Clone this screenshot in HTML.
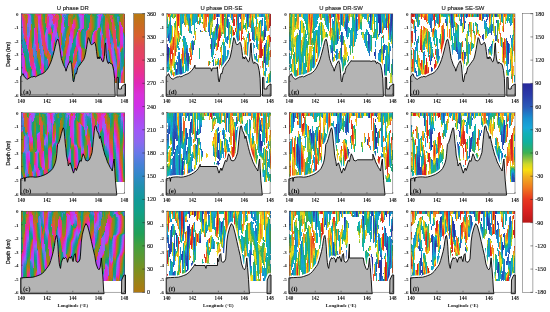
<!DOCTYPE html><html><head><meta charset="utf-8"><style>html,body{margin:0;padding:0;background:#fff;overflow:hidden}svg{display:block;filter:blur(0.4px)}</style></head><body><svg width="550" height="312" viewBox="0 0 550 312"><rect width="550" height="312" fill="#fff"/><g stroke-width="1" fill="none" shape-rendering="crispEdges" transform="translate(.5 0)"><path stroke="#d030e8" d="M21 14v1m0 37v5m1-35v1m0 27v1m0 4v5m0 6v3m1-15v2m0 10v3m0 4v2m1-3v1m1-1v1m2-36v1m0 4v6m1-31v1m0 23v1m1-6v1m4 35v1m1-44v3m0 33v1m0 7v3m1-32v1m3-29v3m0 2v2m1-7v1m0 1v1m0 6v1m1 5v1m1 29v1m0 11v1m1-10v1m1-1v1m2-25v1m1 0v3m2-30v1m1 10v1m1 0v1m1 14v1m1-7v13m1-11v3m1-25v1m0 9v1m0 12v1m1-10v3m1-1v1m4 20v2m1-25v3m0 20v8m1-39v1m4 33v1m1-5v2m1-7v1m0 14v1m2-28v2m1-1v2m1-12v1m5 7v1m2 13v1m1-18v1m0 16v1m2-30v1m0 9v1m1-13v1m0 2v4m10 11v1m0 8v2m2-15v1m2-2v1m2-15v2m0 9v1m1-11v4m0 12v1m1-19v1m0 45v1m1-4v1m7-22v1m2 12v1m1 8v1m1 6v1m1 8v1m1-2v1m1-34v1m0 30v2m1-25v1m2 8v1m2-23v5m0 33v1m1-46v2m0 2v10m0 29v1"/><path stroke="#ab4df3" d="M21 15v1m0 43v1m1-36v1m0 45v1m2 3v1m1-2v1m1-1v1m2-55v1m0 19v1m1-25v1m0 1v1m0 17v1m0 23v1m3 11v1m1 3v1m1-41v2m1 30v1m3-45v1m1 3v1m1 4v1m1 27v1m4-24v2m1-6v5m3-22v1m1-2v2m0 1v1m1-4v2m0 1v1m0 23v1m1-27v1m0 4v1m0 27v1m1-26v1m0 8v1m1-6v7m1-1v1m1-3v1m6-19v1m0 11v2m1-11v1m0 3v4m3 32v2m1-4v3m1-9v11m1-19v1m1-4v3m1-1v2m5 2v1m3-31v1m0 33v1m1-34v1m0 32v2m0 5v2m1-42v1m0 3v2m0 6v2m4 16v1m0 2v1m13-34v1m0 10v1m3 10v1m0 20v1m1 2v1m5-18v1m2-10v1m3 19v1m1 8v1m1 6v2m1-3v2m1-3v1m2-22v1m1 5v1m2 17v1"/><path stroke="#9363f3" d="M21 16v2m0 42v1m1-35v1m0 21v1m3 25v1m1 1v4m1-56v1m1-4v1m0 15v1m1-15v4m0 5v2m0 26v1m1-45v2m0 10v1m2 43v1m1 4v1m1-39v3m0 21v1m5-36v1m1 4v1m1 25v1m1 1v1m3-27v1m1-6v1m2-16v1m1 1v2m1 0v5m0 1v1m1-4v1m0 21v1m1-23v1m1 8v1m2 3v1m1-2v1m6-19v1m0 17v1m0 17v1m0 2v1m1-27v1m1-3v1m1 11v1m0 22v2m0 4v2m1-7v5m3-31v1m0 9v9m1-12v3m1-3v1m3 23v1m2-32v5m0 20v1m1 6v1m2-41v1m0 20v3m1-37v1m0 2v2m0 37v1m5-20v3m7-6v1m1-5v1m5-17v1m0 1v1m1-5v1m2 19v2m0 13v1m0 6v1m6-12v1m2-14v2m3 17v2m1 5v4m1 4v3m1-40v1m0 37v2m1-2v1m1-21v1m2 1v2m1 30v1m2-12v1m2-17v1"/><path stroke="#6878e8" d="M21 18v2m0 42v1m1-34v2m3 45v1m2-52v2m0 8v1m1-12v3m0 6v2m2-20v1m2 58v1m2-30v2m1-1v1m0 19v1m3-40v1m1 2v1m1 4v3m1 5v10m0 4v1m1-11v1m0 7v4m1-6v9m2-29v1m2-2v13m4-21v1m0 21v2m1 3v1m4-16v2m1-2v5m5-6v1m1-5v1m1-16v1m0 2v1m0 8v1m1 31v1m5-13v1m1-3v1m4 19v1m1-31v1m0 26v2m0 9v1m1-8v1m1-39v1m0 20v1m1 5v3m5-45v1m1 22v1m6 7v1m1-11v1m5-9v2m1-15v1m3 14v2m0 24v1m4-13v1m1-5v2m0 10v7m1-10v5m0 4v6m1-1v3m1-35v1m2 16v1m1-3v4m1-5v1m1 11v5m1 1v2m1 2v1m8-14v1"/><path stroke="#537ddd" d="M21 20v1m0 42v1m1-33v2m1 2v3m2 39v1m2-51v8m1-8v6m0 19v1m1 8v1m3-14v1m0 26v2m1-31v8m1-7v10m0 5v1m1-16v2m3-21v3m1 0v3m1 4v11m0 4v1m1-1v4m1-11v1m1 5v1m3-24v1m2 20v1m1 1v1m1 0v1m1-6v3m1-27v1m1 3v2m2 7v1m1 0v3m1-6v1m4 12v1m2-17v1m1-19v1m1 23v1m4-3v1m1 12v1m3 3v1m0 27v1m2-15v1m1-3v2m0 6v1m1-8v1m1-16v4m1-38v1m0 10v1m0 30v1m1 0v1m5-25v1m6 6v2m6-26v8m3-13v1m0 6v1m0 13v1m1-8v1m0 21v1m0 3v1m4-13v1m1-5v1m1 14v4m1 2v3m3-18v3m1-5v3m1-2v1m1 10v2m1 3v3m1 3v1m1-49v1m2 29v1m1 4v1m0 26v1m1-10v1m1-2v1m1-34v8m1 7v2"/><path stroke="#4083d3" d="M21 21v8m0 35v1m1-32v3m1 2v3m1 35v1m1 1v1m5-13v1m1-44v1m1 53v1m1-34v2m0 8v1m1 2v5m1-13v10m0 5v2m1-12v2m2-25v3m1 0v14m1 1v4m0 17v1m3-20v1m2-20v1m2 27v1m4-36v1m0 25v2m1-28v1m1-1v3m2 10v1m1 2v2m1-9v1m1 3v1m4-3v1m0 13v1m1-36v1m0 17v1m1-16v1m0 10v2m1-16v1m6 31v1m3 21v1m1-2v2m0 1v4m1-8v6m1-9v2m1-11v5m1-42v2m0 40v1m6-26v1m12-18v1m3 3v1m0 13v1m1-21v1m0 34v3m1-40v3m0 16v1m3 7v1m3 12v5m1 3v2m2-24v4m1-3v1m2 10v2m1-26v1m0 29v1m1 5v1m1-47v2m0 26v1m1-30v1m0 1v1m1 26v1m0 35v1m1-27v7m0 15v1m3-44v1m0 8v4m1-3v6"/><path stroke="#3088c8" d="M21 29v3m0 33v1m1-30v3m0 34v1m1-33v3m6 18v1m1-49v1m1 7v1m2 20v1m2 15v5m1-12v2m0 2v4m2-26v6m2 31v1m6-44v1m0 32v6m1-6v1m3-11v2m1-27v1m0 26v1m1-28v1m0 25v1m3-14v2m2-8v1m4 11v1m0 1v1m1 8v1m1-41v1m0 17v1m1-4v2m0 8v2m1-3v1m1-26v2m4 33v1m4 19v1m0 6v2m1-9v1m1-36v1m1 26v2m1-50v2m0 44v2m1-42v3m0 38v1m1-1v1m5-28v1m1-5v1m5 11v1m6-27v1m3 6v1m0 13v1m0 19v1m1-41v1m0 9v1m1-11v1m3 22v1m3 12v1m1 7v1m1-26v6m1-4v2m1 0v1m2 10v1m1-26v2m0 29v1m1 5v1m1-44v1m1-3v1m0 1v4m0 22v1m1-2v1m1 7v3m0 7v4m0 10v1m1-9v1m1-2v1m1-35v1m0 13v2m1-12v7"/><path stroke="#258db8" d="M21 32v3m0 31v1m1-28v3m1 2v3m1-6v8m1-5v4m3 5v1m3-37v3m0 1v1m0 50v5m2-35v1m0 12v1m3 4v5m2-25v1m2 31v1m4-15v5m1-2v4m1-5v1m0 6v4m1-9v2m1-24v10m1 0v2m1-5v4m1 3v1m1-28v1m0 25v1m1-3v1m2-11v2m6 3v1m1-10v1m0 11v1m1-15v3m1-23v1m0 1v1m0 2v2m0 11v8m0 2v1m1-28v2m0 19v1m0 21v1m1-46v1m5 33v1m2 31v1m1-10v6m1-38v5m2 15v3m1 0v1m1-40v1m4 7v1m1 0v13m1-12v1m1-20v1m5 26v1m1-8v1m4-6v1m1-16v1m0 2v1m3 20v4m0 1v5m0 8v1m1-39v1m0 7v1m1 5v1m6 19v1m1-24v1m1 4v2m1 1v1m1 1v1m3 16v1m1-19v1m0 23v1m1-47v1m0 4v1m1 2v1m1 56v1m1-15v2m0 7v1m1-10v2m1-2v1m1-18v1m1-14v1"/><path stroke="#1b93a8" d="M21 35v9m0 23v2m1-27v3m1 2v3m1-1v2m0 26v1m1-35v1m0 4v3m1-5v5m1-2v1m2 13v1m2-49v2m0 3v1m0 50v1m0 5v1m1-31v1m1-7v1m3 23v3m1-8v1m1-20v1m2 31v3m4-19v1m0 5v2m1-34v1m0 28v1m0 4v2m1-8v1m1 4v6m1-33v3m1 4v6m1-6v3m1-20v1m1 0v2m0 24v1m1-3v3m2-12v4m7-9v2m1-2v5m1 1v1m1-27v3m0 15v1m1-20v2m1-4v1m2 19v1m1 15v1m1-3v1m4-12v1m0 5v1m2 11v3m1-43v1m0 46v1m1-40v4m0 34v1m4-33v1m0 1v5m1-7v2m0 13v2m1-16v2m2-4v1m9-3v2m4 13v1m0 5v8m1-37v2m0 1v1m0 2v1m1-8v1m0 2v3m0 7v1m1-17v1m5 35v1m1 8v1m1-28v1m0 8v1m1-7v1m3 13v1m4-35v1m1 27v1m0 35v1m1-12v2m0 3v2m1-14v5m1-3v3m1-34v1m0 17v2"/><path stroke="#a058f8" d="M21 44v1m1-20v1m0 45v1m4 2v2m1-40v1m1-17v1m0 17v1m1-21v5m0 11v1m4 41v1m1-40v2m4-15v1m1 23v1m1 5v1m1-15v1m1 21v1m1 0v1m2-28v1m1-6v2m1 14v1m0 11v1m2-46v1m0 9v1m2-6v3m0 21v1m1-26v1m0 31v1m1-19v1m3 0v1m5 16v1m1-23v6m0 19v2m1-30v4m3 30v4m1-5v9m2-29v3m0 1v5m1-6v3m1-2v2m2 10v1m2 10v1m1-24v2m1-12v1m1 15v1m1-34v1m0 33v1m1-22v1m0 28v1m1-42v3m0 2v6m4 15v3m3-17v1m4 8v8m6-26v7m2 7v1m1 2v1m0 20v1m8-24v1m2 13v1m1 4v2m1 7v2m1 5v2m1-2v1m1-31v1m0 28v1m3-18v3m1 28v1m2-56v1m2 27v1"/><path stroke="#db2dcd" d="M21 45v1m0 4v1m1-31v1m2 39v11m1 0v1m3-58v2m0 27v1m2 21v1m3 2v2m1-2v2m5-50v4m1-9v4m0 10v2m1 7v1m0 24v1m0 6v1m1-4v4m1-6v1m2-25v1m1 3v1m1-18v1m1-6v4m0 3v2m0 34v1m1-39v3m4-17v1m0 27v1m2-20v3m1 3v2m2 10v1m2 8v1m1-26v2m1-10v1m6 27v1m0 18v1m2-33v1m1-2v2m1-6v1m0 4v3m0 7v1m1-19v5m1-1v1m0 38v1m3-33v5m0 7v1m1-4v2m1 0v1m2-33v1m26 27v1m2-6v1m2 13v3m3 22v1m1-2v1m1-35v1m0 32v1m2-23v1m1 5v1m1-37v4m0 7v11m1-16v3m0 13v1m0 29v1m1-31v1m2 12v1"/><path stroke="#e028b8" d="M21 46v1m0 2v1m1-31v1m1 11v2m1 26v1m2-18v2m1-30v1m0 59v6m1-36v1m1 12v1m3 10v2m1-5v3m2-33v9m0 25v1m0 5v3m3-63v1m1-1v1m1 3v1m0 5v4m1 8v1m0 26v1m0 4v1m1 1v4m1-9v1m3-21v1m1-30v1m0 5v5m0 21v1m1-34v1m0 5v1m0 9v1m0 32v1m1-35v1m1-5v1m1 12v1m1-8v1m1 9v2m1-5v1m1-19v1m1 3v3m4 18v1m1-24v1m0 7v1m5 20v1m1-5v1m1-25v1m0 37v1m2-33v1m1-2v1m1-3v4m1-10v2m0 5v1m0 27v1m1-32v2m2 18v1m1 1v1m1-7v2m5-30v1m0 13v1m11 3v1m8 22v1m5-16v2m1-13v2m1 7v3m2 13v2m1 4v1m1 5v1m1 10v1m1-2v1m1-2v1m2-23v3m1 3v1m1-34v7m0 11v2m1-1v1m1-1v1m0 26v1"/><path stroke="#e52d9d" d="M21 47v2m1-32v2m1 8v4m2 39v1m1-31v2m0 29v1m1 1v1m1-24v1m1-14v1m0 18v1m1 6v2m2 1v2m1-5v2m2-35v5m0 35v5m1-42v15m4-34v1m0 5v5m1 9v3m0 28v4m2-2v1m2-26v1m1 4v1m1-32v1m0 1v2m0 1v2m1-5v4m0 42v1m2-37v4m2-12v1m1 24v1m1-23v1m1-10v1m0 4v3m1 1v3m3 16v5m1-2v2m1-24v1m6 24v1m1-5v1m2-15v1m1-2v1m2 0v1m1-7v2m2 21v1m0 13v1m2-22v2m1 3v1m1-15v1m1 17v3m5-4v1m8-16v3m1-5v1m4-5v1m1 3v1m1 8v1m6-5v4m1-15v4m0 2v16m1-6v4m2-25v2m0 34v1m3 21v1m1-2v1m1-36v1m0 33v1m1-28v1m1 6v3m2-13v1m1-1v1m0 28v1"/><path stroke="#d530dd" d="M21 51v1m1-31v1m1 31v1m0 15v4m1-2v1m3-49v1m0 14v4m1-26v1m0 25v1m1 15v1m3 11v1m1-1v2m1-6v2m0 2v3m1-5v1m3-50v2m1-2v1m0 4v1m2 37v1m0 8v2m1-8v2m4-40v1m0 16v1m2-18v3m0 37v1m1-42v2m1 26v1m1-41v1m1 0v1m0 18v1m1 5v2m1-28v1m0 9v1m0 14v1m1-14v3m3 10v2m2 10v1m1-25v2m1-11v3m4 33v1m1-5v1m1 11v1m2-30v1m1-1v2m1-11v1m0 1v1m0 8v7m1 14v1m2 7v1m1-20v1m1-12v1m0 5v7m1-1v1m2-33v1m1 14v1m1-15v1m1-1v1m0 1v2m0 4v5m10 7v8m1-12v1m6-17v1m1 23v1m0 8v1m1 7v1m5-14v1m4 6v1m1 8v1m2 15v1m1-2v1m1-2v1m2-24v2m3-26v2m0 3v4m0 5v4m1-14v2m0 10v2"/><path stroke="#bb40ed" d="M21 57v2m1-36v1m0 25v1m0 1v4m0 5v6m0 3v1m1-37v1m0 22v10m0 9v1m1-3v1m2-2v1m1-25v1m1-31v1m0 21v1m0 10v1m1-36v1m1 12v1m3 43v2m1-47v1m0 3v3m0 29v1m0 11v2m5-61v1m0 8v1m1 42v1m1-31v1m0 34v1m1-12v1m3-25v1m1-2v3m1-12v1m0 18v1m2-34v1m1-2v1m0 2v1m1-1v1m1-1v1m0 30v1m1-15v3m1-11v2m0 7v3m1-6v2m6 17v1m1-30v4m1-8v3m3 35v1m1-4v2m1-8v2m0 11v1m2-25v2m1-1v3m2 15v1m5-9v1m2-19v1m0 20v5m2-39v2m0 1v9m3 18v2m8-15v1m5-7v1m1-11v9m2-11v1m0 22v1m0 20v1m1-26v1m0 23v3m10-5v2m2 15v1m1-2v1m1-3v1m2-22v1m1 5v2m2-32v1m3 30v1"/><path stroke="#806ded" d="M21 61v1m1-35v2m0 43v1m1-39v1m1 40v1m1-1v1m3-54v2m0 11v2m1-23v1m0 12v5m1-14v10m2 45v1m2-32v3m1 0v1m3-21v2m1 2v1m1 4v1m1 6v2m0 15v1m1-11v7m0 4v2m1 1v1m2-29v1m2-5v2m0 13v2m2-28v5m1 0v1m1-2v1m0 21v1m1-23v1m1 6v1m2 5v1m1-2v1m5 13v1m1-35v1m0 35v1m1-38v1m0 15v1m2-17v1m0 46v1m0 2v4m1 0v3m1-4v1m3-21v1m1-3v1m2 36v1m4-15v1m1-20v1m1-34v1m0 36v3m1-39v2m0 2v7m0 31v1m5-22v1m11-9v1m1-16v1m1 1v1m2 2v1m0 13v1m1-4v3m5 7v10m1-5v2m2-17v1m3 17v2m1-6v13m1 3v5m1-2v3m3-20v1m1 0v1m1 31v1m1-10v1"/><path stroke="#109a98" d="M21 69v1m1-25v3m1 2v1m1-11v1m0 10v2m1-2v3m1-9v1m0 5v5m1-6v5m1-1v2m1 8v1m2 5v1m5-3v1m1-10v1m0 1v6m7-11v1m1 2v1m0 7v2m3-33v1m1 5v2m1-2v2m1 11v1m1-26v1m0 24v1m10-16v3m0 4v2m1-6v2m2-24v4m0 7v4m1-17v3m1-8v1m0 2v1m3 34v1m1-3v1m1-6v5m1 2v1m1-12v4m1 0v1m2 8v2m1-39v1m0 46v1m2-3v1m2-33v4m1-5v1m0 7v6m4-29v1m0 1v1m1-1v1m0 10v1m3 12v1m3-11v1m2-13v9m3 16v8m1-27v1m1-4v1m0 1v2m1-6v2m0 3v7m3 8v1m4 19v1m6-5v1m1 5v1m1-48v1m0 30v1m1 36v1m1-40v1m1 27v3m1-16v4m1-1v3m1-11v2m1-19v1"/><path stroke="#13a080" d="M21 70v1m3-17v1m1 1v1m1 2v4m1-1v6m1-10v5m1 3v1m2-53v1m1 2v1m0 1v1m0 25v1m4 5v1m1 17v1m1-4v4m1-1v7m4-26v1m1 4v1m1-26v1m0 40v1m3-37v1m1 2v2m1 0v1m2-10v1m2 18v1m9-4v2m1-27v1m0 42v3m2-43v2m1-7v2m3 32v1m1-2v3m1 0v6m1-21v4m0 34v1m1-41v1m0 7v1m2-14v1m1-21v1m0 16v1m1-13v1m2 44v1m2-27v4m1 3v1m2-32v2m1 0v1m1 1v1m0 9v1m1-14v1m0 3v5m1-8v5m2 18v1m4-12v1m1-13v1m2 25v6m1-13v2m0 16v2m10 3v1m2-24v1m4-21v1m1 0v1m0 18v2m0 23v1m1-46v1m0 6v1m1 22v1m0 30v2m1-60v2m0 58v1m2-25v1m1-3v5m1 1v6"/><path stroke="#18a070" d="M21 71v1m4-15v1m1 5v3m1 2v2m1-7v5m1-1v1m1-1v1m2-53v2m0 3v3m0 20v2m1-6v1m4 30v2m1-30v1m0 21v2m0 4v3m1-5v1m5-3v1m1 5v1m4-36v1m1 0v2m1 16v1m3-8v1m3-18v1m6 16v1m1 13v2m1-8v1m1-31v2m1-7v3m1-11v1m2 40v2m1-1v3m2-19v1m1-26v1m0 22v1m1-3v1m2-22v1m0 36v1m1-33v1m0 44v1m1-2v1m3-23v3m1 1v1m1-32v2m2 0v1m0 11v1m1-11v1m0 1v7m2-13v1m0 5v1m2 16v1m1-6v1m3-16v2m0 2v6m3 9v5m0 6v1m1-16v2m0 20v1m1-31v1m3-9v1m1-2v2m1-4v1m8 54v2m1-57v1m0 34v1m1-33v1m0 36v1m1-23v3m1 9v1m1-20v1m0 48v2m1-60v1m0 25v1m0 34v1m2-25v1m1-4v2m1 12v1"/><path stroke="#1da060" d="M21 72v1m1 1v1m3-17v1m1 7v2m1 2v1m1-3v1m1-1v1m2 0v1m1-56v1m0 8v1m0 17v2m1-5v1m1-12v1m3 44v1m1 0v4m1-10v1m4-54v1m1-1v4m0 49v1m1-40v2m0 27v1m4-22v1m1 0v1m4 10v1m10-3v1m0 14v2m2-34v1m1-5v2m3 30v3m1-1v3m1 0v1m2-47v1m0 31v1m3-33v1m1 4v2m1 42v1m2-35v9m1-11v1m0 15v1m1 1v1m1-31v2m0 9v1m1-13v1m0 12v1m1-11v4m1-3v1m4 16v1m2-24v1m0 16v1m1-3v1m1-13v1m0 2v2m3 11v4m0 12v1m1-18v1m0 23v2m4-40v4m1-4v3m1 17v1m4 18v1m1-27v1m6-15v1m0 9v5m0 27v1m1-37v3m0 16v2m1-29v1m0 28v1m0 27v2m1-54v1m0 54v2m2-25v1m2 12v1"/><path stroke="#2ba050" d="M21 73v1m3-35v1m0 15v1m1 3v1m1 8v1m1 2v1m1-3v2m1-2v1m1-2v8m2-52v3m0 10v4m1-26v1m0 1v8m0 10v3m0 18v1m3 13v1m1-13v1m0 14v1m1-11v1m1 2v1m4-52v1m1 2v4m0 8v3m1-9v4m4 7v1m1 0v1m1 20v1m3-11v1m5-34v1m4 35v1m1-28v1m0 35v2m1-5v1m1-27v1m1-4v1m3 32v2m1 0v2m1-21v1m1 34v1m2-33v1m1-14v1m1-17v2m0 11v1m1-8v2m1 41v1m2-27v3m1 3v1m2-28v7m0 1v1m1-11v3m1-2v1m0 4v6m4-15v1m1 21v1m1-23v1m1 0v1m1-1v1m0 12v1m1-14v2m3 15v1m0 17v1m1-20v1m0 26v1m1-33v1m3-5v4m1-5v2m5 33v1m2-23v1m2 33v1m1-54v2m1 1v2m0 1v1m1-4v9m1-1v8m0 3v5m1-16v1m0 44v1m1 1v2m2-24v1m1-3v1"/><path stroke="#40a040" d="M21 74v1m4-15v1m4 9v1m1 5v1m2-50v10m1-23v1m0 1v1m0 8v10m1-10v2m3 47v2m6-60v1m0 3v1m1 1v8m0 3v1m0 34v1m2-12v1m2-24v1m2 0v1m1 22v1m3-13v1m4-11v1m1-21v1m3 40v1m2 0v1m2-28v1m1-4v1m2 27v7m2 1v1m2-49v2m0 21v1m1-3v1m1-3v1m1-22v1m0 17v1m1-14v1m1 5v4m0 37v1m3-24v4m1 0v1m2-22v1m0 21v1m1-29v6m0 1v2m3-15v1m3 20v1m1-4v1m2-19v1m0 1v12m1-14v1m3 16v1m1-2v1m4-17v1m0 11v4m0 4v2m1-13v2m0 15v4m1-7v1m3 12v1m1 4v1m1-42v1m2-1v1m2 2v1m1 2v1m0 1v3m0 28v1m2-20v3m1-10v4m0 11v2m0 26v1m1 1v1m5-38v1"/><path stroke="#69952b" d="M21 75v1m2-24v1m2 9v1m3 9v1m1-1v1m1 5v1m4-65v1m0 8v1m4 37v1m1 2v1m3-50v1m1 9v3m1 6v1m0 36v3m1-51v1m0 32v1m4-23v1m2 26v1m7-41v1m0 13v1m1-15v1m1-3v3m4 3v1m2 7v1m1-5v1m1-4v1m4-10v3m1 56v1m1-63v1m0 21v1m0 12v1m1-36v1m0 18v1m1-19v2m0 12v2m1-10v2m0 5v1m0 22v1m1 15v1m3-5v1m1-16v1m1 0v1m1-1v1m1 0v3m4-39v1m1 22v6m1-11v2m1-18v1m0 14v1m1-15v3m0 9v1m4 1v2m0 12v2m1-18v1m1-2v1m1-2v1m4-2v4m0 5v3m0 6v1m1-9v1m4 17v1m1 7v3m1-32v1m1-16v1m1-5v1m1 6v1m0 26v1m1 3v1m1 4v1m1 15v3m1-39v2m0 30v1m1-29v1m0 27v2m1-56v1m3 16v1m0 33v1m1 14v2"/><path stroke="#8f881b" d="M21 76v1m3-21v1m1-16v1m0 22v1m3 8v1m1 1v1m2-45v4m0 6v1m3-21v1m4 21v1m0 13v3m1-2v4m3-40v2m4-8v1m4 17v1m7-6v1m1-5v9m1-8v4m1-4v3m1-13v1m0 18v8m1 16v1m1-6v12m1-17v1m0 4v2m2-22v1m1-4v1m1-17v1m0 11v1m3-11v2m1-3v1m0 5v1m1 50v2m1-46v1m0 4v1m1-20v1m0 12v1m1-11v2m0 7v1m0 29v1m4-25v1m0 7v2m2 6v1m1 0v2m1 0v4m6-24v2m1-18v1m1 0v3m5 10v1m0 18v1m1-22v1m0 24v3m6-42v1m1 19v1m1-21v1m2-1v1m1 3v4m0 1v1m1-1v6m0 14v1m0 15v1m1-36v2m0 4v2m0 31v1m1-28v1m2-15v1m1 28v1m1 3v2m1 13v2m1-4v1m1-2v1m1-54v1m0 2v1m0 2v2m1-6v1m0 32v1m1-33v1m2 16v1m0 42v2"/><path stroke="#e34460" d="M22 14v1m1 2v3m1 0v9m0 7v1m1-7v5m0 2v3m1-5v1m2 11v2m0 29v1m1-41v1m0 14v1m1-24v1m0 26v3m1-2v3m1-5v3m4-44v1m0 12v1m1-14v2m0 18v1m0 13v2m2-37v1m2 7v3m1 4v6m1 0v12m0 24v1m2-50v1m0 22v5m1 3v1m1-39v1m0 42v1m1 1v1m5-46v1m0 4v3m0 24v1m3-30v1m1-4v1m0 1v2m1-1v1m1 17v1m1-4v1m1-20v1m5 36v1m1-6v1m1-25v1m0 20v1m3-17v1m2 6v1m0 25v1m1-41v1m0 31v3m0 10v1m1-42v3m0 21v1m0 5v1m4-25v1m0 10v2m7-8v7m3-17v1m0 2v1m6 5v3m1-6v1m5 10v1m0 3v1m1-12v1m0 10v5m1-11v15m3-29v3m0 8v1m1-14v2m2 23v1m1-33v1m0 26v1m0 7v1m1 5v1m1-40v1m0 6v2m0 34v1m1-35v6m0 2v7m1-10v13m1-14v13m0 34v1m1-35v1m1 8v8m1 2v1m1-41v1m0 1v2m1 21v1m1 28v3m1-6v1m2-57v3m0 1v1"/><path stroke="#dd504b" d="M22 15v1m1-2v1m1 4v1m0 17v1m0 19v1m1-31v3m0 38v1m1-35v1m1-17v1m0 2v2m0 49v1m1 4v1m1-39v1m0 10v3m1 0v4m1-3v4m1-8v6m1 2v1m2-33v1m1 0v1m1 6v1m0 16v1m3 4v1m0 11v1m1-48v1m1 5v2m1 2v4m0 12v1m0 24v2m1-37v13m1-29v1m0 28v3m1 1v1m1-5v1m1 0v1m0 6v2m2-27v1m1-4v4m2 14v2m1-34v1m2-1v2m1-2v1m1-1v2m1 17v1m1-4v1m0 15v1m6-1v3m1-7v2m1-26v2m2 6v1m2 46v1m1-41v2m0 24v3m1-13v1m0 3v2m0 7v1m1-44v3m1 29v1m3-15v2m1 5v1m2 14v1m5-32v1m2-7v1m0 4v1m1-7v6m5 8v4m6 2v3m1-10v2m0 2v6m1-7v1m0 15v8m1-14v6m2-33v4m1-4v2m1-1v1m0 25v1m1 0v1m1-35v1m0 1v1m0 34v1m1-39v2m0 1v1m1-3v1m0 11v2m1-6v4m1 1v4m0 13v1m1-2v2m0 33v1m1-35v1m0 32v1m1-18v3m1 0v1m1-43v1m0 4v1m0 32v1m2 19v2m1-7v7m2-59v2m0 33v1"/><path stroke="#e83c70" d="M22 16v1m1 3v1m1 8v7m1-1v2m0 32v1m1-34v2m2 8v1m0 2v1m0 29v1m1-26v2m1 4v2m1-1v3m0 3v1m1-9v3m1-3v2m2-34v1m1-14v1m0 14v1m0 20v1m1-15v2m0 8v3m4-24v4m1 6v10m1 24v2m2-28v2m1-19v1m0 23v3m1-39v1m1 18v1m0 27v2m2-31v1m1 6v1m2-24v1m0 1v2m0 3v1m0 22v1m1-30v1m0 2v2m1-4v1m1-4v1m1 3v2m0 4v2m2 10v2m1-5v5m7 8v1m1-25v1m2 5v1m3-10v1m0 11v2m0 25v1m1-39v1m0 44v1m1-18v1m0 3v1m0 9v1m1-13v2m2-23v6m1 7v1m2 10v8m5-30v3m0 7v5m2-18v1m1-4v2m6 5v1m6 7v1m1 9v3m4-25v8m1-11v2m1 20v1m1-1v1m1-4v1m0 3v3m1-35v1m0 1v1m1 3v3m1 8v2m2-5v1m1 12v1m0 33v1m1-28v3m1 9v1m1-39v1m1 22v1m1-2v1m0 29v1m1-4v1m2-53v1"/><path stroke="#d86030" d="M23 15v2m1 1v1m1-5v1m0 7v5m0 13v1m0 26v1m1-54v1m0 18v1m1-15v2m1 55v1m1-37v2m0 5v3m1-3v6m1-8v9m0 14v1m4-55v1m0 10v1m1-1v2m0 50v1m1-61v1m0 1v1m0 13v1m0 18v1m1-7v1m1 2v1m2-32v3m1 5v1m1 3v1m0 17v1m1-13v1m0 13v2m1-32v1m0 32v1m1-30v2m0 29v1m2 0v2m1-25v1m0 20v3m1-2v1m1-22v1m0 3v1m2 11v1m1-9v1m1-26v1m2-4v1m1 0v1m0 3v1m1 14v1m1-4v1m1-17v1m0 6v1m5 20v5m1-8v4m1-2v1m2-17v2m1-2v1m1 45v3m1-38v1m0 26v3m1-10v2m0 2v3m1-44v1m0 34v1m0 6v1m1-9v1m3-18v2m3 20v2m5-30v12m1-13v1m2-12v4m0 6v1m5 11v5m1-14v1m4-3v1m2 7v2m1-2v1m1 8v2m0 6v1m1-36v8m1-7v1m1-1v1m3-7v1m0 38v1m1 4v1m1-30v1m1-11v4m1 3v2m1 18v1m1-1v2m0 31v1m1-16v1m2-44v1m0 6v2m1 19v1m3-37v5m0 49v14m1-66v1m0 9v1"/><path stroke="#e83485" d="M23 21v6m1 31v1m2-21v2m0 4v1m2 0v1m2 16v1m1 1v3m1-18v1m0 12v4m1-5v2m2-35v2m1 0v3m0 15v2m1-36v1m0 23v8m1-32v1m2 40v1m1-27v5m2 34v1m3-21v2m1-30v1m1-4v1m0 45v1m1-32v1m0 20v1m3-40v1m0 4v1m1-3v1m1 0v2m0 2v1m0 18v1m2-23v4m1-2v4m2 14v3m1-3v6m0 4v1m6 2v1m2-29v1m3 3v1m2-8v1m0 9v1m0 26v1m1-37v2m1 26v3m1-5v3m1-2v1m1-14v4m1 4v1m2 7v2m1-40v1m4 16v1m0 15v1m8-12v7m1-11v1m6 14v1m1 6v1m5-27v8m1-12v1m0 22v1m1-3v3m1-2v3m1 8v1m1-38v3m0 38v1m3-32v1m0 47v1m1-36v1m0 33v1m1-28v1m1 8v4m1-3v1m1-14v1m1 28v1m1-31v1m0 26v1m2-16v1"/><path stroke="#109e8d" d="M23 51v1m1 1v1m1-12v1m0 11v2m1 0v3m1-4v7m1-6v2m1 7v1m3-48v1m0 27v1m1-7v1m3 28v1m1-3v2m7-4v1m1-8v1m0 10v2m1-13v1m3-19v2m1-1v1m2 14v2m6-21v1m4 5v4m1-2v2m1-2v1m1-21v7m0 26v1m1-37v3m1-9v1m0 1v2m3 33v1m1-3v2m1-9v1m0 5v6m1-11v7m1-12v1m0 4v2m1-10v1m2 15v1m1-36v1m1 44v1m1-1v1m2-30v4m1 5v2m1-16v1m0 17v1m1-18v1m1-16v1m1-1v1m0 1v1m1-1v2m0 5v3m7 2v1m1-16v2m0 1v1m3 19v6m0 8v2m4-37v1m7 15v1m2 5v1m3-25v1m0 1v1m1-3v2m0 21v1m2-24v1m0 63v4m1-65v1m0 61v1m2-25v3m1-1v4m1-6v3"/><path stroke="#b07810" d="M24 14v1m0 23v1m1-23v2m1 1v6m2 49v1m1 2v1m5-60v2m1-4v2m1 55v1m1-46v2m0 1v1m0 23v1m1-4v2m1-3v4m1 4v2m0 3v2m3-37v1m0 19v1m1 3v1m1-39v2m0 38v1m1-42v1m0 41v1m1-4v2m3 3v6m9-32v1m1-4v1m1-11v1m1 41v2m3-21v5m0 4v2m1-16v1m1-5v2m1-18v1m0 12v3m1-19v2m0 2v1m0 14v1m1-15v3m1 0v2m1 39v1m1-26v1m0 31v1m1-21v1m1-34v1m0 40v2m1-38v5m0 28v1m4-24v1m0 12v1m1 16v1m1-12v1m1 3v3m6-27v2m2-19v1m1 8v5m4 11v5m0 3v3m1 2v2m8-23v1m1-15v1m1-4v1m0 1v2m1-1v5m1-8v1m0 1v1m0 35v1m1 4v1m1-36v1m0 38v1m1-45v1m0 16v1m2-11v1m1 25v1m0 31v1m1-30v1m0 28v1m1-15v1m1-2v1m1-4v2m2-47v5m1-5v7m1 3v2m1 1v2m0 28v10"/><path stroke="#c3711b" d="M24 15v1m1 2v1m0 47v1m1-42v6m3 47v1m1-47v10m1 1v1m2 13v1m2-43v1m0 2v5m1-7v2m0 1v2m0 53v1m1-54v1m0 2v4m0 4v1m0 21v1m1-11v1m0 5v2m1-2v1m1 7v1m0 7v1m1-51v1m1 8v1m2 9v1m1-19v2m1-4v1m0 2v3m1 31v1m0 2v2m3-1v2m1-22v1m5-23v1m4 15v1m1-11v2m0 11v1m4 13v4m1-13v2m1-5v2m1-19v1m0 14v4m1-21v2m0 1v4m0 9v1m1-16v1m0 4v2m1-10v1m0 9v1m1 39v3m1 2v1m2-52v1m0 8v1m0 29v1m0 2v2m4-30v1m3 19v4m1 2v2m5-28v7m2-24v2m0 1v1m0 11v1m1-14v1m0 1v3m0 7v1m5 4v5m0 11v1m1 3v6m7-14v1m1-31v2m0 12v1m2-13v1m1 3v1m1-8v1m1 40v1m2-42v1m0 17v1m2-9v1m1 23v1m1 1v2m0 28v1m1-15v1m2-30v2m0 23v1m4-38v3m1 0v3m0 29v1"/><path stroke="#cd6825" d="M24 16v2m1 1v3m1 9v2m1-18v3m1 57v1m1-34v5m1-16v1m0 10v5m1-3v1m4-22v2m1-7v1m0 2v4m0 50v2m1-59v1m0 1v1m0 1v2m0 29v1m1-9v1m0 1v3m2 7v1m0 9v1m1-54v2m0 1v1m3 34v1m1-34v1m0 34v1m1-38v1m0 3v3m1 27v1m0 5v1m1-6v4m1 1v9m2-37v1m0 5v1m0 1v1m4-23v2m2 10v1m2 5v1m1-20v1m6 25v3m1-6v3m1-21v1m0 17v5m1-19v9m1-16v1m0 7v2m1-1v1m1-12v1m0 52v5m1-53v1m0 47v2m1-50v1m0 39v2m1-42v1m0 27v1m0 8v1m2-7v1m2-20v1m0 1v4m2 11v1m1 7v3m1 1v1m5-30v1m1-9v1m0 6v1m1-14v1m1 0v1m0 3v7m5 4v1m0 17v2m9-35v2m0 8v2m1-12v3m1-2v2m2 30v1m1 3v1m1 4v1m1-30v2m0 30v1m1-45v1m1 6v1m0 20v1m1 0v1m0 32v1m1-33v2m1 15v1m1-1v1m1-36v7m0 24v1m1-12v1m1-4v1m1-2v1m1-29v7m0 41v1m0 14v1m1-69v2m0 11v2m0 31v1"/><path stroke="#7c9020" d="M25 15v1m0 47v1m1-49v1m3 57v2m2-51v1m0 10v6m3-26v1m0 6v1m2 48v1m1-15v1m1 2v1m1 1v2m3-50v1m0 1v1m0 2v3m1 6v1m2-15v1m9 29v1m3-15v1m1-9v3m0 9v1m1-13v4m1-11v1m0 6v4m2 32v1m1-7v2m1-28v1m0 21v1m0 7v1m1-3v1m2-25v1m2 3v1m3-15v2m1 53v1m1-59v1m0 17v1m1-7v4m1-16v1m0 10v1m0 29v2m1-37v5m3 6v7m1-11v1m3 19v2m1 1v2m5-21v3m1-6v1m1-2v1m1-11v9m4 18v2m1 3v1m2-25v1m4 1v5m1 0v1m3-21v1m1 6v1m0 1v4m0 25v1m1-35v4m0 6v1m0 30v2m1-39v1m0 8v1m0 31v1m1 0v1m1-49v1m0 49v1m4 4v1m2-58v1m0 5v1m0 46v1m1-53v1m1-3v2m1-2v1m2 64v2"/><path stroke="#559b35" d="M25 61v1m1 7v1m2 1v1m1-1v1m1 5v1m4-54v1m3 51v1m1-15v1m1 2v1m4-49v3m0 1v4m1 29v1m0 14v2m7-43v1m0 30v2m3-16v1m3-15v1m1-18v1m0 5v1m1-6v1m0 1v4m1-5v3m3 32v1m1-28v1m0 22v1m0 9v1m1-3v1m1-24v1m7-19v2m0 2v1m0 58v1m2-44v1m1-4v1m1-12v1m0 8v1m4 17v1m2 0v1m2-23v1m0 22v1m4-28v1m1 20v2m1-11v1m1-20v1m1 0v1m0 13v1m4 2v12m1-15v1m0 20v1m1-23v1m4 0v4m0 2v1m1-12v1m0 12v2m5-12v1m1 1v1m1-17v1m1 22v1m1-23v2m1 1v3m1 4v1m1 32v1m1 17v3m1-48v6m0 2v3m1-28v1m0 56v1m2-22v1m1-3v1"/><path stroke="#a08015" d="M25 65v1m1-50v3m0 51v1m3 5v1m2-52v6m0 11v1m3-27v2m0 2v1m2 51v1m1-43v1m0 25v1m1-3v3m1-2v3m1 3v3m2-47v2m0 5v1m0 20v1m10-14v1m2 10v1m3-16v1m2 1v2m2-15v2m0 15v1m0 8v2m1 15v1m2-11v4m1-13v1m0 11v1m1-19v2m1-5v1m1-17v1m0 11v2m2-16v2m0 2v1m1-4v2m0 2v3m1-7v1m0 7v1m1 47v2m1-55v1m0 11v4m1-18v1m1 3v2m0 34v1m0 3v1m4-18v2m2 5v1m1 1v3m1 1v3m5-26v8m1-10v1m1-17v1m0 14v1m1-11v3m0 5v2m4 14v3m1 3v2m1 4v3m2-30v1m3 7v1m1-23v1m0 29v1m1-31v1m0 16v2m1-19v2m1-2v1m1 0v1m1 0v1m1 40v1m1-33v4m0 32v1m1-28v1m0 28v1m1-47v1m1 4v1m2 30v1m1 14v1m2-30v1m0 25v1m1-49v2m1-3v2m0 5v1m1-10v2m0 1v1m0 7v1m1 4v1m1-15v2m0 53v5"/></g><path d="M115.2 96 L114.6 78.3 L113.7 70.6 L112.7 66 L112.2 64.2 L111 63.6 L109.9 63.1 L109 61.9 L108.4 63.6 L107.6 62.5 L106.7 59 L106.1 53.3 L105.6 42.9 L105 45.2 L104.4 56.7 L103.5 61.3 L102.9 61.9 L101.8 60.2 L100.6 57.3 L99.8 56.7 L99.1 59 L98.3 57 L97.5 58.6 L97 55.5 L96.5 51.4 L96 47.3 L95.3 43.7 L94.5 42.2 L93.4 43.7 L92.4 44.3 L91.4 44.8 L90.6 43.7 L89.8 41.2 L89.1 38.6 L88.3 37.6 L87.8 40.2 L87.1 44.3 L86.3 49.4 L85.4 54 L84.7 57.1 L83.7 59.6 L82.2 61.7 L80.7 63.7 L79.8 65.1 L78.8 66.6 L77.8 67.5 L77.2 70.4 L76.4 73.8 L75.6 73.3 L75 75.2 L74.3 79 L73.7 81.9 L73 80.5 L72.4 73.3 L71.6 64.6 L70.6 60.8 L69.7 61.8 L68.7 63.7 L67.8 65.6 L66.8 68.5 L66 71.2 L65.4 68.5 L64.4 66.6 L63.4 64.6 L62 60.5 L61.3 58.4 L60.5 53.2 L59.6 46.8 L58.7 41.7 L57.9 39.1 L57.1 39.8 L56.3 42.3 L55.3 46.5 L54.2 51 L53 55.5 L51.8 59.5 L50.5 63 L48.2 67.9 L46.3 70.5 L44.4 72.4 L42.4 73.7 L40.5 74.4 L39.2 75 L37.9 75.6 L36.7 76.3 L35.4 76.9 L34.1 76.3 L32.8 76.9 L31.5 76.9 L30.3 77.6 L29 78.2 L27.7 79.2 L26.4 78.8 L25.1 77.6 L24.1 76.3 L23.2 73.7 L22.3 74.4 L21.3 76.3 L20.7 76.3 L20.7 96.3 L115.2 96.3 L115.2 96ZM125.5 84 L123.3 85 L121.4 87 L121.4 89 L118.6 89 L118.3 77.4 L117 77.4 L117 96 L125.5 96 L125.5 84Z" fill="#b4b4b4" stroke="#000" stroke-width="0.9" stroke-linejoin="round"/><g stroke-width="1" fill="none" shape-rendering="crispEdges" transform="translate(.5 0)"><path stroke="#806ded" d="M21 113v1m0 10v6m1-16v2m0 63v1m1-61v1m2 18v12m0 22v1m1-28v3m0 2v2m0 15v2m1-18v1m0 19v1m1-36v1m0 14v1m3-33v1m0 12v1m2 42v2m1-63v1m0 52v2m3-17v6m2-26v1m5 29v1m1-25v1m0 5v1m1-7v2m1-24v7m0 18v1m2-14v2m0 36v2m1-43v4m0 32v3m1-7v1m2-41v1m0 4v1m1-10v1m15-1v1m0 39v1m7-9v1m1 3v1m4-9v5m1 3v2m1-3v1m1-34v3m1-4v1m0 17v2m1-3v1m1-17v1m1-1v1m0 38v1m3-33v1m1 12v1m4-9v2m1 2v2m2-1v1m3-6v1m1 0v2m2-4v1m0 17v2m1-3v2m1 2v1m1 0v1m1 13v1m1 4v2m1-3v2m1-1v1m2-29v2m1 1v1m1 10v2m1 2v2m1 5v4m1 12v2m2-63v1m1-3v3m1 32v1m1-24v5m0 21v2"/><path stroke="#6878e8" d="M21 114v2m0 6v2m0 53v3m1-64v1m0 2v1m0 58v1m1-59v1m1 30v1m1-16v2m0 12v3m0 18v1m1-36v9m0 3v2m0 19v4m1-29v7m0 21v1m4-53v1m0 10v1m2 40v3m1-62v1m0 1v3m0 51v2m1-1v1m5 4v3m4-17v1m1-25v1m1 2v2m1 0v1m2-13v1m1-2v2m0 33v4m1-10v2m1-14v1m1-33v2m1 4v1m1 19v1m10-3v1m1-26v1m0 2v1m1-3v1m0 2v1m0 42v1m1-5v1m1-5v1m4 14v1m1-24v1m1-28v1m2 30v1m4-13v5m1 6v2m3-36v1m0 1v1m0 12v4m0 27v1m1-32v3m0 30v1m2-7v1m1-41v1m1-2v2m0 25v1m2-6v1m5-14v3m0 2v3m1-1v5m1-2v1m4-4v1m2-6v1m1 19v1m1 2v1m1 0v2m1 12v1m2 4v2m1-2v2m2-29v1m1 1v2m1 10v2m1 2v2m1 7v2m3-50v1m1-1v1m1 32v1m1 3v2"/><path stroke="#4083d3" d="M21 116v2m1 10v1m0 48v1m1-55v2m1 27v1m1-19v1m0 19v2m0 13v1m2-36v2m0 39v1m1-39v1m0 5v7m3-25v5m2 40v1m1 2v2m3-42v1m3 38v1m4-14v1m1-47v1m0 20v1m1-21v2m0 27v2m1-1v1m2-12v1m0 35v1m1-38v2m0 35v1m1-47v2m0 4v3m0 29v3m3-21v1m2-31v1m0 29v1m10-30v1m0 2v6m1-5v1m1 36v1m1-7v2m3 19v1m2-28v1m1 0v1m2 2v1m1 15v3m4-23v2m1 1v1m2-30v1m0 1v2m1-7v1m0 8v2m1 35v1m1-45v1m1-4v1m0 2v1m1-4v1m1 10v1m1 14v1m6-13v1m1 8v4m3-12v1m3 18v1m1-1v2m1 1v1m1 1v1m1 11v1m5-22v2m1 2v2m1 10v1m1 3v3m1 9v6m3-58v3m1-4v2m1 31v1m1 4v2"/><path stroke="#537ddd" d="M21 118v4m0 53v2m1-60v2m0 1v8m0 1v1m1-9v2m0 29v1m2-18v1m0 17v1m0 16v1m1-36v1m0 37v6m1-47v1m0 3v8m0 29v2m1-25v1m3-30v4m0 5v1m1 40v1m1-1v1m1-1v2m1-2v1m1-21v1m2 0v1m2 20v2m2-6v1m2-31v1m0 20v1m1-26v2m0 8v1m1-4v1m1 0v1m2-13v2m0 35v1m1-38v1m0 36v1m1-44v4m0 31v1m2-45v1m0 6v1m0 20v1m1-31v1m1 26v1m11-27v1m1 43v1m2-43v1m0 33v1m12-27v11m1 9v2m1 0v1m2-32v1m0 1v1m0 2v7m1-3v3m0 32v1m1 0v1m1-6v1m1-43v1m1 1v2m1 5v1m1 13v2m5-13v2m1 0v2m1 4v2m4-5v1m2 14v1m1-1v1m1 2v1m1 1v1m3 18v1m1-1v1m2-29v1m1 2v2m1 10v2m1 2v2m1 7v5m3-54v2m1-2v1m1 32v1m1 4v1"/><path stroke="#9363f3" d="M21 130v1m3 19v1m1 22v1m1-22v1m0 12v2m4-49v12m1-16v1m2 0v3m0 2v1m0 56v1m1-12v1m3-16v1m0 6v6m7-24v1m0 3v1m0 18v2m1-26v1m0 3v1m2-31v3m0 7v1m0 16v1m1-16v7m1-7v3m0 35v3m1-44v3m0 34v2m1-5v1m2-39v4m0 21v1m2-5v1m12-25v1m0 45v1m2-8v1m6-10v1m2 4v1m4-5v3m3-35v1m0 3v2m1 14v1m1-3v1m2-19v1m0 38v1m3-38v1m1 17v1m4-9v1m1-5v1m5 3v1m1-1v2m1-3v7m1-8v1m0 2v1m0 15v1m1-3v2m1 2v2m1-3v4m1 11v3m1 2v3m1-3v2m1-1v2m2-29v1m1 1v2m1 10v1m1 2v2m1 2v5m1 12v4m2-62v1m3 7v3m0 5v2m0 14v5"/><path stroke="#bb40ed" d="M21 131v1m3 16v1m2 5v2m0 3v3m1 6v1m1-16v1m1-37v2m0 2v9m0 27v2m1-24v2m1-22v1m0 1v1m0 19v2m1-21v2m2 45v1m1 2v1m1-16v1m1 12v1m1-33v1m0 16v1m5 16v2m1-3v1m2-32v1m1-13v1m0 12v1m1-24v2m0 1v2m1-4v6m0 34v2m1-3v2m1-2v1m1-34v1m0 22v1m3-8v1m1 6v1m12-31v1m1 42v1m1-9v1m0 10v1m3-45v3m0 18v4m0 29v2m2-26v1m1 0v1m1 10v7m3-33v9m1 11v1m2-3v1m3-38v1m1 12v2m1 21v1m3-37v2m0 3v1m1 11v1m10-15v1m0 3v2m1-5v4m1 15v2m1-9v1m0 2v6m1-3v2m1 3v2m1-4v2m1 13v3m1 2v2m1-1v1m1 1v1m2-29v2m1 1v2m1 6v4m1 3v1m1 0v2m1 16v1m1 7v2m1-67v3m3 5v1m0 15v1m0 7v1"/><path stroke="#d86030" d="M21 132v1m2 17v1m1-36v2m0 7v2m0 51v3m1-2v1m2-61v1m2 44v1m2-18v1m0 29v2m1-32v1m2 10v3m5-42v2m1-1v1m0 6v7m0 2v4m0 21v2m1-41v5m0 5v3m0 14v1m1-25v1m0 8v1m5 37v1m3-25v1m1 1v1m2-12v1m1-3v2m1-7v1m10 9v6m4 17v1m1-17v1m0 15v1m1-21v1m3 15v3m2 6v1m2-28v2m3-28v1m0 5v1m3 28v1m3-16v2m1 1v1m1-2v1m0 17v1m1-4v1m2-39v1m1 18v1m4-19v2m9-3v2m0 4v2m1 5v1m1-1v1m1-2v2m0 7v3m0 27v1m1-26v2m1-1v2m1 0v3m3-26v2m1 2v1m1 2v2m1 6v2m1 4v2m1 16v1m1 3v2m1 8v2m1-41v6"/><path stroke="#b07810" d="M21 133v1m0 14v8m0 3v9m1-22v6m1-12v7m1 28v1m1-46v1m1-17v1m0 15v1m3 14v1m0 20v3m1-19v1m0 21v4m1-27v1m0 20v1m3-18v1m5-40v2m0 39v1m1 8v1m1-27v4m0 2v2m1-11v2m0 8v3m1 0v3m3 17v1m1 1v1m3-25v1m1 0v1m2-16v2m1-4v2m1-4v1m0 30v1m5-40v1m0 2v7m0 3v5m1-11v4m1-4v2m9-16v1m1 0v1m2 53v1m3-48v1m0 8v5m1-13v1m0 23v1m3-33v1m5 25v1m2-5v1m5-22v1m0 21v1m8-8v1m6-9v2m1-1v2m0 39v1m1-43v2m1 14v1m1-1v1m1-1v2m2-27v1m0 2v3m2-4v2m0 3v1m1 2v1m1 7v1m1 6v2m1 14v2m1 0v3m1 6v3m1 13v1"/><path stroke="#a08015" d="M21 134v2m0 9v3m0 20v1m1-26v3m0 6v1m1-17v4m0 35v4m2-48v1m1-19v1m0 17v1m3 37v3m1-21v1m0 14v6m2-23v1m4 24v1m3-62v1m0 2v1m0 39v1m1 8v1m1-49v3m0 22v2m1-7v8m1-2v5m2 19v1m1-35v1m0 33v1m1 0v2m1-37v1m1 12v1m2-1v1m2-20v5m1-4v2m0 35v1m1-40v2m0 29v2m3-17v1m1-4v3m2-24v1m0 2v6m1-1v1m9 19v1m6-12v6m3-19v1m1 34v1m3-9v1m1 2v5m3-23v2m1 0v1m4-24v1m0 24v1m1-21v1m2 5v1m10-12v2m1 6v1m1-1v2m0 40v1m1-43v1m1 14v2m1-1v1m1-2v2m2-23v1m1-2v1m0 64v3m1-65v3m1 0v3m1 6v2m1 6v1m1 15v1m1-1v3m1 7v2m1 15v1"/><path stroke="#8f881b" d="M21 136v2m0 5v2m0 24v1m1-38v2m0 4v5m1-8v1m0 37v2m1-1v1m5-29v1m0 25v4m1-11v1m1-16v1m0 18v1m1-34v1m0 13v1m2 1v1m1-27v6m4 25v1m3-37v1m1 18v3m2 23v1m1-2v2m1-1v2m6-42v1m1-1v2m0 35v2m1-40v1m0 30v1m3-40v1m1 12v9m2-20v2m1 2v3m10 20v1m1-1v1m4-6v2m1 4v1m1-1v1m1-33v1m0 2v4m5 26v4m0 5v1m1-17v1m2-9v1m5-20v1m2 11v1m1-13v1m0 5v4m11-9v2m0 2v2m1-1v1m0 41v1m1-43v1m0 44v1m1-32v2m1-1v2m1-3v2m1 25v2m2 12v4m1-65v1m1 1v4m1 8v1m1 6v2m1 14v2m1-2v2m1-7v8m0 6v3m1 16v1m1 1v1"/><path stroke="#7c9020" d="M21 138v5m0 27v1m1-37v4m0 15v1m0 11v7m1-38v1m0 37v1m3-41v1m3 14v1m0 28v1m1-13v1m5-41v2m0 6v1m1 42v1m3-18v1m1-44v1m1 51v1m1-53v1m1 22v2m0 31v2m2-8v1m1-34v1m0 30v2m1-2v3m1-19v1m2-3v1m1-1v1m2 19v3m1-44v2m0 34v3m1-39v1m3-12v1m0 27v1m1-14v2m3-9v2m4 20v5m5-1v1m2-1v1m3-24v2m1 17v1m3-31v2m0 1v2m0 30v1m1 9v1m3-11v1m1-12v1m0 7v3m1-6v12m2-22v1m1 2v1m4 3v1m2-27v1m1 2v4m11-3v2m1-1v2m0 40v2m1-44v2m1 12v2m1-2v3m1-4v3m1 20v7m1 4v1m1 6v3m2-60v1m1 11v1m1 5v2m1 14v2m1-2v2m1-7v2m0 8v6m1 18v1m1 1v1"/><path stroke="#c3711b" d="M21 156v3m2-12v2m1-30v1m1-7v1m0 1v9m0 2v4m1-15v1m0 13v1m3 35v1m1-17v1m0 26v2m1-30v1m0 22v2m1-25v1m2 5v1m5-1v1m1 8v1m1-44v1m0 15v2m0 8v1m1-25v1m0 11v1m0 13v1m6-1v1m3-1v1m2-15v2m1-4v2m1-5v1m0 30v2m3-19v1m2-23v2m0 7v3m1-2v3m1-5v2m9-17v1m0 30v1m1-31v1m0 29v1m1-1v1m1 20v2m2 2v1m1-49v8m4-15v1m0 40v1m3-7v1m3-20v3m1 3v1m1-1v1m0 20v3m1-5v2m1-6v4m1-43v1m1 22v1m11 7v1m1-30v1m0 1v1m1-1v2m1 5v2m1-1v2m1-3v1m1 14v1m1-1v2m1-1v2m2-23v1m1-4v3m1 2v2m1 1v2m1 6v2m1 6v1m1 15v2m1 1v3m1 6v2"/><path stroke="#40a040" d="M21 171v1m1-17v5m0 14v1m1-42v1m0 33v2m3-36v1m5 33v1m1-16v1m1-5v1m0 14v1m1-44v1m0 15v6m0 6v2m1-29v1m0 28v1m1-35v2m0 21v1m1-23v6m1-8v1m0 1v7m1 4v2m0 31v1m4-26v1m1-21v7m0 3v3m1-5v6m0 25v3m1-31v2m0 26v2m1-2v2m1-12v1m1-2v1m4 11v2m1-4v2m1-3v1m2-37v1m1 20v2m4-26v3m1-3v5m3 16v3m4 9v1m2 1v1m1 11v1m3-45v2m0 13v6m1 7v1m1 2v1m1-33v3m0 29v1m1 1v1m4-20v1m0 10v3m4-17v1m1 2v2m5-20v2m0 1v1m1-3v1m6 16v1m1 13v2m1-1v5m1-6v1m3 16v1m1-49v2m0 42v1m2-31v1m1-2v1m1-4v3m1-14v1m0 18v1m0 17v2m1 8v1m1 0v2m1-50v1m0 63v2m1-65v1m1 1v1m0 7v1m1 2v2m1 15v2m1-3v2m1-7v2m1 34v2m1 1v1"/><path stroke="#18a070" d="M21 172v1m1 2v1m1-44v1m0 26v3m1 9v1m7-19v9m1-32v3m0 35v1m1-26v2m0 21v1m3-54v1m0 11v1m1-12v1m0 12v2m1-15v1m0 15v1m1-6v1m0 5v1m2-17v1m3 15v2m0 14v2m0 1v3m1-37v1m0 33v1m1-29v2m0 27v1m1 0v1m1 17v4m1-33v1m2-2v1m1 12v3m0 12v1m1-19v2m1-4v1m1-29v2m0 27v2m1-30v3m1-3v21m1-18v3m1-10v1m0 5v1m4 1v1m3 4v1m0 19v2m1-28v2m0 16v4m1-22v3m0 6v2m1-7v3m1 8v5m1 9v1m1 0v5m1 5v1m2-46v1m0 9v10m1-26v2m0 27v1m1-23v1m1-1v1m0 28v1m1 0v2m1 6v4m3-35v2m3 29v1m1-35v1m0 30v1m1-32v1m1 0v2m11 9v2m1-3v4m1-4v5m1-4v1m1 9v2m2 7v2m1 0v1m4-39v5m1-8v2m1 24v1m1 12v1m1 1v2m1 13v2m1 6v2m1-65v1m0 3v1m1 0v2m1 14v1m1-2v2m1-6v2m1 33v2m1 2v2"/><path stroke="#1b93a8" d="M21 173v1m1 2v1m1-48v1m0 23v1m1-26v5m0 21v2m1-23v1m1 0v1m2 39v2m2-23v7m3 8v1m2 5v2m1-42v3m2 22v4m4 8v2m1-60v1m1 23v1m0 18v1m2-41v1m0 30v1m1 0v2m2-14v2m1-1v1m0 33v1m1-36v1m3-20v1m1-5v4m0 27v1m1-3v1m1-30v1m6 15v1m1-17v1m0 13v7m1-4v5m1-7v1m1-9v1m0 35v1m1-42v3m0 32v2m1-17v1m3 31v1m2-47v7m0 6v6m1-26v1m0 28v1m2-31v7m1 32v3m4-28v11m1 6v1m3 14v1m1-43v1m0 1v2m1-3v1m0 39v1m1-40v1m1-2v2m0 18v1m1-8v4m0 11v1m1-3v2m10-16v1m1 2v1m2 16v1m2 2v1m2-38v1m1 1v5m1-10v1m2 22v3m1 10v2m1 1v1m1 11v3m1 4v3m3-50v4m1 1v2m1-4v2m1 29v1m1 5v2"/><path stroke="#3088c8" d="M21 174v1m2-50v3m2 28v3m0 5v5m2 7v2m1-40v5m5 26v1m1 5v2m1-64v1m0 58v1m5-2v1m1 0v1m0 3v1m3-64v1m0 24v1m0 6v1m0 12v1m1-13v1m1-34v1m0 31v1m1-1v2m2-13v1m1-1v1m0 35v1m1-39v2m0 30v6m3-55v1m0 3v1m1 22v1m10-28v3m0 19v1m1-15v3m1-7v1m0 38v1m1-5v1m1-8v2m3 20v1m2-50v1m0 21v1m1-28v1m3 43v4m4-23v3m4-28v8m1 36v1m1-3v1m1-41v1m1 22v1m1-16v3m1 12v2m6-16v1m5 5v1m2 15v1m1 0v1m1 1v1m1 1v1m1-40v1m1-2v1m4 31v2m1 2v1m1 10v2m1 4v3m1 12v1m2-68v2m0 2v1m1 7v2m1-4v2m1 30v1m1 5v1"/><path stroke="#a058f8" d="M22 113v1m0 16v1m1-13v1m3 34v1m0 10v1m1 5v1m2-20v5m1-41v1m0 1v1m0 12v3m1-15v1m0 14v2m1-21v1m1-2v2m0 3v2m2 32v1m0 16v1m1-18v1m1-19v1m0 29v1m1-32v1m6 7v1m0 23v1m1-26v3m1-6v1m1 1v1m1-19v4m1-3v3m0 35v3m1-42v1m0 36v1m2-14v1m1-33v1m2 24v1m12-26v1m0 2v1m1-4v1m0 43v1m1-43v2m0 1v1m0 36v1m1-4v6m3-37v11m0 36v1m1 1v1m1-55v1m1 29v1m1 4v2m3-27v1m1 22v2m1 0v1m1-3v1m1-37v1m0 6v8m2 5v1m1-20v1m1-2v1m0 37v2m2-11v1m1-28v1m0 5v1m1 10v2m10-9v1m1-4v4m1-5v4m0 7v2m1 7v2m1-3v1m1 2v2m1-3v2m1 13v2m1 3v2m1-2v2m1 0v1m2-29v2m1 1v1m1 10v2m1 2v1m1 1v3m1 14v3m2-59v1m2 33v1m1-28v2m0 10v1m0 11v2"/><path stroke="#e83c70" d="M22 131v1m1-18v1m0 1v1m0 34v1m1-16v1m4-18v1m0 46v1m0 6v1m1-12v1m1-49v1m0 29v1m2-8v1m0 5v1m0 32v2m2-15v1m5-41v2m1 27v3m1-5v2m0 14v1m1-16v1m2 20v3m1-5v1m3-10v8m1-21v1m1-1v1m1 2v1m2-12v1m1-1v1m1-8v1m1 12v2m0 3v6m12 4v1m1-1v1m1-48v1m0 3v1m0 18v1m0 25v1m1-22v1m1 0v1m2 4v1m1 14v3m1 1v1m2-45v3m1 18v1m2-32v1m1 1v1m0 8v2m2 30v2m2-22v1m2 5v1m1-3v1m1 7v2m2-28v2m1 0v3m0 5v1m1-14v4m3-4v2m2-7v1m1 0v1m1 13v1m1-17v1m4 13v1m1 3v1m1-1v1m1 9v2m1 3v2m1 0v2m1 1v2m2-30v1m1 2v1m1 2v1m1 6v4m1 1v2m1 5v5m1 12v1m1 4v3m1 6v2m1-67v1m0 18v1m0 10v1"/><path stroke="#559b35" d="M22 154v1m0 5v3m0 10v1m1-5v1m1 3v1m1-42v1m3-20v2m0 2v1m4 17v1m1 13v1m0 11v2m1-42v2m0 9v4m0 14v1m1-29v1m0 12v15m1-10v1m0 7v1m0 28v1m1-62v1m1-1v1m1 43v1m1-47v1m2 1v1m0 3v1m1-7v2m0 2v2m0 54v2m1-53v3m1 4v4m0 24v5m1-34v2m0 26v2m1-2v3m1-26v1m0 11v1m2-3v1m1-2v1m2 14v3m1-39v1m0 33v2m1-35v1m0 30v1m2-41v3m1-3v2m0 24v1m4-28v1m0 3v1m1 1v5m3 14v3m0 7v1m5 0v1m1-2v1m1 0v12m3-42v1m0 9v3m3-13v2m1 28v1m4-5v1m1-7v3m1 14v1m1-32v1m1 3v2m1 2v1m5-19v1m0 1v1m1-3v2m0 2v1m12-6v1m1 1v1m2 12v2m1-3v2m1-3v1m1-14v1m0 2v3m0 11v1m0 20v1m1 8v2m1 0v5m1 11v1m2-65v1m0 9v1m1 3v1m1 16v2m1-3v2m1-7v2m1 34v1m1 1v1"/><path stroke="#69952b" d="M22 163v2m0 7v1m1-3v2m5-57v2m1 31v2m0 27v1m2-27v1m0 16v1m1-18v1m1-2v11m1-38v9m0 19v1m1-29v1m0 9v2m1 6v7m0 28v1m3-18v1m1-44v1m0 49v1m2-53v1m1 1v2m0 2v5m0 12v1m0 32v1m0 2v1m2-11v2m1-34v1m0 27v4m1-3v3m2-18v1m2-2v1m2-20v1m0 35v4m1-42v1m0 34v2m1-5v1m3-40v1m1 10v1m3-10v3m4 20v2m5 5v1m1-2v1m1 0v1m3-29v4m0 2v3m1 15v1m2-24v1m2 37v2m3-31v1m0 15v2m1-10v1m0 3v3m0 13v1m1-5v2m2-25v1m1 2v1m6-18v2m0 1v6m1-11v1m4 16v1m8-16v1m0 41v1m2-29v1m1-2v2m1-4v3m1-16v2m0 3v11m0 22v1m1-40v1m0 48v2m1-52v1m0 54v4m1 8v2m2-56v1m1 3v3m1 15v1m1-2v2m1-7v2m1 33v1m1 1v1"/><path stroke="#e34460" d="M23 113v1m0 1v1m1-3v2m3 8v9m1-14v1m0 48v2m1-55v2m0 26v1m0 7v1m1-6v1m1-2v1m1-1v1m2 17v1m2 9v1m2-5v1m1-48v2m0 29v1m1-13v1m0 14v3m1-9v1m1-22v3m2 44v1m2-5v1m1 0v1m1-24v1m6-11v1m2 8v3m1-7v3m11 15v5m1-5v1m1-48v3m1 25v1m2 0v1m1 4v2m1 15v2m1 0v1m2-43v4m3-12v2m3 33v3m2-19v1m1 6v1m1-4v1m1 13v1m1-6v1m2-31v2m1-2v4m0 9v1m1-11v8m6-18v2m4 1v2m1 5v1m1 1v2m1 3v1m1-1v1m1 0v4m0 5v1m1 3v2m1 0v2m1 1v2m2-29v1m1 1v2m1 1v2m1 4v3m1 3v2m1 4v3m1 15v2m1 3v2m1 8v1m1-36v1"/><path stroke="#e028b8" d="M23 117v1m5 12v4m0 27v1m1-24v2m1 2v1m1-1v1m1-2v1m3 21v2m2-23v6m0 22v4m0 2v2m1-9v1m1-20v1m1-9v1m0 3v3m2 5v3m2 12v1m2-35v1m4 14v1m1 1v1m1-21v1m0 3v2m2 3v1m2 3v1m12 13v1m1-36v1m1-1v3m1-10v3m0 16v3m1 0v3m1-29v2m1 1v2m1 32v2m1 9v3m3-41v1m0 3v4m4 21v1m5-8v1m1 2v5m1-9v1m2-19v1m7-9v1m0 1v2m1-4v2m0 8v2m1-17v2m0 11v2m2-15v1m1-1v1m0 29v1m3-10v1m1-2v1m1 12v2m1 3v2m1 0v2m1 0v2m2-30v1m1 2v2m1 2v2m1 9v2m1-1v2m1 13v3m1 5v2m1 7v2m2-67v1m0 33v1"/><path stroke="#258db8" d="M23 128v1m1 24v1m1 5v5m2-31v1m7 43v1m1-64v1m0 58v1m3-42v1m0 20v1m2 16v1m1-2v3m0 1v3m1-6v1m2-14v1m1-11v1m1-2v1m1 0v1m2-13v1m0 34v1m1-36v2m1-3v2m0 34v1m1-24v1m1-3v1m1-30v1m0 1v1m0 25v1m1-2v1m9-10v2m1-22v1m0 3v12m0 5v2m1-11v2m1 29v1m1-6v2m1-18v11m3 21v1m1-3v1m1-39v6m0 6v2m2 2v1m2 10v4m4-21v2m1 5v1m4-30v1m0 1v1m0 26v1m0 12v1m1-42v1m1 0v1m1 20v1m1-12v3m1 11v2m6-20v2m4 3v1m3 19v1m1 0v1m1 1v1m1 1v1m1-42v1m1 0v4m4 29v2m1 1v2m1 10v2m1 5v2m2-56v1m1-3v1m0 2v2m0 1v5m1 4v1m1-3v1m1 30v1m1 5v1"/><path stroke="#109a98" d="M23 130v1m0 23v1m1-28v1m0 5v1m0 22v2m4 18v2m2-18v2m2 8v1m1-50v1m2 54v2m1-47v3m1-2v1m1 21v5m0 4v3m2 3v1m1-2v1m1 4v4m2-41v1m0 18v1m1-8v1m1-32v1m0 30v1m3-11v1m0 32v1m1-34v2m1-3v1m1 10v1m1-25v1m0 21v1m1-2v1m1-29v1m0 27v2m1-6v1m2-24v2m1-7v2m0 1v1m0 3v2m0 3v1m1-13v3m3 11v2m1-9v7m3 28v1m1-38v3m0 19v10m1-17v2m3 30v2m2 2v1m4-19v1m1 8v3m3-37v1m1 16v1m4-23v2m0 34v1m1-39v2m1-1v1m1-1v6m0 10v2m1-3v3m1 8v1m10-16v1m3 19v1m1-1v2m1 1v1m1 0v1m2-33v1m3 11v1m0 3v1m1 11v1m1 1v1m1 13v2m1 5v3m1-59v2m1-6v1m0 1v3m1 9v3m1 0v2m1-4v1m1 29v2m1 5v2"/><path stroke="#109e8d" d="M23 131v1m0 23v1m1-22v1m0 23v11m6-17v1m0 9v1m2-41v1m1 44v1m1-50v1m2-5v1m0 13v3m0 6v1m0 12v1m1-20v1m1 34v1m4-54v1m1 11v9m1 0v2m0 10v1m0 7v1m2-37v2m0 29v1m1 0v1m1 18v1m1-31v1m1 0v1m1-3v2m1 9v2m0 18v1m1-23v1m1-2v1m1-29v1m0 28v1m1-10v3m1 1v1m1-23v1m1-6v1m0 2v2m0 2v1m1-5v1m1-6v1m0 1v2m2 9v1m2-14v1m1 15v1m1-9v1m0 30v3m1-34v1m0 15v3m1-8v1m2 23v12m1-6v3m1 0v1m2-25v2m2 3v1m1 3v1m1 5v4m4-19v2m4-20v1m0 32v1m1-36v1m1-1v2m1 3v10m1 2v8m1 1v1m10-16v1m1 1v1m2 17v3m1-2v1m1 1v1m2-41v1m1 8v1m1-9v2m2 22v1m1 11v1m1 1v2m1 13v2m1 6v2m1-66v1m1 5v1m1 11v4m1-2v2m1-5v2m1 29v2m1 5v2"/><path stroke="#cd6825" d="M23 149v1m1-33v2m0 1v4m0 2v1m0 49v1m1-63v1m0 9v2m1-10v13m1-12v1m2 26v1m0 19v1m1-18v2m1-2v1m0 25v3m1-29v1m2 7v2m2 16v1m3-57v1m0 35v1m1-37v2m0 14v2m0 27v1m1-29v2m0 11v1m1-25v1m0 25v1m3 18v1m1-35v1m0 34v1m3-23v1m4-12v2m1-4v2m1-6v1m0 31v1m19 0v3m4-22v2m1-24v1m0 23v1m1-24v1m0 23v1m1-25v2m4 11v1m1 2v1m1-10v1m0 3v2m1 2v1m1 18v1m1-4v2m1-9v5m1-38v1m1 1v1m0 18v1m7-5v1m5-16v1m0 1v5m1-4v2m1 5v2m1-1v1m1-3v2m1 13v1m1 0v1m1 0v2m2-24v1m1-6v1m0 3v2m1 2v2m1 1v2m1 6v2m1 5v1m1 16v2m1 2v2m1 6v4"/><path stroke="#13a080" d="M23 156v3m1 10v2m8-48v7m0 39v1m3-55v1m1 10v2m1 1v2m1-18v1m0 17v1m2 36v1m3-35v1m1-2v1m0 19v1m1-40v2m0 33v1m1-30v2m0 28v1m1 0v1m2-12v1m0 31v1m1-32v1m2 9v2m1-5v2m1-3v1m1-29v1m0 28v1m1-25v14m2-17v3m1 0v1m0 1v1m1-11v1m4 2v1m2 32v5m1-35v2m0 22v6m1-30v2m0 11v2m1-6v1m2 22v2m1 3v3m3-44v1m0 20v2m1 2v1m2-31v5m1 34v4m4-27v12m5-19v2m0 35v1m1-37v2m3 23v2m10-17v2m1 0v1m1 12v7m1 0v3m1-4v1m1 1v1m1-1v1m2-32v1m1-12v2m0 2v1m1-6v1m1 20v1m0 6v1m1 11v2m1 1v1m1 14v1m1-59v1m0 65v1m1-60v1m1-8v1m0 6v2m1 13v3m1-3v2m1-5v1m1 30v5m1 2v2"/><path stroke="#1da060" d="M23 162v2m1-29v1m3-22v1m0 1v1m3 46v1m1-2v4m1-33v1m0 32v2m1-46v1m0 17v3m0 2v2m0 18v1m2-48v2m1-5v1m0 7v2m0 13v1m1-26v1m0 11v2m1 0v3m0 37v1m1-42v1m0 39v4m1-57v1m1-1v2m0 1v1m1 1v1m1 16v1m1-6v1m0 18v1m1-33v2m0 32v2m1-29v1m0 27v1m1 0v1m1-18v7m1-1v1m1-1v1m1-2v1m1 14v3m0 8v1m1-16v2m1-33v1m0 27v3m1-1v1m1-37v6m1-2v2m1 6v5m3-15v1m2-5v1m1 1v4m2 12v1m1-6v3m0 9v4m1-15v6m1-7v2m1 16v2m1 5v2m1-2v3m3-34v1m0 3v5m1-14v1m0 25v1m2-24v2m0 1v1m1 27v1m1 3v5m4-25v6m3 7v2m0 5v2m1-30v2m0 33v1m1-34v2m11 5v2m1-4v3m0 4v4m1-3v3m1-6v4m3 16v2m1-1v2m1-3v1m2-32v1m1-3v1m1-11v1m0 3v1m1 14v1m0 9v1m1 12v2m1 1v1m1 14v2m2-62v1m0 7v1m1 1v1m1 14v2m1-2v2m1-6v2m1 33v2m1 2v1"/><path stroke="#2ba050" d="M23 164v3m1 5v1m3-60v1m0 1v1m4 36v1m0 13v1m1-33v1m0 18v13m1-43v17m0 7v1m0 16v1m1-46v1m0 22v6m1-32v2m0 2v1m0 30v1m1-34v5m0 26v1m1-35v1m0 7v2m1-1v3m1 0v1m0 2v1m0 31v4m1 1v1m2-51v1m0 1v1m2-6v2m0 13v1m1-11v5m0 29v2m1-30v2m0 26v2m1-1v1m1-20v1m0 7v2m1-2v1m1-1v1m1-2v1m1 16v8m1-13v2m1-4v2m1-32v1m0 29v1m1-39v1m1 3v1m1 13v6m2-21v1m0 1v1m1-6v1m2 9v1m1-11v1m2 17v3m0 14v1m1-21v9m3 0v1m0 7v1m1 3v1m1-1v1m1 11v2m2-43v3m1-8v1m0 21v3m3-28v3m1 35v2m4-21v1m0 6v3m2 15v1m1-10v5m1-26v1m1 1v2m11 2v1m2 9v2m1-4v5m3 13v1m1-47v1m0 46v2m1-49v1m1 3v1m1 9v1m1-3v2m1-12v1m0 3v5m1 20v6m1 8v2m1 0v1m1 15v1m2-54v1m1 1v2m1 14v3m1-3v2m1-6v1m1 34v2m1 1v2"/><path stroke="#db2dcd" d="M24 137v1m3 20v7m1-31v1m0 24v2m1-24v1m0 22v1m1-20v1m1-1v1m1-4v1m3 26v2m1 2v2m1-33v4m0 6v1m0 20v1m1-29v9m0 20v2m1-30v8m0 20v1m1-28v3m2 11v7m1-13v1m1 16v1m3-43v8m1-21v1m1 36v1m1 0v1m1-38v1m1 15v2m0 6v3m3-6v1m14-17v5m0 35v1m1-33v3m0 32v1m1-47v1m0 3v1m0 12v3m1-20v4m0 15v4m2-21v1m0 27v1m1 1v2m1 2v9m1 6v1m2-44v3m1 18v1m1 7v1m1-41v1m0 40v1m1-41v1m0 5v6m1 3v1m3-2v1m1 17v1m4-20v1m7-6v8m1-10v8m1-13v1m0 1v9m1-12v1m2-1v1m2 15v2m1 3v1m1-2v1m1 13v1m1 4v2m1 0v1m1 1v1m2-30v1m1 3v1m1 3v2m1 9v1m1 0v1m1 15v2m1 5v2m1 7v2m2-65v5m0 9v1m0 16v1m1-36v1"/><path stroke="#d530dd" d="M24 138v1m1 36v1m2-22v4m0 7v2m1-11v3m1-24v2m0 22v1m1-21v2m2-2v2m0 31v1m3-6v1m1-12v13m1-33v2m0 30v1m1-33v5m0 9v1m0 21v4m1-42v8m3 22v3m1-15v2m0 4v4m4-37v1m0 8v2m2-22v1m0 36v2m1-1v1m1 0v1m1-41v1m0 1v3m0 9v3m0 11v2m1-1v1m2-7v1m13 21v1m1-45v1m0 43v1m1-29v3m0 3v1m1-16v12m1-13v2m0 9v4m1 7v1m2 4v1m1 1v3m4-8v1m3-30v5m0 31v1m2-17v1m3 11v1m2-5v1m2-16v1m5-8v1m2 8v1m2-15v1m2-3v1m1 0v1m0 25v2m2-11v1m1 3v2m1-3v1m1 13v2m1 4v1m1 0v2m1 0v2m2-31v2m1 2v2m1 3v3m1 7v2m1-1v2m1 15v2m1 5v3m2-63v1m1 8v9m1-15v1m0 22v3"/><path stroke="#d030e8" d="M24 139v9m2 8v3m1-6v1m0 13v1m1-33v1m0 18v2m1-40v1m0 13v5m1-22v1m0 23v2m1-23v1m0 22v2m1-21v1m4 33v2m1-21v1m0 13v1m0 17v1m1-33v1m0 40v2m1-45v1m3 33v1m1-14v4m0 4v6m4-32v1m2 16v2m1-36v1m0 33v1m2-40v1m0 3v3m0 1v5m0 16v1m18-31v1m0 19v3m0 25v1m2-40v9m1-16v1m0 25v1m0 30v2m3-26v1m1 16v2m3-26v3m2 9v1m4-20v1m2 13v1m4-20v1m10-15v1m0 1v3m1-5v2m1 1v1m0 19v3m1-11v2m1 1v2m1 3v2m1-4v2m1 13v2m1 3v2m1 0v1m1 1v1m2-30v2m1 2v1m1 5v3m1 6v1m1 0v1m1 16v2m1 6v2m2-64v2m1 33v1m1-33v4m0 17v1m0 3v3"/><path stroke="#ab4df3" d="M24 149v1m1 24v1m1-13v2m1-12v1m0 16v1m1-18v1m1-34v2m0 35v1m1-41v1m0 16v2m1-22v1m0 21v2m1-24v1m0 1v3m0 3v1m5 28v1m0 14v1m2 5v7m3-10v1m2-27v2m0 22v1m3-29v1m1-23v1m0 2v2m1 0v1m0 35v3m1-40v1m0 35v2m1-3v1m3-14v1m15 13v1m1-7v2m0 6v2m3-41v2m0 11v5m0 32v1m1-51v1m0 25v1m1-33v1m2 39v5m3-34v2m0 1v5m1 19v1m1 0v1m2-25v1m1 31v1m2-48v1m1 36v1m3-34v1m0 1v2m1 10v1m4-7v1m3 5v1m3-10v3m1-4v1m1-3v2m0 13v2m1-8v1m0 9v3m1-4v3m1 2v1m1-3v2m1 14v1m1 3v2m1-2v2m1 0v2m2-29v1m1 2v1m1 9v2m1 2v2m1 0v2m1 15v2m1 7v2m1-66v1m1-1v1m1 33v1m1-29v2m0 22v2"/><path stroke="#e83485" d="M25 176v1m3-13v2m1-53v1m0 27v1m1 1v1m1-1v1m1 30v2m3-22v6m5-9v1m1 0v2m0 11v1m1-14v1m2 18v1m1-1v2m1-1v1m1 0v1m1-24v1m0 7v3m1-48v1m1 0v4m6 39v1m12 2v1m2-42v1m1 21v1m1-29v1m2-1v1m1 46v3m1 3v1m3-26v3m1 2v1m1 7v1m1-39v1m0 3v4m0 32v1m1-31v1m0 28v1m5-13v1m1-3v2m0 11v1m1-9v2m2-24v1m1 2v5m5-17v8m1-10v1m0 1v2m1 13v1m6-3v1m2 3v1m1 10v1m1 4v1m1 1v2m1 1v1m2-30v1m1 2v2m1 1v2m1 8v3m1 0v1m1 9v4m1 9v2m1 5v3m1 5v1m1-67v1m0 29v1"/><path stroke="#dd504b" d="M25 177v1m2-59v4m1 46v4m1-30v1m1 2v1m1-2v1m1-1v1m2 14v2m5-42v1m1-1v6m0 13v1m0 18v2m1-34v5m1-6v3m0 3v2m0 17v1m3 18v1m1 0v1m2-39v1m2-20v1m1 36v1m2-12v1m1-2v1m1-7v1m10 7v1m4 22v1m2-49v1m1 28v1m2 6v9m1 8v1m3-39v12m1 3v1m2-29v1m0 2v2m0 33v1m1-42v1m2 37v1m2-15v1m1-10v1m0 8v6m1-4v1m1-2v1m1 11v2m2-37v4m1-3v3m3-7v1m1-1v3m0 2v1m9 4v2m1 4v1m1-1v1m1-1v2m0 4v1m0 3v1m1 3v1m1 0v2m1 1v2m2-28v1m1 1v1m1 2v1m1 3v3m1 5v1m1 5v1m1 16v2m1 3v2m1 8v2m1-44v1m0 6v2"/><path stroke="#e52d9d" d="M28 120v10m0 32v2m1-24v1m0 20v1m3-20v1m0 30v1m2-10v1m1-12v1m0 6v3m1 8v1m1 2v2m2-25v1m1-11v1m0 7v2m1 3v11m1-12v1m2 16v1m1 2v3m1-3v2m2-24v7m1-9v1m1-32v1m0 30v1m1-37v1m0 1v8m1 10v3m1 5v1m2-8v1m2 8v1m8-5v1m4-15v1m0 34v1m1-41v4m1 15v2m1 1v1m1 0v1m1-30v2m0 31v1m1 4v8m1 4v2m1 2v1m2-38v10m3-24v3m0 35v1m1-43v1m0 39v2m3-20v1m2 8v1m1-2v5m0 5v1m1-9v1m2-21v1m6-13v2m0 8v1m1-7v1m0 1v1m1-4v2m1 10v1m4-16v2m1 14v1m1 2v2m2 10v2m1 3v2m1 1v1m1 1v1m2-30v2m1 2v1m1 2v2m1 9v2m1-1v2m1 11v4m1 7v1m1 7v2m2-62v1m0 15v1m0 13v1m1-33v2"/></g><path d="M116.8 195.1 L116.8 195 L116.3 190.1 L115.4 180.2 L114.7 168.9 L114.2 159 L113.7 160.5 L113 166.1 L112.3 171 L111.6 169.6 L110.2 167.5 L108.8 164.7 L107.4 161.9 L106 157.6 L105 155.2 L103.9 151.3 L102.9 147.5 L102 143.6 L101.1 139.8 L100.4 136 L99.5 138.5 L98.8 134.7 L97.8 132.1 L96.9 130.8 L96.3 127 L95.6 125.7 L95 126.3 L94.3 130.8 L93.4 139.8 L92.4 150 L92.1 152.6 L90.8 156.4 L89.5 159.6 L87.6 160.9 L85.6 160.3 L84.4 156.4 L83.1 153.8 L82.1 157.7 L81.2 161.5 L79.9 160.3 L78.6 164.1 L77.3 168 L76.4 170.5 L75.4 168 L74.4 170.5 L73.5 173.1 L72.8 171.2 L71.5 166.7 L70.3 162.8 L69.2 164.1 L68.3 166 L67.7 161.5 L66.4 155.1 L65.9 148.9 L65.3 143.8 L64.6 136.1 L64 129.7 L63.3 127.8 L62.7 129 L61.4 133.5 L60.1 138.7 L58.8 142.5 L57.6 144.4 L56.8 153.8 L56.2 159 L55.3 162.8 L54 166 L52.7 168.6 L50.8 170.8 L48.2 172.8 L45.6 174.4 L43.1 175.4 L40.5 176.3 L37.9 176.9 L35.4 177.2 L32.8 176.9 L30.3 176.9 L27.7 177.2 L25.4 177.6 L24.9 181.4 L24.4 177.6 L23.2 178.2 L21.3 178.8 L20.7 178.8 L20.7 195.1 L116.8 195.1Z" fill="#b4b4b4" stroke="#000" stroke-width="0.9" stroke-linejoin="round"/><g stroke-width="1" fill="none" shape-rendering="crispEdges" transform="translate(.5 0)"><path stroke="#559b35" d="M21 211v1m0 11v6m1-8v1m0 3v17m0 7v1m1-23v4m1-1v1m1-17v1m0 3v4m0 56v1m1-14v1m0 7v4m2-18v1m1-30v1m0 26v3m1-16v1m1-5v1m3 22v2m1-51v1m0 51v1m1 1v1m1-57v1m0 18v4m1 4v1m1 2v1m1 0v1m2 21v2m1-39v1m0 41v1m1 0v1m2-20v2m1-7v2m3-17v1m1-1v2m1 1v1m0 8v1m0 5v1m1-9v1m1 1v1m4-32v1m1 36v1m1-9v1m0 10v7m1-11v1m1-26v2m1-2v3m1-3v3m1-4v2m2 27v1m1-6v2m1-7v2m2-7v1m1-7v2m3 17v1m1-3v2m2-39v1m0 27v1m1-27v1m1-2v1m0 2v1m0 2v1m1 10v1m1-7v2m4-14v1m3 0v1m1 12v2m1-4v1m1-3v2m1-1v1m1 27v1m0 2v2m2-11v1m1-3v3m1-15v1m0 4v4m4 20v14m1-62v1m0 21v1m0 35v2m1-54v2m1-6v2m0 10v1m0 20v1m1 0v3m1-38v1m0 36v7m1 0v1m5-25v1m0 30v2m1-46v7m0 35v2m1-2v1m2-9v1m1-9v3m1 32v1m1-47v1m2 32v4m1-40v1m0 24v1"/><path stroke="#8f881b" d="M21 212v1m1-1v1m1 23v2m1-6v1m2-22v1m1 51v1m1-1v2m1 0v1m1-19v1m1-6v1m2-28v2m1-6v1m0 5v1m0 56v4m1-60v1m0 51v1m1-59v1m1 2v1m0 25v7m1-5v2m1 0v1m1 0v2m1 14v2m0 7v1m2-43v1m3 26v1m1-2v2m1-4v7m0 6v1m1-9v4m1-27v1m1 3v4m1-26v1m0 19v5m1-27v1m2-5v2m0 3v5m1-7v5m0 9v1m1-18v7m4 29v1m1-17v2m1 0v2m1-3v3m1-7v2m1-19v1m0 42v1m1-1v1m1-3v2m1-7v2m3-14v1m3 18v1m1-2v1m2-40v2m1 0v1m0 20v1m2-6v1m1-6v2m1-10v2m1-9v1m2-1v1m3 0v1m1 17v2m1-6v2m1-4v2m1-2v1m2 23v1m0 11v1m1-13v2m1-2v2m2-20v6m0 9v1m2-27v2m0 6v3m1-14v2m0 7v7m1-19v2m0 6v3m0 6v2m0 23v1m1-35v2m1-2v2m1-10v3m0 1v2m0 25v1m1-32v1m0 3v1m0 26v1m1-5v1m1 37v2m1-1v1m1-64v1m1 59v1m1-19v1m3-5v1m1-13v6m1-13v2m3 31v2m1-11v2m1-44v9m0 27v1"/><path stroke="#b07810" d="M21 213v1m0 1v2m1-1v2m1 21v1m1-7v1m2-19v2m1 48v2m1-1v2m1-39v1m0 37v1m1-19v1m2-39v1m0 1v1m1 0v1m0 4v2m1-2v1m1 0v2m0 50v1m1-59v1m0 1v1m0 8v5m0 40v1m1-53v1m0 3v1m1 23v1m1 0v2m1 2v4m1-7v1m2-19v1m1-1v1m1-20v1m1-1v1m1 48v2m2-28v1m1 1v1m1 7v1m1-26v2m1-4v1m0 20v2m1-27v3m0 27v1m1-31v2m0 13v3m1-20v1m3 42v1m2-9v1m1-13v1m1 1v1m2-6v1m1-16v1m1-6v2m0 43v1m1-2v2m1-6v2m2-14v1m1-3v1m1-9v1m2 26v1m1-2v2m1-12v1m1-28v3m1-3v2m0 18v1m1-3v1m1-3v1m1-5v3m1-11v3m0 5v1m1-16v1m1-2v1m1-2v1m1-2v2m1-1v1m2 21v2m1-6v2m1-4v2m1-4v2m2 24v7m1-6v6m1-7v1m2-25v1m0 39v1m1-41v7m0 29v1m4-39v3m3-15v2m0 27v1m2-9v1m0 38v3m1-41v1m0 39v2m1-1v1m1-60v1m0 10v4m0 34v7m1-17v1m2 0v1m1-7v1m1-16v2m0 40v1m2-67v1m1 56v1m1-9v2m1-37v2m0 27v1m1-5v1m1-2v1"/><path stroke="#a08015" d="M21 214v1m1 0v1m0 34v1m1-13v1m3-25v1m1 49v1m1 0v1m1 0v1m1-19v1m1-6v1m1-32v1m0 1v1m1-4v1m0 1v1m0 3v2m1-1v1m1 0v1m0 51v1m1-59v1m0 3v8m1-9v2m1 27v1m1 0v1m1 1v3m1 13v7m1-38v1m2-3v1m1-20v1m1-1v1m0 44v1m1-1v3m1 0v6m1-9v1m2-15v1m1-26v1m0 33v1m1-37v1m0 23v1m1-29v1m1 2v1m0 5v7m1-16v2m0 5v9m1-10v8m2 27v1m1-14v1m2-8v1m1 1v1m1-1v1m1-6v1m1-19v1m1 42v1m1-2v1m1-6v2m1-10v1m2-6v1m2-9v1m1 26v1m1-2v1m2-39v2m0 22v1m1-24v1m1 17v1m1-3v1m1-5v1m0 3v1m1-13v1m1-11v1m0 1v2m1-2v1m2-3v1m1 0v1m2 20v2m1-6v2m1-4v2m1-3v1m2 23v3m0 7v1m1-10v3m1-3v2m2-23v1m0 6v9m2-15v7m1 19v1m1-33v6m1-7v3m0 3v1m0 20v1m3-35v1m1-7v1m0 1v1m1-3v1m0 66v1m1 0v1m1-42v1m0 40v2m1-61v10m0 4v2m0 39v2m2-18v1m2-6v1m1-15v3m2-31v1m0 21v1m0 43v1m1-7v1m1-40v1m0 31v4m1-39v2m0 26v2"/><path stroke="#c3711b" d="M21 217v1m1 0v2m1 20v1m3-24v1m1-4v1m0 52v1m1 0v1m1-1v1m1-19v2m1-8v1m1-5v1m1-20v1m1-2v2m1 0v2m0 49v1m1-59v1m0 14v4m1-15v1m1 27v1m1 1v1m1 5v4m3-28v1m1-21v4m0 13v2m1-17v1m0 2v1m1 41v1m1 3v2m2-8v1m3-36v2m1-5v2m0 17v1m1-22v2m1 13v2m4-17v1m0 38v1m3-21v1m3-4v1m1-16v1m1 39v2m1-48v1m0 1v1m0 43v3m1-7v5m1-16v1m6 14v2m1-48v1m1 9v1m0 19v1m1-22v1m1 0v1m0 15v1m1-3v2m0 2v1m2-15v5m1-14v3m2-5v1m1-1v1m1-1v1m1 5v1m1 16v2m1-6v2m1-4v1m1-3v1m4-19v1m0 42v1m2-27v1m1-1v1m0 7v4m3 15v1m3-12v1m2-5v1m1-29v1m0 1v1m0 56v4m1 0v2m1-40v1m0 37v3m1-60v1m0 47v2m2-10v1m2-10v4m0 27v1m1-44v1m1-3v1m1-23v1m0 63v1m1-64v1m0 54v2m1-39v1m0 28v2m1-47v2m0 8v2m0 28v1"/><path stroke="#cd6825" d="M21 218v1m2 22v1m1-8v1m2-17v2m1-5v2m0 51v1m1 0v1m1-42v1m1 23v1m3-31v1m1-1v1m1 1v2m0 48v1m1-41v3m1-17v1m1 27v1m1 1v2m1 7v2m2-27v1m1-3v2m1-19v13m1-14v2m0 1v1m1-5v1m1-3v1m0 52v1m2-30v1m2 9v1m1-23v1m1-4v1m0 15v1m1-19v3m1 12v1m5-17v1m0 21v1m1-20v1m0 24v1m1-10v1m1 0v1m1-2v1m1-4v1m1-16v1m1 40v2m1-49v1m2 30v1m3-14v1m3-20v1m0 14v1m0 32v2m1-49v3m0 31v1m1-25v1m0 19v1m1-22v1m0 17v1m1-2v1m1-2v2m3-20v2m1-6v2m1-2v1m1-1v1m1-1v1m1 2v1m2 16v2m1-5v2m1-4v1m7-4v1m0 12v5m8 31v1m1-64v1m0 1v1m0 53v2m1-35v1m0 35v3m1-52v14m0 34v4m1-10v1m1-9v1m2 0v1m1-16v6m0 30v1m1-1v1m1-69v2m1 63v1m1-44v1m0 32v3m1-55v1m0 16v1m0 27v2m1-43v8m2 25v1"/><path stroke="#d86030" d="M21 219v3m1 29v1m1-10v1m1-8v2m2-17v1m1-4v1m0 51v1m1-59v2m0 57v1m1-44v1m0 41v1m1-17v3m1-11v1m1-5v1m2-19v2m1 1v3m0 46v1m1-39v1m0 33v1m1-51v1m1 27v1m1 2v1m1 8v1m1-35v1m2 6v1m3-20v2m0 42v1m1 5v1m3-29v1m2-14v2m0 27v1m1-33v3m1-3v4m5 31v1m3-20v2m4-20v1m1 41v3m2-53v1m1 32v6m2-12v1m1-8v1m3-19v1m0 47v2m1-48v2m0 30v1m1-25v1m1-2v1m0 17v1m5-20v3m1-7v3m1-4v1m1-1v1m1-1v1m1 2v1m2 17v1m1-4v1m1-4v1m2-18v1m2 40v1m3-30v1m1 32v1m6-17v1m1-30v1m0 62v4m1-46v1m0 32v1m1-53v1m0 16v3m0 33v3m1-54v1m0 50v2m1-7v1m4-25v3m1-7v1m1-24v1m0 66v1m2-70v1m0 51v3m1-37v2m0 27v1m1-4v1m1-4v1m1-3v1"/><path stroke="#40a040" d="M21 222v1m0 6v1m1-8v3m0 17v1m1-19v3m1 0v3m0 47v2m1-57v1m0 54v1m2-18v1m1-3v1m1-3v1m1-15v2m3 24v1m1-7v1m1-51v2m0 50v2m2-39v4m1-17v2m0 22v1m1 2v1m3-11v1m0 31v2m1 3v2m1-37v1m2 16v2m1-7v2m2-15v1m1-3v2m1-1v1m1-17v1m0 29v1m0 2v2m2-39v1m5-1v5m0 32v2m1-34v1m0 26v1m0 3v6m0 7v1m1-11v2m1-30v2m1-4v4m1-3v3m1-4v3m2 27v2m1-6v1m1-6v1m1-3v1m1-4v1m1-7v1m1-4v1m1 27v1m1-7v1m1-3v1m1-5v1m3-33v1m0 7v1m1 8v1m1-7v1m1-11v1m7 10v2m1-3v1m2-2v1m1 33v1m1-11v1m1-3v1m1-3v1m1-11v4m4-21v1m0 58v1m2-58v1m1 30v1m0 3v8m1-9v7m1-1v2m2-20v1m1 0v1m2 39v1m1-47v1m0 31v2m1-50v2m0 7v3m0 34v1m1-2v1m2-9v1m1-7v3m1-15v2m1 36v1m1-62v1m0 60v1m1-64v1m0 2v1m0 18v1m0 37v2m1-41v1m0 24v2m1-40v9m0 26v1"/><path stroke="#1da060" d="M21 230v1m1 13v1m0 3v1m1-32v4m1-9v1m0 1v1m0 3v3m0 53v2m1-63v1m0 59v2m2-17v1m1-4v2m1-26v1m0 20v2m1-14v1m1-3v1m0 38v1m1-40v1m0 37v2m2-18v1m1 1v1m1 3v1m1-56v1m0 12v1m1-14v1m0 23v2m1 2v1m3-11v1m0 29v2m1 5v1m1-33v1m2 11v1m1-4v1m2-14v1m1-5v2m2-16v1m1 31v2m1-1v1m2-16v1m3 14v2m1-36v2m0 2v1m0 46v1m1-9v9m1-43v1m2-7v1m0 1v3m1-6v4m2 30v2m1-7v2m1-4v1m2-7v1m1-8v1m1-2v1m0 31v2m1-33v1m0 23v2m1-26v1m0 19v1m1-4v2m3-34v1m2 13v1m1-8v2m8-1v2m1-2v1m6 17v1m3 6v1m1-27v1m1-8v1m0 3v1m2-5v1m0 18v1m1 29v1m1-3v1m1-1v1m1-3v1m1-19v2m1-27v1m0 25v1m1-25v1m1 20v1m1 30v2m1-55v1m0 15v1m0 34v1m1-49v7m0 39v1m3-13v2m1-12v3m1-10v1m1-2v1m0 40v1m1-2v1m1-14v3m1-34v1m0 24v1"/><path stroke="#109a98" d="M21 231v1m0 10v3m0 8v1m2 20v3m1-9v2m1-3v1m2-15v2m1-6v2m1-15v4m0 2v4m1-13v1m0 34v1m1-35v1m0 34v2m1-1v1m2-15v1m1 0v1m1 2v2m2-35v1m1-17v1m0 22v2m2-12v1m1-1v2m0 28v1m1-29v1m0 34v1m2-21v2m1-3v2m3-20v2m1-5v2m1 6v1m5 6v2m1-9v1m2 12v1m2-26v1m1 36v7m1-46v1m3 36v2m1-12v2m1-4v1m1-2v1m1-4v1m2 21v1m1-7v2m1-6v1m2-23v1m0 15v1m1-1v1m2-7v1m2-19v3m8-8v1m1-1v1m1 3v3m1-1v1m1-2v1m3 23v1m1-7v1m6 38v1m3-12v1m2-4v3m1-14v1m1-4v2m1-36v1m0 31v1m1-30v3m2 57v1m1-60v1m0 16v2m0 37v3m1-56v1m0 2v3m0 35v1m1-4v1m2-7v2m1-12v3m1-8v1m1-24v1m0 64v1m1-7v1m1-10v4"/><path stroke="#1b93a8" d="M21 232v1m0 3v6m2 30v2m1-7v1m1-2v1m1-5v1m1-12v2m1-6v2m1-9v2m1-10v1m0 30v5m0 1v5m1-41v1m0 33v2m1-33v1m0 31v2m2-16v2m1-1v2m1 2v1m2-35v2m1 6v1m1 7v1m1-19v1m1-1v1m0 29v1m1-29v1m0 34v1m1 7v1m1-31v3m1-2v1m1 0v1m2-21v2m1-6v3m1-6v5m2-7v1m6 27v1m2-29v2m1 4v1m1-7v1m2-1v1m1 36v2m1-11v1m2-4v1m1-4v1m1 22v1m1-3v2m1-8v2m1-25v1m0 19v1m1-21v1m0 16v1m1-4v1m2-3v1m3-26v4m1-5v1m8 2v1m2 1v1m3 26v1m1-5v1m1-7v1m10 29v1m1-2v2m1-15v1m1-3v2m1-5v2m1-34v1m0 25v1m1 36v1m1-42v1m0 40v2m1-63v1m0 59v2m1-59v1m0 6v5m0 31v1m2-6v1m1-4v1m1-10v2m0 32v1m1-1v1m2-63v1m0 56v1m1-62v1m0 21v1m0 32v2"/><path stroke="#258db8" d="M21 233v3m2 34v2m1-6v1m1-2v1m1-5v1m1-13v2m1-5v1m2-16v1m0 30v1m0 11v1m1-43v1m0 33v1m1-32v1m0 31v1m2-15v1m1 0v1m1 2v2m2-42v1m0 5v2m1 4v4m1-21v2m1 6v3m1-2v2m1 36v1m2-24v2m1 0v1m2-15v5m1-12v3m1-6v2m1-4v1m0 5v3m7 20v6m5-35v1m3 33v2m2-11v1m1-3v1m1-5v2m2 20v1m1-8v2m1-24v1m0 19v1m1-21v1m0 16v1m1-19v1m0 14v1m1 0v1m2 20v2m11-49v1m1 0v1m1 0v1m1-1v1m1 32v1m2-11v1m1-7v1m8 30v1m3 0v1m1-15v1m1-2v3m1-6v3m1-38v1m1 0v1m0 63v1m1 0v1m1-44v1m0 41v1m1-48v3m0 29v1m1-5v1m3-13v2m1-11v1m1-3v1m1 38v1m1-6v2"/><path stroke="#109e8d" d="M21 245v2m2-36v2m0 64v2m1-9v1m1-3v1m1-6v1m1-9v1m1-5v1m1-18v2m0 10v3m1-15v2m1-1v1m0 35v2m1-36v1m0 33v1m2-15v1m1 0v1m1 3v2m2-48v1m0 11v2m1-18v1m0 2v1m0 20v1m2-12v1m1 0v1m0 28v1m1 6v1m2-20v4m0 3v1m1-9v1m1-2v1m2-18v2m1-5v2m6 9v2m3 7v1m2-29v2m0 1v3m1-1v1m0 40v2m2-50v1m2 40v1m1-11v1m1-4v1m2-5v1m0 22v1m1-33v4m1 27v1m1-6v3m1-29v1m0 20v1m1-22v1m0 16v2m1-4v1m1-1v1m2-31v1m1 19v1m1-21v1m0 7v3m1-10v2m8 1v4m1-1v1m2-2v1m4 17v1m1 15v1m4-41v1m1 22v1m3 26v1m1 0v1m1-5v1m1-12v1m1-5v2m1-3v1m1-30v1m0 3v1m1-3v1m0 57v2m1-3v2m1-58v1m0 13v2m0 36v3m1-52v2m3 28v1m1-13v3m0 36v1m3-8v2m1-13v4"/><path stroke="#13a080" d="M21 247v3m2-36v2m1 55v2m1-4v2m2-15v1m1-5v2m1-22v2m0 15v2m1-15v2m1-2v1m0 36v2m1-3v2m2-16v1m1 0v1m1 4v1m1-42v1m1 6v3m1-20v1m0 23v1m2 35v1m1-47v1m0 28v2m1 5v1m1-28v6m0 27v1m1-23v3m1-7v1m3-18v2m1-5v2m2-14v1m0 1v1m4 17v1m3 10v1m1 23v4m2-58v1m5 30v2m1-5v1m1-3v1m1-3v1m1-7v2m1 26v2m1-36v1m0 30v2m1-9v1m1-4v1m1-4v1m5-21v2m1-10v1m7 0v1m1 3v1m2-2v1m1-1v1m2 25v1m1-4v1m1-6v1m2 11v1m6 13v1m2-2v1m2-18v3m1-36v2m0 29v1m1-31v4m0 25v1m2 30v1m1-40v1m0 35v3m1-45v3m0 36v2m3-14v1m1-8v2m1-13v1m1 39v1m1-1v1m1-10v2m1-37v1m0 23v2"/><path stroke="#18a070" d="M21 250v3m1-8v3m1-35v1m0 2v1m1-4v1m0 59v1m1-3v2m2-16v1m1-4v1m1-4v1m1-14v2m1-3v1m0 37v2m1-3v2m2-17v1m1 0v2m1 3v1m1-17v1m1-17v2m1-21v1m0 23v1m1 3v1m2-15v1m0 29v1m1-32v1m0 36v2m1-31v1m0 6v1m2 1v2m1-4v1m2-15v2m1-5v1m1 2v1m2 17v6m6-9v2m1 18v3m1-47v1m1-9v1m0 7v1m3-8v1m1 40v1m1-9v2m1-6v1m1-3v1m1-3v1m1-13v1m0 6v2m1 26v1m1-36v1m0 31v1m1-9v2m1-5v1m1-22v1m0 17v1m1-2v1m1-5v1m2-23v1m1 7v2m1-11v4m7-5v1m2 4v1m1-1v1m1-1v1m1 29v1m3-13v1m5-23v1m1 56v1m1-60v1m2 46v1m1-1v1m2-20v3m1-31v1m0 27v1m2 38v1m1-47v1m0 35v2m1-58v1m0 17v1m0 34v2m1-52v1m0 7v2m0 38v1m1-8v1m1-4v1m2-11v2m1 28v1m2-63v1m0 61v1m1-65v1m0 21v1m0 30v3m1-36v1"/><path stroke="#e52d9d" d="M21 254v1m0 6v3m1-10v1m1-6v3m1-7v2m1-16v10m1-14v2m1-18v1m0 14v2m1-2v2m0 47v2m1-66v1m0 1v1m0 1v1m0 7v1m0 49v1m2-24v1m1-5v2m1-23v1m1 6v2m1 3v2m1 1v1m2 14v1m1 5v2m1 4v1m5-43v1m1-5v2m0 39v1m1-46v1m1 27v2m1-4v2m1-4v2m2-11v1m1 0v1m2 2v1m3 17v1m1-36v5m0 40v2m1-41v2m0 10v1m2 7v2m0 4v1m1-11v1m1-3v1m1-4v1m1-11v2m1-15v1m3-3v1m0 43v1m1-15v1m2-19v1m0 13v1m1-7v1m1-21v1m0 17v1m1-15v2m1 38v2m1-29v1m0 18v1m2-23v1m6-3v2m1-4v1m1-2v1m3 20v1m2-6v1m1-21v1m1 5v1m1-3v1m4 43v1m8-45v2m0 15v1m1-17v3m0 5v1m0 33v1m1-1v1m1 0v1m2-10v1m1-3v2m1-13v5m1-11v1m1-25v1m0 63v1m1-63v1m0 61v1m1-9v3m1-55v2m0 9v2m3 20v1m1-11v2"/><path stroke="#e83c70" d="M21 255v4m2-14v2m1-7v2m2-30v1m0 11v2m1-5v2m0 51v2m1-59v4m0 52v1m1-50v1m1-14v1m1 1v1m0 34v1m1-6v2m2-17v2m1 3v2m0 42v1m1-6v1m2-21v1m1 4v2m1 6v1m1-37v5m0 5v3m0 2v3m1-11v1m1 0v1m2-17v2m1-5v1m1-6v1m0 53v1m1-31v6m1-4v2m1-3v1m2-9v1m1-2v2m1 0v4m0 4v2m1-6v1m3-17v1m1-3v1m0 42v2m1-43v1m1 4v2m0 8v3m1 4v2m1-4v1m1-3v1m1-3v1m1-23v1m0 9v2m3-13v1m1 40v1m3-18v1m2-24v1m2 9v2m0 26v2m1-27v1m0 18v1m1-20v1m0 15v1m6-20v2m1-4v1m1-3v1m1-2v1m3 21v1m1-4v1m1-4v1m1-24v1m1 8v1m1-9v3m0 2v2m3 49v1m4-15v1m3-12v1m1 36v1m1-65v2m1-1v2m0 12v1m0 33v1m1-48v2m0 5v2m0 38v1m1-1v1m3-10v1m1-5v3m1-18v1m1-3v1m0 41v1m1 0v1m1-68v1m0 21v1m0 39v1m1-43v1m0 25v1m1-39v5m2 27v1m1-9v3"/><path stroke="#e83485" d="M21 259v2m1-8v1m1-7v2m1-7v3m1-20v6m1-18v1m0 12v1m1-14v1m0 9v3m0 50v3m1-58v5m0 48v1m1-63v1m0 59v1m1-60v1m0 44v1m1-10v1m1-5v1m1-22v1m1 5v2m1 3v2m1 36v1m2-21v2m1 4v2m1 5v1m1-25v2m1-7v1m1 0v1m2-16v2m1-6v2m0 40v1m1-48v3m1 19v1m0 6v2m1-4v2m1-4v2m1-16v1m0 21v1m1-17v1m1-1v2m0 1v1m1 0v4m4 16v2m1-39v1m0 43v2m1-44v5m1 1v8m1 9v2m1-5v1m1-3v1m2-24v1m0 9v1m0 29v1m4-2v1m2-16v1m2-10v1m2-4v1m1-3v1m0 27v2m1-28v1m0 18v1m1-20v1m0 15v1m1-20v1m0 15v1m5-16v1m1-4v1m1-3v1m1-2v1m4 18v1m1-4v1m2-25v1m0 9v1m1-11v1m0 7v1m1-8v1m9 67v1m1-39v1m0 36v1m1-62v2m0 18v1m1-20v2m0 9v1m0 33v1m1-45v5m0 39v1m2-3v1m2-8v1m1-9v5m1 25v1m2-44v1m0 42v1m1-7v2m1-58v1m0 13v2m0 25v1m1-2v1m1-3v1m1-4v1m1-10v2"/><path stroke="#e028b8" d="M21 264v3m1-12v1m1-4v2m1-7v3m1-26v1m0 16v5m1-17v2m1-19v1m0 15v1m1-1v2m0 47v2m1-65v1m0 1v1m0 5v1m0 51v2m1-62v2m1-2v2m0 35v1m1-37v1m0 32v1m1-23v1m1 7v3m1 2v1m1 34v2m2-20v2m1 5v1m1 4v1m2-31v1m1 0v1m2-14v2m1-5v2m0 38v2m1-47v1m1 16v1m0 11v1m1-3v2m1-4v2m1 3v1m1-16v1m0 20v1m6-2v1m1-30v3m1 0v3m2 17v2m1-7v2m1-4v1m1-4v1m1-24v1m0 13v1m0 27v1m1-43v1m3-1v5m7 7v1m0 30v3m1-12v2m1-22v1m0 15v1m1-19v1m6-2v1m1-4v1m1-2v1m1 0v1m2 19v1m1-4v1m1-3v1m1-25v1m0 1v1m0 1v1m3 38v1m1-45v1m4 42v1m4-14v1m0 36v1m1-61v2m0 20v1m0 36v1m1-57v2m1 0v5m0 33v1m4-9v1m1-4v2m1-14v3m2-29v1m1 61v1m1-61v1m0 16v1m0 29v6m1-50v3m0 3v3m0 28v1m2-4v1m1-6v2m1-11v1"/><path stroke="#db2dcd" d="M21 267v3m1-14v1m1-3v2m1-6v2m1-6v2m1-17v3m1-5v2m1-1v2m1-15v5m0 54v3m1-63v1m1-1v1m0 35v1m1-37v1m0 32v2m1-24v2m1 8v2m1 1v1m1 35v1m2-19v2m1 4v2m1 3v1m2-31v1m1 0v1m2-13v1m0 36v3m0 2v1m1-46v1m0 39v2m1-48v2m1 27v1m1-2v4m0 4v1m1-11v3m1 1v1m4-13v1m3-18v1m1 6v2m1 1v3m0 3v1m2 12v2m1-7v2m1-5v1m1-4v1m1-10v1m0 27v1m4-45v1m0 5v1m1 4v1m0 17v1m1-19v1m0 15v1m1-3v1m1-7v2m1-4v1m1-3v1m1 31v2m1-33v1m0 20v1m1-22v1m0 15v1m1-19v1m0 13v1m7-19v2m1-3v1m4 17v1m1-3v1m4-26v1m8 29v1m0 25v3m1 5v2m1-58v2m0 54v1m1-54v2m0 10v1m1 24v1m1 0v1m1 0v1m2-11v1m1-6v3m1-13v1m1 37v1m1-2v1m1-3v2m1-44v1m0 27v3m1-41v3m1 30v1m1-4v1m1-7v2m1-11v2"/><path stroke="#d530dd" d="M21 270v4m1-17v2m1-3v1m1-5v2m1-6v2m1-16v2m1-5v2m1-1v1m3-16v1m0 35v2m1-38v1m0 33v1m1-23v5m1 5v1m1 1v1m1-1v1m2 18v2m1 4v1m1 3v1m2-31v1m1-30v2m0 28v1m2 20v3m0 3v2m1-44v2m0 39v2m1-48v1m1 12v1m1 16v4m1-7v3m1-1v1m4-13v1m3-18v5m0 26v1m1-24v2m1 2v3m3 10v2m1-6v2m1-5v1m1-10v2m0 26v2m1-45v1m1-2v2m2-4v1m1-2v1m0 1v3m0 2v2m0 3v1m0 19v1m0 2v4m1-27v1m2 10v1m2-21v1m1 12v1m0 34v1m1-33v1m0 20v2m1-23v1m0 15v1m1-5v1m7-18v2m1-4v2m1-2v1m3 17v1m1-3v2m1-21v3m2-2v1m1-8v5m0 38v1m2 9v1m4-15v1m2 13v2m0 3v5m0 3v1m1-40v1m0 27v8m1-54v3m0 14v1m0 34v2m1-51v2m4 33v1m1-10v1m1-7v2m1-11v1m2 36v1m1-3v1m1-57v1m0 12v2m0 27v1m1-5v1m2-5v1m1-9v3"/><path stroke="#d030e8" d="M21 274v2m1-17v1m1-3v1m1-4v1m1-5v2m1-16v3m1-6v1m1-1v1m2-17v3m0 39v1m1-42v2m0 35v1m1-38v2m0 32v2m1-20v7m0 26v1m1-28v2m1 0v1m2 32v2m1-15v2m1 3v2m3-28v1m1-29v2m0 27v1m2-14v1m0 30v2m1-34v1m0 40v1m1-48v2m3 27v6m1-6v3m4-15v1m3-14v3m1 2v2m4 15v1m1-5v2m1-6v1m1-9v2m1-18v1m0 3v7m1-11v1m2 3v1m0 35v1m1-45v1m0 3v2m0 2v3m0 21v2m0 4v1m1-37v2m0 4v3m1 16v1m1-5v1m1-5v1m2-4v1m1 2v1m0 21v1m1-7v1m1-20v1m0 14v1m8-19v2m1-3v1m3 17v2m1-3v2m1-29v1m0 8v1m0 14v6m1-21v1m2-5v1m0 38v3m1-32v1m0 24v2m0 14v1m1-44v1m2 11v3m1 12v1m1 25v1m2-53v5m0 9v1m0 23v1m0 10v3m1-56v6m0 9v2m0 26v2m1-43v2m0 10v2m0 33v2m1-47v3m0 4v1m1 24v1m1 0v1m3-12v2m1-10v4m2-34v2m0 61v1m1-65v1m0 61v1m1-41v1m0 35v3m1-55v1m0 9v2m0 28v1m2-5v1m1-5v1m1-10v2m1-7v1"/><path stroke="#bb40ed" d="M21 276v2m1-18v1m0 12v1m1-16v1m1-4v1m1-4v1m1-14v2m1-7v2m1-2v2m2-16v1m1-1v1m0 35v1m1-37v2m0 32v3m1-16v20m0 5v1m1-25v1m1 0v1m1-2v1m1 31v1m1-11v3m1 2v2m1 0v1m2-30v2m1-29v1m0 27v1m2 15v1m1-31v2m1-7v2m1-13v1m1-3v1m1-1v1m0 45v3m1-6v2m1-1v1m6-27v2m0 20v1m1-19v2m4 14v1m1-4v2m1-7v1m0 16v1m1-25v1m1-18v3m0 7v3m1-13v6m1-6v3m2 31v1m1-39v1m0 2v4m0 21v1m1-30v1m0 1v2m1-5v1m0 2v1m0 21v1m1-5v1m1-16v1m0 11v1m1-1v1m1 2v1m0 21v1m1-24v1m0 16v1m1-5v1m8-18v2m1-4v1m3 18v2m1-3v2m1-27v2m0 4v1m0 12v1m0 6v1m2 16v5m1-46v1m0 40v4m1-52v1m0 39v1m0 2v7m0 6v1m1-18v2m2-16v1m0 3v4m0 12v1m1-6v1m1-2v1m0 25v2m1-30v1m0 21v9m1-54v1m0 5v9m1-19v1m0 6v9m1-11v4m0 3v3m0 32v3m1-42v4m3 27v1m2-16v3m1-12v4m1-6v1m1-22v1m0 19v1m1-2v1m0 36v2m1-9v5m1-51v2m0 1v6m0 29v1m2-5v1m1-5v1m1-11v2"/><path stroke="#ab4df3" d="M21 278v1m1-18v2m0 11v2m1-17v1m1-4v1m1-4v2m1-14v3m1-8v1m1-1v1m2-16v1m1-1v2m0 34v1m1-36v2m0 33v2m1 2v5m1-23v2m1-1v1m1-2v1m1 29v1m1-7v3m1 1v2m1-1v1m2-29v2m1-30v2m0 26v2m2 12v1m1-28v1m1-6v2m1-17v1m0 21v1m2 26v2m1-6v2m7-27v1m1 3v1m4 14v1m1-3v3m1-9v2m0 13v1m1-23v2m1-7v2m1-9v5m1-13v2m0 3v2m1-1v1m1 30v1m1-41v1m1-2v1m0 1v1m0 2v5m1-9v2m0 23v1m1-24v1m0 18v1m1-4v1m1-1v1m1 24v1m1-7v1m1-21v1m0 15v1m8-17v1m1-4v2m3 18v1m1-2v2m1-22v1m0 10v1m0 8v1m2-24v1m1-2v1m0 43v3m1-57v1m0 40v1m0 10v6m1-18v1m0 2v6m0 6v1m1-19v6m1-8v9m0 2v1m1-11v6m1 24v1m1-7v1m1-46v1m0 38v1m1 0v1m1-35v3m0 33v2m2-11v1m1 0v1m3-17v3m1-10v1m1-25v1m1 2v1m0 57v1m1-7v3m1-56v1m0 16v1m0 28v3m1-44v1m1 32v1m2-9v3m1-12v2m0 38v1"/><path stroke="#7c9020" d="M22 211v1m0 1v2m0 5v1m1 13v2m4 26v1m1-1v1m1 0v2m1-19v1m2-8v1m1-28v1m1 0v4m0 50v7m1-59v3m0 51v1m1-59v1m0 57v1m1-57v2m0 23v3m1 1v1m1 1v1m1 0v1m1-20v1m0 22v1m0 9v3m1 8v4m2-42v1m2 22v1m1-4v3m1-5v3m1-20v1m0 28v2m2-27v2m1-3v1m0 5v1m0 8v1m1-39v2m0 26v1m5-24v1m1 33v1m1-12v1m2-14v3m1-1v3m1-4v3m1-5v1m3 23v1m1-7v2m2-9v1m1-5v1m1-7v1m2 24v1m1-3v2m1-9v1m1-32v1m1 0v2m1 4v1m0 13v1m1-4v1m1-6v1m0 7v1m1-19v1m0 1v1m2-7v1m4 4v1m1 11v2m1-5v1m1-3v1m1-1v1m2 22v2m1-2v2m1-2v2m1-6v7m3-28v6m1-9v7m0 7v1m1-18v2m0 2v2m0 35v1m1-38v2m0 30v3m0 7v5m1-47v2m0 2v1m0 20v1m1-34v1m0 4v1m0 2v3m1-12v1m0 34v1m1-35v1m0 29v1m1-6v1m1 0v1m2-3v1m0 41v1m1-62v13m0 30v1m1-1v1m1-1v1m2-12v3m1-14v2m1 39v1m1-7v1m1-3v2m1-58v1m0 16v1m0 29v2m1-47v1m0 9v2m1 24v1"/><path stroke="#2ba050" d="M22 243v1m1-23v3m1-9v3m0 3v6m0 49v1m1-65v1m0 10v1m0 51v2m1-13v1m1-6v1m1-3v1m1-4v2m1-15v1m1-3v1m2 29v9m1-17v1m1 1v1m1 3v1m1-43v2m1-15v2m0 23v1m1 2v1m3-11v1m0 30v2m1 4v1m1-25v1m0 26v1m2-24v3m1-6v1m2-14v1m1-4v2m1-1v2m1-17v1m0 31v2m1-5v1m5-33v2m1 34v1m1-35v2m0 29v3m0 14v1m1-10v2m1-33v1m1-8v6m1-5v1m0 3v2m1-4v3m2 29v1m1-6v2m2-8v1m1-4v1m1-10v1m0 1v2m2 23v2m1-7v1m1-3v1m3-12v1m1-19v1m0 14v1m1-6v1m1-7v1m1-11v1m5-1v1m1 4v1m1 5v1m1-2v1m1-2v1m1-1v1m3 21v1m1-4v2m5-28v1m0 21v1m1 35v1m1-61v1m0 2v2m0 52v1m1-21v3m0 8v2m1-4v2m1-1v1m3-44v1m1 24v1m2 26v1m1-52v1m0 12v2m0 33v2m1-3v1m1-7v1m2-7v1m1-14v4m2-30v1m1 60v1m1-15v2m1-45v3m0 9v2"/><path stroke="#e34460" d="M22 252v1m1-9v1m1-7v2m2-18v2m1-5v2m0 51v2m1-58v1m0 55v1m1-48v1m0 45v1m1-60v1m0 44v1m1-11v1m1-6v1m2-17v2m1 3v2m0 43v1m1-38v1m2 11v1m1 3v2m1 7v1m1-37v1m0 5v5m2-3v1m2-18v2m1 39v1m1 5v1m2-29v1m2-15v1m1 3v2m1-4v3m0 6v1m1-7v2m0 10v1m5 16v2m1-42v1m0 19v1m1-17v2m0 13v5m1-2v1m4-19v1m3-10v1m1 38v1m1-13v1m2-7v2m1-7v1m2-18v1m1 7v3m0 26v2m1-26v1m0 18v1m1-21v2m0 15v1m1-19v1m4 3v1m1-7v2m1-4v2m1-4v2m1-2v1m1 3v1m2 17v1m1-4v1m1-4v1m1-22v1m1-1v1m0 4v3m1-5v2m12-2v1m1 0v1m0 15v1m0 33v1m1-50v1m0 9v1m0 38v1m1-48v3m0 44v1m2-11v1m2-2v2m1-19v1m2 40v1m1-6v1m1-43v1m0 25v2m1-43v2m0 5v3m0 29v1m1-3v1m2-9v3"/><path stroke="#a058f8" d="M22 263v2m0 11v2m1-18v1m1-4v2m1-4v1m1-12v1m1-8v2m1-2v1m2-16v1m1 0v1m0 34v1m1-35v2m0 33v1m2-15v1m1-1v1m1-2v1m1 7v8m0 12v1m1-3v3m1 0v1m1-1v1m2-28v1m1-29v1m0 27v2m1-4v2m1-16v1m0 26v1m1-26v1m1-5v3m3 31v1m1-5v1m7-27v1m0 17v1m5 0v1m1-1v2m1-9v2m0 9v2m1-20v1m1-6v1m1-5v2m1-8v3m1-3v1m2-12v1m0 30v1m1-22v2m0 17v1m1-26v1m0 22v1m1-24v2m0 17v1m2-4v1m1 1v1m0 22v1m1-25v1m0 17v2m1-6v1m9-19v1m4 18v1m1-22v1m0 19v1m1-23v2m1-3v1m1-2v1m0 45v1m1-51v2m1-9v1m0 38v1m0 9v6m1-20v2m0 6v3m0 6v1m1-9v2m1-18v8m1 2v3m0 24v1m1-7v1m2-6v1m1 1v1m2-10v1m3 1v1m1-23v6m0 36v1m1-45v1m1-25v1m1 60v1m1-9v3m1-52v1m0 13v2m0 28v1m1-6v1m2-6v2m1-9v2m1-10v1m1 39v1"/><path stroke="#9363f3" d="M22 265v2m0 11v1m1-18v1m1-3v1m1-4v2m1-13v2m1-8v1m1-2v1m2-16v2m1-1v2m0 33v1m1-34v2m0 32v2m2-16v1m1-1v1m1-2v2m1 4v1m0 8v5m0 5v2m1 1v2m1-1v1m1-1v2m2-29v1m1-29v2m0 27v2m1-4v4m1 4v3m1-24v1m1-3v2m1-21v1m0 19v1m3-7v1m7 6v1m1 2v1m4 15v1m1 0v3m1-10v3m0 5v1m1-17v1m1-6v2m1-5v2m1-7v3m1-5v1m2 19v1m1-3v1m1-26v3m1-2v1m0 17v1m1-18v1m0 12v1m1 0v2m1 0v1m0 22v2m1-7v1m1-6v2m1-8v1m8-13v2m4-20v1m0 36v2m1-23v1m0 7v1m1-10v1m1-3v1m1-2v2m1-11v4m0 2v2m2-10v1m0 44v6m2-25v1m1 0v10m1-15v6m4 32v2m2-15v1m1 1v1m2-25v1m0 41v1m1 0v1m2-67v1m0 57v1m1-59v3m0 16v1m0 28v3m1-48v1m0 9v3m0 28v2m3-11v1m1-10v3m2-9v1"/><path stroke="#806ded" d="M22 267v2m1-7v1m1-3v1m1-3v2m1-13v1m1-8v2m1-3v1m2-15v1m0 52v1m1-53v1m0 33v1m1-33v1m0 33v1m2-16v1m1-1v1m1-1v1m1 17v5m1 5v2m1-2v1m1-65v1m0 9v2m1-12v1m1-1v1m0 36v1m1-28v1m0 28v1m1-1v2m1 1v1m2-21v2m1-21v1m0 16v1m10 2v1m0 14v1m5 3v1m1 2v3m1-10v5m1-15v2m1-6v1m1-4v1m1-5v2m1-6v1m1 28v1m1-10v1m2-26v1m0 19v1m1-22v1m0 17v1m1-18v1m0 12v2m1 0v1m1 24v1m1-7v2m1-6v1m1-10v1m8-10v1m4 18v1m1-23v1m0 5v1m1-8v2m1-4v2m1-2v1m1-4v3m0 3v1m1 20v1m2-37v1m1 23v1m1-1v2m0 36v1m1-43v1m0 6v10m3 16v1m1 2v3m0 2v1m1-18v1m3 0v2m1-24v1m1-24v1m2-3v1m0 57v3m1-11v1m1-44v9m2 25v1m1-6v2m1-12v3m1 35v1m1-64v3m0 59v1"/><path stroke="#6878e8" d="M22 269v4m1-10v2m1-4v1m1-2v1m1-13v2m1-8v1m1-3v1m2-15v1m0 33v1m1-34v1m0 33v1m1-33v2m0 32v1m2-16v2m1-2v2m1-2v2m3-34v6m1-3v2m0 2v14m2-25v5m0 32v1m1-28v1m0 28v2m1-1v13m1-34v1m0 20v1m1-19v1m1 0v2m1-22v2m0 13v1m1-19v1m1-1v1m2 21v1m5 5v2m1-7v1m1 1v1m4 16v1m1 4v1m2-19v1m1-6v1m1-4v2m1-5v1m1-6v1m2 19v2m1-5v1m1-23v2m0 18v1m1-22v1m0 17v1m1-18v1m0 13v1m1 0v1m1-1v1m0 24v1m1-6v1m1-26v1m0 19v2m9-20v1m4 18v1m1-23v2m0 2v1m0 13v1m1-19v3m1-5v3m1-4v1m1-2v3m2-15v1m1-2v1m0 1v2m2 20v1m1 32v1m1-6v1m1-1v1m2 2v2m1-13v1m1 1v1m1 1v1m1-17v14m1 20v1m1-68v2m0 22v1m0 43v1m1-45v1m0 44v1m1-47v1m0 32v2m1-38v2m0 27v1m1-4v1m1-4v1m1-4v1m1-7v2m0 33v1m1-45v1"/><path stroke="#69952b" d="M23 231v3m1-23v1m0 19v1m1-21v1m0 3v3m1 48v7m0 4v2m1-18v1m1-2v2m1-2v3m1-18v1m1-5v1m3-30v1m0 52v2m1-56v1m0 55v2m2-34v3m0 10v1m1-9v2m1 1v1m1 0v1m1 5v9m0 13v1m1-41v1m0 34v3m1 1v2m3-19v1m1-6v3m1-3v1m1 14v2m1-33v2m1-1v3m1-21v1m0 26v1m1-32v1m3 16v1m1-4v1m1-13v4m1 33v1m2-4v1m1-23v2m1-1v3m1-3v2m1-4v2m2 26v1m1-5v2m1-7v1m1-5v1m2-8v1m3 17v2m1-3v1m2-39v1m1 23v1m1-24v2m0 18v1m1-4v1m1-6v1m1-13v3m0 1v1m2-7v1m5 15v2m1-5v2m1-3v1m1-1v1m1 27v2m1-7v1m1-2v2m1-2v2m1-8v4m0 7v1m1-4v1m2 12v1m1-27v1m0 23v1m1-47v2m0 4v2m0 38v11m1-50v1m0 35v7m0 5v1m1-57v2m0 2v5m1-9v1m0 1v1m0 32v1m1-34v1m0 33v2m1-6v13m3-17v1m2-24v1m0 13v2m0 29v2m3-7v1m1-5v1m1-13v5m1-10v1m1-24v2m1-3v1m0 61v1m1-10v3m1-51v1m0 12v2m0 24v1"/><path stroke="#dd504b" d="M23 243v1m1-7v1m2-17v1m1-4v1m0 51v2m1-59v3m0 55v1m1-46v1m0 43v1m1-15v1m1-46v2m0 33v1m2-24v1m1 1v1m1 3v2m1 7v1m2 11v1m1 2v2m1 7v2m1-17v1m1-13v1m1-1v1m2-18v1m1-5v1m0 2v1m1-6v1m2 23v2m2 8v1m1-21v2m1-4v2m1-1v4m0 13v1m1-9v1m4 22v1m2-37v1m0 20v3m1-6v1m1-2v1m2-5v1m1-15v2m3-8v1m1 35v2m2-27v1m1 6v2m2-22v1m0 15v1m2-12v3m0 28v1m1-25v1m0 18v1m1-21v1m1-2v1m0 16v1m4-16v3m1-7v1m1-4v2m5 19v1m1-4v1m1-4v1m2-20v1m0 1v2m7 39v1m3-13v1m3-6v1m1-7v2m0 32v1m1-40v5m0 34v2m1-47v1m0 44v2m1-6v1m2-7v1m1-1v1m1-19v1m0 38v1m1-1v1m2-4v1m1-16v3m1-48v2m0 10v2m0 28v1m3-9v1"/><path stroke="#537ddd" d="M23 265v1m1-4v1m1-2v2m1-13v3m1-10v2m1-4v1m2-15v1m0 49v1m1-50v2m0 32v1m1-32v2m0 31v1m2-15v1m1-1v1m1-1v3m1-3v1m2-29v3m1-7v1m0 18v2m1-25v1m1 2v2m0 31v1m1-28v1m0 29v2m1 10v1m1-34v1m1 2v1m1 1v1m1-21v3m3-9v1m6 25v3m1-4v2m0 10v1m4-36v1m1 41v1m3-14v1m3-12v2m1-7v2m1 26v1m1-8v3m1-7v1m1-22v1m0 18v1m1-22v1m0 17v1m1-4v1m1 0v1m1 24v1m1-29v1m0 22v1m1-5v1m9-20v1m2-23v2m2 0v1m1 17v2m1-1v3m1-5v3m1-6v2m2-14v6m0 5v1m1-13v3m1-1v2m2 17v1m1-4v1m3 32v1m2-12v2m1 0v2m1-1v3m1-19v3m3-33v1m0 67v1m1-15v2m1-39v3m0 28v1m3-10v1m1-9v3m0 34v1m1-45v1m1-2v1m1 38v1"/><path stroke="#4083d3" d="M23 266v2m1-5v1m1-1v1m1-11v4m1-12v2m1-5v2m2-16v2m0 46v1m1-47v1m0 32v2m1-32v1m0 31v1m2-15v1m1-1v2m1 0v2m3-30v2m1-10v1m0 21v1m1-28v2m0 1v3m0 56v1m1-56v1m0 31v1m1 3v2m1 9v1m1-34v1m1 2v1m1 1v1m1-19v2m0 7v1m1-17v3m7 20v1m1-8v8m1 1v1m4-25v2m1 40v2m1-46v1m2 30v1m1-7v1m1-3v1m1-3v1m1-6v2m0 27v1m2-8v2m1-8v1m1-22v1m0 18v1m1-22v2m0 16v1m1-19v1m0 14v1m1 0v1m1-2v1m0 25v1m1-6v1m1-5v2m11-42v1m1-1v1m1-2v1m0 1v1m2 20v3m1-5v2m0 25v1m1-32v2m2-19v1m0 1v1m0 6v5m1-15v1m0 5v4m0 4v1m1-15v1m2 62v1m5-9v1m0 8v1m1-23v1m1 0v2m1-4v5m1-17v1m1-27v1m0 20v1m0 41v1m1 0v1m1-1v1m1-46v1m0 29v2m1-48v2m0 2v7m0 30v1m1-3v1m2-8v1m0 29v2m1-42v3m2-30v1m0 61v1m1-3v1"/><path stroke="#3088c8" d="M23 268v2m1-6v2m1-2v1m1-8v4m1-14v2m1-5v2m2-16v1m0 30v1m0 13v1m1-45v1m0 33v1m1-32v1m0 31v1m2-15v1m1 0v1m1 1v2m2-39v5m1 4v2m1-15v3m0 23v1m1-23v2m1 0v1m0 31v1m1-29v1m0 32v2m1 8v1m1-34v2m0 15v1m1-15v1m1 1v1m1-18v2m1-8v1m1-4v1m1 7v3m6 4v1m1 10v2m0 6v1m1-10v1m3-23v1m1 41v1m1-46v1m2 30v2m1-8v1m1-3v1m1-3v1m1-5v1m1 24v1m1-4v1m1-8v1m1-3v1m1-21v1m0 16v1m1-19v1m0 14v1m1 0v1m2 19v2m1-5v1m10-44v1m2-2v2m0 1v1m3 23v5m1-8v3m1-7v1m2-19v1m1 7v4m1-7v1m1 17v1m4 26v1m1 0v1m1 0v1m1-15v2m1-1v2m1-5v3m1-13v1m1-29v1m0 1v1m2 63v1m1-46v1m0 29v1m1-44v2m2 32v1m1-7v2m0 29v1m1-42v2m0 39v1m1-1v1m1-66v2m1 0v1m0 54v2"/></g><path d="M103.7 291.1 L103 279.3 L102.1 267.4 L101.3 257.9 L100.2 267.4 L99 269.8 L97.8 268.6 L96.1 263.9 L94.7 255.6 L93 248.5 L91.4 241.3 L89.5 233 L87.6 225.9 L85.9 223.6 L84.3 227.1 L82.4 234.2 L81.4 241 L80.8 250 L80.2 258.9 L78.9 261.6 L77.1 262.3 L75.9 261 L75.3 253.6 L74.2 254.9 L73.1 261.6 L72.2 258.9 L71.5 256.2 L70.4 258.3 L69.5 256.9 L68.5 258.9 L67.5 262.3 L66.8 258.9 L65.4 257.6 L64.1 258.9 L63.4 257.6 L62.1 260.3 L61.4 262.3 L60.5 268.4 L59.7 266.3 L59.1 262.3 L58.4 254.2 L58 246.2 L57.4 239.4 L56.7 235.4 L56 236.1 L55.1 240.8 L54.3 246.5 L53.3 251.5 L52.1 256 L50.8 260.5 L49.5 264.4 L48.2 266.3 L46.3 268.8 L44.4 271.4 L42.4 273.3 L40.5 274.6 L37.9 275.6 L35.4 276.5 L32.8 277.2 L29 277.4 L25.1 277.6 L21.3 277.8 L20.7 277.8 L20.7 293.7 L104.1 293.7 L103.7 291.1ZM125.5 275 L124 275 L123 277 L121.7 280 L121.5 293.7 L125.5 293.7 L125.5 275Z" fill="#b4b4b4" stroke="#000" stroke-width="0.9" stroke-linejoin="round"/><g stroke-width="1" fill="none" shape-rendering="crispEdges" transform="translate(.5 0)"><path stroke="#f0b020" d="M167 14v1m2 3v1m1 25v1m0 21v2m1-25v1m0 22v2m1-32v4m0 23v2m0 8v1m1-17v2m1-29v2m0 16v8m1-21v4m1-23v2m1 16v2m1 2v2m1-19v4m2 29v1m1 9v1m1-15v1m0 9v1m5-33v1m1 21v2m1-38v1m0 30v1m0 23v2m1-57v7m0 31v1m4-19v2m4-22v1m4-1v1m0 7v3m2 0v2m3-8v1m0 41v1m2 0v1m3-49v2m3 32v2m1-10v1m1-11v1m0 47v1m2-65v1m0 10v2m1-9v5m1 6v1m7 16v2m1 0v1m2-22v1m0 2v4m4-6v1m3 4v1m3-8v2m1-9v1m0 16v1m0 17v1m1-41v5m1 22v1m0 14v1m1-6v2m3-32v1m0 22v1m2-30v2m2-3v3m1-3v4m1 8v3m0 5v2m2-14v2m0 5v3m2 6v3m1-13v2m0 43v1m2-35v1m1 33v2m1 7v1m2-61v1m1-7v5m0 8v2m1-9v3m0 10v2m1 8v2"/><path stroke="#f8dd11" d="M167 15v1m2 3v1m1-6v1m0 28v1m0 24v1m1-28v2m0 25v1m1-43v10m0 29v1m0 5v2m1-14v2m1-33v2m0 26v3m0 17v3m1-47v3m1-17v19m1-1v1m1 3v1m1-16v3m2 27v2m1 8v1m1-18v2m0 11v2m4-39v1m1 2v1m2-13v2m0 26v2m0 26v1m1-51v2m0 28v1m1 16v1m3-36v1m4-19v2m4-2v7m2 5v1m3-8v1m6 7v2m1 29v2m1-14v1m0 13v2m1-24v1m0 19v1m1-31v1m1-5v1m1-11v2m0 6v2m1-2v5m0 24v7m1-29v1m1 8v1m3-26v1m3 28v3m1-21v1m0 21v1m2-14v2m4-7v1m3 2v1m3-10v3m1-6v1m0 34v1m1-37v1m0 22v7m1-9v1m0 16v1m1-32v6m0 17v2m3-32v2m0 24v1m2-29v1m0 31v3m2-35v3m2 16v2m0 23v1m2-43v3m0 10v2m1-11v6m0 38v2m1-34v3m1-12v2m0 46v1m1-37v1m1-1v1m1 8v7m0 17v2m1 6v3m1-68v1m1 8v1m1-10v2m0 20v7m1-23v2m0 15v3m0 34v6"/><path stroke="#d0d828" d="M167 16v1m2 3v1m0 37v6m1 5v2m1-31v1m0 28v1m1 0v1m1-57v4m0 43v7m1-41v1m0 31v3m0 12v2m1-46v2m1 5v8m1-8v1m1 3v1m1-9v3m2 21v1m1-17v1m1 5v1m0 15v2m1-49v6m2-2v5m1-2v1m1 2v1m1 46v1m1-57v1m0 54v1m1-50v2m0 25v1m1 18v2m2-37v1m1-3v1m4-16v1m1-4v4m1 4v1m4 5v2m3-9v1m2 3v9m1-11v5m1-7v3m2 6v1m1 30v1m1-16v1m0 16v1m1-4v1m3-44v6m1 5v4m0 18v2m0 7v3m1-31v1m1 8v2m3-27v2m3 18v8m1-29v4m0 8v5m0 14v2m2-11v2m4-8v1m3 0v1m3-18v9m1-2v2m0 33v1m1-17v2m0 7v2m2-27v2m0 11v12m1 12v1m2-44v1m0 27v1m2-29v2m0 26v3m2-29v2m2 16v1m0 21v1m1-32v5m1-20v3m0 17v2m1-20v1m0 12v12m0 3v6m0 5v12m1-35v3m1-11v2m0 49v1m1-39v1m1-1v1m1 16v3m0 12v2m1 7v1m1-64v1m1 8v1m0 26v3m1-11v6m1-30v1m0 20v2m0 22v3m0 13v3m1-32v2m0 2v5"/><path stroke="#84bf41" d="M167 17v2m1 5v1m1-4v1m0 33v3m0 6v3m1-52v1m0 26v1m0 28v1m1-33v1m0 30v1m2-53v1m1-5v2m0 9v2m0 35v2m0 8v2m1-60v1m0 13v2m1 15v7m1-14v1m1 3v1m1-7v3m2 19v1m1-19v1m0 25v1m1-21v1m0 18v1m1-52v2m0 6v1m1 31v4m1-41v3m1 1v2m1 2v1m1 30v1m0 5v2m1-46v1m1 6v1m0 23v1m3-19v3m0 6v1m1-10v1m4-14v2m1-2v2m1 11v1m1-9v1m3 6v1m1 0v1m2-10v1m2-1v3m0 9v4m0 9v2m1-28v2m0 5v2m1-11v2m0 3v3m1 4v1m1-1v1m1-6v1m0 19v1m0 15v2m1-19v1m0 18v2m1-28v1m0 22v1m1-34v1m3 3v3m0 13v2m0 12v2m0 8v3m1-43v1m1 9v1m2-24v9m1-11v2m3 9v7m1-4v3m0 10v1m1 2v5m1-30v1m0 15v1m4-8v1m3-2v1m1-1v1m3-8v2m0 32v1m1-20v2m0 11v2m2-31v2m1 36v1m2-46v3m2 2v1m1-7v2m1 6v1m2 16v1m0 19v1m1-33v2m0 5v2m1 0v2m1-24v2m1 12v4m1-10v2m0 52v1m1-41v1m1-1v1m1-7v2m0 25v3m0 7v2m1 8v1m1-62v1m0 62v4m1-58v1m0 22v3m0 3v3m1-8v3m1-35v2m0 23v2m0 17v3m1-11v2m0 18v2"/><path stroke="#40b050" d="M167 19v1m1 5v1m1-4v1m0 30v2m0 12v2m1-53v1m0 24v1m0 30v2m1-37v2m0 32v1m1-56v2m2-2v2m0 5v2m0 39v6m1-55v2m0 8v3m0 34v1m2-24v2m1 2v1m1-5v2m1-10v4m0 2v2m1 20v1m1-46v1m1 30v1m0 20v2m1-45v2m1 28v1m0 4v2m1-46v3m1 3v1m1 3v1m1 32v5m1-43v1m1 28v1m1-35v3m2 12v2m0 10v2m3-29v5m2 1v1m1-1v1m2 1v1m3 8v1m3-9v1m1-10v1m0 46v4m1-46v3m0 16v1m0 5v3m1-27v1m0 9v2m1-15v2m1 13v2m1-2v1m1-6v1m0 17v1m0 18v5m1-25v1m0 21v2m1-31v1m0 24v1m1-36v1m3 7v1m0 10v2m0 16v8m1-39v1m1 9v2m1-31v1m0 9v13m1-21v3m0 9v2m1-11v2m3 5v2m1 12v4m1 1v2m1-26v1m0 17v2m4-9v1m3-4v1m4-5v4m0 29v1m1-6v2m1-31v3m1-6v1m1 37v1m2-46v1m2 6v2m1-7v2m1 5v1m1 3v3m1 28v1m1-33v1m0 9v2m1 0v2m2-16v4m1-7v1m0 55v2m1-44v1m1-1v1m1-4v9m0 19v7m1 9v1m1-60v1m0 58v3m1-53v1m0 19v2m0 9v2m1-7v2m1-40v3m0 27v2m0 13v2m1 14v3m1-7v2"/><path stroke="#22b07c" d="M167 20v2m1 4v1m1-4v1m0 28v1m0 16v1m1 4v1m1-61v1m0 20v2m0 35v2m1-59v1m3 5v4m2 16v1m1 2v1m0 32v1m1-37v1m1-19v8m1 4v1m0 24v1m1-46v2m0 22v1m0 27v1m1-24v1m0 23v2m2-18v1m0 7v2m1 5v4m1-52v1m1 3v1m1 8v1m1-13v1m1 26v1m1-31v2m2 8v2m0 14v2m3-26v5m2-3v1m0 26v8m1-35v1m1-6v1m8-2v1m1-2v5m1-1v2m0 12v1m1-17v1m0 40v2m0 1v2m1-28v4m1-5v1m1-6v1m0 15v1m1-2v1m0 24v1m1-33v1m0 26v1m4-19v1m2-1v1m1-31v2m0 1v6m0 13v1m1-24v2m0 14v2m0 25v9m1-45v2m3 1v2m1 12v2m1-13v4m0 12v2m1-25v1m0 20v2m4-10v1m1-20v5m1 21v2m2-13v1m4-5v2m0 28v1m1-33v1m0 3v3m1-10v1m1 37v1m1-34v2m0 4v3m3-11v2m0 6v1m1-14v2m1 4v1m1 5v5m1-17v1m0 38v1m1-34v2m0 12v1m0 25v1m1-25v1m2-19v2m1-4v1m0 58v1m1-46v1m1-1v1m2 40v1m1-58v2m0 54v2m1-49v1m0 17v1m0 13v2m1-7v2m1-10v3m0 6v4m1 19v4m1-9v2"/><path stroke="#10b0a0" d="M167 22v3m1 2v2m1-5v1m0 25v2m1-35v1m0 22v1m1-26v2m0 14v4m0 39v2m1-62v1m3 48v1m2-22v2m1 32v1m2-59v5m1 10v2m0 26v1m1-45v1m0 50v1m1-27v2m0 26v2m2-21v1m0 10v2m1-22v2m0 21v2m1-49v1m1 2v2m1 8v1m1-11v1m1 9v2m0 12v2m1-28v3m1-8v1m0 53v1m1-44v2m1-13v1m1 53v1m3-47v1m0 33v3m1-37v1m1-8v1m1 1v2m5 49v1m1-45v1m1-9v1m2 0v1m0 15v1m1-20v2m0 38v3m1-19v4m1-8v2m1-7v1m0 13v1m2-9v1m0 28v2m1-40v1m0 41v2m4-28v3m1 1v2m1-6v1m1-11v1m0 21v3m1-34v1m3-2v2m2 2v1m0 4v5m0 3v4m1 0v1m4-10v1m1-16v3m1 16v2m1-12v1m1-1v1m4-2v1m0 28v2m2-40v2m1 37v1m1-35v2m0 9v2m3-11v6m1-11v2m1 3v1m1 9v7m1-28v4m0 38v1m1-34v1m0 15v1m0 23v1m1-23v2m0 20v2m2-44v1m1 58v1m1-48v1m1-1v1m1-18v1m1 57v1m1-2v1m1-46v1m0 15v1m0 16v1m1-6v1m0 25v1m1-34v6m1 27v1m1-8v2"/><path stroke="#10b0b2" d="M167 25v9m0 33v6m1-44v1m0 35v5m1-45v1m0 22v2m1-32v1m0 20v1m1-15v6m4 33v1m0 12v2m2-35v3m0 30v1m1-32v1m0 28v1m2-61v3m1-4v2m0 15v2m0 29v1m1-45v1m0 50v1m1-29v1m0 30v1m1-36v10m0 27v2m1-38v2m0 9v2m0 13v2m1-22v1m0 19v1m1-48v1m0 27v1m1-26v1m0 52v2m1-45v1m1-9v1m1 10v1m0 9v2m1-23v3m1-10v4m1 4v2m1-10v2m4 6v2m2-11v1m1-1v3m6 8v1m1-9v1m2-3v2m0 17v1m1-3v1m0 19v2m1-12v5m0 3v5m1-19v1m1-7v1m0 11v1m2-9v1m0 31v1m1-42v1m0 32v2m0 5v3m4-13v2m1-9v2m1-7v2m1-12v2m0 16v3m1-30v2m2 27v6m3-23v3m1-20v1m0 24v2m5-24v3m1 11v2m1-11v1m1-1v1m4 30v1m2-42v1m1 37v2m1-35v1m0 13v2m4-16v1m1 3v2m1 17v3m0 6v3m2-35v1m0 17v1m0 21v1m1-20v3m0 15v2m3-47v1m0 64v2m1-52v2m1-1v1m1-18v1m1-1v7m0 51v1m1-53v1m0 50v1m1-44v1m0 12v2m0 18v2m1-7v2m0 21v2m3-5v3"/><path stroke="#15abcc" d="M167 34v2m0 30v1m0 6v1m1-44v1m0 32v2m0 5v1m1-45v2m1-9v1m0 18v1m5 26v2m0 9v1m2-30v1m0 28v1m1-30v2m0 24v2m2-61v1m1 1v5m0 5v5m0 32v1m1-45v1m0 50v1m1-55v1m0 23v1m0 32v1m1-38v1m0 10v2m0 23v2m1-34v3m0 2v4m0 17v10m1-31v1m0 17v1m1-48v1m0 29v1m0 24v4m1-61v1m0 2v3m0 51v2m1-59v1m0 14v1m1-7v2m1 16v2m1 11v1m1-36v2m1-1v3m1-6v2m13 7v1m1-9v2m2-6v1m0 41v1m1-24v2m0 15v2m1-5v3m1-13v1m1-7v2m0 8v1m2-9v1m0 33v2m1-45v1m0 35v5m4-8v2m0 12v1m1-22v1m1-6v3m0 19v1m1-33v2m0 12v2m1-25v1m0 13v3m0 13v8m2-14v3m0 6v3m1-48v1m3 3v1m4 16v1m1-11v2m1 7v2m1-10v1m1-1v1m4 32v1m2-44v1m1 17v4m0 4v6m0 4v3m1-34v1m0 16v2m4-17v2m1 3v1m1 28v3m2-40v2m0 19v1m0 19v1m1-16v3m0 10v2m2-45v1m1-3v2m1 13v2m0 51v1m1-52v1m2-18v1m0 7v2m0 48v1m1-51v1m0 47v2m1-42v1m0 10v1m0 22v1m0 17v1m1-24v2m0 17v2m3 0v3"/><path stroke="#189fd5" d="M167 36v2m0 27v1m0 8v1m1-44v2m0 29v1m0 8v2m1-45v2m1-10v1m0 15v2m5 29v2m0 4v3m1-16v1m1-5v2m0 17v1m1-27v1m0 2v1m0 19v1m3-52v5m0 38v1m1-45v1m0 50v1m1-58v2m0 1v4m0 17v2m0 34v2m1-27v2m0 9v4m1-21v2m1 1v1m0 15v1m1-48v1m0 31v1m0 20v3m1-56v2m0 52v2m1-56v1m0 12v1m1-4v2m0 5v1m2 20v1m1-33v4m1-11v6m1-1v4m1-9v2m12 11v1m1-8v2m2 33v1m1-21v3m0 8v4m1 9v1m1-22v2m1-7v8m1-2v1m1-8v1m0 36v1m2-56v3m3 42v4m0 4v4m1-20v3m1-6v19m1-30v2m0 7v3m1-12v3m1 22v1m1-49v1m0 21v4m1-25v2m2 1v2m1-3v1m4 18v1m1-10v4m1 1v2m1-10v2m1-2v2m5-11v2m1-3v2m1 12v1m0 19v4m1-33v2m0 19v2m1 10v1m3-28v2m0 22v12m1-32v1m3-16v6m0 22v2m0 16v1m3-47v2m2 9v4m2-15v1m1 9v1m0 46v1m1-49v2m0 44v1m1-30v1m0 27v3m0 10v1m1-21v3m0 13v1"/><path stroke="#2931a1" d="M167 44v13m1-17v1m0 11v4"/><path stroke="#2a3aa8" d="M167 57v3m1-22v2m0 16v1m8 12v3m5 2v4m7-24v7m5-13v2m20 17v2m4-55v3m0 1v6m19 19v2m11-31v4m17 14v8m0 5v18"/><path stroke="#2a4ab0" d="M167 60v1m1-25v2m0 19v2m8 13v2m4-15v15m1-4v4m1 2v1m4-25v5m1-4v9m1-9v1m0 7v3m5-19v3m18-4v4m2 17v2m1-20v2m0 8v1m2-34v7m1-7v3m10-8v9m9 13v2m4-29v2m7 2v3m1 28v10m1-1v2m15-30v2m1 0v5"/><path stroke="#2a5ab8" d="M167 61v1m1-27v1m0 23v1m8 3v2m0 9v2m1-13v9m2-17v16m1 3v4m1-10v2m1 4v2m4-27v3m0 5v3m1-9v2m0 9v2m1 0v2m4-23v7m1-7v2m7-15v2m8-1v1m3 8v4m0 4v4m2 11v2m1-21v3m2-31v1m0 14v4m1-8v3m1-16v3m5 43v9m4-54v4m0 17v4m5-26v1m4 25v1m1 0v5m1-29v11m1-14v3m1-1v3m7 2v2m1-9v2m0 30v3m1 7v2m3-26v8m1-3v2m0 20v3m3-9v2m8-27v2m1-1v3m0 11v3m0 11v7"/><path stroke="#2175c4" d="M167 62v2m1-30v1m0 25v1m0 13v1m1-42v7m1-17v11m6 28v1m0 13v1m1-15v1m0 9v2m1-15v10m1-17v3m0 16v3m2-8v2m1-45v1m0 49v1m1-38v1m1 16v4m2-9v1m0 11v1m1-12v2m0 13v2m1 0v2m1-50v8m3 15v2m0 7v1m1-10v2m15-13v1m1-6v11m2 3v1m0 12v1m2 8v2m1-21v2m2-30v2m0 19v2m1-7v1m6 25v4m4-46v1m0 25v4m4-30v1m1 0v1m4 23v1m1-5v6m1-27v3m0 11v2m2-8v1m7 0v2m1-9v2m0 26v2m1 8v2m3-27v3m0 11v3m1-14v5m0 2v2m0 2v2m0 10v4m3-13v1m0 8v3m5-44v3m1-3v3m0 1v7m2 2v1m1-1v2m0 17v11m0 7v3"/><path stroke="#1890d0" d="M167 64v1m0 10v1m1-43v1m0 27v1m0 11v1m1-44v3m0 7v3m1-22v2m0 11v2m5 33v4m1-12v1m0 15v1m1-20v1m0 15v1m1-22v6m0 10v3m1-24v2m0 24v3m2-12v1m1-45v2m0 49v1m1-52v2m0 14v1m0 38v1m1-26v2m0 4v3m2-13v1m0 13v1m1-48v1m0 33v1m0 17v2m1 0v1m1-53v2m0 8v2m1-1v5m2 8v1m0 10v2m1-17v2m3-22v6m0 6v1m12-1v2m1-8v3m2 13v1m0 14v2m1-17v8m0 22v1m1-9v1m1-21v2m2-5v2m1-8v1m5 31v4m1-13v2m2-17v3m2 8v12m1-47v2m0 2v17m3-21v3m1-2v1m4 20v2m1-8v4m1-5v2m1-9v1m1-1v1m5-10v1m2 10v3m1-10v1m0 23v2m1 9v1m3-27v2m0 17v3m1-19v2m0 13v10m3-11v2m0 12v2m5-40v5m1 0v1m2-1v2m1-2v2m0 40v2m2-5v1"/><path stroke="#e02c20" d="M168 14v1m2 35v9m1-8v3m2 24v2m4-65v6m1-1v6m36-10v4m4 15v3m0 8v1m1-17v2m0 47v3m3-61v2m11-4v4m0 14v3m1-21v3m1 6v1m4 12v1m2-7v3m1 14v2m8-13v4m10-4v3m1 0v1m1 4v7m7-33v5m1 13v1"/><path stroke="#e83820" d="M168 15v1m1-2v1m1 33v2m0 9v2m1-12v2m0 8v3m1-12v6m0 23v1m1-42v11m0 27v2m2-29v6m2-41v1m0 6v6m1 4v1m4 18v10m9-3v3m7-46v2m7-2v1m2-1v3m10 29v4m1-16v1m1-6v1m1 2v6m0 20v7m2-42v2m1-11v6m7 35v1m3-39v2m1-3v1m1 12v3m1-17v7m3 16v3m2-9v3m1-2v1m0 20v1m7-22v5m1 7v1m10-8v3m0 25v2m1-26v2m1 17v1m7-44v5m0 12v4"/><path stroke="#ec5820" d="M168 16v1m1-2v1m1 30v2m0 13v2m1-16v2m0 13v2m1-18v4m0 6v3m1-22v1m0 11v1m0 24v2m2-30v3m0 6v1m2-29v3m1 2v3m4 13v2m0 10v3m8-12v6m0 2v5m1-9v2m0 11v1m7-53v1m6 11v3m1-16v4m1-5v7m2-7v3m0 50v2m9-25v2m1-13v1m1-6v1m0 36v4m1-39v2m2-7v1m1-6v6m10-11v2m1-3v2m1 0v1m1-3v1m0 7v3m3 11v2m2-24v1m0 15v2m1-1v2m0 22v1m1-9v1m2-3v7m4-26v1m0 11v3m1-27v4m0 6v4m9 21v9m1-23v3m0 30v2m1-29v1m1 20v3m7-50v3m0 21v3m1 8v7"/><path stroke="#28289a" d="M168 47v5"/><path stroke="#f07820" d="M169 16v1m1 46v2m1-20v2m0 17v1m1-22v3m0 13v2m1-8v2m0 18v1m1-40v11m1-2v3m2-16v2m1 3v2m1-23v3m4 36v5m5-28v1m1 17v1m1-1v3m0 13v1m1-11v1m0 14v2m4-32v1m0 28v1m3-48v3m4 7v1m1-5v1m1-14v3m0 6v5m1-9v3m1-1v4m2-8v1m0 46v3m7-53v5m0 35v1m2-13v2m1-12v1m0 47v2m1-55v1m0 33v4m1-37v2m0 21v1m2-26v2m1-2v4m6 21v9m4-46v1m2 0v1m1 9v1m3 9v1m2-21v6m0 5v4m1 0v1m0 25v1m1-43v3m0 31v4m2-9v2m0 7v2m1 2v3m3-35v2m0 15v2m1-25v6m5 39v1m4-20v5m0 20v3m1-39v2m0 35v1m1-31v1m1 0v2m0 22v3m1 9v2m3-65v5m3-5v1m0 27v2"/><path stroke="#f09420" d="M169 17v1m1 27v1m0 19v1m1-22v1m0 20v1m1-26v3m0 18v2m0 11v1m1-20v2m0 15v1m1-41v2m0 11v3m1-9v4m1-29v2m1 16v2m1 3v1m1-21v4m3 42v1m1-13v2m0 5v2m2-46v13m3 2v1m1 19v1m1-4v2m0 20v1m1-16v1m0 17v1m4-36v3m8-14v2m1-10v6m1-1v3m1 0v2m2-9v1m0 43v2m5-48v4m3 30v1m1-10v1m1-11v1m0 47v1m1-54v1m0 33v1m1-34v1m0 19v4m1-37v4m1 10v1m1 1v4m7 15v1m2-22v2m3-16v1m1 11v2m3 6v1m2-14v5m1 2v2m1-13v2m0 18v3m0 12v2m2-12v1m0 11v2m1-3v3m3-34v2m0 19v1m2-30v1m4 14v5m0 28v1m2-36v2m2 12v3m0 29v1m1-44v3m0 38v2m1-34v1m1 0v1m1 34v2m3-58v3m1-1v8m1-4v6m1 13v1"/><path stroke="#d82020" d="M178 14v6m36-6v2m4 22v8m1-14v4m0 4v1m3-25v5m11 2v3m0 4v7m1-15v4m0 6v3m7 3v4m1-4v1m0 10v3m8-13v2m10 3v14m1-13v4m0 6v3m9-21v4"/><path stroke="#c81c1c" d="M219 36v4m3-26v2m20 31v2m19 0v6m9-41v12"/></g><path d="M260.1 78.3 L259.2 70.6 L258.2 66 L257.7 64.2 L256.5 63.6 L255.4 63.1 L254.5 61.9 L253.9 63.6 L253.1 62.5 L252.2 59 L251.6 53.3 L251.1 42.9 L250.5 45.2 L249.9 56.7 L249 61.3 L248.4 61.9 L247.3 60.2 L246.1 57.3 L245.3 56.7 L244.6 59 L243.8 57 L243 58.6 L242.5 55.5 L242 51.4 L241.5 47.3 L240.8 43.7 L240 42.2 L238.9 43.7 L237.9 44.3 L236.9 44.8 L236.1 43.7 L235.3 41.2 L234.6 38.6 L233.8 37.6 L233.3 40.2 L232.6 44.3 L231.8 49.4 L230.9 54 L230.2 57.1 L229.2 59.6 L227.7 61.7 L226.2 63.7 L225.3 65.1 L224.3 66.6 L223.3 67.5 L222.7 70.4 L221.9 73.8 L221.1 73.3 L220.5 75.2 L219.8 79 L219.2 81.9 L218.5 80.5 L217.9 73.3 L217.3 66.8 L217.3 68.1 L212.4 68.1 L212.3 68.5 L211.5 71.2 L210.9 68.5 L210.7 68.1 L195 68.1 L195 65.1 L193.7 67.9 L191.8 70.5 L189.9 72.4 L187.9 73.7 L186 74.4 L184.7 75 L183.4 75.6 L182.2 76.3 L180.9 76.9 L179.6 76.3 L178.3 76.9 L177 76.9 L175.8 77.6 L174.5 78.2 L173.2 79.2 L171.9 78.8 L170.6 77.6 L169.6 76.3 L168.7 73.7 L167.8 74.4 L166.8 76.3 L166.2 76.3 L166.2 96.3 L260.7 96.3 L260.7 96 L260.1 78.3ZM268.8 85 L266.9 87 L266.9 89 L264.1 89 L263.8 77.4 L262.5 77.4 L262.5 96 L271 96 L271 84 L268.8 85Z" fill="none" stroke="#fff" stroke-width="4" stroke-linejoin="round"/><path d="M260.1 78.3 L259.2 70.6 L258.2 66 L257.7 64.2 L256.5 63.6 L255.4 63.1 L254.5 61.9 L253.9 63.6 L253.1 62.5 L252.2 59 L251.6 53.3 L251.1 42.9 L250.5 45.2 L249.9 56.7 L249 61.3 L248.4 61.9 L247.3 60.2 L246.1 57.3 L245.3 56.7 L244.6 59 L243.8 57 L243 58.6 L242.5 55.5 L242 51.4 L241.5 47.3 L240.8 43.7 L240 42.2 L238.9 43.7 L237.9 44.3 L236.9 44.8 L236.1 43.7 L235.3 41.2 L234.6 38.6 L233.8 37.6 L233.3 40.2 L232.6 44.3 L231.8 49.4 L230.9 54 L230.2 57.1 L229.2 59.6 L227.7 61.7 L226.2 63.7 L225.3 65.1 L224.3 66.6 L223.3 67.5 L222.7 70.4 L221.9 73.8 L221.1 73.3 L220.5 75.2 L219.8 79 L219.2 81.9 L218.5 80.5 L217.9 73.3 L217.3 66.8 L217.3 68.1 L212.4 68.1 L212.3 68.5 L211.5 71.2 L210.9 68.5 L210.7 68.1 L195 68.1 L195 65.1 L193.7 67.9 L191.8 70.5 L189.9 72.4 L187.9 73.7 L186 74.4 L184.7 75 L183.4 75.6 L182.2 76.3 L180.9 76.9 L179.6 76.3 L178.3 76.9 L177 76.9 L175.8 77.6 L174.5 78.2 L173.2 79.2 L171.9 78.8 L170.6 77.6 L169.6 76.3 L168.7 73.7 L167.8 74.4 L166.8 76.3 L166.2 76.3 L166.2 96.3 L260.7 96.3 L260.7 96 L260.1 78.3ZM268.8 85 L266.9 87 L266.9 89 L264.1 89 L263.8 77.4 L262.5 77.4 L262.5 96 L271 96 L271 84 L268.8 85Z" fill="#b4b4b4" stroke="#000" stroke-width="0.9" stroke-linejoin="round"/><g stroke-width="1" fill="none" shape-rendering="crispEdges" transform="translate(.5 0)"><path stroke="#10b0a0" d="M167 113v3m0 36v3m0 16v6m1-30v2m0 22v2m1-57v2m0 51v1m1-54v2m0 18v1m0 25v2m1-51v9m0 13v2m0 17v2m1-39v3m5 9v1m0 45v3m1-39v2m2 28v8m1-30v1m0 14v1m1-19v5m1-4v2m0 25v1m1-31v1m0 17v2m1-34v2m0 29v1m1 2v1m1-4v1m1-15v3m0 17v1m1-53v1m0 3v2m0 27v3m0 14v2m1-13v4m0 4v4m2-51v3m0 9v4m2 42v1m1-49v4m1 37v1m1-45v1m0 29v2m1-14v1m1-6v1m1-17v2m0 30v1m1-32v2m4 46v2m2-53v1m6 3v1m0 27v1m1-31v1m0 44v3m1-52v1m1-1v1m1 1v3m0 4v1m1-6v2m1 1v2m1-5v4m0 33v1m1-6v3m1 15v1m1-55v3m0 4v2m1 18v2m2 2v1m1 7v3m2-42v3m0 22v4m1 15v2m5-25v2m1 10v1m3-27v1m1-8v1m5 15v1m2-8v1m0 12v3m1-25v1m1 22v4m1-16v2m2 15v2m1-28v2m0 19v3m1-25v2m1 1v3m2 39v4m1-24v4m0 16v8m1-47v1m1-7v2m0 38v1m1 0v1m0 18v2m1-43v1m0 22v1m0 15v1m1-43v3m0 18v3m0 17v1m1-56v1m0 23v2m1 7v1m0 13v9m2-19v1m0 20v1m1-59v2m0 44v5m0 5v9m1-30v2m0 21v2m1 2v3"/><path stroke="#10b0b2" d="M167 116v2m0 32v2m0 25v3m1-67v7m0 26v1m0 26v2m1-57v1m0 51v2m1-54v2m0 15v1m0 28v2m1-44v5m0 4v4m0 24v1m1-40v2m4 29v15m1-36v1m0 26v18m1-34v2m1-15v5m1 32v4m0 8v1m1-32v1m0 16v1m2-17v1m0 23v1m1-29v1m0 15v1m1-30v3m0 24v2m1 2v1m1-5v2m1-16v2m0 21v1m1-48v2m0 23v2m0 19v1m1-16v2m0 12v2m0 9v1m2-60v9m0 27v1m2 19v1m1-60v1m0 5v4m1 38v3m1-43v1m0 27v1m1-16v1m1-12v10m1-14v2m0 26v2m1-29v2m0 32v1m6-42v2m6 33v1m4-36v2m1-2v4m0 2v3m1 0v1m1-10v4m0 38v2m1-5v3m3-25v4m0 2v4m2 2v2m1 6v2m3 7v1m5-28v2m1 11v1m1-19v3m2-12v2m4 10v1m2-3v1m2-6v2m0 8v2m1-21v1m1 17v4m0 4v4m1-21v1m2 16v1m1-27v1m1-2v1m1 0v3m2 46v2m1-22v5m0 3v2m1-32v1m0 32v2m1-3v1m1-28v1m0 27v1m0 21v2m0 3v1m1-48v2m0 19v1m1-31v5m0 3v6m0 9v3m0 21v1m1-56v2m0 20v1m0 30v3m3-19v2m0 17v1m1-60v2m0 43v3m1-9v3"/><path stroke="#15abcc" d="M167 118v2m0 28v2m1-30v3m0 22v1m0 29v1m1-57v2m0 51v2m1-54v2m0 11v2m0 31v2m1-41v4m0 29v4m1-42v3m4 23v3m0 15v6m1-41v1m0 22v3m1-14v3m1-24v6m0 5v9m1 11v12m1-52v3m0 29v1m0 18v1m2-17v1m0 20v1m1-26v2m0 11v2m1-26v2m0 21v1m1 3v1m1-5v1m1-17v3m0 24v1m1-27v3m0 22v1m1-20v3m0 16v9m1-36v7m0 8v2m1-3v2m3-41v5m1 39v3m1-39v2m0 23v2m1-33v4m0 9v5m1-15v4m1-2v1m0 24v1m1-25v1m0 30v1m12-36v1m0 30v1m4-22v2m1-8v1m1 0v1m1 33v1m1-3v3m1-28v1m1 35v1m1-33v2m2 4v2m1 5v3m2-2v3m6-29v4m0 2v4m1 12v1m1-15v3m2-16v1m4 13v1m2-5v1m2-3v8m1-18v1m0 18v6m1-11v3m0 12v2m1-25v2m2 10v3m0 1v3m1-27v1m2-1v1m2 53v5m1-24v3m1-29v1m0 29v2m1-2v1m1-26v1m0 50v3m1-45v1m0 17v1m0 18v1m1-53v4m0 14v3m0 31v1m1-55v2m0 16v2m0 34v9m3-26v2m0 13v2m1-60v1m0 27v1m1 14v3"/><path stroke="#189fd5" d="M167 120v2m0 24v2m1-25v3m0 18v1m1-24v1m0 52v3m1-55v3m0 6v2m0 35v3m1-7v1m1-40v3m0 19v5m1-39v1m2 41v10m1-52v8m0 25v2m0 24v6m1-46v1m0 19v2m1-8v4m0 23v5m1-60v4m0 20v5m1 1v5m1-37v3m0 25v1m0 20v1m2-17v2m0 17v1m1-23v2m0 7v2m1-22v4m0 15v2m1-43v1m0 45v1m1-6v2m1-19v3m0 28v1m1-30v2m0 26v1m1-24v3m1-10v2m0 17v5m1-6v2m4-1v2m1-34v1m0 21v1m1-34v3m1 0v3m1 3v2m0 21v1m1-23v2m0 27v1m8 14v1m1-1v1m1-2v2m2-18v2m0 14v2m1-53v1m3 14v2m2 10v9m1 7v2m2-29v2m1-5v2m0 22v6m0 5v3m3-27v1m1 4v3m2 4v2m6-27v2m1-15v1m0 29v1m1-11v3m2-20v1m4 15v1m1-7v10m1-10v1m3 13v4m1-31v3m0 10v3m0 17v3m1-29v1m2 15v1m7-14v2m0 26v1m2 1v1m1-17v1m0 15v1m0 20v1m1-59v5m0 53v1m1-54v3m0 10v3m3 21v2m0 10v1m1-29v5m1 12v9"/><path stroke="#1890d0" d="M167 122v1m0 20v3m1-20v2m0 14v2m1-22v2m0 53v2m1-54v6m0 40v3m1-5v2m1-43v4m0 7v8m0 5v4m0 2v9m1-53v2m2 37v2m0 10v3m1-47v4m1 8v2m0 15v2m1-2v4m0 1v18m1-60v5m0 29v4m1-6v3m1-29v4m0 20v1m0 22v2m2-17v2m0 13v2m1-20v7m1-16v4m0 7v4m1-40v4m0 39v2m1-7v2m1 15v1m1-35v4m0 29v1m1-28v3m1 17v5m1-9v2m4-28v1m0 21v3m1-31v1m0 19v1m2-33v3m1 8v1m0 18v2m1-20v1m0 25v1m1 4v1m7 9v1m1-1v1m1-36v1m2 20v2m0 1v1m1-42v1m3 17v2m0 35v1m2-34v6m0 9v2m3-20v2m0 15v4m1-24v1m0 17v4m3-33v13m1 9v3m1-31v17m0 14v7m1 2v4m7-43v2m0 25v2m1-7v4m0 9v1m2-36v2m4 17v1m1 2v1m1-13v2m3 18v5m1-30v7m0 23v3m1-39v3m9 9v1m0 22v3m1 0v1m1-24v1m0 23v1m1-15v2m0 35v1m1-63v3m0 59v2m1-53v10m3 26v1m0 1v8m1-23v2"/><path stroke="#2175c4" d="M167 129v1m0 8v5m1-15v4m0 7v3m1-18v2m1 48v7m1-10v4m1-43v7m0 28v6m1-57v13m1-16v11m1-3v5m0 25v2m0 15v5m1-48v3m1 7v2m0 10v3m2 1v4m0 22v1m1-65v3m0 26v3m1-22v4m0 14v2m0 25v2m1-57v3m1 37v3m0 7v3m2-23v7m1 5v2m1-10v5m1-37v6m0 49v1m1-42v6m0 34v1m1-32v3m1-9v1m0 33v9m1-16v2m4-29v1m0 16v4m1-27v1m0 16v2m3-20v2m0 15v1m1-17v1m0 23v1m1 4v1m1 10v2m1-1v1m8-2v2m1-14v1m1-42v1m3 20v3m0 30v2m1-42v1m1 4v4m0 17v2m3-14v9m1-19v2m3-18v4m1 21v1m1-11v2m0 19v4m8-38v2m0 18v4m1-1v9m2-36v1m10 38v1m10-27v3m0 17v2m1-28v2m0 28v1m1-22v1m0 21v1m1-12v2m0 34v1"/><path stroke="#2a5ab8" d="M167 130v3m0 1v4m1-6v7m1-13v3m2 46v4m1-6v4m1-48v7m0 13v5m0 2v22m1-54v7m0 21v26m1-64v7m0 5v6m0 17v2m0 22v5m1-50v6m0 2v5m1-4v4m0 4v2m2 8v4m0 11v7m1-61v7m0 15v4m1-15v14m0 29v8m1-20v2m1-4v4m0 1v2m3-35v1m0 24v2m1-42v2m0 21v3m1-26v2m0 56v2m1-3v2m1-59v3m0 19v3m1-25v2m0 14v3m2 38v3m3-40v4m0 8v4m1-22v2m0 12v2m3-16v3m1 19v1m1 3v2m2 11v1m4-54v3m5-1v1m4 21v20m0 8v2m1-39v2m1 25v3m4-25v4m3-24v2m10 4v7m0 4v7m9-24v3m14 13v6m0 5v6m1-24v1m0 25v2m1-20v1m0 19v1m1-9v4"/><path stroke="#22b07c" d="M167 155v4m0 7v5m1-2v2m1-57v2m0 52v1m1-55v2m0 21v1m0 22v2m1-25v2m0 13v2m1-40v3m5 11v1m1 9v1m3 22v1m1-31v13m1 0v1m0 28v1m1-33v1m0 20v1m1-50v3m1 47v1m1-4v1m1-13v3m0 13v1m1-51v3m0 32v2m0 11v1m1-6v3m2-31v3m1 25v1m1-45v5m0 52v1m1-44v14m0 3v10m2-41v2m0 2v3m0 32v1m1-14v3m1-4v3m1-25v1m1-2v3m0 37v1m12-36v1m0 25v1m1-29v1m0 37v1m1-43v2m1-2v4m0 45v4m1-49v4m2-3v1m1 1v3m0 29v1m1-8v3m1-28v1m0 46v2m2-57v1m0 28v1m2 2v1m1 9v3m2-42v4m0 17v1m1 18v1m3-44v2m1 7v2m1-9v1m0 20v2m1 9v1m1-26v2m2-3v1m1-8v1m2 7v2m3 6v1m1-7v7m1-10v1m0 16v2m3-14v1m2 16v1m1-27v1m0 21v2m1-25v1m1 3v3m1 41v6m1-15v4m1-23v3m1-20v1m1-7v1m1 11v1m0 47v1m1-42v1m0 24v1m0 13v1m1-18v3m0 12v2m1-56v1m0 26v2m1 6v13m0 9v4m2-25v2m0 22v1m1-58v2m1-7v1m0 35v2m0 25v1m1-3v4m0 3v1"/><path stroke="#40b050" d="M167 159v3m0 2v2m1 1v2m1-56v1m0 32v1m0 19v2m1-55v1m0 24v2m0 18v2m1-21v2m0 7v3m1-38v1m5 12v2m1 8v2m3 22v1m2-18v1m0 30v1m1-36v2m0 22v1m1-48v5m2 40v2m1-12v3m0 8v2m1-13v2m0 7v2m3-30v3m1 20v2m1-39v2m0 48v2m1-16v3m2-42v2m0 36v3m1-14v2m1-3v3m1-30v2m1-3v2m0 41v2m1-41v3m1-3v3m2-5v1m7-3v2m1 30v1m1 6v4m1-38v1m1-1v1m0 33v5m0 10v1m3-51v2m1 32v2m1-10v3m1-26v1m2-7v9m0 20v2m2 1v1m1 11v1m2-39v4m0 8v1m1 21v2m3-41v1m1-3v3m0 8v2m1-13v2m0 23v2m0 12v4m1-8v1m1-29v2m1 14v2m2-23v2m1-4v4m1 4v1m3 9v1m1-9v1m0 7v2m1-13v1m0 19v3m3-16v1m3-10v2m0 21v2m1-26v1m1 5v4m0 20v8m1-3v12m2-31v3m1-18v1m1 36v1m1 0v1m0 15v1m1-42v1m0 38v1m1-14v3m0 7v2m1-55v1m0 29v1m0 18v2m1-52v10m0 14v1m0 38v4m2-67v3m0 60v1m1-57v3m0 4v2m1-15v1m0 62v1m1-65v1"/><path stroke="#d0d828" d="M168 152v2m0 10v2m1-2v1m1-24v2m0 10v2m7-32v2m1 8v2m3 19v4m2-17v1m0 34v2m1-41v1m0 27v1m1 10v2m2-14v2m6-15v2m1-31v3m0 40v2m1-7v3m0 5v3m1-58v6m1 40v3m1-16v4m1-1v16m0 1v1m2-8v1m3-41v1m1-7v1m1-1v3m1 38v1m2-42v2m4 7v1m0 20v1m1-24v1m0 23v4m1-26v2m0 34v3m1-29v3m0 7v5m4 0v3m4-4v2m1-14v3m0 4v3m1 5v1m4 1v1m1-28v2m1 2v2m1-9v3m1 3v1m1 14v5m2-32v2m1 16v2m2-17v2m1 3v3m1-8v2m2-6v1m1 18v1m1-21v3m0 19v2m4-7v1m2 14v1m1-24v5m0 17v1m1-26v2m1 10v2m0 25v3m1-48v2m1 29v2m1-18v2m1-14v1m1 40v1m1 0v1m1-46v2m0 14v1m0 29v1m2-12v11m1-30v4m1 32v3m0 7v2m1-54v7m0 16v2m2-31v1m0 24v2m0 36v1m1-66v1m0 23v2m0 7v2"/><path stroke="#f8dd11" d="M168 154v2m0 5v1m0 1v1m1-14v1m0 11v2m1-21v2m0 4v4m7-40v4m0 3v3m1 8v2m5-20v1m0 26v1m1-5v1m0 29v2m2 8v1m1-11v4m0 5v2m6-64v4m0 32v2m1-26v3m1 35v5m3-18v5m3 5v1m5-8v1m0 3v1m1-3v2m2-42v2m3 24v5m1-23v1m0 18v1m1-22v1m0 17v5m1-14v4m0 23v1m1-23v7m4-11v1m0 7v8m1-26v2m1-8v1m2 32v2m1-37v1m0 30v2m1 4v1m4-8v2m1-25v4m0 2v4m0 31v1m1-37v3m0 2v3m1-9v1m1 3v1m2 21v1m1-38v2m1 16v2m1-7v1m1-7v1m1 5v2m1-11v1m2-5v1m1 20v2m1 1v2m4-8v3m0 14v5m1-15v3m1 5v1m1-2v1m1-25v1m0 19v2m1 18v7m1-53v2m0 26v1m1-3v3m1-17v1m1-13v1m1 42v1m1-36v1m0 35v1m1-45v1m0 12v1m0 38v2m4-6v2m0 12v2m1-49v7m0 7v2m2-28v2m0 18v4m1-5v2m0 11v1m0 17v1"/><path stroke="#f0b020" d="M168 156v5m1-10v2m0 7v2m1-14v1m7-32v3m1-7v3m0 13v2m5-17v2m0 22v2m1-27v2m0 19v2m0 32v1m2 5v2m1-6v5m6-58v4m0 26v2m1-21v14m0 2v15m6 7v2m1-2v2m5-14v3m3-40v2m4 5v1m0 15v2m1-20v2m0 11v4m1-5v3m0 17v3m6-41v5m1-8v2m2 35v2m0 8v4m1-50v2m0 30v2m1 3v2m4-14v4m1-26v3m0 10v3m0 7v5m0 1v4m0 9v2m1-39v3m0 8v3m1-11v2m1 2v1m0 27v2m2-8v1m2-39v3m0 13v2m1-4v2m1-8v2m2-7v1m3 19v2m1 1v1m4-6v14m0 5v2m1-14v3m1-30v4m0 29v1m1-2v1m1-25v11m0 10v7m2-33v2m0 21v3m1-4v2m1-16v2m1-13v1m1 44v2m0 5v2m1-46v1m0 37v1m1-35v2m0 35v4m4-6v2m0 16v1m1-43v4m2-21v7m0 8v3m1-3v2m0 14v2m0 14v1"/><path stroke="#84bf41" d="M168 166v1m1-20v1m0 17v1m1-26v1m0 14v3m1-17v3m0 3v1m6-23v1m1 9v1m3 22v2m2-18v1m0 32v1m1-38v1m0 25v1m3-2v1m1-10v8m1-9v7m4-7v2m1-35v2m0 45v1m1-11v3m0 11v2m2-17v3m1-15v2m1-2v1m0 3v1m1-36v1m1 44v1m1-46v4m1-4v4m2-3v1m1 51v2m6-53v16m1-10v1m0 22v1m1-26v1m0 28v4m1-33v3m0 44v2m1-39v3m0 15v5m3-39v4m1 33v1m1-10v2m3 2v1m1-8v3m1 6v2m3-25v8m1 20v2m3-35v2m1 5v1m1 13v2m0 5v5m1-3v1m1-33v3m1 15v1m2-19v1m1-1v6m1-3v1m2-6v1m1 16v1m1 0v2m1 8v2m3-17v2m2 14v1m1-25v2m0 5v2m0 14v1m1-26v1m1 8v4m0 13v3m0 8v3m1-9v3m1-6v4m1-20v3m1-16v1m1 38v1m1-33v1m0 32v1m0 13v1m1-42v1m0 27v1m0 10v1m1-10v7m1-54v1m0 33v1m0 11v4m1-40v6m0 4v4m0 43v2m1-14v7m1-59v1m0 60v1m1-55v4m1-12v2m0 27v2m0 32v2m1-66v1m0 26v7"/><path stroke="#2a4ab0" d="M169 129v5m3 43v2m1-43v13m1-18v7m0 7v5m1-37v1m0 18v7m1-5v2m3 23v11m1-47v15m2 22v2m4-33v16m0 6v2m1-38v1m0 17v3m1 37v2m1-3v4m1-45v4m1-20v1m0 3v3m0 1v6m1 40v4m1 0v1m3-37v2m1-10v3m0 6v3m3-11v3m2 18v2m11-39v1m4 42v1m0 3v4m1-35v1m0 34v2m1-9v3m0 2v1m4-27v2m36-4v5m1-17v2m0 21v2m1-17v1m0 16v2"/><path stroke="#f09420" d="M169 153v7m9-44v4m0 6v3m5-12v2m0 17v2m1-23v1m0 16v2m0 35v3m9-51v3m0 21v2m16-28v1m4 5v1m0 13v1m1-16v2m0 7v2m1 2v17m6-41v3m3 42v2m1-44v2m0 9v3m0 18v1m1 4v1m4-41v12m0 10v4m1-24v2m0 16v7m0 10v9m1-39v2m1 5v1m1 2v1m0 24v2m2-5v2m2-38v3m0 7v3m1 0v5m1-11v1m2-10v2m5-1v1m4-3v1m0 30v2m1-33v1m0 34v1m1-2v2m1 1v5m2-36v5m0 11v5m1-3v2m1-16v2m1-12v1m1 47v5m1-45v1m0 39v3m1-46v8m4 26v9m0 19v2m4-50v3m0 18v1m0 11v2"/><path stroke="#2a3aa8" d="M174 138v7m8 17v4m0 7v5m6-3v2m2-55v9m1-9v1m1 50v2m5-43v3m16-22v1m5 19v4m0 13v9m0 2v4m9-52v5m33 7v4m0 13v4m1 0v2"/><path stroke="#f07820" d="M178 120v6m5-7v4m0 11v2m1-7v3m0 40v6m9-54v6m0 9v4m11-28v1m9 10v2m0 9v2m12-21v9m0 22v2m1 3v2m4-31v10m1-22v2m1 3v2m1 8v2m0 30v2m1-31v1m0 21v2m4-36v2m2 3v2m2-13v1m5-1v2m4-1v6m0 26v2m1 1v1m1-1v1m1 5v5m0 5v1m2-42v11m1-1v3m1-15v1m3-3v1m0 43v1m5-52v15m0 20v1m0 1v2m4-22v2m0 22v2m0 7v2"/><path stroke="#2931a1" d="M182 166v7m36-36v6m42-14v2m0 3v8m1-1v5"/><path stroke="#ec5820" d="M183 123v11m1-13v8m9 1v4m11-20v1m9 13v1m12 22v2m1 3v7m6-50v3m0 1v1m0 43v1m1-32v1m1 1v1m0 18v2m6-27v1m11 21v1m1 1v1m1-1v2m1 8v5m3-35v4m1-14v2m3-3v1m5 8v4m0 14v2m4 8v7"/><path stroke="#e83820" d="M204 113v1m21 39v4m7-5v9m1-30v2m0 23v1m1-24v1m0 15v2m6-24v1m11 21v3m1-1v2m1-1v3m4-42v6m0 3v8m1-13v3m3-7v3m0 2v1m5 13v11"/><path stroke="#d82020" d="M210 113v4m1-4v6m22 16v4m0 9v5m1-17v4m0 4v3m9-33v2m8 39v4m1-3v6"/><path stroke="#e02c20" d="M225 157v5m7-15v5m1-19v2m0 18v3m1-22v2m0 11v2m17 3v3m1-2v3m1-1v9m4-45v3m1-9v4"/><path stroke="#c81c1c" d="M233 139v9m1-8v4m9-31v1"/></g><path d="M262.3 195 L261.8 190.1 L260.9 180.2 L260.2 168.9 L259.7 159 L259.2 160.5 L258.5 166.1 L257.8 171 L257.1 169.6 L255.7 167.5 L254.3 164.7 L252.9 161.9 L251.5 157.6 L250.5 155.2 L249.4 151.3 L248.4 147.5 L247.5 143.6 L246.6 139.8 L245.9 136 L245 138.5 L244.3 134.7 L243.3 132.1 L242.4 130.8 L241.8 127 L241.1 125.7 L240.5 126.3 L239.8 130.8 L238.9 139.8 L237.9 150 L237.6 152.6 L236.3 156.4 L235 159.6 L233.1 160.9 L231.1 160.3 L229.9 156.4 L228.6 153.8 L227.6 157.7 L226.7 161.5 L225.4 160.3 L224.1 164.1 L222.8 168 L221.9 170.5 L220.9 168 L219.9 170.5 L219 173.1 L218.3 171.2 L217 166.7 L216.9 166.5 L200.2 166.5 L200.2 164.3 L199.5 166 L198.2 168.6 L196.3 170.8 L193.7 172.8 L191.1 174.4 L188.6 175.4 L186 176.3 L183.4 176.9 L180.9 177.2 L178.3 176.9 L175.8 176.9 L173.2 177.2 L170.9 177.6 L170.4 181.4 L169.9 177.6 L168.7 178.2 L166.8 178.8 L166.2 178.8 L166.2 195.1 L262.3 195.1 L262.3 195Z" fill="none" stroke="#fff" stroke-width="4" stroke-linejoin="round"/><path d="M262.3 195 L261.8 190.1 L260.9 180.2 L260.2 168.9 L259.7 159 L259.2 160.5 L258.5 166.1 L257.8 171 L257.1 169.6 L255.7 167.5 L254.3 164.7 L252.9 161.9 L251.5 157.6 L250.5 155.2 L249.4 151.3 L248.4 147.5 L247.5 143.6 L246.6 139.8 L245.9 136 L245 138.5 L244.3 134.7 L243.3 132.1 L242.4 130.8 L241.8 127 L241.1 125.7 L240.5 126.3 L239.8 130.8 L238.9 139.8 L237.9 150 L237.6 152.6 L236.3 156.4 L235 159.6 L233.1 160.9 L231.1 160.3 L229.9 156.4 L228.6 153.8 L227.6 157.7 L226.7 161.5 L225.4 160.3 L224.1 164.1 L222.8 168 L221.9 170.5 L220.9 168 L219.9 170.5 L219 173.1 L218.3 171.2 L217 166.7 L216.9 166.5 L200.2 166.5 L200.2 164.3 L199.5 166 L198.2 168.6 L196.3 170.8 L193.7 172.8 L191.1 174.4 L188.6 175.4 L186 176.3 L183.4 176.9 L180.9 177.2 L178.3 176.9 L175.8 176.9 L173.2 177.2 L170.9 177.6 L170.4 181.4 L169.9 177.6 L168.7 178.2 L166.8 178.8 L166.2 178.8 L166.2 195.1 L262.3 195.1 L262.3 195Z" fill="#b4b4b4" stroke="#000" stroke-width="0.9" stroke-linejoin="round"/><g stroke-width="1" fill="none" shape-rendering="crispEdges" transform="translate(.5 0)"><path stroke="#f8dd11" d="M167 211v1m0 9v2m1 41v1m1-46v1m2-8v1m1 4v1m3 40v2m1-5v1m1-42v1m0 38v1m1-32v1m0 33v4m1-28v1m0 40v2m1-11v1m1-27v1m1-7v1m2 13v2m1-31v1m0 25v2m1-28v1m0 16v5m3 12v2m1-40v1m0 23v1m1-26v2m1 34v1m1-23v1m6-14v3m2 11v3m3-19v2m0 7v10m1-11v2m1-2v1m0 28v1m2-21v2m0 13v1m1-16v1m0 20v1m1-37v2m1 12v5m5-15v1m0 33v1m1 0v7m1-28v2m0 14v3m0 5v1m1-12v1m1-2v1m2-8v2m0 4v2m0 17v2m2-51v2m1 12v1m1 10v1m1-22v3m6-6v1m2 12v1m1-16v2m0 18v3m0 5v2m1-27v1m0 16v3m0 9v2m1-33v1m1 30v3m1-1v2m1 6v8m1-31v1m1-20v1m0 16v2m1-12v3m1 27v2m1 3v3m1-43v2m1 11v5m1 8v2m1 36v3m1-3v4m1-6v6m2-29v4m1-2v7m2 18v2m1-44v6m0 1v1m1-22v21m1-32v3m0 26v1m0 16v2m1-44v8m0 39v4m1-48v19m1-19v3m1 27v2m0 10v2m1-52v5m0 15v11m0 6v4m1-33v3m1-3v2m1-8v2"/><path stroke="#f0b020" d="M167 212v9m0 29v1m1-20v1m0 33v1m1-46v1m2-10v1m1 4v1m3 43v1m2-46v2m0 37v1m1-32v2m0 28v3m1-23v1m0 41v3m1-13v1m1-29v1m1-7v1m2 11v3m1-28v1m0 23v1m1-25v2m0 11v3m3 19v2m1-43v1m1 1v1m1 32v1m1-24v2m3 19v1m2-28v1m0 14v1m1-23v2m5 0v7m0 10v2m1-15v2m1-2v2m0 30v1m0 12v1m2-22v2m1-14v1m0 18v1m1-38v2m6 5v1m0 23v2m1-8v2m1-27v2m0 17v1m0 19v5m1-10v3m3-10v4m2-31v1m1 13v1m1 8v3m1-18v2m6-7v1m1-3v1m1 14v2m1 5v5m1-27v2m0 20v9m1-32v1m1 34v3m1-2v2m2-20v1m1-18v3m0 11v2m1-13v3m1 32v1m1 5v4m1-49v2m1 10v3m1-15v1m0 13v14m1 41v1m10-66v4m0 19v3m0 19v3m1-39v5m0 9v1m0 28v6m1-58v4m1-4v4m1 32v2m0 5v3m1-45v15m1-20v8m1-2v2m1-8v2"/><path stroke="#d0d828" d="M167 223v2m1 37v2m1-46v1m2-6v1m1 28v14m3 1v1m1-44v4m0 36v1m1-42v1m0 38v1m0 18v1m1-52v2m0 38v5m1-34v1m0 40v1m1-10v1m1-25v1m1-7v1m0 40v1m2-42v1m0 14v2m0 17v3m2-54v1m0 22v3m3 7v2m1-37v1m0 21v1m1-26v1m1 37v1m1-23v1m3-13v5m3-4v2m2 5v4m0 3v3m2-1v1m2-12v1m1-2v1m0 26v1m1 8v4m1-33v1m0 16v2m1-19v1m1-13v17m0 4v12m1-25v4m0 8v2m5-21v1m1 32v3m0 7v1m1-27v1m0 11v2m0 9v2m1-15v1m1-2v1m1 3v1m1-12v1m0 8v2m0 13v2m2-47v3m1 10v2m1 9v2m1-29v5m7-5v1m1 12v2m1-13v1m0 14v3m1-16v3m0 10v3m1-18v1m1 27v2m1 1v1m1 6v2m0 8v3m1-33v1m1-2v1m1-10v4m1 21v2m1 3v2m1-38v2m1 14v7m2-4v7m0 35v1m1-2v2m3-29v4m0 4v3m1-7v2m0 7v3m1 7v9m2-46v3m0 8v3m1-36v2m0 31v5m0 4v16m1-59v1m0 44v2m1-47v5m0 44v3m1-25v2m1-18v3m1 22v2m0 14v1m1-12v4m1-34v2m1-3v2m2-12v3m1 60v2"/><path stroke="#84bf41" d="M167 225v1m1 34v2m1-45v1m3 0v1m2 7v4m1 26v1m1-44v1m0 4v2m0 33v1m1-42v1m0 38v1m0 20v1m1-54v1m0 45v5m1-40v1m0 40v1m1-10v1m1-23v1m1-7v1m0 38v1m1 1v2m1-46v2m0 17v1m0 12v4m0 3v3m1-57v1m0 28v1m1-31v1m0 26v2m3 4v1m1-34v1m3 12v1m0 26v7m2-32v3m1-22v4m3 3v2m2 1v2m0 10v1m0 32v1m1-36v1m1-1v1m2-10v2m1-3v1m1 32v2m0 4v3m1-37v1m0 19v1m0 11v9m1-41v1m0 23v1m1-3v1m1-29v3m0 14v3m4-6v2m1-22v2m1 26v1m0 3v3m1-5v1m0 13v1m2-18v1m1 0v4m0 9v2m1-23v1m0 11v2m2-31v2m1 10v1m8-18v1m2 9v2m1-10v2m0 10v2m1-10v3m0 4v3m1-14v1m0 28v4m1-8v2m1 1v2m1-23v4m0 24v2m0 13v1m1-33v1m2 15v13m1-17v2m1 2v3m1-34v4m1 17v4m1 34v5m1-51v4m0 7v2m0 32v1m1-40v7m0 30v2m1-36v3m1-2v5m0 5v6m1-10v2m0 11v2m1-11v2m0 12v2m1-7v6m0 15v1m1-8v3m1-65v1m0 19v3m0 14v3m0 27v3m1-70v1m0 38v4m0 16v4m0 5v1m1-34v4m0 2v4m1-10v2m0 9v3m1-17v2m1 7v8m1-15v2m0 17v2m1-10v2m1-34v2m1-3v1m0 45v12m1-15v3m1-55v3m0 49v8m0 1v1m1-4v2"/><path stroke="#40b050" d="M167 226v1m1 31v2m1-44v1m3 19v1m1-4v2m1-5v2m1 23v1m1-45v2m0 7v1m1 29v1m0 22v3m1-58v1m0 51v4m1-45v1m0 39v2m1-10v1m1-21v1m1-7v1m0 36v1m1-1v3m1-45v1m0 20v3m0 6v3m0 10v1m1-59v1m0 30v1m1-33v1m0 29v2m3 0v2m1-13v1m3-7v1m0 22v3m0 7v5m1-3v2m1-33v2m6-16v2m0 44v1m1-36v1m0 28v1m1-30v1m2-7v2m0 9v2m1-15v1m0 23v1m1 6v1m0 9v2m1-40v1m0 21v2m0 6v3m1-33v1m0 25v1m1-3v1m1-33v3m0 20v2m3 24v1m1-35v2m1-21v1m1 29v3m1-9v3m0 2v2m0 15v1m1-42v3m1 18v2m1-1v2m1-9v1m1-5v6m1-16v1m1 10v1m3-9v1m5-12v1m2 8v2m1-6v3m0 4v3m1-5v4m1-10v1m0 23v4m1-5v1m1 1v2m1-23v2m0 4v3m0 19v2m1-16v1m2 9v5m0 13v10m1-33v6m1 1v3m1-25v6m0 36v2m1-25v2m0 34v1m0 1v1m1-7v2m1-53v7m0 13v1m0 30v1m1-41v2m0 7v1m0 28v1m1-37v3m1-2v3m0 22v3m1-21v2m0 15v2m1-15v2m0 16v2m1-13v4m1-48v5m0 55v2m1-61v3m0 14v2m0 20v2m0 23v2m1 2v1m1-31v2m1-4v9m1-12v4m1-1v4m0 8v3m1-20v2m0 21v1m1-9v2m1-34v2m1-4v2m0 38v5m1-52v2m0 42v5m0 3v5m1-55v2m0 7v7m0 28v3m1-35v11m0 28v2"/><path stroke="#22b07c" d="M167 227v1m1 29v1m1-44v2m0 62v1m2-16v6m1-34v1m0 26v1m1-32v2m1-17v3m0 13v2m1 20v1m1-34v1m0 30v1m1-42v1m0 23v1m0 13v1m1-33v1m0 56v4m1-50v1m0 39v1m1-10v2m2-25v1m0 34v1m1-2v2m1-43v1m0 24v6m0 14v2m1-29v1m1-35v1m0 32v1m3-2v1m1-12v1m3 16v1m0 15v1m1-8v4m1-29v2m0 15v8m6-43v2m1 10v1m0 30v2m2 3v1m1-40v2m0 5v2m1-12v1m0 21v1m1 6v1m0 12v1m1-42v1m0 24v6m1-31v1m1 25v1m1-37v3m0 25v2m1-23v2m2 18v1m0 23v1m1-37v3m1-20v1m2 47v1m1-40v4m1-14v3m0 24v1m1-28v1m0 27v1m1-8v1m1-7v3m0 6v2m2-6v2m3-22v11m0 1v7m4-15v4m3-8v1m0 5v3m1-1v4m2-7v1m0 20v2m1-28v2m0 23v2m1 1v1m1-23v2m0 9v2m0 16v1m2-10v1m1-1v6m1-13v8m1-18v1m0 4v6m0 7v7m1-16v5m0 30v1m1 10v3m1-6v2m1-52v1m0 21v1m0 28v1m1-42v2m0 10v2m0 25v1m1-38v2m1-1v2m0 28v5m1-28v2m0 19v1m1-18v2m0 20v2m1-59v4m0 36v4m1-39v5m0 16v4m0 1v6m0 21v2m1-56v4m0 6v4m0 24v2m0 19v2m4-27v14m1-19v4m0 15v2m1-48v13m0 11v1m0 25v2m1-9v1m1-33v2m0 47v4m1-55v2m0 32v4m1-45v1m0 39v2m0 13v3m1-56v7m0 7v5m0 20v3m1-35v3m0 11v5m0 20v3"/><path stroke="#10b0a0" d="M167 228v1m1 27v1m1-44v1m1-3v3m1 47v2m0 6v1m1-37v2m0 28v1m1-35v2m0 12v3m1-32v2m0 18v1m2-13v1m0 28v1m1-16v2m0 9v2m1-34v2m1 10v1m0 39v1m1-10v1m1-17v1m1-6v1m0 32v1m1-25v5m0 17v1m1-42v2m1-15v1m0 33v1m0 21v2m1-60v1m0 34v1m3-5v2m1-12v1m3-4v1m0 18v2m1 7v2m1-23v3m0 8v4m0 13v2m5-50v5m1-7v2m1 11v1m0 33v5m1-38v1m1 36v1m1-39v5m1-9v1m0 19v1m1 5v2m1-29v1m1-1v1m0 28v1m0 13v1m1-16v1m1-41v3m0 30v3m1-30v4m0 2v6m2 13v2m0 20v1m1-38v2m1-18v1m2 49v1m1-49v1m0 11v3m0 7v2m1 0v1m1-26v1m0 25v1m1-28v1m0 19v1m1-21v3m0 9v3m0 11v2m1-13v1m1 6v1m3-4v3m4-22v4m0 4v3m3-10v5m3 0v2m0 16v2m1-24v1m2 1v2m0 13v3m0 11v2m1-10v1m1 1v4m2-21v1m1-11v3m0 1v5m0 11v7m1-4v5m0 23v2m1 6v5m1-5v2m1-59v1m0 31v1m0 26v1m1-43v2m0 14v1m0 23v1m1-39v2m1-1v2m0 35v4m1-34v2m0 22v2m1-22v2m0 24v2m1-57v3m0 29v4m1-30v16m0 11v4m0 15v2m1-50v6m0 30v3m0 15v1m4-8v1m1-30v4m0 1v2m1-31v4m0 23v1m0 28v2m1-10v1m1-32v5m0 33v9m1-49v2m0 25v1m0 1v3m1-40v2m0 34v3m0 18v1m1-38v4m0 13v3m1-35v3m0 19v3m0 15v2"/><path stroke="#10b0b2" d="M167 229v1m1 5v1m0 18v2m1-44v1m0 63v1m1-63v3m1 53v2m1-40v1m0 31v2m1-55v5m0 11v2m0 17v4m1-38v2m0 21v1m1 17v1m0 17v2m0 5v1m1-3v2m1-40v2m0 5v2m1-33v1m1 11v1m0 38v2m1-35v8m0 17v1m2-20v1m0 30v1m1-27v3m0 5v6m0 8v3m1-57v1m0 13v2m1 22v1m0 17v3m0 2v4m1-65v1m0 36v1m2 22v3m1-32v1m1-11v1m3-2v1m0 16v1m1 7v2m1-18v8m4-17v2m1-22v6m0 12v2m1-19v3m1 12v1m1 0v1m0 33v1m3-38v1m1 23v1m1-28v1m1-2v2m0 30v1m0 11v1m2-19v2m1-34v2m2 27v2m0 17v1m2 2v1m2-5v1m1-51v1m0 15v7m1-14v1m0 14v1m1-24v1m0 23v1m1-26v1m0 17v1m1-13v5m0 16v1m1-13v2m1 5v2m7-14v2m6-5v1m0 13v2m1-21v1m2-1v1m0 20v1m0 5v3m1-7v2m0 10v4m0 1v6m1-18v9m2-32v2m2 18v3m0 18v2m1-9v17m1-1v1m1-59v2m0 33v1m0 24v1m1-43v1m0 17v1m0 20v2m1-40v2m0 22v1m1-44v1m0 19v2m0 41v5m1-41v2m0 26v1m1-24v1m0 28v2m1-56v2m0 25v2m1 5v4m0 8v3m1-9v2m0 10v3m4-6v2m1-1v1m1-58v2m0 58v2m2-38v12m0 6v2m0 5v8m1-38v4m0 10v11m1-33v2m0 27v5m1-12v5m0 4v4m1-33v1m0 25v4m0 10v1"/><path stroke="#15abcc" d="M167 230v2m1 4v1m0 16v1m1-43v1m0 63v1m1-59v3m0 53v6m1-7v1m1-42v1m0 34v2m1-52v3m0 5v3m0 23v5m1-44v1m0 24v1m1 15v1m0 20v5m2-38v5m1-33v2m1 11v1m0 30v3m0 4v2m1-36v3m0 8v2m0 13v2m2-18v1m0 28v1m1-12v8m1-53v4m0 6v3m1-12v1m0 36v1m0 15v1m1-18v2m1-40v3m1 48v9m1-30v1m1-11v1m3 0v1m0 13v2m1-21v4m0 23v2m5-23v2m1-4v1m1-21v1m1 14v1m1 0v1m3-2v1m0 16v1m1-19v6m0 16v2m1-28v1m1-2v1m0 33v1m0 8v1m3-51v2m0 22v8m1-34v2m0 53v1m1-56v1m0 34v2m1-37v1m4-1v1m1 10v2m0 10v2m1 0v1m1-24v1m0 15v1m1 10v2m1-13v2m1 5v1m7-13v1m6-5v2m0 9v2m1-18v2m1 1v12m1-18v2m0 22v5m1-2v10m0 11v4m1-9v3m0 11v1m2-54v3m2 23v4m0 12v2m2-10v2m0 15v2m1-22v1m0 22v1m1-45v3m0 19v1m0 18v1m1-57v5m0 12v2m1-18v2m0 15v2m0 48v2m1-46v3m0 29v2m1-29v3m0 31v2m1-55v2m0 19v3m1 11v8m1-4v10m4-1v2m1-2v1m1 3v8m2-26v5m1-26v10m1-20v4m0 8v15m1-2v4m1 2v5"/><path stroke="#189fd5" d="M167 232v1m1 19v1m1 21v1m1-55v2m0 44v7m1 0v2m1-46v2m0 37v2m1-15v4m1-22v1m1-8v1m0 20v1m3-41v1m1 12v1m0 34v4m1-38v4m0 23v3m2-15v1m0 26v1m1-29v2m1-25v6m1-10v1m0 38v1m0 12v2m1-15v1m2 5v5m1-22v1m1-12v2m3 2v1m0 11v1m1-21v2m0 4v1m0 20v2m2 11v2m3-32v1m1-4v2m2-9v1m1 0v1m0 38v2m3-40v1m0 14v1m1 2v2m1-27v1m1-5v4m3-9v2m0 32v4m1-36v4m0 48v1m1-54v2m0 15v1m0 18v1m1-37v6m0 47v2m5-43v2m0 6v2m1 1v1m1-8v1m1 13v1m1-12v3m1 3v2m4-26v9m2-9v6m7 3v9m1-14v2m0 9v2m1-19v7m1-7v1m1 52v4m1-10v11m2-57v4m2 30v12m2-6v2m0 11v2m1-19v1m0 20v1m1-46v2m0 23v1m0 16v1m1-51v3m0 3v6m1-11v1m0 10v1m1 3v3m0 34v2m1-60v1m0 26v2m0 36v4m1-57v3m0 14v2m6 29v3m1-4v3m2 6v2m3-53v8"/><path stroke="#1890d0" d="M167 233v1m1 3v1m0 12v2m1 20v2m1-44v5m0 28v3m1-47v1m0 55v1m1-52v5m0 41v3m1-14v2m1-23v1m0 20v6m1-34v1m0 18v1m4-28v1m1-13v1m0 9v4m0 22v5m2 14v1m1-30v2m2 13v1m0 10v1m1-12v2m2-1v4m1-19v2m4-6v2m0 7v2m1-22v2m0 26v1m5-16v2m1-4v1m2-11v1m1 0v1m3 2v2m1 10v5m1-27v2m1-9v3m0 1v1m4 1v12m0 10v5m1-30v3m0 9v3m6-3v6m1 2v1m1-9v2m1 15v2m1-11v2m1 3v1m4-29v2m0 9v3m1-8v10m1-16v2m0 6v5m8-5v9m6-17v1m4 42v3m0 4v4m1-16v1m0 18v1m1-48v3m0 26v2m2-34v3m0 1v2m1-13v3m0 17v1m0 39v4m1-63v7m0 15v4m0 42v1m1-53v1m0 7v4m6 34v2m1-3v3m2-8v11m5-63v2"/><path stroke="#2175c4" d="M167 234v3m0 4v2m1-5v2m1 31v1m1-37v4m0 21v3m1-43v2m0 54v2m1-5v4m1-16v3m1-25v2m0 15v3m1-27v1m0 16v1m4-29v2m1-11v9m2 43v2m1-31v2m2-26v1m0 41v2m0 5v3m1-9v2m1-36v2m1 25v6m1-17v2m4-2v7m1-21v1m0 26v2m5-13v1m1-4v1m2-14v2m1-1v2m3 5v3m2-17v2m5 26v3m1-30v9m7 6v2m1-10v2m1 19v2m1-11v3m1 17v1m4-32v4m1-15v3m1 7v1m18 32v4m1-11v1m0 16v1m1-52v2m0 34v2m3-40v7m0 54v6m1-62v4m0 2v9m1-5v7m7 42v3m7-70v3m0 1v1"/><path stroke="#2a5ab8" d="M167 237v4m1-1v2m0 4v2m2-9v3m0 17v1m1-10v2m0 26v1m1-2v2m1-15v3m1-26v2m0 11v2m0 15v6m1-44v2m1 11v1m3-28v2m3 41v2m1-53v2m0 20v2m2 20v5m1-4v2m2-16v5m1-13v2m2 27v1m0 5v1m1-9v3m2-27v2m0 7v3m5-10v2m1-5v2m2-18v2m1-11v3m0 5v4m4-10v1m1-1v3m5 31v2m8-19v2m1-11v3m1 23v6m1-14v3m0 11v3m1-9v9m5-45v3m20 37v2m0 12v2m1-55v4m0 38v1"/><path stroke="#f07820" d="M167 251v1m1-40v2m0 16v1m4-17v1m3-4v2m0 6v2m2-2v6m1 2v2m0 20v2m1-16v1m1 32v2m1-35v1m1-8v1m3-9v1m0 17v2m4 18v2m1-21v1m0 16v2m1-31v5m1 11v2m4-12v8m2-27v2m6 18v1m1-22v2m1-4v4m0 36v1m0 7v2m3-14v1m7-27v2m0 13v1m1-3v1m1-19v4m0 5v3m2 26v1m5-33v1m1 5v4m1-8v4m6-12v2m1-4v2m1 15v3m5 17v8m2-47v2m0 12v1m3 26v3m0 9v4m15-45v10m0 34v13m7-70v2"/><path stroke="#ec5820" d="M167 252v1m1-39v2m0 13v1m4-17v1m3-1v6m3 28v2m1-8v3m1 26v2m1-38v1m1-9v2m3-7v1m0 12v4m5 2v1m1-9v2m1 6v3m6-32v3m6 21v2m0 20v1m1-47v2m0 49v1m1-11v7m10-36v4m0 4v5m1-3v1m1-14v5m7-5v2m1-11v1m0 7v9m1 0v5m6-5v1m1-13v1m1 17v2m7-12v2m3 30v9m3-52v1"/><path stroke="#e83820" d="M167 253v1m1-38v2m0 9v2m0 47v3m4-68v2m6 30v4m2 25v1m0 4v1m1-46v2m1-23v5m0 5v5m3 6v2m5 7v2m1-9v3m1 0v3m5-29v10m7 35v1m1 4v1m11-35v4m1 0v2m8-16v3m1-8v7m7 6v3m1-11v3m14-9v2"/><path stroke="#e02c20" d="M167 254v1m1-37v9m10 10v6m3-32v1m0 17v3m1-16v5m8 22v2m1-8v3m0 7v2m1-14v2m5-3v8m7 12v2m1 3v2m4-23v5m8-32v2m0 16v2m8-20v6m9 3v12"/><path stroke="#d82020" d="M167 255v3m14-46v17m10 11v7m1-36v2m0 19v3m13 22v2m12-46v5m0 7v4"/><path stroke="#c81c1c" d="M167 258v6m0 10v5m25-66v2m0 10v7m25-14v7"/><path stroke="#f09420" d="M168 211v1m1 9v2m3-8v1m5 1v2m0 6v1m0 29v2m1-32v2m0 24v2m1-19v1m1 31v2m1-32v1m1-8v2m2 10v2m1-24v1m0 20v2m1-22v2m3 33v3m1-47v1m0 26v1m2 6v2m1-36v4m0 8v1m3 17v4m2-29v2m0 16v9m6-11v2m1-19v2m1-2v2m0 33v1m0 10v1m2-23v2m1-11v2m7-13v2m1 14v1m1-23v3m0 12v2m1 18v6m1-5v5m5-31v2m1 7v2m1-13v3m6-9v1m1-3v1m1 15v2m2-20v1m2 37v5m1-5v2m2-40v1m0 15v2m1-14v11m1-15v4m1 36v2m4-41v2m0 9v2m11-6v5m0 10v4m0 25v5m1-39v9m1-27v4m1-4v4m1 38v5m3-45v1"/><path stroke="#2a4ab0" d="M168 242v4m1-2v3m1-5v7m0 2v3m1-28v1m0 4v19m2 22v7m1-36v11m0 23v2m2-35v2m3-35v8m2 35v6m1-9v3m0 3v5m1-49v4m0 12v4m3 25v5m1-37v30m1-45v3m0 25v3m1-31v2m0 19v2m2 30v5m1-5v2m2-27v7m5-5v2m1-5v2m2-24v4m5-9v2m1-2v2m13 9v3m0 2v3m3 12v11m26 0v3m0 6v3m1-54v1"/><path stroke="#2a3aa8" d="M169 247v10m1-8v2m1-24v4m5 2v1m0 5v5m6 10v3m1-40v12m3 34v3m0 4v5m1-19v9m0 6v4m1-40v4m1-26v5m0 7v7m5-16v1m1-4v3m5 24v3m2-32v5m19 9v2m29 29v6"/><path stroke="#2931a1" d="M176 234v5m11 26v6m1-45v9m1-11v1m5-14v5m1-5v2"/></g><path d="M248.5 279.3 L247.6 267.4 L246.8 257.9 L245.7 267.4 L244.5 269.8 L243.3 268.6 L241.6 263.9 L240.2 255.6 L238.5 248.5 L236.9 241.3 L235 233 L233.1 225.9 L231.4 223.6 L229.8 227.1 L227.9 234.2 L226.9 241 L226.3 250 L225.7 258.9 L224.4 261.6 L222.6 262.3 L221.4 261 L220.8 253.6 L219.7 254.9 L218.6 261.6 L217.7 258.9 L217.5 258.1 L217.5 265.5 L206.4 265.5 L206 268.4 L205.2 266.3 L205.1 265.5 L195.1 265.5 L195.1 264.1 L195 264.4 L193.7 266.3 L191.8 268.8 L189.9 271.4 L187.9 273.3 L186 274.6 L183.4 275.6 L180.9 276.5 L178.3 277.2 L174.5 277.4 L170.6 277.6 L166.8 277.8 L166.2 277.8 L166.2 293.7 L249.6 293.7 L249.2 291.1 L248.5 279.3ZM269.5 275 L268.5 277 L267.2 280 L267 293.7 L271 293.7 L271 275 L269.5 275Z" fill="none" stroke="#fff" stroke-width="4" stroke-linejoin="round"/><path d="M248.5 279.3 L247.6 267.4 L246.8 257.9 L245.7 267.4 L244.5 269.8 L243.3 268.6 L241.6 263.9 L240.2 255.6 L238.5 248.5 L236.9 241.3 L235 233 L233.1 225.9 L231.4 223.6 L229.8 227.1 L227.9 234.2 L226.9 241 L226.3 250 L225.7 258.9 L224.4 261.6 L222.6 262.3 L221.4 261 L220.8 253.6 L219.7 254.9 L218.6 261.6 L217.7 258.9 L217.5 258.1 L217.5 265.5 L206.4 265.5 L206 268.4 L205.2 266.3 L205.1 265.5 L195.1 265.5 L195.1 264.1 L195 264.4 L193.7 266.3 L191.8 268.8 L189.9 271.4 L187.9 273.3 L186 274.6 L183.4 275.6 L180.9 276.5 L178.3 277.2 L174.5 277.4 L170.6 277.6 L166.8 277.8 L166.2 277.8 L166.2 293.7 L249.6 293.7 L249.2 291.1 L248.5 279.3ZM269.5 275 L268.5 277 L267.2 280 L267 293.7 L271 293.7 L271 275 L269.5 275Z" fill="#b4b4b4" stroke="#000" stroke-width="0.9" stroke-linejoin="round"/><g stroke-width="1" fill="none" shape-rendering="crispEdges" transform="translate(.5 0)"><path stroke="#f0b020" d="M289 14v3m3 37v1m0 8v4m1-52v15m2 6v6m0 11v4m2-43v3m0 10v2m1-6v2m3-11v3m0 28v3m6 18v2m1-49v5m0 33v3m1-34v2m0 21v5m0 10v2m1-52v4m0 28v7m1-20v1m1-12v3m3 38v5m1-29v2m1 11v15m2-51v1m5 12v3m3 11v3m1-1v3m1-26v1m0 8v2m1 3v2m1-10v5m3 26v2m3-42v1m1 4v2m1-12v1m0 12v8m0 1v2m0 19v4m4-36v1m1-10v2m0 27v8m1-7v3m0 3v3m1-2v1m3-35v1m4 15v3m0 8v1m1-33v1m0 46v1m4-37v2m1 1v1m1-15v2m2 45v1m5-46v2m5 10v2m9 33v5m1-42v1m0 32v3m0 6v2m3-55v1m2 10v2m1 6v2m1-22v5"/><path stroke="#f8dd11" d="M289 17v5m3 1v3m0 25v3m0 13v3m1-56v1m0 15v9m0 32v2m1-36v2m1 3v11m0 4v5m1-37v4m2-4v2m0 36v11m3-54v13m0 15v3m1-22v4m0 4v4m4 11v5m1 7v2m1-42v4m0 27v2m1-29v2m0 14v1m0 1v3m0 17v3m1-16v4m1-23v2m1-11v2m0 21v1m0 1v1m3-6v18m0 5v2m1-32v1m1 10v3m3-30v2m1-10v1m2 15v18m1-16v12m3-4v3m1 0v2m1-12v3m1 2v2m1-7v2m3 21v3m2-45v2m1 4v1m1 5v1m1 34v4m4-39v1m1-9v1m0 24v2m0 8v2m1-11v2m0 9v2m1-8v4m0 1v4m3-38v1m1-7v1m3 19v1m0 21v3m1-44v2m4 10v1m2-12v2m3 21v1m4-22v2m5 3v5m0 2v2m1-18v10m4 14v1m4 19v5m0 5v2m1-45v1m0 20v1m0 10v2m0 11v2m3-56v1m2 7v2m1 10v2m1-19v2"/><path stroke="#d0d828" d="M289 22v7m2 6v6m1-24v6m0 3v12m0 9v4m0 19v3m1-34v5m0 20v7m0 2v6m1-52v5m0 7v6m1-17v2m0 32v3m1-43v3m0 10v1m2-9v1m0 33v2m0 11v3m3-26v1m1-38v4m0 3v8m0 12v4m0 18v9m1-40v4m1-8v6m2 16v2m0 5v3m1 1v3m1-36v4m0 21v2m1-25v3m0 6v5m0 25v2m1-14v2m1-23v2m0 9v9m0 16v2m1-47v2m0 16v3m3-5v2m1-9v2m1 9v2m3-25v2m1-11v3m1 5v8m1-6v5m1-10v1m1 11v2m1 7v1m1-4v2m4-5v2m3 17v2m1-35v10m1-15v2m1 3v1m1 5v1m0 31v3m5-7v4m1-40v2m0 21v1m0 12v2m1 0v1m1-11v2m0 9v2m1-8v3m2 8v1m1-49v2m3 15v2m1-17v1m3 43v1m1-34v2m2-12v2m1-4v3m1-1v1m0 14v5m1-3v4m4-19v1m0 40v1m1-48v1m4 6v2m1 9v1m4 2v3m4 17v3m1-35v2m0 22v2m0 5v3m0 15v2m3-57v1m2 5v1m1 14v2m0 2v10m1-31v2m1 51v9m1-42v3m0 33v6"/><path stroke="#84bf41" d="M289 29v3m0 44v2m1-64v3m1 13v5m0 6v7m0 10v1m1-45v3m0 21v9m0 26v3m1-32v5m0 10v5m1-50v13m0 18v2m1-22v3m0 37v3m1-47v1m0 14v2m1-5v2m1-7v2m0 29v2m0 16v2m3-27v2m0 17v7m1-33v3m0 14v1m0 9v3m1-47v4m0 4v6m1-16v2m0 6v3m2 11v2m0 10v2m1-14v6m0 2v5m1-29v5m1-4v6m0 32v4m1-16v1m1-22v2m0 6v1m0 9v3m0 11v2m1-43v2m0 12v2m0 10v2m3-16v2m1-8v1m1 9v2m3-21v9m1-17v2m1 11v7m2-20v2m1 14v7m1-3v3m1-5v2m1-24v2m3 21v1m1-8v6m1-1v6m0 18v3m1-11v1m1-35v4m0 10v4m1-17v3m1 1v1m1 5v1m0 25v5m4 20v1m1-37v2m0 14v4m0 11v1m1-54v1m0 18v2m0 15v2m1-1v2m2-5v1m0 4v1m0 4v2m1-53v2m2 38v1m1-41v3m1-3v2m1 15v1m1-14v2m6 0v2m1-8v2m0 3v3m1-5v1m0 14v1m1-1v3m4-14v1m1-7v2m3 32v3m1-35v4m0 16v1m1-5v2m0 26v1m4-29v2m4 18v2m1-33v1m0 26v5m0 20v1m1-46v1m2-12v1m2 2v2m1 29v2m1-31v1m1 49v1m1-35v2m0 32v4"/><path stroke="#40b050" d="M289 32v2m0 40v2m1-59v17m1-9v5m0 18v10m0 6v3m1 9v2m1-29v3m0 2v5m2-36v2m0 43v2m1-52v3m0 17v2m0 23v1m0 6v10m1-45v1m0 24v2m1-5v2m3-5v2m0 13v2m1-23v3m0 9v2m0 13v1m1-50v2m0 14v4m1-9v3m1-17v1m0 6v1m1 16v1m0 14v3m1-21v4m0 6v2m1-19v8m2 15v1m1-21v5m0 14v3m0 5v3m1-39v2m0 7v3m0 14v1m1-15v2m2-6v2m1-8v2m1 8v2m2-22v1m2-2v1m1-8v3m0 20v5m2-26v1m1 5v2m1 10v3m1-4v2m1-20v2m1 27v1m2-8v1m1-11v2m0 6v2m1-6v3m0 6v3m0 13v2m1-24v6m0 7v3m1-37v3m0 18v3m1-17v3m1-1v1m1 5v1m0 23v1m5-13v2m0 20v11m1-52v1m0 36v2m1-1v1m2 0v4m1-49v2m1 44v1m1-12v3m2-38v2m0 30v4m1-23v2m1-11v1m6 1v1m1-1v2m1-8v1m6 0v1m3 11v1m0 5v1m0 10v3m0 12v2m1-49v3m1 18v2m1-14v10m3-2v2m4 17v3m1-33v2m0 53v2m1-51v3m0 6v2m2-18v1m0 56v3m2-59v1m1 33v1m1-31v1m2 13v1m0 25v1m0 3v5"/><path stroke="#22b07c" d="M289 34v2m0 37v1m1-40v3m1-23v11m0 42v5m3-20v2m1-34v3m0 47v3m1-57v2m0 22v2m0 18v3m1-27v1m0 22v1m1-4v1m2-14v9m1 4v1m0 10v2m1-18v9m1-37v3m0 20v4m1-10v2m1-21v2m0 8v2m0 20v11m1-19v2m0 18v2m0 9v1m1-54v3m0 15v3m3 17v2m0 11v1m1-13v5m1-29v2m0 18v2m1-39v8m0 11v3m0 4v2m1-7v6m0 23v1m1-34v1m1-8v2m1 8v2m2-19v1m2-2v3m0 8v8m1-28v1m0 28v4m2-32v2m1 4v2m1 9v3m2-17v2m0 9v2m1 15v4m1-5v2m1-8v1m1-14v2m0 10v2m1-10v2m0 12v3m1-16v4m0 6v7m1-10v2m1-16v3m1-3v1m0 38v1m1-34v1m2 17v8m2 14v2m1-34v3m1-18v1m0 37v1m0 12v1m1-61v1m0 46v2m3-45v2m1 8v1m0 32v1m1-14v3m2-33v2m0 21v7m0 4v1m1-39v2m0 11v2m1-8v2m6 0v2m1-1v2m1-12v2m4 19v13m2-30v1m3 7v3m0 7v10m2-9v1m1-17v2m0 10v2m3-5v1m3 31v4m1-19v3m1-31v1m1 4v2m0 11v2m2-19v1m0 51v4m1-18v13m0 4v3m1-60v2m1 35v2m1-32v1m0 56v1m2-47v2m0 27v3"/><path stroke="#10b0a0" d="M289 36v1m0 31v2m1-33v3m1 32v3m3-21v5m0 16v4m1-63v1m0 1v2m0 53v4m1-63v2m0 26v2m0 13v3m1-23v2m0 19v1m1-5v2m1-42v3m1 21v5m0 9v2m1 3v3m0 4v3m2-53v3m0 33v3m1-33v1m0 21v3m1-26v2m0 12v3m0 14v3m0 11v4m1-45v7m0 13v2m0 25v6m1-57v4m0 3v4m3 33v1m0 8v2m2-14v2m1-43v2m0 8v11m0 9v2m1-12v3m0 6v3m0 18v2m1-35v2m1-8v1m1-14v3m0 1v3m0 15v2m1 19v5m1-40v2m2-1v8m0 8v3m1 2v5m1-35v1m1-4v1m1 5v1m3-1v9m1 21v6m1-9v2m1-33v2m0 22v1m1-17v2m0 14v1m1-12v1m0 17v4m1-22v2m1 9v2m1-15v17m1-19v1m0 35v2m1-32v1m2 9v1m0 14v4m2-42v7m0 42v3m1-34v2m1-14v2m0 36v3m0 7v2m1-59v1m0 47v2m2-27v1m1-19v2m0 12v3m1-8v2m1 14v3m2-28v3m0 11v7m1-25v3m0 6v2m1-4v4m2 11v1m4-14v2m1-1v3m2-13v1m3 15v3m2-16v2m0 40v1m3-37v1m3-7v2m0 14v1m2-3v7m0 21v4m1-37v2m3 29v3m1-48v1m0 28v4m1-31v3m1 4v1m0 15v1m1-26v1m1 6v1m0 46v4m1-17v3m0 13v4m1-59v2m1 39v1m1-32v2m0 15v7m0 21v2m2-38v1"/><path stroke="#10b0b2" d="M289 37v2m0 21v4m0 1v2m1-27v2m4 17v16m1-61v2m0 61v3m1-36v3m0 6v4m1-18v2m0 15v2m1-23v1m0 15v3m1 23v1m1-44v4m0 16v2m1 4v4m2-47v2m0 34v4m0 9v11m1-60v3m0 25v3m0 15v9m1-54v1m0 17v2m0 9v3m0 18v3m1-51v3m0 11v3m0 2v4m1-27v3m0 11v5m3 29v3m0 1v4m2-10v6m1-51v2m0 32v1m0 19v2m1-52v7m0 7v4m0 12v2m0 14v2m1-36v3m1-22v3m0 9v1m1-13v3m0 13v9m1 11v10m1-33v3m0 7v10m1 0v1m1-3v3m2-33v2m2 1v2m4 36v4m1-11v2m1-36v1m0 25v2m1-20v1m0 17v1m1-14v1m1-3v3m1 13v2m1 0v1m0 20v1m1-40v1m0 31v3m1-29v2m2-12v9m0 4v6m0 19v13m1-5v2m1-54v2m0 7v1m0 38v3m2-41v1m0 38v7m1-56v1m0 48v6m2-35v2m1-16v1m0 4v7m0 30v2m1-35v2m1-3v15m1-17v3m1-8v11m1-15v6m1 2v19m1-32v2m0 24v2m1-5v1m4-11v2m1 0v1m0 2v3m2-21v2m3-2v2m0 14v2m1-2v1m0 18v2m1-30v1m3 1v2m3-8v2m0 17v2m1-17v1m0 7v4m1-13v13m1-7v2m2 31v5m1-7v2m1-44v2m0 20v6m1-29v2m1 5v2m0 17v1m1-26v2m1 5v1m0 41v4m1-15v2m1-41v2m0 30v9m1 3v1m1-31v1m0 21v2m0 18v1m2-37v1m1-4v7"/><path stroke="#15abcc" d="M289 39v2m0 14v5m1-18v5m0 9v12m0 3v5m6-29v6m1-12v2m0 11v2m1-20v4m0 7v4m1-8v12m0 19v3m1-56v13m0 22v2m3-1v9m0 11v1m1-64v3m0 31v8m0 16v4m1-60v2m0 20v9m0 24v3m1-57v3m0 17v1m1-24v2m3 51v1m3-52v1m0 35v2m0 16v1m1-53v3m0 7v2m0 1v4m0 18v3m0 8v3m1-37v3m1-16v9m2-12v4m0 8v3m0 16v5m1-20v7m0 10v3m1-2v1m1-1v2m2-36v1m2 2v1m1 7v2m1 0v2m3 22v3m1-40v1m0 28v1m1-23v2m0 19v1m1-16v1m1-4v2m1 18v1m1 18v2m1-11v4m1-24v2m2-17v3m1 44v2m1-54v2m0 44v4m2-37v2m1-12v1m2 16v2m1 27v1m3-33v3m4-18v3m0 19v2m1-4v1m2 24v1m6-28v7m1-9v7m1-23v2m0 11v1m1 1v4m0 10v4m1-27v1m2 12v12m1-25v1m3-9v3m1-1v1m0 16v5m1-21v3m1 4v2m0 35v3m2-8v3m0 5v1m1-9v1m1-40v2m0 10v5m2-15v2m0 20v1m1-25v3m1 3v1m0 33v7m1-13v2m1 2v5m1-1v2m1-32v3m0 6v2m0 12v2m0 14v2m1-29v1m1-9v1m1-8v5m0 7v6"/><path stroke="#189fd5" d="M289 41v2m0 10v2m1-8v4m7-8v11m1-14v7m1-8v4m0 12v4m0 11v4m1-60v3m0 41v2m0 14v4m4-2v2m1-63v1m0 58v3m1-63v3m7-3v2m0 38v1m0 13v2m1-56v4m0 38v8m1-50v14m3 1v5m0 6v5m1 5v2m1-3v1m1 0v2m4-38v3m1-3v1m0 5v5m1 0v2m3 27v5m1-15v2m1-27v2m0 22v2m1-20v2m1-5v2m1 31v3m1-9v1m0 11v2m1-36v2m0 21v4m1-18v5m2-26v4m1 45v2m1-9v3m3-42v2m1-6v1m1 17v2m1 27v2m3-29v6m0 3v3m4-27v4m0 13v2m1-4v2m1-22v3m0 2v12m0 3v1m7-20v4m0 22v2m1-27v3m0 20v6m1-27v2m1 21v4m1-22v1m0 28v1m1-39v2m1 31v4m1-31v2m4-8v2m0 25v3m1-29v2m1 4v3m1 12v1m0 16v11m1-10v2m1-2v2m1-37v10m2-13v3m0 23v1m1-23v3m1 1v1m0 23v2m0 6v1m1-9v3m1 9v5m1-4v1m1-30v6m0 16v2m0 10v2m1-29v2m0 5v1m1-15v1m1-9v2m0 18v4m0 34v1"/><path stroke="#1890d0" d="M289 43v7m10-15v4m0 20v11m1-10v4m0 5v5m5-60v1m8 40v2m0 10v1m5-34v6m1 12v3m1-5v2m1 0v2m5-39v5m1-6v2m0 5v4m3 34v4m1-17v2m1-33v2m0 28v1m1-22v1m1-6v3m1 29v2m1-3v2m0 6v3m1-32v1m0 19v1m3-36v1m1 47v2m1-32v1m3-13v2m1-7v2m0 19v1m1-8v3m1 24v5m1-16v2m2-7v3m4-20v13m1-3v1m8-20v1m1-1v2m0 29v1m3 4v2m1-36v1m0 4v3m1 4v2m1-12v2m4 24v3m1-33v1m1 1v5m1 13v2m1 17v1m1-1v1m3-40v2m1 7v4m1-2v2m0 18v3m1-34v2m0 29v3m1 17v6m1-9v2m1-8v3m0 5v2m1-52v3m0 20v2m0 8v2m1-18v1m1-11v3m0 35v16"/><path stroke="#f09420" d="M292 59v4m5-46v10m0 41v1m1-55v3m0 2v4m3 17v5m6 23v3m1-57v5m0 41v3m1-39v2m0 28v10m1-46v4m0 21v2m1-31v1m0 16v2m1-15v4m4 19v2m3-29v2m1 3v1m8 28v3m1-31v2m1 12v2m7-18v1m1 4v1m1-9v5m0 2v5m0 11v1m0 15v3m4-43v1m0 8v2m1-11v2m1 33v3m4-35v2m4 19v8m2 15v1m1-1v1m2-39v2m1-1v4m8-14v2m15 11v2m0 33v6m3-54v1m3 18v1"/><path stroke="#f07820" d="M297 69v2m1-54v2m9 52v5m1-13v4m1-45v2m1-2v5m0 13v3m1-28v2m0 12v2m1-17v4m4 25v2m0 21v3m4-52v2m8 32v2m1-35v2m1 11v3m7-17v1m1 3v2m1 28v3m4-39v2m0 3v3m6-9v3m9 3v3m1-9v10m23 5v1m6 2v1"/><path stroke="#ec5820" d="M297 71v7m11-11v8m1-55v2m1 5v13m1-23v3m0 7v2m5 16v4m0 11v2m0 2v2m4-51v2m9-1v2m1 8v5m4 39v1m3-56v2m1 2v2m5-4v3m15-6v6m24 10v3m0 4v1m6-8v2"/><path stroke="#2175c4" d="M299 30v5m1 29v5m13-12v2m0 5v3m6-12v7m1-10v1m1 1v2m6-40v5m4 27v3m1-37v1m0 31v2m1-26v2m1-9v4m2 33v6m1-28v2m0 11v1m4 15v3m1-29v3m3-14v2m1-7v2m0 15v2m1-22v2m0 9v4m2 18v1m7-17v2m12 15v2m1-26v4m0 16v12m1-30v2m0 33v1m1-48v4m4 31v2m0 11v1m2-49v2m2 35v2m1-1v1m3-8v2m1-20v1m1-1v1m1-12v2m2 46v3m1-8v5m1-47v2m0 16v2m0 12v1m1-20v1m1-12v2"/><path stroke="#e83820" d="M308 75v1m1-59v3m2 0v7m5 22v4m0 6v1m4-46v1m9-1v2m1-2v2m0 3v7m7-12v1m1-1v5m34 42v1m10-26v1m6-9v2"/><path stroke="#e02c20" d="M309 14v3m21-1v3m58-5v2m0 10v2"/><path stroke="#2a5ab8" d="M313 59v5m18-13v2m0 11v2m1-18v3m0 11v1m1-42v1m1-8v1m3 17v3m0 4v4m4-19v1m0 30v4m1-23v9m3-21v7m1-12v6m0 4v5m1-18v9m9 3v3m3 30v1m9-17v3m1-14v10m0 17v1m1-38v2m5 25v9m0 1v1m4-12v1m1-1v2m3-5v3m0 8v2m1-16v9m2-35v5m2 44v4m2-52v3m0 10v3m0 15v1m1-23v2m1-13v2"/><path stroke="#2a4ab0" d="M331 63v1m1-13v11m5-27v4m4-25v10m0 8v23m5-30v4m10-15v14m4 33v1m8-30v13m2-23v2m9-10v1m1-1v2m0 33v1m3 0v8m0 13v3m1-10v6m0 12v1m2-60v7m4-8v10m1-6v2m1-14v3"/><path stroke="#2a3aa8" d="M333 14v3m37 1v4m4 30v1m4-39v9m1-8v3m1-2v2m3 56v9m1-13v12m7-60v4"/><path stroke="#2931a1" d="M370 14v4m4 35v3m0 5v1m5-44v17m1-17v5m11-9v8"/><path stroke="#28289a" d="M380 23v10"/><path stroke="#d82020" d="M388 16v10"/></g><path d="M382.8 78.3 L381.9 70.6 L380.9 66 L380.4 64.2 L379.2 63.6 L378.1 63.1 L377.2 61.9 L376.6 63.6 L375.8 62.5 L375.4 61 L371.8 61 L371.7 61.3 L371.1 61.9 L370.5 61 L351.2 61 L351.2 60.6 L350.4 61.7 L348.9 63.7 L348 65.1 L347 66.6 L346 67.5 L345.4 70.4 L344.6 73.8 L343.8 73.3 L343.2 75.2 L342.5 79 L341.9 81.9 L341.2 80.5 L340.6 73.3 L339.8 64.6 L338.8 60.8 L337.9 61.8 L336.9 63.7 L336 65.6 L335 68.5 L334.2 71.2 L333.6 68.5 L332.6 66.6 L331.6 64.6 L330.2 60.5 L329.5 58.4 L328.7 53.2 L327.8 46.8 L326.9 41.7 L326.1 39.1 L325.3 39.8 L324.5 42.3 L323.5 46.5 L322.4 51 L321.2 55.5 L320 59.5 L318.7 63 L316.4 67.9 L314.5 70.5 L312.6 72.4 L310.6 73.7 L308.7 74.4 L307.4 75 L306.1 75.6 L304.9 76.3 L303.6 76.9 L302.3 76.3 L301 76.9 L299.7 76.9 L298.5 77.6 L297.2 78.2 L295.9 79.2 L294.6 78.8 L293.3 77.6 L292.3 76.3 L291.4 73.7 L290.5 74.4 L289.5 76.3 L288.9 76.3 L288.9 96.3 L383.4 96.3 L383.4 96 L382.8 78.3ZM391.5 85 L389.6 87 L389.6 89 L386.8 89 L386.5 77.4 L385.2 77.4 L385.2 96 L393.7 96 L393.7 84 L391.5 85Z" fill="none" stroke="#fff" stroke-width="4" stroke-linejoin="round"/><path d="M382.8 78.3 L381.9 70.6 L380.9 66 L380.4 64.2 L379.2 63.6 L378.1 63.1 L377.2 61.9 L376.6 63.6 L375.8 62.5 L375.4 61 L371.8 61 L371.7 61.3 L371.1 61.9 L370.5 61 L351.2 61 L351.2 60.6 L350.4 61.7 L348.9 63.7 L348 65.1 L347 66.6 L346 67.5 L345.4 70.4 L344.6 73.8 L343.8 73.3 L343.2 75.2 L342.5 79 L341.9 81.9 L341.2 80.5 L340.6 73.3 L339.8 64.6 L338.8 60.8 L337.9 61.8 L336.9 63.7 L336 65.6 L335 68.5 L334.2 71.2 L333.6 68.5 L332.6 66.6 L331.6 64.6 L330.2 60.5 L329.5 58.4 L328.7 53.2 L327.8 46.8 L326.9 41.7 L326.1 39.1 L325.3 39.8 L324.5 42.3 L323.5 46.5 L322.4 51 L321.2 55.5 L320 59.5 L318.7 63 L316.4 67.9 L314.5 70.5 L312.6 72.4 L310.6 73.7 L308.7 74.4 L307.4 75 L306.1 75.6 L304.9 76.3 L303.6 76.9 L302.3 76.3 L301 76.9 L299.7 76.9 L298.5 77.6 L297.2 78.2 L295.9 79.2 L294.6 78.8 L293.3 77.6 L292.3 76.3 L291.4 73.7 L290.5 74.4 L289.5 76.3 L288.9 76.3 L288.9 96.3 L383.4 96.3 L383.4 96 L382.8 78.3ZM391.5 85 L389.6 87 L389.6 89 L386.8 89 L386.5 77.4 L385.2 77.4 L385.2 96 L393.7 96 L393.7 84 L391.5 85Z" fill="#b4b4b4" stroke="#000" stroke-width="0.9" stroke-linejoin="round"/><g stroke-width="1" fill="none" shape-rendering="crispEdges" transform="translate(.5 0)"><path stroke="#e83820" d="M289 113v5m0 24v1m1 27v3m3-26v3m1-7v2m0 10v3m3-37v2m4 30v4m0 7v3m1-37v2m0 24v13m1-40v1m5-16v2m0 10v3m7 36v6m0 3v1m1-16v2m3-10v2m1-13v7m0 6v1m9-31v2m12 22v2m3 0v8m1-8v1m1 3v3m5-33v3m0 9v1m1-12v1m0 14v2m19-24v3m7 44v2m1-4v2m8-14v2m0 20v1m1-23v2m2-28v1m0 5v2m1 5v4"/><path stroke="#e02c20" d="M289 118v16m5 11v3m0 4v3m3-38v2m4 38v7m1-36v2m1-2v1m12 42v3m1-13v5m0 7v1m3-44v2m0 17v2m10-38v10m12 23v1m4 3v3m1 3v10m5-40v3m1-4v3m0 8v3m19-26v4m1-4v3m6 40v8m1-4v2m8-10v2m0 16v2m1-20v4"/><path stroke="#ec5820" d="M289 143v7m1 17v3m0 3v3m2-35v5m0 22v9m1-27v2m1-11v2m0 15v2m3-37v1m4 27v2m0 14v2m1-37v2m0 20v2m0 13v3m1-42v1m1-14v8m4-12v1m0 15v2m7 17v7m0 3v7m1-8v2m1 3v2m2-11v1m1-19v5m0 14v3m9-32v2m12 22v2m3-5v3m0 8v2m1-11v1m0 19v1m1-18v2m3-36v6m2-3v3m0 13v1m1 4v1m1-7v6m15-8v7m1-3v5m2-22v4m2-6v22m5 26v2m1-33v3m0 26v1m7-6v10m1-20v1m0 23v1m1-26v2m2-28v2m0 8v1m1 8v4"/><path stroke="#f07820" d="M289 150v2m1 13v2m0 9v2m2-39v2m0 5v3m0 16v3m1-16v1m1-13v1m0 19v2m3-38v1m1 6v1m0 44v2m3-64v13m0 21v3m0 18v2m1-37v1m0 17v2m0 21v1m1-45v1m0 28v7m1-52v1m0 9v2m4 4v1m1-19v3m3 44v2m1-49v5m2 26v4m0 7v3m1-2v1m1 3v2m2-36v1m0 27v2m1-29v8m0 22v1m2-21v5m6-25v9m1 1v1m12 23v2m1-11v1m2-30v2m0 30v1m0 13v2m1-14v1m1 2v1m3-37v3m2-2v1m0 21v2m1 3v1m1-10v2m0 6v2m3-30v4m4 0v1m0 42v1m8-21v6m1-1v3m2-24v4m1 3v5m1-23v3m0 24v7m5 21v1m1-37v3m0 30v1m1-10v1m3-21v6m3 15v2m1-12v2m0 25v1m1-29v2m2-27v1m1 23v3"/><path stroke="#f09420" d="M289 152v2m1 10v1m0 13v2m2-43v2m0 10v2m0 11v3m1-12v2m1-16v1m0 22v4m0 5v5m1-7v2m1-58v1m2 9v2m0 7v2m0 41v1m3-63v1m0 13v3m0 16v2m0 23v1m1-37v1m0 14v2m0 24v2m1-46v1m0 24v3m0 7v4m1-58v2m0 12v2m0 30v19m4-46v1m3 22v4m0 6v5m1-8v3m1-47v1m2 23v2m1 10v2m1 3v1m1-26v9m1-18v1m0 30v2m0 12v1m1-48v4m0 31v2m2-25v2m0 5v2m3-27v5m3-9v4m0 9v3m1-1v1m3-16v1m5 46v1m4-8v1m3-39v1m0 27v2m0 16v1m1-16v1m1 2v1m1 11v2m2-50v1m2-1v2m0 24v1m1 3v2m1-14v2m0 10v3m3-29v4m4-6v2m4 16v2m7-7v2m1 6v5m1 6v3m6-20v2m0 34v1m1-10v2m3-37v3m1 14v2m0 6v2m2 6v2m1-11v1m0 28v1m1-32v2m0 27v1m2-54v1m1 27v2"/><path stroke="#f0b020" d="M289 154v16m1-7v1m2-13v2m0 7v2m1-7v2m0 13v7m1-39v1m0 27v5m1-24v18m0 6v3m1-60v1m2 6v2m0 11v1m0 39v1m3-45v2m0 11v3m0 26v2m1-26v2m1-17v1m0 20v3m0 14v1m1-43v2m4 2v2m3 19v1m0 15v3m4-32v1m1 11v1m1 4v1m1-27v2m0 9v2m1-22v2m0 33v3m1-41v3m1 21v8m1-18v1m1-13v10m1-13v3m1-7v2m0 5v3m3 4v2m1-2v1m1-11v12m2-17v1m5 40v5m0 1v4m3-15v4m1 0v2m1-43v2m0 34v1m1-10v9m1-7v1m0 19v1m1-18v1m1 1v2m1 10v2m4-21v1m2-11v1m0 15v2m2-34v2m0 3v1m1 1v2m4-10v2m2 27v1m2-8v3m9 12v1m0 1v1m5-40v7m1-7v2m0 14v1m0 37v1m1-9v1m3-40v2m0 25v1m1-10v1m0 10v3m1 1v6m1-5v1m1-11v2m0 30v1m1-36v3m0 30v1m2-56v1m1 0v1m0 29v2"/><path stroke="#f8dd11" d="M289 170v2m1-59v1m0 11v7m0 30v1m2-10v7m1-3v2m0 8v3m2-27v4m0 27v2m1-61v1m2 3v2m0 14v1m0 37v1m3-36v1m0 3v1m0 31v1m1-30v3m1-14v1m0 17v2m0 22v2m1-47v2m3-8v8m1 2v1m3 16v2m0 19v3m4-37v2m1 10v2m1 4v1m1-28v2m0 13v1m0 23v3m1-50v1m1-5v2m1 22v2m0 8v2m1-21v1m1-18v6m0 10v2m1-19v4m0 3v3m1-11v1m3 16v1m1-2v1m1-16v4m0 12v1m2-17v1m4 46v5m1-16v4m2 2v1m1-4v3m1-1v1m1-42v1m0 34v1m1-2v3m1-11v1m0 21v1m1-51v1m0 30v1m1 1v1m1 10v2m3-46v5m1 23v1m2-13v1m0 18v1m2-36v1m0 6v2m1 1v1m1-11v5m5 25v2m2-32v3m0 22v2m1-27v3m8 37v3m4 4v7m1-47v2m1-7v7m0 46v1m1-9v1m3-42v1m0 28v3m1 1v2m1-7v3m0 9v4m1-10v1m1-27v1m0 7v9m0 33v1m1-65v1m0 24v3m0 34v1m3-57v1m0 32v2"/><path stroke="#d0d828" d="M289 172v2m1-60v11m0 7v1m0 28v1m3-3v8m2-26v2m0 33v2m1-62v1m2 0v2m0 17v1m0 35v1m3 2v2m2-42v1m0 14v2m1-19v4m0 10v4m1-38v4m1 41v3m1-28v4m0 13v2m0 25v1m1-42v2m0 35v1m1-31v6m0 25v3m2-26v1m0 24v1m1-6v3m3-37v2m1 10v2m1 5v1m1-29v2m0 16v2m1-27v1m1-6v2m1 22v2m0 12v2m2-43v3m0 18v2m1-22v1m0 10v2m1-14v1m0 34v1m3-17v1m1-2v1m1-19v2m6 42v5m1-13v2m2 5v1m0 1v3m1-4v3m1-3v1m1-40v1m1-6v3m0 36v3m1-15v1m0 23v1m1-22v1m1 1v1m1 10v1m4-15v1m3-8v4m2-15v2m1 34v1m2-1v1m3-16v1m2-6v2m6-28v4m3 38v1m4 2v1m1-16v2m1 23v1m4-53v2m0 32v3m1 0v3m1-11v1m0 16v3m1-40v5m0 21v1m0 23v1m1-53v3m1-13v12m0 7v5m0 38v1m1-56v4m1-7v1m1-1v1m0 35v2"/><path stroke="#84bf41" d="M289 174v2m1-16v1m1-48v1m4 26v1m1 29v5m1-2v4m1-63v3m0 20v1m0 33v1m1 5v1m2-1v1m2-31v3m1-13v1m0 8v1m1-30v3m1-7v2m0 46v2m1-26v13m0 7v3m0 15v2m1-39v14m0 19v2m1-33v3m0 6v3m0 20v2m1-29v7m1-2v1m1 23v2m3-41v2m1 11v1m1 6v1m1-29v1m0 20v2m0 13v2m1-45v1m1-7v2m1 23v1m0 16v1m2-21v2m1-25v1m0 13v2m1 18v1m3-15v1m1-2v1m2-5v1m1 4v1m4 20v3m2-44v1m0 39v2m1 6v2m1-3v1m1-3v2m1-41v4m0 3v4m1-14v3m0 36v2m1-18v1m1-26v1m1 29v1m1 9v2m4-13v1m2-16v1m1 4v2m0 9v1m7-29v2m1 28v2m2-6v1m6-30v1m5 48v1m2-49v2m0 1v1m1 25v1m2-31v5m3-2v1m0 37v3m1 0v2m1 7v2m1-47v1m0 9v1m0 19v1m0 25v1m1-56v2m0 54v1m1-2v1m1-59v2m0 44v2m0 7v1m1-58v1m0 25v1m1-27v1m0 38v3"/><path stroke="#40b050" d="M289 176v4m1-21v1m1-46v1m0 38v1m4-15v1m1-23v1m0 57v2m1-5v1m0 4v1m1-65v1m0 24v1m0 31v1m1 5v1m4-31v1m2-27v2m0 40v7m1-54v1m0 47v2m1-51v2m0 44v3m0 11v1m1-23v4m0 14v1m1-33v2m0 12v2m0 16v2m1-59v1m0 29v2m0 7v4m0 14v7m1-28v1m1-2v1m2-4v6m1-19v3m1-14v1m0 24v2m1 6v1m1-29v1m0 23v2m0 9v2m1-45v2m1-7v1m1 24v1m0 18v1m2-20v1m1-10v1m1 16v1m3-13v1m1-2v1m2-21v1m0 10v4m1 3v2m4 16v2m1-38v1m0 28v1m1-29v1m1 48v2m1-4v2m1-35v1m0 31v1m1-38v3m1-7v2m0 10v1m0 25v2m1 6v1m1-51v1m0 26v1m1 0v1m1 8v2m2 7v1m1-5v1m1-14v1m1-30v1m1 11v1m1 3v2m0 12v3m1-19v13m6-27v1m0 26v5m1 1v1m4-36v3m2 44v1m6-6v3m1 3v1m2-49v1m0 4v1m1 12v2m0 7v3m2-25v4m0 6v3m3-16v1m0 41v2m1 0v2m1 7v2m1-51v2m0 11v2m0 16v1m0 27v2m1-67v1m0 6v2m0 57v1m2-63v2m0 44v2m0 10v2m1-33v1m0 34v3m1-66v1m0 42v3m1-26v2m0 19v3m0 4v1"/><path stroke="#10b0b2" d="M290 141v2m0 12v2m1-40v1m0 10v2m0 11v4m0 3v2m1-23v2m4 34v1m2-23v1m0 26v1m1-26v1m0 29v1m6-48v3m0 46v2m1-10v1m3-9v6m1-50v1m0 23v2m1 6v1m1-35v1m0 13v1m1 45v2m1-61v8m0 18v1m0 13v1m0 16v2m1-54v2m1 9v3m0 6v3m1-15v1m0 23v1m1-39v3m3-2v2m0 17v2m0 26v1m2-21v1m1-9v1m1 3v4m2-14v3m0 5v3m1-2v1m7-24v1m1 28v1m1-27v2m0 16v3m1-20v1m2 9v1m0 38v1m1-53v2m0 9v1m0 37v2m2-2v2m1-41v2m0 42v1m1-51v1m0 20v1m1-26v1m0 25v1m1 6v1m1-28v3m1 36v1m1-22v1m1 9v1m4-4v1m10 14v1m2-48v2m8 43v1m2-9v2m3 15v3m1-26v3m1-33v2m0 16v3m1 27v1m1 1v1m1-52v9m0 15v2m1-26v2m0 22v1m0 7v2m2 33v1m1-68v1m0 19v2m0 22v2m0 20v2m1-67v1m0 33v2m0 16v2m1-55v1m1-1v2"/><path stroke="#15abcc" d="M290 143v2m0 9v1m1-37v2m0 6v2m0 17v3m1-34v13m4 34v2m1 4v1m1-26v1m0 24v1m1-24v2m0 26v1m1 0v5m5-49v6m0 1v12m0 29v1m1-42v1m0 31v2m4-32v1m1 7v1m1-19v1m0 16v1m1 25v2m1-60v1m0 24v2m0 17v1m0 12v1m1-54v2m1 14v6m1-11v1m0 21v1m4-35v1m0 45v1m2-21v1m1-9v1m2-22v1m0 5v4m1 1v3m0 11v2m1-3v1m5-17v1m0 10v9m1-28v2m1-1v2m1 24v2m1-24v2m0 11v3m1-16v1m2 6v2m0 40v2m1-53v9m0 40v1m2-1v2m1-41v1m1-8v1m1-5v1m2 7v3m1 32v1m1-20v1m12-23v1m13 39v1m2-10v2m3 20v2m1-31v3m0 9v1m1-41v1m0 21v5m1 23v1m1-44v3m0 42v1m1-44v5m0 7v3m1 5v3m2 36v1m1-47v3m0 15v4m0 24v1m1-69v1m0 36v2m0 13v1m2-51v4"/><path stroke="#189fd5" d="M290 145v4m0 2v3m1-34v6m1-13v1m1 13v1m3 32v1m1 5v1m1-24v1m0 22v1m1-42v3m0 18v1m1-34v11m0 19v12m0 14v4m6-49v2m0 5v5m0 34v1m4-34v1m1-25v3m0 29v1m1-17v1m0 14v1m1 10v7m0 7v2m1-36v3m0 20v2m0 7v3m1-55v2m2 12v2m0 18v1m4 13v1m2-21v1m1-9v2m2-23v5m1 2v3m0 16v2m1-4v1m5-17v10m0 9v3m1-29v1m1 44v1m1-22v1m1-20v2m0 6v3m1-12v2m2 2v2m0 44v1m1-4v2m2-1v2m1 0v1m1-50v1m1-5v1m2 9v2m0 33v1m1-5v1m1-18v2m12-29v4m8 29v4m5 6v1m2-10v1m4-10v3m0 13v3m1-17v5m1 19v2m1-51v5m0 46v1m1-40v7m4 4v15m1-1v2m0 9v2"/><path stroke="#1890d0" d="M290 149v2m3-25v1m1-14v3m2 28v8m0 5v3m1 5v1m1-22v1m0 19v2m1-47v6m0 22v1m0 23v1m1-48v3m0 13v3m0 12v14m6-43v5m0 40v2m4-37v1m1 7v1m1-15v2m0 11v1m1 4v3m0 11v1m1-30v2m0 25v7m1-54v2m2 16v2m0 15v1m4 16v1m1-53v2m2 22v2m3-26v8m6 23v1m1-17v10m1-4v6m0 18v2m1-23v2m1-17v6m1-7v1m0 20v1m1-30v11m0 16v2m1-20v1m1 45v2m4-49v1m1-5v1m2 10v2m0 29v2m1-5v1m1-15v1m8-30v5m1-2v2m6 19v5m10 13v1m6-40v9m0 9v4m0 19v4m1-16v6m1 15v1m1-54v2m0 52v2m6-15v9"/><path stroke="#10b0a0" d="M290 157v1m1-42v1m0 13v3m0 6v2m0 9v1m1-22v1m3 6v1m1 27v1m2-25v1m1-7v9m0 31v1m6-51v2m0 46v3m1-9v1m1-2v8m1-14v3m0 1v5m1-36v2m0 22v3m0 6v3m1-27v1m2-28v1m0 11v1m0 19v1m1 28v1m1-35v2m0 10v1m0 19v1m1-53v1m1-9v3m0 11v3m0 12v2m1 8v1m1 3v1m1-44v3m2-3v1m0 21v1m0 24v1m2-21v1m1-10v2m1 1v3m0 4v3m2-14v5m5-12v6m4 16v1m1-31v1m0 21v2m1-23v1m1 49v1m1-39v2m0 34v2m1-53v1m0 12v1m0 35v1m2-2v2m1-41v2m0 43v1m1-51v1m0 22v1m1-28v1m0 27v1m1 6v2m1-37v7m2 17v1m0 17v1m1-10v2m1-35v1m2-1v2m0 10v3m1 16v1m6-32v1m6 1v1m3 44v1m4-47v2m0 7v3m0 14v10m1 9v1m2-8v1m3 12v2m2-51v3m0 9v4m1-19v1m0 47v1m1 0v2m1-25v1m0 35v4m1-64v3m0 17v2m0 10v1m1 33v1m1-3v1m1-66v1m0 17v1m0 26v2m0 17v1m1-64v1m0 31v1m1-34v1"/><path stroke="#22b07c" d="M290 158v1m1-44v1m0 35v2m1-23v1m3 6v2m1 26v1m0 11v1m2-39v1m0 29v1m1 5v1m6-54v2m0 45v3m1-7v1m1-53v1m0 49v2m0 8v1m1-18v3m0 9v2m1-40v2m0 2v4m0 16v2m0 12v2m1-56v1m0 27v1m0 13v8m0 4v2m1-22v1m1-34v2m0 30v1m2-5v2m0 6v2m0 21v1m1-45v2m1-16v5m0 23v2m1-33v4m0 36v1m1-2v4m0 1v4m1-45v2m2 18v2m0 20v2m2-21v1m1-10v1m1 2v1m0 10v2m1-12v10m2-9v1m1-2v1m2-21v2m0 7v1m1 5v2m1-18v3m3 30v3m1-35v1m0 24v3m1-27v1m1 49v1m1-36v1m0 32v1m1-37v1m0 33v1m2-41v10m0 28v2m1-40v1m0 44v1m1-51v1m0 24v1m1 0v1m1 7v2m2 8v1m1-25v1m0 19v1m1-12v1m1-32v1m1 11v1m1-12v1m0 12v3m0 17v4m1-10v2m6-30v1m1 34v3m1-39v3m8 44v1m3-48v1m0 12v14m0 11v4m1 5v1m3-28v7m4-21v9m1-14v1m0 44v2m1 0v1m1-22v2m1-24v1m0 15v1m0 13v2m0 30v2m1-68v6m0 60v1m1-3v1m1-64v2m0 14v1m0 29v2m0 14v1m1-62v1m0 28v2m1-32v1m0 46v4m0 1v4m1-38v3m0 2v2m0 10v7m0 8v7"/><path stroke="#d82020" d="M291 178v1m3-31v4m3-39v4m5 8v3m1-2v2m13 38v7m3-41v4m0 9v4m26 4v8m7-33v8m27 21v3m8-6v3m0 9v4m1-14v11"/><path stroke="#2931a1" d="M293 113v4m4 29v12m2 0v6m37-49v1m0 8v4m31 15v2m0 15v1m2-48v4m6 4v1m0 3v19m1-16v5m0 4v6"/><path stroke="#2a3aa8" d="M293 117v2m4 22v5m0 12v3m2-7v4m0 6v3m11-38v2m1 2v6m11 25v2m1-12v3m0 1v6m11-17v1m0 5v2m2-42v2m0 13v4m4-19v1m7 1v14m1 20v2m8 9v1m11-21v3m2-26v1m6 1v2m0 23v5m1-6v5"/><path stroke="#2a4ab0" d="M293 119v3m4 17v2m0 20v2m1-14v6m1-4v3m0 13v2m11-38v2m1 6v2m2-6v8m21 0v4m2-15v2m2-6v8m2-22v3m6 5v9m1-18v2m0 14v3m1 19v4m1-3v1m4-40v3m13 44v1m1-22v1m8-26v2m0 35v1m1-37v2m0 31v1m7 23v4"/><path stroke="#2a5ab8" d="M293 122v2m2-9v3m2 19v2m0 24v1m1-18v3m0 6v7m1-12v1m0 18v1m11-37v2m1 6v2m1-9v7m1-8v2m0 8v3m4-10v5m17 0v2m1-16v1m0 18v9m1-21v1m2-11v4m0 8v4m1-9v2m1-16v3m5 4v9m1-14v3m0 9v2m2-1v1m0 22v3m1-5v2m19-42v3m7-3v1m0 38v2m1-41v2m1 18v5m6 31v3m0 4v3m1-8v8"/><path stroke="#2175c4" d="M293 124v2m1-10v6m1-9v2m1 37v5m1 7v1m1-20v1m0 16v2m1-51v6m0 29v2m0 20v1m1-44v1m0 8v4m6 33v5m4-43v1m1 7v1m1-12v2m0 7v2m1-12v2m0 13v2m4-15v3m5-21v3m2 21v5m10-17v1m0 10v3m1-13v6m0 6v6m0 9v3m1-23v2m2-15v2m0 16v2m1-18v7m0 8v1m1-20v2m2 48v2m3-50v2m1-6v1m0 14v2m2-5v2m0 26v1m1-4v1m10-43v3m9 0v2m7 36v1m2-23v1m0 5v5m4-30v3m0 9v9m1 17v1m0 2v8m1 5v2m1 0v2m0 8v1"/><path stroke="#c81c1c" d="M302 113v3m0 8v1m1-12v2m0 8v3m16 10v9m68 12v9"/><path stroke="#b81818" d="M303 115v3"/></g><path d="M385 195 L384.5 190.1 L383.6 180.2 L382.9 168.9 L382.4 159 L381.9 160.5 L381.2 166.1 L380.5 171 L379.8 169.6 L378.4 167.5 L377 164.7 L375.6 161.9 L374.2 157.6 L373.2 155.2 L372.9 154.1 L372.9 159.8 L357.4 159.8 L355.8 160.9 L353.8 160.3 L352.6 156.4 L351.3 153.8 L350.3 157.7 L349.4 161.5 L348.1 160.3 L346.8 164.1 L345.5 168 L344.6 170.5 L343.6 168 L342.6 170.5 L341.7 173.1 L341 171.2 L339.7 166.7 L338.5 162.8 L337.4 164.1 L336.5 166 L335.9 161.5 L334.6 155.1 L334.1 148.9 L333.5 143.8 L332.8 136.1 L332.2 129.7 L331.5 127.8 L330.9 129 L329.6 133.5 L328.3 138.7 L327 142.5 L325.8 144.4 L325 153.8 L324.4 159 L323.5 162.8 L322.2 166 L320.9 168.6 L319 170.8 L316.4 172.8 L313.8 174.4 L311.3 175.4 L308.7 176.3 L306.1 176.9 L303.6 177.2 L301 176.9 L298.5 176.9 L295.9 177.2 L293.6 177.6 L293.1 181.4 L292.6 177.6 L291.4 178.2 L289.5 178.8 L288.9 178.8 L288.9 195.1 L385 195.1 L385 195Z" fill="none" stroke="#fff" stroke-width="4" stroke-linejoin="round"/><path d="M385 195 L384.5 190.1 L383.6 180.2 L382.9 168.9 L382.4 159 L381.9 160.5 L381.2 166.1 L380.5 171 L379.8 169.6 L378.4 167.5 L377 164.7 L375.6 161.9 L374.2 157.6 L373.2 155.2 L372.9 154.1 L372.9 159.8 L357.4 159.8 L355.8 160.9 L353.8 160.3 L352.6 156.4 L351.3 153.8 L350.3 157.7 L349.4 161.5 L348.1 160.3 L346.8 164.1 L345.5 168 L344.6 170.5 L343.6 168 L342.6 170.5 L341.7 173.1 L341 171.2 L339.7 166.7 L338.5 162.8 L337.4 164.1 L336.5 166 L335.9 161.5 L334.6 155.1 L334.1 148.9 L333.5 143.8 L332.8 136.1 L332.2 129.7 L331.5 127.8 L330.9 129 L329.6 133.5 L328.3 138.7 L327 142.5 L325.8 144.4 L325 153.8 L324.4 159 L323.5 162.8 L322.2 166 L320.9 168.6 L319 170.8 L316.4 172.8 L313.8 174.4 L311.3 175.4 L308.7 176.3 L306.1 176.9 L303.6 177.2 L301 176.9 L298.5 176.9 L295.9 177.2 L293.6 177.6 L293.1 181.4 L292.6 177.6 L291.4 178.2 L289.5 178.8 L288.9 178.8 L288.9 195.1 L385 195.1 L385 195Z" fill="#b4b4b4" stroke="#000" stroke-width="0.9" stroke-linejoin="round"/><g stroke-width="1" fill="none" shape-rendering="crispEdges" transform="translate(.5 0)"><path stroke="#1890d0" d="M289 211v1m0 15v2m3 37v1m1 1v7m2-40v3m0 8v5m1-11v9m1-7v4m4 9v4m3 11v5m5-14v4m4-45v1m1-3v2m0 47v1m1-3v3m1-41v2m8-9v4m1-9v2m0 20v1m1-14v6m1-19v2m1 0v1m1-2v3m1 42v4m4-10v1m3-1v2m4-4v1m3-20v2m1-15v1m0 6v4m1 22v1m8-40v6m1-5v3m7-4v1m0 8v1m1 8v2m7-13v4m0 7v2m0 1v3m1-13v2m2-10v1m2 3v1m0 21v1m1-20v3m0 11v2m0 23v1m0 14v1m2-64v2m0 19v2m0 6v3m1-30v1m0 22v3m0 36v1m1-27v3m1 1v1m1 24v2m2-55v3m2 10v2m1 16v1m0 16v2m1-11v2m1-46v2m0 31v3m1-44v1m0 22v4m0 27v2m1-58v2m0 10v2m0 17v1m1-24v2"/><path stroke="#2175c4" d="M289 212v4m0 7v4m3 43v3m0 1v1m3-37v8m6-5v14m12-37v2m1-4v2m0 50v2m1-2v1m1-45v3m8-3v3m1-10v2m3-8v2m1-2v1m4 46v1m1-7v2m3-1v1m4-7v2m3-21v2m1-12v6m0 32v1m1-6v1m7-41v3m2-3v1m2 4v1m2 41v1m3-47v2m0 1v5m1 7v2m7-7v7m1-9v2m2-7v2m0 18v8m2-24v2m0 18v1m1-16v4m0 3v4m0 26v2m0 10v2m2-64v1m0 23v6m1-29v2m0 26v4m0 30v2m1-23v2m1 0v1m0 23v2m1-5v3m4-38v2m1 13v1m0 19v5m1-14v1m1-49v2m0 36v4m1-49v1m0 27v5m0 20v2m1-42v1m0 14v2m1-21v2"/><path stroke="#2a5ab8" d="M289 216v7m3 50v1m21-58v2m1-5v3m2 5v3m9-5v3m8 20v1m0 13v2m1-4v2m3-2v3m7-31v2m1 29v1m1-6v1m7-38v2m4-6v5m6 9v2m8-12v5m2-3v2m0 12v4m2-14v2m0 14v2m1-11v3m0 32v2m0 6v1m3-61v1m0 32v7m0 22v1m1-19v2m1-1v2m0 19v2m4-43v11m1-4v3m1-10v4m0 15v1m1 12v2m1-54v3m0 42v19m1-69v1m0 33v5m0 12v3m1-39v2m0 11v1m1-17v3"/><path stroke="#189fd5" d="M289 229v1m1-10v11m2 33v2m1 9v3m1-25v7m0 3v6m1-36v2m0 16v3m1-18v4m0 9v3m1-13v3m0 4v1m3-12v3m1-3v1m0 23v4m1-13v14m2 3v3m0 5v2m5-19v3m0 4v2m3-56v1m1 9v1m1-2v2m0 43v2m1-56v9m0 43v2m1-36v3m1-14v9m2 0v9m5-18v2m1-7v2m0 23v1m1-18v3m1-11v1m2 1v2m0 36v8m1-7v3m1-44v1m1 18v17m2 1v1m4-13v3m3-30v3m2-2v2m1 18v2m1-6v2m3-7v5m7-13v2m7 4v2m1 8v2m7-17v2m0 17v3m1-14v1m2-12v1m2 2v2m0 23v1m0 22v5m1-50v2m0 16v1m0 21v1m0 16v1m1-66v1m1 2v5m0 6v4m0 15v2m1-31v1m0 20v1m0 40v2m1-35v6m1 3v1m1 4v1m2-41v2m0 9v3m2 1v6m1 19v1m0 13v2m1-37v2m0 25v1m1-42v2m0 26v3m1-40v1m1-2v1m0 7v2m0 20v2m0 11v8m1-53v3m0 3v2"/><path stroke="#10b0b2" d="M289 234v2m1 0v3m1 29v2m1-8v1m1-3v2m1-14v2m0 23v3m1-45v1m0 25v2m0 18v2m1-47v2m0 20v2m1-21v2m1-26v7m1-6v2m1 14v2m0 14v2m1 22v3m1-27v2m0 21v3m1-13v3m0 10v2m1-10v3m1-19v4m0 21v6m3-65v3m0 21v12m1-34v3m0 36v3m0 14v5m3-61v2m2 46v2m1-41v2m0 32v3m1-23v6m1-30v2m0 18v2m1-13v6m1-5v2m1 29v2m4-42v2m2-5v6m1-1v1m2 1v2m0 27v2m1-35v2m0 34v2m1-24v1m1-2v2m0 23v1m2-5v1m1 8v2m3-26v2m1 1v5m2 13v1m2-23v3m1 0v1m1-24v1m0 19v2m3-23v3m7 44v1m4-34v3m3-4v1m0 21v1m1-11v4m1-25v3m0 5v3m1 38v4m1-55v1m1 13v6m0 26v6m1-39v3m0 29v6m1-43v14m1-24v2m0 27v2m1-15v2m4-16v2m0 28v1m0 28v1m1-58v2m0 23v1m0 37v1m1-62v3m1 28v1m1 31v1m1-70v1m1 39v1m3-41v4m0 19v9m0 13v2m1-4v1m2 5v1m0 9v1m1-30v3m0 16v2m1-17v3m1-17v1m1 14v7m0 13v2m1-27v1"/><path stroke="#10b0a0" d="M289 236v2m1 1v3m1 23v3m0 5v1m1-14v2m1-4v2m1-14v2m0 28v3m1-50v2m0 28v3m0 11v4m1-47v2m0 24v1m1-24v2m1-17v3m1-7v2m1 9v3m0 18v2m1 23v1m1-31v3m0 26v2m1-18v3m0 15v1m1-14v3m1-20v4m0 4v4m0 14v3m1-23v4m1-21v7m1-23v2m0 16v3m0 12v5m1-42v3m0 3v3m0 30v3m1-38v8m2-7v2m2 43v1m1-37v3m0 25v4m2-46v2m0 22v7m1-24v4m0 6v2m1-9v2m1 23v8m4-43v3m3 3v1m2 2v1m0 24v2m1-34v1m0 35v1m1-21v1m1-4v1m0 26v2m2-8v1m1 8v1m1-40v9m2 5v2m1 8v2m2 12v1m2-21v2m1-1v2m1-27v1m0 22v1m1 12v1m1-2v1m5-36v2m5 13v3m1-7v6m1 0v2m3-5v1m0 17v3m1-6v11m1-37v1m0 11v5m0 5v7m1-28v9m0 27v13m1-50v2m1 8v3m0 27v5m1-35v2m0 22v3m0 2v5m1-41v4m2 8v2m0 7v1m3-14v3m1-17v2m0 31v1m0 28v2m1-62v2m0 26v1m0 14v1m1-37v3m1 26v1m2-38v1m1 37v1m3 7v1m3 2v1m0 6v2m1-26v16m1-24v9m1-15v1m2 11v1"/><path stroke="#22b07c" d="M289 238v2m1 2v3m1 18v2m0 9v2m1-17v1m1-4v2m1-33v6m0 14v1m1-18v1m0 33v11m1-44v1m0 27v1m1-30v5m2-17v3m1 4v2m0 23v4m0 7v11m1-47v3m0 49v3m1-39v2m0 31v3m1-23v2m0 19v2m1-20v4m1-48v1m0 10v2m0 15v3m0 12v4m0 7v3m1-57v2m0 10v6m0 16v3m0 4v3m1-27v3m0 7v5m1-26v2m0 12v2m0 20v5m1-38v2m0 20v8m1-36v1m0 8v1m1-13v5m1 2v1m1 45v4m1-9v2m1-33v2m0 20v3m1-3v3m1-11v1m1-27v2m1 27v1m1-16v16m4-11v1m3-18v2m2 1v1m0 21v2m1-33v1m0 34v2m1-19v1m1-7v2m0 29v1m2-11v2m1 7v2m1-42v3m0 12v4m0 10v5m2-18v1m1-20v10m0 22v1m2-6v1m0 17v1m1-20v7m1-7v1m1 0v1m1-4v2m1 9v1m1-36v3m0 31v1m5-33v2m5 14v1m1-2v2m1-18v2m0 16v1m3-5v2m0 12v3m2-31v2m0 17v5m1-25v4m0 9v1m1-9v5m0 32v7m1-39v3m0 28v2m1-32v2m1-10v3m2 14v7m3-16v3m0 3v3m1 14v1m0 29v1m1-65v2m0 29v1m0 12v1m0 23v1m1-57v2m0 37v2m1-14v1m2-38v1m1 35v1m4 5v1m2 6v6m1-55v1m2 15v1m2 15v1"/><path stroke="#40b050" d="M289 240v3m1 2v3m1 12v3m0 13v1m1-20v2m1-44v5m0 35v1m1-34v3m0 6v2m1-6v1m1-17v3m0 12v3m0 29v1m2-5v12m1-47v16m0 30v13m1-58v3m0 29v7m1-40v4m1 14v2m0 36v3m1-28v2m0 23v1m2-64v4m0 8v5m0 8v2m0 19v7m1-52v10m0 9v2m0 8v3m0 10v2m1-46v11m0 21v8m1-32v2m0 8v2m0 27v5m1-25v4m1-30v2m1 2v7m1-4v2m1 37v6m1-6v1m1-11v2m1 3v2m2-42v3m1 30v3m1-22v3m4 6v1m3-17v2m1 46v1m1-47v2m0 16v3m1-32v1m0 34v1m1-16v1m1-9v1m0 32v2m2-14v1m1-22v10m0 20v1m1-42v2m0 19v10m0 5v5m2-24v1m1 14v2m2 11v1m1-24v3m1 1v1m1 0v1m1-3v2m1-19v8m0 17v1m1-2v1m2-34v1m3 3v2m0 41v1m5-29v1m1-16v2m0 13v1m1-20v1m0 19v2m3-5v1m0 9v2m2-29v1m2 9v6m0 23v3m0 7v10m1-51v2m1-2v3m1-11v3m0 32v1m5-27v2m0 9v2m1 13v1m1 7v1m0 25v1m1-56v2m0 31v4m1-11v2m3-5v1m3 30v2m6-5v2m2-32v5"/><path stroke="#84bf41" d="M289 243v3m1 2v3m1-16v11m0 12v2m0 17v2m1-23v1m1-46v4m0 38v2m1-22v7m1-14v1m1-13v1m0 3v1m0 3v4m0 33v2m1-3v1m1-29v1m0 21v2m0 12v3m1-34v3m0 23v4m1-49v4m0 56v2m1-63v4m2 28v3m0 26v1m1-59v5m1 6v2m0 3v3m1-3v8m0 15v3m1-9v3m1-29v4m0 34v13m1-40v2m1-27v1m0 15v2m1-6v3m0 42v1m1-48v1m1 33v3m1-2v2m1-25v2m1 20v2m1-7v2m1-41v2m1 39v1m1-28v2m6 17v1m1-23v4m1-4v1m0 43v2m1-44v1m0 13v2m1 5v1m1-14v1m0 19v7m1-37v1m2 19v2m1-23v2m0 10v3m0 15v2m1-42v1m0 41v2m3-9v1m2-10v1m0 20v2m1-28v2m1 5v1m1 0v1m1-2v1m1-12v4m0 12v1m1-24v3m0 19v1m2-32v2m2-3v1m7 1v2m0 16v1m1 1v3m0 5v2m3-14v3m0 2v4m4-11v3m1-12v1m1-2v2m1 28v1m1-2v1m4-29v2m0 13v1m0 30v1m1-18v1m1-4v2m0 7v1m1-27v3m0 25v3m1-5v1m2-36v4m1 25v1m2-37v2m1 64v2m1-23v1m3-45v1m2 65v2m2-29v5"/><path stroke="#d0d828" d="M289 246v3m1 2v2m1-36v15m0 2v1m0 11v12m1-4v2m1-6v3m2-28v1m1-7v3m0 39v1m1-3v1m1-29v3m0 35v5m1-36v2m0 19v2m1-50v5m1-5v4m1-4v2m1-2v5m0 28v3m0 30v1m1-62v2m0 5v3m2 49v2m1-23v2m2-30v1m0 6v3m1-7v1m1-4v2m1-6v2m0 42v3m1-16v2m1 0v1m1-21v8m1 14v2m1-7v1m3-29v1m6 20v8m1-27v2m1-5v2m0 27v8m1-24v2m1-10v1m0 15v1m1-12v1m0 14v4m1-31v1m1 8v1m1 8v3m1-31v3m0 22v3m0 10v2m1 4v2m1-45v10m2 25v1m2-12v1m0 23v2m1-37v7m1 8v1m1 0v1m1-2v5m1-32v1m0 18v3m0 8v1m1-20v4m0 14v1m11-32v2m0 19v1m1 3v2m0 1v2m1-13v5m2-1v2m3-4v1m1-1v2m1-16v2m1-4v3m1 31v2m1-3v1m4-32v2m0 16v2m0 29v2m2-21v1m0 5v1m1-23v2m0 18v5m1-1v1m3-11v3m2-34v1m1 62v1m4-66v1m4 44v2"/><path stroke="#f8dd11" d="M289 249v3m0 26v1m1-26v4m1-43v3m1 34v3m1-8v4m1-33v1m1 5v2m2 35v1m1-27v5m0 6v3m0 26v5m1-39v2m0 15v2m3-46v2m0 14v3m1-16v3m0 23v2m1-30v2m0 10v2m2 35v4m0 2v6m1-19v1m2-30v6m1-3v2m0 36v1m1-7v1m1-39v1m0 38v3m1-15v2m1-22v1m0 21v2m2 4v2m1-8v2m1-6v14m2-40v1m1 28v1m2-42v3m0 6v4m4 34v7m1-40v2m0 20v5m1-24v8m1-7v1m0 12v2m1-10v1m0 11v2m1-28v1m1 7v2m1 4v5m1 0v4m0 3v3m1 8v2m1-48v1m0 10v2m1-3v1m1 26v1m1-17v2m0 7v8m1-15v2m1-20v2m4-7v2m0 22v8m1-15v3m0 10v1m4-30v1m7 20v2m2-10v3m1-15v1m4 17v1m1 0v2m1-19v1m1-5v3m1 36v1m1-3v1m4-36v1m0 1v1m0 20v2m0 29v1m3-36v2m0 2v1m0 3v10m1 5v2m3-20v7m2-30v2m1 57v3m1-19v1m7 0v1"/><path stroke="#f0b020" d="M289 252v1m0 2v1m0 20v2m1-21v14m1-59v2m1 1v9m0 22v5m1-8v3m1-30v1m1 5v1m1 40v2m0 13v1m1-18v1m1-23v6m1-3v2m0 10v3m3-42v4m0 4v3m1-7v3m0 17v3m1-29v1m0 14v3m0 9v3m2 24v2m1-12v2m3-27v4m0 11v21m1-8v2m1-37v2m0 31v5m1-14v2m1-19v2m0 16v3m2 8v2m1-8v2m2-45v2m2 35v3m2-38v6m0 4v5m4 25v4m1-15v4m2-17v2m0 9v1m1-7v1m0 8v2m1-27v1m1 7v1m1 2v4m1 9v3m1 13v1m2-43v4m1 28v1m1-16v7m0 8v4m1-24v5m1-21v3m5 15v5m0 1v4m4-28v1m3 44v1m7-48v2m0 6v3m4 10v7m1-5v2m1-22v1m3 34v1m4-39v2m0 25v2m0 28v2m4-13v1m4-47v1m1 4v1m1 50v6m8-14v2"/><path stroke="#f09420" d="M289 256v3m0 14v3m1-5v8m1-68v1m1 0v3m0 9v3m0 13v6m1-7v4m1-31v4m1 4v2m1 43v2m0 9v2m1-16v1m2-19v1m0 7v2m3-35v4m1-1v2m0 12v3m1-27v1m0 18v1m0 2v6m3 19v1m0 13v3m3-40v11m1-14v3m0 22v2m1-33v2m0 19v10m1-28v2m0 16v1m1-15v3m0 11v2m2 13v2m1-8v1m2-47v1m2 34v3m2-20v2m4 7v1m0 12v3m1-24v13m2-11v2m0 5v2m1-5v2m0 2v4m1-33v1m1 14v1m1 0v3m3-1v11m1-29v6m1 33v1m1 2v2m2-44v2m0 38v1m5-16v1m4-23v2m10 6v4m6-14v2m2 40v1m5-15v2m0 28v1m4-13v2m4-48v1m1 4v1m2 40v1m2-46v1m5 47v1m0 12v1"/><path stroke="#f07820" d="M289 259v14m3-62v1m0 15v5m0 2v6m1-9v3m0 3v2m1-28v1m2 55v9m1-13v1m2-16v4m4-19v3m1-25v1m3 48v2m0 5v6m4-37v3m0 16v3m1-29v2m0 13v4m1-16v1m0 13v2m1-11v4m0 2v5m2 17v2m1-9v2m4-18v4m2-15v2m4 6v2m0 6v4m3-17v5m1-1v2m1-28v2m1 10v2m1-1v2m5 24v1m3 0v2m8-43v1m1 46v1m10-33v2m6-17v1m2 43v2m5 14v2m4-13v2m3-51v1m1 1v2m0 34v1m1-32v2m0 30v1m2 8v1m2-48v1m5 49v3m0 7v2"/><path stroke="#15abcc" d="M290 211v9m0 15v1m2 27v1m1-2v2m0 14v1m1-29v3m0 16v4m1-41v1m0 21v3m1-23v2m0 16v2m1-43v4m0 22v2m0 11v2m2-41v1m1 18v5m0 3v3m1-9v3m0 28v5m1-22v4m0 14v3m1-7v10m1-5v2m4-56v1m1 44v2m0 9v3m3-58v2m2 50v1m1-45v3m0 37v3m1-31v5m1-22v3m2 7v2m0 9v1m5-21v2m1-7v2m0 26v1m1-23v4m1-7v2m2 1v1m0 31v4m1-37v4m0 32v2m1-43v2m0 13v2m1 1v3m0 17v3m2-3v1m4-15v3m0 16v5m1-28v1m0 3v1m2-22v3m0 36v1m2-43v1m0 18v2m1 2v1m1-22v1m0 16v2m14-11v4m3-2v1m1 9v3m1-18v5m2-12v2m1 52v5m1-41v4m2-20v1m0 24v2m1-15v2m2-16v2m2 2v1m0 26v1m0 19v2m0 5v3m1-55v2m0 19v2m0 37v1m1-66v5m1 2v1m0 26v2m1-14v2m0 43v1m1-42v6m1 8v1m3-38v3m0 14v2m0 9v3m1 7v1m2 5v1m0 11v1m1-33v2m0 21v2m1-39v1m0 22v3m1-36v1m1 3v2m0 24v1m0 7v3m0 8v2m1-26v1"/><path stroke="#ec5820" d="M292 232v2m3-23v5m2 48v2m10-4v5m4-28v16m1-24v1m0 7v5m1-11v3m0 7v3m4 14v3m4-32v1m0 1v9m2-9v2m4 6v6m6-25v2m1-2v3m5 27v2m3 0v2m8-44v1m10-2v3m9 43v2m4 15v2m1-3v2m4-13v1m3-51v2m1 1v2m0 17v3m0 10v2m1-29v2m0 27v1m3 12v1m1-52v1m5 53v7"/><path stroke="#e83820" d="M297 266v2m15-32v3m1-3v1m0 1v5m4 20v3m3-55v3m1 11v6m1-20v2m1 22v2m10-26v1m0 7v3m1-5v5m5 32v2m11-43v1m23 62v5m1-6v1m4-13v3m3-52v3m1 0v3m0 7v3m0 7v10m1 1v1m2 11v1m1 2v2m0 12v4"/><path stroke="#e02c20" d="M297 268v2m0 6v3m24-56v2m1-12v1m0 4v9m0 20v1m1-11v3m10-28v2m0 3v2m1-8v3m5 42v2m31-2v3m8 7v2m3-51v4m1-1v3m1 24v1m2 13v2m1 2v12"/><path stroke="#d82020" d="M297 270v6m24-65v3m1 13v20m1-7v1m47 18v6m0 5v1m8 9v1m5-37v3m2 16v2m0 12v4"/><path stroke="#2a4ab0" d="M313 211v5m1-5v2m2-2v10m9 1v3m8 18v4m0 5v4m1 0v3m3-2v1m3-46v2m4 8v4m1 32v2m1-7v2m17-34v4m8-14v4m0 39v2m0 10v2m2-49v12m2-8v2m0 10v2m1 28v6m3-11v2m1-2v2m0 18v1m1-23v3m0 12v4m2-4v1m0 5v2m2-49v4m1 10v4m1-10v4m0 8v3m1 15v2m1-61v5m1 34v12m1-34v3m0 4v2m1-11v5"/><path stroke="#2a3aa8" d="M333 247v5m1 7v1m6-49v1m4-1v3m0 3v5m2 33v3m1 0v4m9-47v2m7-6v3m0 2v5m8 35v10m0 12v3m1-70v4m0 60v4m0 1v1m3-56v10m4 27v6m1-6v6m0 8v4m1-19v12m4-62v1m0 16v4m1-21v3m1 30v8m1 20v3m3-44v4"/><path stroke="#2931a1" d="M346 258v5m10-52v4m16 0v1m0 51v8m8-7v8m5-64v3m1-1v3m2 58v5"/><path stroke="#c81c1c" d="M370 265v5m13-37v11m2 21v12"/><path stroke="#28289a" d="M372 257v10"/></g><path d="M371.2 279.3 L370.3 267.4 L369.5 257.9 L368.4 267.4 L367.2 269.8 L366 268.6 L364.3 263.9 L363.3 258 L363.3 258 L349.4 258 L349.4 244 L349 250 L348.4 258.9 L347.1 261.6 L345.3 262.3 L344.1 261 L343.5 253.6 L342.4 254.9 L341.3 261.6 L340.4 258.9 L339.7 256.2 L338.6 258.3 L337.7 256.9 L336.7 258.9 L335.7 262.3 L335 258.9 L333.6 257.6 L332.3 258.9 L331.6 257.6 L330.3 260.3 L329.6 262.3 L328.7 268.4 L327.9 266.3 L327.3 262.3 L326.6 254.2 L326.2 246.2 L325.6 239.4 L324.9 235.4 L324.2 236.1 L323.3 240.8 L322.5 246.5 L321.5 251.5 L320.3 256 L319 260.5 L317.7 264.4 L316.4 266.3 L314.5 268.8 L312.6 271.4 L310.6 273.3 L308.7 274.6 L306.1 275.6 L303.6 276.5 L301 277.2 L297.2 277.4 L293.3 277.6 L289.5 277.8 L288.9 277.8 L288.9 293.7 L372.3 293.7 L371.9 291.1 L371.2 279.3ZM392.2 275 L391.2 277 L389.9 280 L389.7 293.7 L393.7 293.7 L393.7 275 L392.2 275Z" fill="none" stroke="#fff" stroke-width="4" stroke-linejoin="round"/><path d="M371.2 279.3 L370.3 267.4 L369.5 257.9 L368.4 267.4 L367.2 269.8 L366 268.6 L364.3 263.9 L363.3 258 L363.3 258 L349.4 258 L349.4 244 L349 250 L348.4 258.9 L347.1 261.6 L345.3 262.3 L344.1 261 L343.5 253.6 L342.4 254.9 L341.3 261.6 L340.4 258.9 L339.7 256.2 L338.6 258.3 L337.7 256.9 L336.7 258.9 L335.7 262.3 L335 258.9 L333.6 257.6 L332.3 258.9 L331.6 257.6 L330.3 260.3 L329.6 262.3 L328.7 268.4 L327.9 266.3 L327.3 262.3 L326.6 254.2 L326.2 246.2 L325.6 239.4 L324.9 235.4 L324.2 236.1 L323.3 240.8 L322.5 246.5 L321.5 251.5 L320.3 256 L319 260.5 L317.7 264.4 L316.4 266.3 L314.5 268.8 L312.6 271.4 L310.6 273.3 L308.7 274.6 L306.1 275.6 L303.6 276.5 L301 277.2 L297.2 277.4 L293.3 277.6 L289.5 277.8 L288.9 277.8 L288.9 293.7 L372.3 293.7 L371.9 291.1 L371.2 279.3ZM392.2 275 L391.2 277 L389.9 280 L389.7 293.7 L393.7 293.7 L393.7 275 L392.2 275Z" fill="#b4b4b4" stroke="#000" stroke-width="0.9" stroke-linejoin="round"/><g stroke-width="1" fill="none" shape-rendering="crispEdges" transform="translate(.5 0)"><path stroke="#e83820" d="M411 14v3m0 1v5m0 12v3m1-7v4m0 1v7m0 16v9m1-48v2m1-8v1m6 25v3m0 20v2m1-39v7m0 2v6m0 25v1m3-49v2m1-4v3m0 36v1m2 17v3m1-8v2m1-15v5m4-44v2m0 13v1m1-9v1m0 44v2m1-19v4m1 11v2m3-50v9m1 32v5m1-19v2m1-17v8m0 2v5m1-13v9m0 2v4m5-10v4m1 2v5m7-25v1m6 34v3m1-44v2m6 3v3m3-11v3m4 17v1m3-19v4m0 14v8m1-28v1m0 21v6m9-24v1m14 9v2m0 28v2m1-46v1m0 24v11m10-31v9"/><path stroke="#ec5820" d="M411 17v1m0 20v2m1 8v1m0 19v3m1-49v1m0 26v5m0 1v9m1-49v1m6 22v2m0 25v1m1-33v2m0 32v2m3-53v2m0 9v2m0 43v6m1-64v2m1-2v8m1 49v2m1-6v1m1-15v1m4-39v1m0 16v1m1-9v1m0 45v2m1-23v2m1 14v1m1 3v1m4-27v2m1-20v5m0 15v2m1-19v4m0 15v2m6-20v14m7-19v1m6 18v4m0 14v2m1-44v2m6 4v1m7 6v2m4 8v3m9-26v2m9 18v4m2-10v3m3-11v3m0 32v2m1-47v2m0 21v1m0 11v5m1-9v8m9-36v1m0 9v4m0 9v9"/><path stroke="#e02c20" d="M411 31v4m1-14v3m0 11v1m8 7v4m1-33v5m0 22v4m0 18v3m4-47v1m0 57v1m1-1v1m1-2v1m1-7v3m1-13v1m4-43v2m0 9v2m1-10v2m0 43v2m1-8v5m1 3v3m3-57v4m2 29v9m1-18v2m1 1v2m5-2v2m8-29v3m6 35v6m1-43v2m6-3v3m10-3v2m1-1v5m9-5v3m14 12v2m0 23v3"/><path stroke="#f07820" d="M411 40v1m1 30v3m1-51v2m0 29v1m0 9v4m1-52v1m6 18v3m0 28v1m1 2v1m1-56v3m2-2v1m0 13v2m0 39v2m1-44v1m2 0v11m0 29v2m2-20v2m3-23v2m1-18v1m0 18v1m0 21v2m1-32v1m0 46v1m2-9v1m1 2v2m4-28v2m1 4v2m1-23v2m0 21v1m4-11v1m9-15v1m6 15v2m0 20v1m1-43v1m5-8v1m1 11v1m3 3v1m2 25v2m1-22v3m1-8v1m0 9v1m13-21v1m1-8v2m10 7v2m0 11v3m3-16v2m0 37v1m1-8v2m1-43v2m0 28v2m0 8v3m7 12v11m1-32v3m1-35v1m0 15v9m0 9v2"/><path stroke="#f09420" d="M411 41v2m1 31v1m1-50v2m0 41v2m6-11v2m1-47v1m0 18v2m0 32v1m1 2v2m1 2v3m1-51v9m0 41v2m1-64v1m0 16v2m0 35v2m1-41v1m1 18v1m1-30v2m0 1v2m0 16v3m0 24v2m2-20v2m3-22v1m0 2v3m1-1v1m0 19v1m1-29v1m1 18v2m1 16v1m1 2v1m4-41v1m0 12v2m1 8v1m1-26v2m0 24v1m4-18v6m2-18v2m5-9v1m2 11v1m6 37v1m1-43v1m5-8v2m1 10v2m1 18v2m1-21v7m3 18v3m1-21v1m0 3v3m1-13v2m0 11v1m13-21v1m0 33v2m1-42v2m0 40v1m9-45v3m0 15v2m1-13v2m0 16v2m3-21v3m0 40v1m1-7v3m0 7v1m1-52v1m0 24v3m0 13v1m1-44v1m5 41v5m1 4v4m0 11v1m1-67v8m0 24v2m0 18v1m1-52v1m0 36v2"/><path stroke="#f0b020" d="M411 43v1m2-17v2m0 41v2m5-17v7m1-4v1m0 2v4m1-50v2m0 14v2m0 35v1m1 3v2m1-13v13m1-58v2m0 17v3m0 36v2m1-43v1m0 32v2m1-38v2m1 14v2m1-32v3m0 24v3m0 19v2m2-20v2m3-14v2m1-2v1m0 17v1m1-27v1m1 16v1m1 17v1m4-44v4m0 25v1m1-22v5m0 4v3m1 11v2m1-29v1m0 27v1m4-22v3m2-13v1m5-6v3m2 9v1m6 3v2m0 32v1m1-43v1m0 33v4m7-19v5m0 2v6m1-30v3m0 7v3m3 13v2m1-11v3m1-17v1m0 14v1m13-21v1m0 31v1m1-38v2m0 36v2m3-44v1m5 37v1m1-36v2m0 9v4m1-14v3m0 20v3m3-30v6m0 44v2m1-6v7m1-50v2m0 20v2m1-26v1m5 35v5m0 5v7m1-6v3m0 16v1m1-60v3m0 19v2m0 21v4m1-57v1m0 39v2"/><path stroke="#f8dd11" d="M411 44v2m0 16v6m2 4v1m5-11v2m1 1v2m1-38v2m0 38v1m2-10v1m1-47v2m0 22v1m0 33v2m1-40v2m0 29v1m1-34v1m0 13v1m1-19v1m0 16v1m1-32v2m0 30v2m0 15v2m2-19v1m4-11v1m1-9v1m2 32v1m1 3v1m1-40v2m2-13v4m0 28v1m1-16v4m1 16v1m1-1v1m4-25v2m2-11v1m5-2v2m1-6v3m0 5v2m1 4v1m5 33v5m1-38v2m0 35v1m1-43v2m0 29v2m0 4v3m3-30v2m2 30v1m1-38v1m2-8v3m0 13v2m3 1v3m0 1v2m1-2v2m1-20v1m2 5v6m3-23v5m5 15v2m3-14v1m0 29v1m1-35v2m0 33v1m3-41v4m0 20v2m1-15v1m4 3v1m1-8v5m1-13v3m0 26v2m2-16v1m0 23v3m1 9v1m2-48v1m0 41v1m1-46v1m0 58v1m4-25v5m1-6v1m0 17v4m1-14v4m0 20v1m1-58v2m0 16v1m0 27v2m1-17v3"/><path stroke="#d0d828" d="M411 46v1m0 12v3m0 6v3m2 2v2m1-55v1m4 43v2m1-15v1m0 15v1m3-38v15m1-6v2m0 29v2m1-36v2m0 26v1m1-32v2m0 9v2m1-17v1m0 14v1m1 3v4m0 10v1m2-19v2m5-17v1m2 29v1m1 4v1m1-40v1m2-12v1m0 30v2m2 6v1m1-1v1m4-28v2m1-12v1m1 0v2m1 8v13m4-20v1m1 3v2m1 3v1m1-16v1m2-1v4m2 36v8m1-35v2m1-3v1m0 26v2m0 9v1m3-29v3m2 26v1m1-36v1m1-17v3m0 17v3m1 3v1m3-5v5m0 3v1m1 2v3m1-6v1m1-12v1m1-3v2m3-19v2m4 21v2m1-5v2m0 17v1m3-29v1m0 27v1m1-32v2m0 30v1m3-36v3m0 9v2m0 8v5m1-19v9m4-22v1m0 14v1m1 29v2m1-47v1m2 11v4m0 8v5m0 5v6m0 3v4m1 6v1m2-48v2m0 40v2m1-47v1m0 55v2m4-26v2m0 5v3m1-11v2m0 22v2m1-18v2m1-31v3m0 10v3m0 30v3m1-17v3"/><path stroke="#40b050" d="M411 50v5m0 20v1m3-55v2m2-5v3m1 32v7m1-46v3m0 3v5m0 17v1m0 25v2m1-56v1m0 54v2m1 0v1m3-30v1m0 24v2m1-30v2m0 20v2m1-25v3m1-9v2m0 7v2m2-12v6m1 4v1m1 5v1m0 6v2m3-18v1m1-8v1m1-18v1m1-1v2m0 40v2m2-35v1m2 18v2m1-29v1m1-1v1m0 39v1m5-33v1m1-10v1m1 0v1m1 7v2m0 21v3m3-35v2m1 6v2m0 18v5m1-19v2m0 12v1m1-13v1m1-7v4m4 15v4m1-24v2m1 4v2m0 20v1m0 14v2m3-27v3m0 5v4m0 10v3m1-35v2m0 12v9m1 8v2m3-49v2m0 26v2m2-30v2m0 15v1m0 11v4m1-16v2m1-9v1m1-12v1m0 9v1m9 6v3m1-3v1m3-5v2m0 22v1m1-27v1m0 26v1m1-39v1m1 33v6m1-1v5m1-43v1m0 25v1m3-28v3m0 3v2m0 5v8m0 28v1m1-39v2m1 35v2m2-26v1m1-17v1m0 41v3m4-48v1m0 50v1m1 4v1m2-60v1m0 1v3m1-7v1m0 45v2m1-16v1m0 29v1m1-63v3m0 5v1m0 29v2m1-20v2"/><path stroke="#84bf41" d="M411 55v4m0 12v4m2 0v1m3-55v1m2-5v3m0 46v2m1 0v1m1 1v1m2-26v8m1-12v1m0 27v1m1-32v1m0 24v1m1-29v3m0 3v3m1-14v2m0 11v1m3-2v2m1 4v6m3-17v1m1-8v1m2 27v1m1 4v1m1-40v1m2 19v1m1-29v1m1-1v1m0 37v1m5-31v2m1-11v1m1 0v1m1 8v2m0 13v1m0 4v1m4-25v1m1 4v2m2-13v2m2 1v3m2 26v7m1-29v2m1 0v2m0 23v1m0 12v1m3-27v2m0 12v3m0 6v1m1-30v12m0 9v15m1-5v1m1-34v1m1-10v12m1 7v2m2-29v1m1 19v2m1 14v4m1-29v2m0 18v1m1-14v1m1-3v1m7 3v3m1-5v2m3-8v1m0 25v1m1-29v1m0 28v1m3-32v9m0 15v7m1-37v1m3 18v7m1-27v2m0 10v2m1 32v1m2-25v1m1 5v5m0 13v3m3-42v2m1-6v1m0 52v2m1 3v3m3-31v1m0 10v1m1-13v1m0 26v2m1-59v5m0 32v2m1-26v4m0 2v4"/><path stroke="#c81c1c" d="M412 14v3m1-3v2m8 35v1m5 8v12m8-58v3"/><path stroke="#d82020" d="M412 19v2m1-5v1m7 30v3m1-5v6m0 9v3m4 2v12m1-19v2m0 12v5m2-4v1m5-46v1m1-12v4m0 36v2m0 5v2m1-1v7m28-58v1m26-1v1m14 27v13"/><path stroke="#22b07c" d="M414 23v1m2-7v1m1 33v2m0 7v2m1-37v2m0 12v3m0 28v1m1-56v2m0 54v2m1-1v1m3-30v1m0 22v1m1-26v2m0 17v1m2-27v7m2-4v4m0 15v1m1-18v2m1 4v2m0 9v1m3-18v1m1-8v1m0 11v1m1-30v1m1 0v2m0 21v7m0 3v7m1 6v1m1-41v1m1 16v1m0 21v1m1-28v8m1-28v1m1-1v1m0 41v2m1-42v1m1 23v7m2-33v1m1 6v2m2-9v1m1 7v1m1 22v11m2-40v1m1 7v1m0 15v2m0 5v3m1-20v2m0 5v5m0 1v4m1-16v1m1-4v3m1 6v4m3 1v1m1-29v3m1 14v1m0 18v1m0 17v1m1-55v1m2 29v5m0 17v2m2-44v1m0 36v1m3-48v1m0 30v2m2-16v1m1-1v1m1-9v2m1-10v2m0 6v1m0 22v1m1-16v1m1-18v3m7 12v2m1-2v2m2-17v1m1 14v1m0 20v1m1-25v2m0 23v1m1-37v1m1 29v3m1 10v3m1-47v1m0 27v2m3-22v5m0 34v2m1-43v5m3 14v1m1-19v1m4-2v1m1 52v2m1 2v2m1-65v2m0 5v2m1-8v1m0 46v2m1-19v1m0 31v2m1-29v2m2 23v1"/><path stroke="#10b0a0" d="M414 24v1m0 17v3m0 15v6m2-50v1m1 32v2m0 11v2m1-28v3m0 32v3m0 3v3m1-7v6m1-6v2m3-31v1m0 19v2m1-23v1m0 15v1m4-19v5m0 7v3m1-19v2m1 5v1m0 12v1m2-11v1m0 1v7m1-16v1m1-8v1m0 9v1m1-28v1m0 20v1m1-20v2m0 16v3m1 22v1m1-41v1m0 41v1m1-24v1m0 17v3m4-46v1m1 23v1m0 7v3m2-35v1m1 3v2m3 0v1m1 13v5m1-1v4m1-26v2m1 6v1m0 12v2m1-8v5m0 10v1m1-16v1m1-2v3m1-4v7m0 4v4m4 26v2m1-4v1m1-55v1m2 52v1m2-44v1m0 32v3m3-14v4m1-8v1m1-15v2m2-17v3m0 5v1m1 24v1m1-18v1m8-4v2m1-1v1m2-14v2m1 13v1m0 17v2m1-22v1m0 21v1m1-35v2m0 37v6m1-18v2m2-1v2m3 6v2m0 4v3m4-40v1m0 18v1m1-22v2m5-7v3m0 55v1m1-54v2m0 54v2m2-61v2m0 46v1m2-16v1m2 26v2"/><path stroke="#10b0b2" d="M414 25v2m0 23v10m0 6v3m2-55v2m0 14v1m1 17v1m0 15v2m1 8v3m2-2v4m3-34v1m0 17v1m1-20v2m0 11v2m4-39v3m0 23v7m1-19v3m1 5v2m1 2v3m1-29v1m0 35v2m2-24v1m0 6v2m1-7v1m1-17v2m0 12v2m1 2v5m1-24v2m0 41v1m1-22v2m0 13v2m4-44v1m1-1v3m0 19v3m2-23v1m1 1v1m3 0v2m1 12v2m1 1v3m0 4v3m1-27v1m0 23v1m1-18v1m0 8v3m1 10v2m1-17v1m1 0v4m1-13v5m0 15v2m2-33v2m2 57v2m1-5v1m1-55v1m4 9v2m0 27v3m4-14v2m1-23v6m4 0v1m8-5v2m1 0v1m1 6v2m2-5v2m0 14v1m1-19v1m0 19v1m1-32v2m0 33v2m1-14v2m2 3v1m3 7v4m4-38v1m0 20v1m1-25v2m4 33v14m1-49v2m0 51v2m1-55v2m0 54v2m2-57v2m0 45v2m1-49v2m0 24v1m1 2v2m2 29v1"/><path stroke="#15abcc" d="M414 27v6m0 36v2m2-21v1m0 9v1m1-15v2m0 18v1m2-47v1m4 25v2m0 13v2m1-17v3m0 6v2m4-39v2m1 12v2m1 7v1m0 16v1m1-16v3m0 3v3m1-33v1m2 15v6m1-21v1m0 13v2m1-14v1m0 7v4m1 9v2m0 15v1m1-43v1m0 42v1m6-33v7m2-19v1m1-3v3m3 0v1m1 12v2m1 13v3m1-29v1m0 23v3m1-14v2m1 15v1m1-17v1m1 3v4m1 5v2m1-7v2m1-28v1m0 2v1m3 51v1m1-55v1m4 10v2m0 19v6m1-3v2m3-8v2m5-20v1m7-2v2m1-15v3m0 5v3m1 1v1m1 4v3m3-4v2m0 16v1m1-29v2m0 30v1m10-34v1m0 22v1m1-28v2m4 33v2m1-33v2m0 48v1m1-54v1m0 55v1m2-53v1m0 46v3m1-56v4m0 2v4m0 19v1m1-9v4m0 1v7m2 32v1"/><path stroke="#189fd5" d="M414 71v2m1-19v7m1-13v2m0 11v3m1-41v4m0 17v2m2-25v3m4 24v1m0 10v2m1-12v1m0 1v4m4-41v4m1-4v11m1-11v1m0 24v2m0 18v1m1-46v1m0 27v1m0 9v1m1-35v1m3 2v2m0 9v2m2-20v1m0 30v2m0 11v2m1-46v4m0 41v2m8-43v1m1-5v1m3 2v1m1 11v2m1 18v4m1-32v2m0 11v2m0 11v3m3-15v1m1 6v2m1-30v3m0 32v1m1-6v5m1-29v5m4-7v1m1-5v2m3 14v5m0 7v7m1-2v5m3-4v1m2-35v3m3 10v1m7-14v2m0 9v2m1-6v1m1 3v1m1 3v2m3 1v1m0 14v1m1-26v2m0 27v1m1 10v1m9-45v1m0 24v2m1-31v1m4 33v2m1-29v2m0 44v2m1-54v1m0 54v2m2-51v2m0 47v1m1-47v1m0 17v1m1-4v1m2 40v2"/><path stroke="#2a4ab0" d="M415 14v1m0 11v15m15 21v1m1-6v2m15-35v2m5-6v3m1-4v4m4 24v5m1 1v1m3 3v5m1-48v7m3 2v3m0 27v3m3-42v3m15 21v1m4-24v2m1 41v1m1-4v3m3-27v4m0 9v2m5-32v3m0 3v3m0 27v6m5 7v2m6-14v4m1 0v6"/><path stroke="#2a5ab8" d="M415 15v4m0 51v3m1-2v9m1-66v2m13 5v7m0 33v1m1-6v1m1-43v1m0 57v2m13-53v2m1-1v2m5-1v2m1-11v5m0 4v5m4 13v6m1 2v4m3-1v5m1-36v3m3-3v2m0 33v3m13-35v1m5-11v7m1-7v5m0 15v10m3-30v1m0 4v3m1-7v5m1 38v1m3-30v2m0 15v2m4-9v2m0 3v2m1-11v6m0 15v3m5-45v2m5 22v4m1 13v5m1 1v3m3-26v1"/><path stroke="#2175c4" d="M415 47v2m0 19v2m1-29v4m1-29v2m0 21v3m0 33v5m6-28v4m7-38v3m1-3v14m0 23v1m1-41v2m0 51v4m5-55v7m0 26v7m1-5v5m7-38v2m1 0v1m4-8v2m1 9v2m2-2v6m3 7v3m1 6v2m1 4v9m1-10v9m1-18v9m1-28v2m3-6v1m0 38v2m1-40v2m0 15v3m0 11v5m12-32v1m7-6v1m2 2v1m1-10v1m1 15v4m3-8v3m0 19v1m1-35v3m0 7v4m3-2v13m1 20v1m5-44v1m5 25v3m1 15v4m2 5v3m1-47v1m0 9v3m1 1v1"/><path stroke="#1890d0" d="M415 49v5m0 7v1m1-17v3m1-30v5m0 19v2m2-20v1m4 24v1m0 6v3m7-44v3m0 19v2m0 21v1m1-46v3m0 35v2m1-38v1m3 5v3m0 3v3m2-17v2m0 30v3m0 7v1m1-9v3m0 5v2m7-45v3m1 2v2m4-5v1m1 10v2m1 24v2m1-32v2m0 6v3m3 2v2m1 6v3m1 3v3m1-4v3m0 9v2m1-38v1m4-7v1m0 41v3m1-48v1m0 40v2m3-24v1m1 8v3m8-21v1m7-11v1m0 4v4m2-1v1m1 2v2m1-1v2m2 16v1m1-23v2m0 23v2m1-23v3m8 31v3m1-48v1m0 27v2m5-2v3m1 16v3m1-53v1m1 29v9m1-30v2m1 15v2m3 40v1"/><path stroke="#2a3aa8" d="M430 63v1m1-5v2m14-17v2m6-30v4m13 6v3m0 23v1m2-37v2m11-4v3m5 18v3m5 13v7m1-9v6m7-41v3m12 27v7m1-8v12"/><path stroke="#2931a1" d="M430 64v1m1 8v2m14-35v4m6-30v2m15-2v2m41 25v3"/><path stroke="#28289a" d="M431 67v6"/></g><path d="M505 96 L504.4 78.3 L503.5 70.6 L502.5 66 L502 64.2 L500.8 63.6 L499.7 63.1 L498.8 61.9 L498.2 63.6 L497.4 62.5 L496.5 59 L495.9 53.3 L495.4 42.9 L494.8 45.2 L494.2 56.7 L493.3 61.3 L492.7 61.9 L491.6 60.2 L490.4 57.3 L489.6 56.7 L488.9 59 L488.1 57 L487.3 58.6 L486.8 55.5 L486.3 51.4 L485.8 47.3 L485.1 43.7 L484.3 42.2 L483.2 43.7 L482.2 44.3 L481.2 44.8 L480.4 43.7 L479.6 41.2 L478.9 38.6 L478.1 37.6 L477.6 40.2 L476.9 44.3 L476.1 49.4 L475.2 54 L474.5 57.1 L473.5 59.6 L472 61.7 L470.5 63.7 L469.6 65.1 L468.6 66.6 L467.6 67.5 L467 70.4 L466.2 73.8 L465.4 73.3 L464.8 75.2 L464.1 79 L463.5 81.9 L462.8 80.5 L462.2 73.3 L461.4 64.6 L460.4 60.8 L459.5 61.8 L458.5 63.7 L457.6 65.6 L456.6 68.5 L455.8 71.2 L455.2 68.5 L454.2 66.6 L453.2 64.6 L451.8 60.5 L451.1 58.4 L450.3 53.2 L449.4 46.8 L448.5 41.7 L447.7 39.1 L446.9 39.8 L446.1 42.3 L445.1 46.5 L444 51 L442.8 55.5 L441.6 59.5 L440.3 63 L438 67.9 L436.1 70.5 L434.2 72.4 L432.2 73.7 L430.3 74.4 L429 75 L427.7 75.6 L426.5 76.3 L425.2 76.9 L423.9 76.3 L422.6 76.9 L421.3 76.9 L420.1 77.6 L418.8 78.2 L417.5 79.2 L416.2 78.8 L414.9 77.6 L413.9 76.3 L413 73.7 L412.1 74.4 L411.1 76.3 L410.5 76.3 L410.5 96.3 L505 96.3 L505 96ZM515.3 84 L513.1 85 L511.2 87 L511.2 89 L508.4 89 L508.1 77.4 L506.8 77.4 L506.8 96 L515.3 96 L515.3 84Z" fill="none" stroke="#fff" stroke-width="4" stroke-linejoin="round"/><path d="M505 96 L504.4 78.3 L503.5 70.6 L502.5 66 L502 64.2 L500.8 63.6 L499.7 63.1 L498.8 61.9 L498.2 63.6 L497.4 62.5 L496.5 59 L495.9 53.3 L495.4 42.9 L494.8 45.2 L494.2 56.7 L493.3 61.3 L492.7 61.9 L491.6 60.2 L490.4 57.3 L489.6 56.7 L488.9 59 L488.1 57 L487.3 58.6 L486.8 55.5 L486.3 51.4 L485.8 47.3 L485.1 43.7 L484.3 42.2 L483.2 43.7 L482.2 44.3 L481.2 44.8 L480.4 43.7 L479.6 41.2 L478.9 38.6 L478.1 37.6 L477.6 40.2 L476.9 44.3 L476.1 49.4 L475.2 54 L474.5 57.1 L473.5 59.6 L472 61.7 L470.5 63.7 L469.6 65.1 L468.6 66.6 L467.6 67.5 L467 70.4 L466.2 73.8 L465.4 73.3 L464.8 75.2 L464.1 79 L463.5 81.9 L462.8 80.5 L462.2 73.3 L461.4 64.6 L460.4 60.8 L459.5 61.8 L458.5 63.7 L457.6 65.6 L456.6 68.5 L455.8 71.2 L455.2 68.5 L454.2 66.6 L453.2 64.6 L451.8 60.5 L451.1 58.4 L450.3 53.2 L449.4 46.8 L448.5 41.7 L447.7 39.1 L446.9 39.8 L446.1 42.3 L445.1 46.5 L444 51 L442.8 55.5 L441.6 59.5 L440.3 63 L438 67.9 L436.1 70.5 L434.2 72.4 L432.2 73.7 L430.3 74.4 L429 75 L427.7 75.6 L426.5 76.3 L425.2 76.9 L423.9 76.3 L422.6 76.9 L421.3 76.9 L420.1 77.6 L418.8 78.2 L417.5 79.2 L416.2 78.8 L414.9 77.6 L413.9 76.3 L413 73.7 L412.1 74.4 L411.1 76.3 L410.5 76.3 L410.5 96.3 L505 96.3 L505 96ZM515.3 84 L513.1 85 L511.2 87 L511.2 89 L508.4 89 L508.1 77.4 L506.8 77.4 L506.8 96 L515.3 96 L515.3 84Z" fill="#b4b4b4" stroke="#000" stroke-width="0.9" stroke-linejoin="round"/><g stroke-width="1" fill="none" shape-rendering="crispEdges" transform="translate(.5 0)"><path stroke="#84bf41" d="M411 113v1m0 53v2m1-35v8m0 26v2m1-32v1m1 3v1m0 14v2m2-46v1m0 39v1m1-41v2m0 12v12m2-23v2m1 21v1m0 13v1m2-41v3m0 30v1m0 19v1m1-36v1m0 21v1m0 10v1m3 2v3m1-10v2m2-20v1m1 14v12m1-55v2m0 5v1m1 54v1m1-56v1m0 20v1m0 20v2m1-1v1m1-20v1m0 15v2m0 9v4m1-2v1m1-30v3m1 10v1m1-5v1m0 16v1m2-49v1m0 29v1m1-3v2m1-2v8m3-38v2m2-1v1m4-10v1m3 6v1m1 14v2m1-18v2m1 41v1m1-5v2m1-22v1m0 21v4m1-49v3m0 8v2m1-8v2m1-8v2m1 6v1m2 21v1m1-28v1m2 9v2m1-13v1m5 30v3m2 4v1m1 4v2m3-45v1m1 4v1m1 6v1m0 4v3m3-13v4m3-3v2m0 11v2m1-20v1m1 0v3m1 16v1m1-22v1m3 19v1m0 21v1m1-43v7m0 23v2m1-23v1m0 18v1m1-21v2m1-11v2m0 44v3m1-46v2m0 45v1m1-45v1m0 43v1m1-49v1m1 44v1m1-24v2m1-17v1m3 15v2m1 23v3m0 6v3m1-66v2m0 52v1m1-1v1m1-1v1m1-34v1m0 25v2m0 5v2"/><path stroke="#40b050" d="M411 114v1m0 54v1m1 0v1m1-32v1m1 3v2m0 10v2m2-3v1m4-17v1m0 15v1m1-9v5m1-4v1m1-35v1m0 40v1m0 8v1m3 0v3m5-54v1m0 8v2m0 50v3m1-3v2m1-54v2m0 17v1m0 23v2m0 6v2m1-10v1m1-22v1m0 18v9m1 1v1m1-26v2m2 5v1m0 13v2m1-19v1m1-31v1m0 31v1m1-2v2m0 13v2m1-37v6m0 10v2m0 12v5m3-45v2m9-2v4m1 10v3m1-19v2m1 38v1m1-7v3m1-21v1m0 26v1m1-47v8m3-5v1m2 21v1m1-26v1m0 25v5m2-24v2m0 9v2m1-21v3m2 29v2m1-14v1m0 13v1m1 0v1m1-15v9m1 6v1m1 1v2m2-44v3m2 1v1m1 4v1m1 13v2m3-18v3m3 0v1m1-6v1m1-1v2m1-7v1m1 2v2m1-3v4m0 3v5m0 19v2m1-35v3m1 23v2m0 17v2m1-10v2m1-26v1m0 20v1m1-23v1m0 20v2m1-29v3m1 0v1m0 42v2m1-43v1m3 14v2m0 17v2m1-37v3m3 14v2m1-17v1m0 44v6m1-8v1m2-1v1m1-34v1m0 22v2m0 9v1"/><path stroke="#22b07c" d="M411 115v1m0 20v1m0 33v1m1 0v1m1-32v2m0 11v8m0 15v3m1-34v2m0 6v2m2 0v2m0 8v6m4-16v1m1-13v3m0 10v2m1-10v1m0 16v1m1-52v2m0 39v3m0 3v2m4 13v1m4-53v1m0 47v2m1-61v3m0 1v3m0 52v2m1-50v1m0 42v6m1-7v3m0 4v3m1-63v3m0 27v1m1 28v1m1-23v2m1 7v1m1-4v2m0 10v1m1-16v1m1 1v2m1-33v1m0 30v5m0 3v5m1-37v2m1-3v6m2-11v3m2 12v2m5-23v1m3 20v1m1-18v3m1 34v1m1-8v2m1-19v1m4-17v1m2 21v1m1-24v1m0 21v3m0 7v2m2-29v1m0 13v2m1-20v8m2 18v3m1-14v2m0 1v13m1-1v2m1-19v5m0 16v2m1-2v1m1 2v1m4-40v1m1 4v2m4-7v2m3 2v1m1-7v2m1-2v2m1-4v3m1-2v1m1-3v2m0 12v2m0 19v7m2-14v2m0 13v2m1-6v1m1-28v1m0 22v1m1-25v1m0 23v3m1-29v8m1-7v2m0 39v1m1-40v1m0 40v1m1-47v1m1 42v1m1-26v1m0 15v4m1-37v2m5 46v1m1-2v1m2-33v1m0 20v1m0 12v1"/><path stroke="#189fd5" d="M411 125v5m1 46v3m5-29v1m1-18v18m1-12v9m2 14v2m1-10v2m0 4v2m2-28v1m1 3v8m4-28v2m1 4v2m0 22v1m1-22v1m0 38v1m1-41v2m0 36v2m3-26v1m1 6v5m0 15v2m1 1v1m1-7v6m3-53v1m1-2v3m2 2v2m1 1v12m4-23v1m0 20v2m1-23v4m6 30v1m2-35v2m0 40v1m2-23v1m3 31v1m1-53v2m1 5v2m1 8v3m1-8v8m1-9v1m0 31v2m1-40v2m0 24v1m3-4v1m2-8v4m0 2v3m1 18v1m1-4v2m3-22v2m2-17v1m0 24v2m6-28v4m1-4v3m1-8v1m6 22v4m2 14v1m1-38v1m0 30v1m1-36v1m0 42v3m2-35v2m0 21v4m1-26v2m0 32v1m1-40v1m1-11v1m1 0v1m0 16v2m4-21v4m1 3v2m1 51v3m0 4v2m1-11v1m2-32v1m0 9v3m0 21v1"/><path stroke="#15abcc" d="M411 130v2m1 42v2m4 1v2m1-30v1m4-37v3m0 45v1m1-10v2m0 8v1m2-28v1m1-7v3m0 14v1m3-34v1m1 6v3m1-1v2m0 25v1m1-24v1m0 40v2m1-45v2m0 40v2m1-40v1m1-1v3m1-11v1m0 20v1m1 2v3m0 22v1m1 1v1m1-9v1m0 6v2m1-10v2m1-7v4m1-43v2m1-1v2m2 2v2m5-11v3m9 39v2m1-12v2m1-14v1m4-20v1m1 9v1m1 0v4m1-7v2m0 8v1m0 23v4m2-41v1m0 22v1m3-2v1m2-12v3m0 9v3m1 14v1m1-48v3m0 41v1m3-23v3m0 11v1m2-29v2m6 3v7m1-8v11m1-18v1m1-6v1m5 24v2m2 16v2m1-36v1m0 28v1m1-34v2m0 37v3m0 3v3m2-39v1m0 27v3m1-30v1m0 35v1m1-42v1m1-11v1m1 0v1m0 19v1m1-22v2m3 2v11m1-6v1m1 49v1m1-3v1m1 0v1m1-33v1m0 13v1m0 19v1"/><path stroke="#10b0b2" d="M411 132v2m1 39v1m4 1v2m1-29v1m3 7v1m1-21v4m0 20v1m1-10v1m0 11v1m2-28v2m1-25v1m0 11v4m1 22v2m2-39v1m1 8v2m1-6v3m0 28v1m1 18v1m1-48v2m0 44v2m1-44v2m2-10v2m0 22v1m1 27v1m1 1v1m1-12v2m0 9v1m1-14v3m0 2v3m1-12v2m0 4v2m1-43v1m1 0v1m2 3v2m2 3v3m7-20v4m1-4v7m4 38v1m1-11v2m1-15v1m6-23v2m0 8v3m1-4v1m0 32v2m2-36v1m0 19v2m3 0v2m1-14v2m1-5v3m0 15v2m1-31v1m0 6v4m0 30v2m1-4v1m1-44v1m2 18v3m1-22v3m1 4v1m8-2v1m1-6v1m6 30v8m1 2v1m1-33v1m0 26v1m1-31v2m0 31v4m0 9v1m1-18v4m1-27v1m0 31v3m1-34v1m1-6v1m1 38v1m1-49v1m0 21v1m1-21v4m4 4v1m1 47v1m2-2v1m1-33v1m0 15v2m0 16v1"/><path stroke="#10b0a0" d="M411 134v2m0 35v1m1 0v1m1-31v11m0 8v9m0 1v5m1-29v6m2 4v8m0 6v4m1-29v2m4-8v3m0 15v2m1-11v2m0 13v1m1-49v2m0 40v3m2-47v11m3-10v1m1 13v10m1-26v6m1 6v1m0 44v2m1-52v2m0 48v2m1-47v1m1 43v4m1-57v2m1 53v1m1-20v1m0 20v1m1-14v1m0 12v1m1-16v1m0 8v1m1-14v1m1-34v1m0 35v5m1-40v2m0 36v1m0 1v1m1-33v1m1-4v3m2-2v2m7-13v2m4 7v3m1 30v1m1-10v3m7-38v1m0 6v1m1-3v2m0 17v2m0 12v2m2-33v2m0 16v1m1-13v1m2 16v1m1-13v2m1-9v2m0 20v2m1-37v4m0 11v5m0 23v2m1-3v1m1-42v2m0 42v1m2-29v2m2-13v1m1 5v2m4-14v3m3 4v2m1-7v1m1-3v3m2-3v2m3 28v2m0 8v3m1-3v2m1-31v1m0 24v1m1-28v2m0 27v2m0 14v1m1-38v5m1-10v1m0 35v3m1-38v1m0 38v1m1-45v1m1 40v1m1-27v2m1-19v2m4 3v1m1 45v1m1-2v1m1-1v1m1-33v1m0 18v1m0 14v1"/><path stroke="#f8dd11" d="M411 152v4m0 1v1m0 4v3m1-52v1m0 33v5m0 13v2m2-27v1m0 20v12m2-58v1m0 34v1m4-9v2m0 6v2m2-10v2m1-11v1m0 17v1m0 14v1m2-11v1m1-20v1m0 35v2m1-22v2m1 21v2m1-34v1m0 23v3m1 3v3m3-58v1m0 24v1m0 15v2m1-21v1m0 19v1m1-15v1m0 9v2m1-46v1m1 23v4m1 15v1m1-5v1m2-28v1m0 25v1m1-4v1m4-35v2m1 11v3m1-14v3m3 13v2m1-19v1m3 1v1m0 16v3m1-14v3m1-12v3m1 48v1m1-4v3m1-25v1m1-11v1m1-7v2m1-6v2m0 36v1m1 7v1m2-21v1m1-33v2m3-2v1m4 0v2m4 38v1m3-43v1m1 5v1m1 1v3m6 4v7m1-14v2m1 3v7m1-9v3m0 9v2m1-17v3m0 22v4m4-36v2m0 29v2m1-4v2m1-16v1m1-16v2m0 52v1m1-53v2m0 51v1m1-50v2m1-5v1m2 44v1m1-34v2m1-18v2m1-2v1m0 33v2m1-3v3m1 14v2m0 15v2m1-65v1m1 47v1m1-51v2m0 19v4m0 7v3m1-19v2"/><path stroke="#f0b020" d="M411 158v4m1-10v7m0 2v4m3 7v3m1-26v1m4-6v6m2-11v1m0 28v1m1-35v1m0 14v2m0 16v2m2-12v1m1-24v1m0 1v1m0 38v3m1-26v1m1 22v1m1-31v1m0 20v2m4-51v2m0 26v2m0 11v2m1-18v1m0 17v1m1-13v2m0 5v2m1-43v2m2 39v1m1-6v2m1-39v1m1 12v1m0 23v1m1-5v2m4-35v1m1 11v2m1-14v3m4 0v2m3-3v2m0 20v2m1-18v2m1-10v1m3 27v2m1-12v1m1-6v2m1-6v2m1 43v4m2-24v2m0 9v3m1-48v1m3-1v1m4-1v2m4 33v3m4-33v1m1-1v3m7 2v2m2 2v9m1-12v7m0 14v1m4-33v1m0 30v1m1-3v1m1-13v2m1-19v1m1 0v2m0 54v1m1-52v1m1-6v2m1 50v1m1-4v2m1-34v2m1-18v1m1-2v1m0 34v3m1-3v3m1 9v2m1-45v2m1-7v2m0 49v1m1-48v2m0 14v3m0 14v3m0 10v2m1-35v1"/><path stroke="#d0d828" d="M411 165v2m1-53v2m0 16v2m0 8v5m0 20v1m1-31v1m1 3v1m0 17v2m2-47v1m0 36v2m1-38v1m2-3v3m1 24v2m0 10v1m2-9v2m0 21v1m1-36v1m0 19v1m0 12v1m2-11v1m1 14v3m1-18v4m2-16v1m0 27v7m1-9v5m1-58v5m2-1v1m0 22v1m0 18v1m1-23v1m0 21v2m1-18v1m0 12v2m2-20v4m1 12v1m1-5v1m0 18v1m2-49v1m0 27v1m1-4v2m6-32v3m4-8v1m3 3v2m1 6v4m1-13v2m1 44v2m1-5v2m1-23v1m0 19v1m1-47v2m0 13v2m1-17v3m0 6v2m1-11v1m0 5v1m0 39v1m1-37v2m2 20v1m1-30v1m3-2v1m4 1v2m3 34v1m1-41v3m0 40v3m3-45v2m1 4v1m1 3v4m3-1v4m3-5v2m0 7v2m1-17v1m1 2v3m0 7v3m1 2v1m1-20v2m0 29v2m3-15v1m1-22v2m0 29v1m1-3v1m1-18v1m1-13v1m0 49v2m1-50v2m0 48v1m1-47v1m0 45v1m1-51v1m1 46v1m2-39v2m2 14v4m1-3v2m1 19v2m0 12v1m1-65v2m0 49v1m1-1v1m1-54v2m0 25v7m0 19v1m1-34v1m0 28v5"/><path stroke="#f09420" d="M412 159v2m3 9v2m1-25v2m6-18v8m0 30v1m1-35v2m0 11v1m0 20v1m1-20v1m1 7v1m1-37v12m2 39v2m1-29v1m0 18v1m4-51v2m0 30v3m0 6v2m1-15v1m0 15v1m1-10v5m3-1v1m1-6v1m1-36v4m0 29v1m2-3v1m5-24v3m5-7v1m3-6v2m1 4v2m4 22v3m1-14v2m1-6v2m0 17v1m1-24v1m0 32v1m3-9v3m0 3v3m12-29v2m0 13v4m5-35v5m1 8v3m1-9v7m5-2v4m7 13v2m4-31v1m1-1v1m0 1v4m1-6v1m1 53v1m1-3v1m0 14v2m1-49v2m0 21v3m0 22v1m1-66v1m1-2v1m0 36v2m1-2v4m1 3v2m1-41v2m1-7v6m0 42v1m1-36v5m0 20v10m1-35v2"/><path stroke="#1890d0" d="M412 179v1m5-29v2m1-2v4m1-7v3m0 26v1m2-14v1m0 11v2m1-22v4m2-27v1m5-18v2m1 8v2m0 19v1m1-20v1m0 34v3m1-38v1m0 32v3m4-12v2m0 10v3m1-9v2m0 9v1m4-55v2m1-4v3m2 2v3m0 41v1m1-50v3m0 20v1m1 17v2m3-20v2m1-21v1m1-4v2m5 32v2m2-35v3m0 35v2m1-12v1m1-13v2m3 33v2m2-54v2m3 7v1m0 34v4m1-48v4m0 27v2m1 13v1m1-48v13m0 22v1m1-10v2m1-28v5m1 20v2m2 20v1m5-37v1m6-5v2m1-3v3m1-7v2m6 27v1m0 1v12m2 1v2m1-41v1m0 32v1m1-41v3m2 14v1m1 0v3m0 27v2m1-38v1m0 35v1m1-47v1m0 41v1m1-28v2m5-14v2m1 56v4m1-8v1m1-1v1m1-26v3m0 25v2"/><path stroke="#d82020" d="M413 113v3m1-3v3m8 59v1m2-9v10m1-10v7m0 2v2m2-53v12m1 16v8m10-48v5m1 14v3m24 0v10m1-8v4m47 6v7"/><path stroke="#e83820" d="M413 130v1m2-2v2m0 8v6m0 9v10m7 7v2m1 0v5m1-18v3m1-1v2m2-46v3m0 20v2m1-13v6m1 24v2m5-49v2m0 31v3m0 5v2m3-43v3m1 30v5m1-12v5m1-4v4m7-30v2m14 21v3m0 5v1m1-12v8m1-13v2m0 22v1m1-22v2m1 6v2m0 18v5m12-22v3m28 26v5m1-10v6m1-49v10m0 27v5m3-27v10m1 9v2m1-3v3"/><path stroke="#ec5820" d="M413 131v1m2 32v3m3-54v3m5 23v2m0 4v1m0 25v2m1-17v4m1 1v1m1-49v3m1-1v3m2 30v1m0 13v1m5-48v1m0 29v1m0 10v2m4-7v2m1-9v3m1-3v2m7-27v1m5 0v1m4-8v3m5 19v2m1-5v2m0 8v2m1-17v2m0 25v2m1-25v1m1 7v1m11 2v2m2-9v5m4-27v1m2-1v8m1-8v3m5 19v2m6-24v1m1 24v3m7 28v1m1-3v2m0 8v2m1-42v5m0 21v4m0 6v4m1-58v3m0 12v3m0 19v5m1-43v3m0 36v6m2-14v6m1-32v2m0 35v1m1-1v2m2-49v3"/><path stroke="#f07820" d="M413 132v2m2 33v3m1-44v12m0 8v1m2-31v1m4 53v1m1-34v2m0 7v2m0 22v1m1-20v5m1 3v2m1-41v2m1-9v2m1 56v2m1-26v1m0 15v2m4-52v2m0 35v6m1-12v1m0 13v1m4-6v1m1-7v2m1-31v2m0 26v1m2-14v4m5-17v2m5-3v1m4-4v3m5 15v1m1-5v2m0 13v2m1-22v2m0 29v1m3-5v3m12-24v4m0 5v4m4-30v2m2 5v5m1-10v4m5 9v6m6-21v2m1 25v1m5-28v1m2 53v1m1-3v1m0 12v1m1-45v2m0 22v4m0 14v4m1-64v2m0 28v9m1-40v2m0 36v3m1-1v5m1-6v4m1-37v1m1-2v1m0 40v1m2-37v2"/><path stroke="#e02c20" d="M415 113v3m7 57v2m2-12v4m0 10v1m1-14v3m2-46v4m0 12v4m1 20v1m1-9v7m5-11v5m4-21v13m1-11v4m1-3v4m1 3v2m6-32v1m7 22v2m7 2v5m2-14v4m0 13v5m1-19v3m1 5v10m12-14v5m34 11v4m1-25v24"/><path stroke="#2175c4" d="M417 153v2m1 0v2m0 19v2m1-27v4m0 20v2m1 0v1m1-13v2m0 7v2m8-63v3m1 12v2m0 15v2m1-18v1m0 31v2m1-34v2m0 29v1m4-3v6m1-4v3m0 3v3m4-56v2m2 6v2m1-10v5m0 45v2m6-33v6m1-25v1m5 36v8m1-16v1m1-25v4m0 28v3m1-11v1m1-30v4m0 12v2m3 37v6m2-61v1m3 6v3m1-10v1m0 33v1m0 13v1m1-24v1m0 19v2m1-14v2m1-10v1m4 22v1m5-32v1m6-18v3m1-3v6m1-6v2m8 46v2m1-45v2m0 34v1m3-24v1m1 2v7m0 18v2m1-35v1m0 33v1m1-6v2m1-31v4m5-17v5m2 55v1m1-1v2m1 2v1"/><path stroke="#2a5ab8" d="M417 155v2m1 0v3m0 14v2m1-21v3m0 16v1m1-61v2m0 59v2m1-10v7m3-49v1m6 4v2m0 11v2m1-15v2m0 27v2m1-30v3m5 29v3m6-49v4m14 22v2m1-23v1m0 22v5m1-37v9m1-5v12m8-16v7m1 28v2m0 10v1m1-22v1m0 16v2m1-14v2m1-33v3m0 2v2m0 16v2m9-7v2m16 30v1m1-49v3m0 37v2m3-25v2m1 7v8m0 4v6m1-32v3m0 28v2m1-21v4m1-18v1m7 48v2m1-1v2m1 1v3"/><path stroke="#2a4ab0" d="M417 157v5m0 5v11m1-18v3m0 7v4m1-16v5m0 7v4m1-61v1m0 58v3m4-62v1m0 2v9m6 7v11m1-11v1m12-20v4m2 41v4m12-17v11m1-26v1m0 13v1m1-23v2m0 12v1m2 28v3m8-18v3m0 3v4m1-20v3m1-1v2m1-12v4m8-3v3m0 12v2m18-37v2m0 42v7m3-30v8m2-12v4m1-14v3m0 10v6m8 37v6m1-5v5m1-1v1"/><path stroke="#2a3aa8" d="M417 162v5m1-4v7m1-7v7m1-3v5m4-58v2m7 17v4m0 10v3m1-5v2m27-16v5m2 32v1m1-3v6m7-19v3m1-13v9m1-15v5m32-8v11m0 4v1m1-27v10"/><path stroke="#c81c1c" d="M425 174v2m39-35v3m47-9v12"/><path stroke="#2931a1" d="M431 137v10"/><path stroke="#b81818" d="M439 113v4"/></g><path d="M506.6 195.1 L506.6 195 L506.1 190.1 L505.2 180.2 L504.5 168.9 L504 159 L503.5 160.5 L502.8 166.1 L502.1 171 L501.4 169.6 L500 167.5 L498.6 164.7 L497.2 161.9 L495.8 157.6 L494.8 155.2 L493.7 151.3 L492.7 147.5 L491.8 143.6 L490.9 139.8 L490.2 136 L489.3 138.5 L488.6 134.7 L487.6 132.1 L486.7 130.8 L486.1 127 L485.4 125.7 L484.8 126.3 L484.1 130.8 L483.2 139.8 L482.2 150 L481.9 152.6 L480.6 156.4 L479.3 159.6 L477.4 160.9 L475.4 160.3 L474.2 156.4 L472.9 153.8 L471.9 157.7 L471 161.5 L469.7 160.3 L468.4 164.1 L467.1 168 L466.2 170.5 L465.2 168 L464.2 170.5 L463.3 173.1 L462.6 171.2 L461.3 166.7 L460.1 162.8 L459 164.1 L458.1 166 L457.5 161.5 L456.2 155.1 L455.7 148.9 L455.1 143.8 L454.4 136.1 L453.8 129.7 L453.1 127.8 L452.5 129 L451.2 133.5 L449.9 138.7 L448.6 142.5 L447.4 144.4 L446.6 153.8 L446 159 L445.1 162.8 L443.8 166 L442.5 168.6 L440.6 170.8 L438 172.8 L435.4 174.4 L432.9 175.4 L430.3 176.3 L427.7 176.9 L425.2 177.2 L422.6 176.9 L420.1 176.9 L417.5 177.2 L415.2 177.6 L414.7 181.4 L414.2 177.6 L413 178.2 L411.1 178.8 L410.5 178.8 L410.5 195.1 L506.6 195.1Z" fill="none" stroke="#fff" stroke-width="4" stroke-linejoin="round"/><path d="M506.6 195.1 L506.6 195 L506.1 190.1 L505.2 180.2 L504.5 168.9 L504 159 L503.5 160.5 L502.8 166.1 L502.1 171 L501.4 169.6 L500 167.5 L498.6 164.7 L497.2 161.9 L495.8 157.6 L494.8 155.2 L493.7 151.3 L492.7 147.5 L491.8 143.6 L490.9 139.8 L490.2 136 L489.3 138.5 L488.6 134.7 L487.6 132.1 L486.7 130.8 L486.1 127 L485.4 125.7 L484.8 126.3 L484.1 130.8 L483.2 139.8 L482.2 150 L481.9 152.6 L480.6 156.4 L479.3 159.6 L477.4 160.9 L475.4 160.3 L474.2 156.4 L472.9 153.8 L471.9 157.7 L471 161.5 L469.7 160.3 L468.4 164.1 L467.1 168 L466.2 170.5 L465.2 168 L464.2 170.5 L463.3 173.1 L462.6 171.2 L461.3 166.7 L460.1 162.8 L459 164.1 L458.1 166 L457.5 161.5 L456.2 155.1 L455.7 148.9 L455.1 143.8 L454.4 136.1 L453.8 129.7 L453.1 127.8 L452.5 129 L451.2 133.5 L449.9 138.7 L448.6 142.5 L447.4 144.4 L446.6 153.8 L446 159 L445.1 162.8 L443.8 166 L442.5 168.6 L440.6 170.8 L438 172.8 L435.4 174.4 L432.9 175.4 L430.3 176.3 L427.7 176.9 L425.2 177.2 L422.6 176.9 L420.1 176.9 L417.5 177.2 L415.2 177.6 L414.7 181.4 L414.2 177.6 L413 178.2 L411.1 178.8 L410.5 178.8 L410.5 195.1 L506.6 195.1Z" fill="#b4b4b4" stroke="#000" stroke-width="0.9" stroke-linejoin="round"/><g stroke-width="1" fill="none" shape-rendering="crispEdges" transform="translate(.5 0)"><path stroke="#f8dd11" d="M411 211v3m0 25v1m0 12v1m1 5v1m0 11v1m2-53v2m0 31v1m0 7v1m1-13v1m0 22v2m1-28v2m0 32v1m1-48v4m0 43v1m1-5v1m1-56v2m0 6v3m0 6v1m1-15v1m1-4v1m2 0v4m0 36v1m0 10v1m1-45v3m0 34v2m1-37v1m0 21v1m0 19v1m1-44v1m1 22v1m0 23v2m1-63v2m0 35v2m1-20v2m4-19v1m1 0v1m0 44v2m1-4v1m1-27v1m1-24v1m0 25v3m1-13v3m0 18v1m1-11v6m3-21v1m0 26v4m1-31v1m1-7v2m0 9v4m1-16v2m1 6v1m1 7v1m1 0v1m2 4v7m0 15v1m1-46v9m1 14v1m2 7v1m1 1v1m1-34v1m0 34v2m1-39v6m1 24v1m1 8v1m2-16v1m3-15v2m0 9v1m1-10v2m0 14v1m1 5v1m1-12v4m1-29v1m0 11v1m1 35v2m1-20v1m15-31v6m2 46v1m1-53v1m2 29v1m2 10v2m1 1v2m6 2v2m1-49v1m0 31v2m0 13v9m1-53v1m0 20v1m1-21v1m4 25v1m0 33v1m1-36v1m0 32v1m1-48v1m0 42v1m4-47v3m0 8v4m0 34v1m1-17v6m1-10v2"/><path stroke="#f07820" d="M411 222v1m0 13v1m0 18v1m0 12v1m1-53v3m0 43v5m1-50v3m3 54v1m1 1v1m3-59v1m4 49v2m1-38v2m1-4v1m0 19v2m1 16v3m1-60v1m1 27v2m0 7v3m4-39v1m1-1v2m0 56v2m1-61v6m0 14v1m0 31v1m1-53v2m0 19v1m1-2v2m1 2v2m0 7v2m4-20v2m1-2v2m1-15v1m1-3v3m1 6v1m1 4v3m3-15v2m1 14v2m1-20v1m0 28v1m2 7v1m2-30v2m0 15v2m1 11v2m1-4v5m0 2v3m3-22v1m1-3v3m1-23v1m0 3v10m2 2v2m0 8v1m1-22v4m0 10v4m1-19v1m11-7v1m1 9v1m8 44v2m3-24v1m0 13v1m1-11v2m1-27v8m0 14v1m1 2v1m1-33v2m0 12v2m5 13v4m0 2v3m1-19v3m1-19v2m1-2v2m4 13v5m0 40v1m1-67v1m0 15v1m0 7v2m0 37v1m1-65v1m0 60v1m5-63v1m0 39v1m1-4v2"/><path stroke="#ec5820" d="M411 223v2m0 9v2m0 20v1m0 10v1m1-54v2m1-5v6m3 55v2m1 1v1m2-63v1m1 3v1m1-5v1m3 56v8m1-44v3m0 4v4m1-14v1m0 16v2m1 16v2m2-27v7m4-37v1m1-1v1m1 18v1m0 33v1m1-52v1m0 17v1m1-4v3m1 6v7m4-16v2m1-2v1m1-18v2m0 31v1m2-28v3m1 2v3m4 6v2m0 17v3m1-12v1m2 7v2m3-13v5m0 4v2m1 3v2m2-35v1m1 14v1m1-7v5m3-2v2m0 4v2m1-24v3m0 18v7m12-31v1m1 7v1m1-9v2m7 54v2m3-25v1m0 11v1m1-8v2m0 10v1m1-32v4m2-21v2m0 16v2m7-13v1m1-1v1m4 58v1m1-69v1m0 17v7m0 40v1m1-65v1m0 60v1m5-63v1m1 34v1"/><path stroke="#e83820" d="M411 225v1m0 6v2m0 23v2m0 6v2m1-56v3m4 56v2m1 2v1m2-63v1m2-2v2m4 24v4m1-9v2m0 12v2m9-20v2m0 35v1m1-36v1m1-11v1m0 4v3m1-17v3m4 16v6m1-7v2m3-20v6m1 2v3m4 11v2m0 10v4m1-7v1m0 16v1m2-9v1m3-9v4m3-29v1m1 13v2m1-12v6m3 5v4m1-24v2m12-2v2m0 7v3m1-6v1m1-9v1m10 34v1m0 9v1m1-5v10m3-51v3m8 8v4m5-15v1m0 66v1m1-4v2m5-64v1m1 32v1"/><path stroke="#f09420" d="M411 237v1m0 16v1m1-36v6m0 35v2m0 5v2m1-49v2m1 33v1m2 19v1m1-36v4m0 33v1m1-15v8m1-38v1m1-15v1m1-3v1m2 45v6m1-2v1m1-37v1m0 15v2m0 25v1m1-23v2m1 17v2m1-61v1m1 24v2m0 35v2m4-63v2m1-1v1m0 50v2m1-35v1m0 29v1m1-30v1m1-21v1m0 19v1m1-1v2m0 11v1m4-22v1m1-1v1m1-12v1m0 21v5m1-27v1m1 6v2m1 5v2m1 5v1m2-25v2m0 2v1m0 48v4m1-57v1m0 15v2m1 10v1m3 12v2m1-37v2m0 19v10m1-37v1m0 39v1m1-7v2m0 10v2m1-5v1m2-19v1m1-1v1m1-26v2m0 14v5m1-6v6m1-4v1m0 11v1m1-19v10m0 13v1m1-35v3m0 4v10m1-13v2m0 3v1m11 1v1m8 42v1m3-23v1m0 15v1m1-13v1m1-36v11m0 23v3m1 0v3m1-34v3m0 6v3m5 12v3m0 9v3m1-19v3m1-24v2m0 15v1m1-17v1m4 14v1m0 5v2m0 37v1m1-40v1m0 35v1m1-65v1m0 13v1m0 46v1m4-57v3m1 33v2m1-4v1"/><path stroke="#f0b020" d="M411 238v1m0 14v1m1 5v1m0 9v1m1-48v2m1-13v7m0 34v3m0 1v3m2-13v1m0 29v2m1-43v5m0 4v4m1 23v3m1-56v1m0 11v3m0 1v2m1-16v2m1-4v1m2 42v2m0 6v2m1-50v6m0 39v1m1-37v1m0 18v2m0 21v2m1-45v1m1 22v2m0 19v2m1-62v1m1 21v2m0 34v3m4-59v1m1-1v2m0 47v1m1-32v1m0 27v1m2-50v1m0 21v3m1-13v3m0 3v3m0 14v1m4-24v1m0 23v2m1-26v1m1-10v2m0 15v4m1-21v1m1 7v1m1 6v2m1 2v1m2 26v3m1-52v2m0 10v3m1-15v1m1 30v1m1 3v1m1 1v3m0 2v3m1-41v1m0 31v2m1-38v1m0 39v1m1-9v1m1 8v1m3-17v2m2-14v1m0 6v2m1-7v1m1 18v1m1-19v8m1-24v2m0 7v2m2 19v1m17 21v1m3-23v1m0 17v1m2-50v1m0 37v3m1 0v3m1-34v6m5 2v8m0 20v2m1-46v1m0 27v3m1-28v1m0 18v1m1-19v1m4 23v1m0 35v1m1-38v1m1-15v1m0 44v1m4-61v3m0 5v5m0 50v1m1-21v3m1-6v2"/><path stroke="#40b050" d="M411 244v1m0 3v1m1 6v1m0 17v1m2-27v1m0 15v1m1-19v1m1-15v5m1-11v2m1-2v1m0 8v1m0 42v1m2-37v1m1-20v1m1-4v1m1 8v2m0 27v1m0 15v1m1-40v2m0 25v1m1-36v1m0 31v3m0 4v3m1-42v1m1 5v4m0 11v1m1-18v10m5-22v1m1 3v3m0 34v1m1-25v1m0 22v1m2-14v2m0 17v1m2-54v2m0 21v1m0 12v1m3-29v1m1-1v1m2 0v1m3 9v1m2-3v5m0 18v5m2-20v1m1-25v1m2 32v1m1-35v1m0 43v1m1-1v1m1-16v1m1 7v2m1-25v1m1 13v1m3-20v1m0 16v1m1-17v1m1 27v1m2-24v1m1-9v2m0 6v1m0 27v1m1-17v1m6-25v3m1-6v1m3 10v1m3 13v2m1-5v2m2-4v2m0 23v2m1-12v1m0 13v1m6-1v1m2-7v3m0 15v2m3-63v1m1 52v1m1 6v1m1-61v1m0 26v1m0 18v1m0 9v1m3-57v1m1 33v1m0 32v3m1-36v1m1-2v1m0 27v1m1-43v2m0 36v1m1 2v5m2-42v3m1 33v1m1 0v3m1-16v1m0 16v1"/><path stroke="#22b07c" d="M411 245v3m1 5v2m0 19v1m1-17v1m1-13v1m0 17v1m1-52v7m0 24v1m1-17v3m1-7v1m1-2v2m0 10v1m0 42v1m1-40v1m1 2v1m1-20v1m1-8v3m1-6v1m0 16v2m0 24v1m1-45v2m0 22v2m0 21v2m1-36v1m0 35v4m1-3v1m1-27v3m0 6v2m1-23v6m5-11v1m1 38v1m2-23v1m1 26v1m1-13v1m0 13v2m1-54v1m0 19v1m0 14v1m3-31v1m1-2v2m2 2v2m1 4v1m2 1v1m5 11v1m1 2v1m1-1v1m2 11v1m1-19v2m1 7v1m1-22v1m4-8v1m1-1v2m0 22v1m3-17v1m1-11v1m0 9v1m0 25v1m3-22v2m4-17v2m4 4v3m3 7v3m1-6v3m0 17v1m2-21v1m0 27v4m1-15v2m0 10v1m1-47v1m1-3v1m4 49v2m2-6v3m0 10v2m1 7v2m1-31v1m2 14v2m0 12v2m1-9v2m1-35v1m0 16v1m0 11v1m1-9v4m2-52v1m1 33v2m0 28v2m1-32v1m0 26v1m1-29v1m1-14v1m0 34v1m1 2v1m1-33v2m1-8v2m0 24v1m1-4v2m0 11v2m2-11v2m0 13v1"/><path stroke="#84bf41" d="M411 249v2m1 5v1m0 15v1m2-51v1m0 25v1m1-3v1m0 28v4m1-66v3m0 20v5m1-14v2m1-3v2m0 5v1m0 42v1m1-39v1m1-14v7m0 7v2m1-20v1m2 4v2m0 30v1m0 13v1m1-41v2m0 28v1m1-36v1m0 28v2m0 10v2m1-43v1m1-17v5m0 10v6m0 16v2m1-10v7m1-35v7m1 22v2m4-23v2m0 38v1m1-2v1m1-25v1m1 7v2m0 20v1m1-16v1m1-16v2m0 9v1m3-27v2m1-2v2m2-3v1m1 6v1m4-2v3m0 5v2m0 13v3m0 5v3m3-48v1m1 33v1m1 0v1m1-35v2m0 39v2m1-1v1m1-14v1m1 8v1m5-30v1m0 14v1m1-15v2m0 18v1m1 5v1m2-24v1m1-6v6m0 29v2m1-18v1m6-29v3m1-2v9m7 14v2m1-8v6m1-2v1m0 21v1m1-12v2m0 15v1m1-50v1m2 26v1m1 1v1m2 17v1m2 14v2m4-14v2m1-12v3m0 15v1m1-59v2m0 23v1m0 20v1m0 7v1m1-56v3m3 29v2m1-1v1m0 29v1m1-32v1m1-15v1m0 39v1m3-33v5m1 29v1m1-5v4m0 3v3m1-21v2"/><path stroke="#d0d828" d="M411 251v1m1 5v1m0 13v1m2-52v2m0 27v2m1 21v3m1-64v2m0 28v3m1-15v2m1-3v5m0 42v1m1-55v6m0 10v1m1-15v2m0 7v7m1-19v1m2 3v2m0 33v1m1-30v2m0 31v1m1-36v1m0 26v1m0 14v1m2-21v1m1-35v1m0 30v4m1-40v1m0 7v2m1 17v3m3-24v1m1 0v2m0 41v1m1-28v1m2 5v3m1 6v1m1-13v1m0 6v2m3-24v1m1-1v1m1-4v9m1-10v1m1 6v1m4 9v3m0 9v1m0 11v1m2-47v1m0 23v1m1 4v1m2 4v1m1-34v1m0 37v1m1 0v1m1-12v1m1 8v1m2-14v1m3-17v1m0 12v1m1-12v1m2 22v4m1-27v1m1 32v2m1-19v1m14-4v2m1-4v1m2 4v4m0 18v1m3-23v1m1 1v1m2 14v2m2 17v5m4-20v1m1-51v1m0 34v4m0 5v4m0 9v2m1-56v1m0 44v7m1-52v2m3 19v8m1 0v1m0 31v1m1-34v1m0 30v1m1-46v1m3 13v4m1-19v8m0 37v1m1-10v4m1-12v1"/><path stroke="#e02c20" d="M411 259v6m6 7v2m2-63v1m1 1v1m6 20v2m0 6v4m10-18v2m1-9v4m6 6v6m0 3v1m0 3v7m4-36v4m4 16v10m1-2v1m0 13v2m8-43v2m1 9v5m1-20v2m4-3v2m4 37v3m8-38v7m1-5v2m11 28v3m0 3v3m12-30v1m5 52v1m1-3v4m5-66v4"/><path stroke="#10b0a0" d="M411 275v1m1-24v1m0 22v1m1-23v5m0 1v5m1-19v1m0 19v1m1-55v2m0 30v1m3-22v1m0 13v1m1 3v1m1 2v1m1-20v1m0 20v4m1-23v1m1-15v1m0 19v2m0 21v1m0 18v1m1-64v1m0 26v2m0 17v2m1-35v1m1 0v1m0 37v2m1-26v6m6-25v1m1 36v1m1-22v1m0 20v1m3-5v1m0 10v1m1-33v1m0 16v1m3-33v1m1-4v3m2 6v2m1 3v1m2-1v1m4 6v1m1-23v1m2 29v1m2 13v3m1-23v1m1 8v1m1-20v1m1 12v1m3-23v1m0 19v1m1-22v2m1 31v1m2-23v1m1-13v1m0 11v1m0 22v2m1-17v2m2-8v2m1-2v1m2-20v5m1 3v2m4 5v3m3 1v3m1-19v16m0 21v2m1-5v1m1-20v1m1 19v2m0 6v2m2-47v1m0 31v5m2-14v1m2 27v1m1 13v1m1-18v10m1-15v15m1-22v2m1-38v1m1 54v3m0 6v3m1-5v1m1-35v1m0 14v1m0 13v1m1-12v2m1-49v3m0 6v5m1-12v1m1 3v8m0 23v1m0 25v2m1-29v1m1-2v1m1-14v2m1 33v2m0 7v1m1-43v3m0 2v3m1-32v1m0 17v3m0 27v3m1-5v1m0 9v1m2-7v2m0 9v2"/><path stroke="#10b0b2" d="M411 276v1m1-26v1m0 24v1m1-26v2m0 11v2m1-22v1m0 21v2m0 8v3m1-38v2m3-22v1m0 15v1m1 28v5m1-27v1m1-20v1m0 17v2m0 5v1m1-38v1m0 13v2m1-18v1m0 22v2m0 18v1m0 20v1m1-36v1m0 12v4m1-34v1m1 0v1m0 40v2m0 9v1m5-9v2m1-59v3m1 7v1m0 34v10m1-10v1m1-1v1m1-20v1m1 24v1m1-9v1m0 7v2m1-33v1m0 18v1m3-36v2m1-6v3m2 11v3m1 1v1m2-4v2m4 6v1m1 5v1m1 2v1m1-2v1m4 2v1m1-18v1m4-12v1m1-3v2m0 27v1m1 6v1m2-23v1m1-15v1m0 13v2m1 4v1m1-25v1m1 16v2m1-1v1m2-14v3m4 13v1m1-4v10m1-3v3m2-12v3m1-19v3m0 39v1m1-5v1m1-23v2m1 22v6m1-43v1m1-2v1m0 28v2m0 5v2m2-19v3m2 29v1m1 7v5m3-18v1m1 20v1m1-70v3m0 56v6m1-1v3m1-37v1m0 12v1m0 15v1m1-14v1m1-44v6m0 5v3m2-15v4m0 32v1m0 23v1m1-26v1m1-2v1m1-13v3m0 28v1m1-56v3m0 53v1m0 10v1m1-46v2m0 8v2m1-33v2m0 13v2m0 33v4m1-8v2m0 5v2m2-4v2m0 5v2"/><path stroke="#15abcc" d="M411 277v2m1-34v2m0 1v3m0 26v1m1-40v2m0 8v3m0 15v2m1-26v2m0 24v8m1-36v1m3-3v1m1 2v1m0 22v2m0 5v3m1-29v1m1-20v1m0 15v1m0 8v1m1-40v1m0 16v1m0 32v1m1-27v2m0 15v1m2-32v1m1 44v9m4-56v4m0 51v1m1-10v2m1-8v5m0 1v2m1-46v2m0 17v15m0 10v2m1-31v1m0 17v1m1-19v1m0 17v1m2 4v2m1-7v7m1-32v1m0 20v2m1-16v4m2-28v2m3 13v5m1-3v2m2-21v2m0 12v1m4 7v1m2 8v1m1-25v1m0 22v1m4-31v1m0 32v1m1-16v2m1 10v1m3-26v1m1-4v2m3 15v1m1-18v1m0 17v1m1 2v1m2-9v2m1 0v1m2-10v2m4 12v2m2-2v3m1 2v6m1-20v3m1 27v1m1-5v1m1-27v3m2 29v1m1-43v1m0 25v2m0 9v1m1-18v1m1-6v3m2 33v2m2-34v2m2-24v1m0 48v1m1-48v1m0 23v10m0 3v1m0 28v1m2-2v1m1-37v1m0 9v2m0 17v1m1-16v1m1-29v1m0 31v2m2-51v2m0 37v1m0 21v1m1-62v1m0 37v1m1-2v1m1-11v3m0 24v1m1-49v1m0 48v1m0 12v1m1-48v1m0 12v2m1-23v3m0 39v5m1-11v5m2 0v5"/><path stroke="#189fd5" d="M412 247v1m0 30v1m1-39v8m0 20v2m1-30v2m1-10v8m3-27v1m0 25v1m1 2v1m0 19v2m0 10v2m1-30v1m1-20v1m0 13v1m0 10v1m1-42v1m0 18v2m0 18v1m0 12v1m1-26v1m0 37v1m7-64v7m2 37v3m0 8v3m1-47v1m0 14v2m0 27v2m1-32v1m0 15v1m1-1v1m1-17v1m1 19v2m2-31v1m1 5v2m1-26v1m0 21v4m1-26v2m3 20v4m3-24v6m0 2v4m0 32v1m1-2v1m3-25v1m1 6v1m2-23v1m0 22v1m4-29v1m0 30v1m1-13v2m4-18v1m1-4v1m1 39v1m2-22v2m1-21v1m0 19v1m1-2v3m1-22v1m0 26v1m1-29v1m0 12v2m1 0v2m1-2v1m7 4v2m1 1v4m1-17v3m1 31v1m1-5v1m1-33v5m2-9v1m0 38v2m1-41v1m0 22v2m0 12v2m1-43v1m0 21v1m1-23v14m0 2v2m1 39v1m1-2v2m2-37v1m2-21v2m0 47v1m1-30v5m0 14v2m0 25v1m3-36v2m0 5v2m0 20v1m1-18v1m1 2v2m0 2v3m2-14v2m1-41v9m0 29v1m1-2v1m1-9v3m0 19v2m1-47v2m0 17v7m0 21v1m0 14v1m1-51v2m0 15v2m1-28v3m0 47v3"/><path stroke="#1890d0" d="M413 270v2m1-37v5m4-29v2m0 27v2m0 6v1m1-6v1m0 17v1m0 14v1m1-30v1m1-20v1m0 11v1m0 12v1m1-22v2m0 14v2m0 14v2m1 11v1m7-67v2m2 42v2m0 14v3m1-49v1m0 11v2m0 31v3m1-34v2m0 11v2m1-16v1m0 14v1m1-15v1m1 16v2m2-37v8m0 27v1m1-24v2m0 10v2m1-35v1m0 17v3m7-14v2m0 37v1m1-21v1m0 18v2m3-42v1m0 13v1m1 6v1m1 2v1m1-26v1m0 13v1m3-20v1m1 1v2m1 18v4m1 5v1m4-32v1m1 41v1m2-21v1m1-23v1m0 21v1m1-9v6m1-18v1m0 24v1m1-27v2m0 8v2m1 1v1m1-1v1m7 3v2m1 0v3m1-17v4m1 35v1m1-5v2m1-43v8m2-3v1m0 23v14m1-38v2m0 36v1m1-43v1m0 18v2m2 36v1m1-1v2m2-41v2m1 6v1m1 1v3m0 19v2m0 15v2m1-52v3m0 21v2m0 22v1m3-33v5m0 24v1m1-21v1m1 10v3m1-23v3m0 11v1m0 14v6m1-27v1m1-3v1m1-2v2m1-8v4m0 14v1m1-43v2m0 11v4m0 7v3m0 17v1m1-54v2m0 16v1m0 34v6m1 4v2"/><path stroke="#2175c4" d="M413 272v3m4-62v1m1 32v2m2 0v1m1-20v1m0 24v1m1 11v1m9-41v4m0 31v1m1-38v2m0 27v2m1-19v1m1 4v2m0 7v2m1-13v1m0 12v1m1-13v1m3 16v8m1-54v1m0 20v1m0 14v2m1-36v1m0 14v2m8-15v4m0 18v1m0 21v1m0 7v1m3-50v1m0 11v1m2 9v1m1-27v2m0 15v2m0 3v1m3-25v7m1-4v2m1 20v3m4-27v1m2 40v2m0 5v2m2-29v3m1-3v2m1-18v7m1 11v2m10-11v2m1 0v2m1-20v6m2 37v1m2-44v2m1 4v1m0 20v2m1-22v2m0 35v2m1-44v1m0 14v3m2 39v2m1-1v4m2-46v1m1 4v4m1-3v5m0 24v2m1-41v4m0 26v1m0 20v1m3-2v6m1-28v1m0 17v1m1-4v2m0 9v2m1-43v7m0 15v14m1-20v2m1-4v2m1 9v2m1-17v5m0 5v4m1-40v4m0 3v4m0 14v3m0 13v1m1-51v1m0 13v2m0 32v3m0 6v2"/><path stroke="#2a5ab8" d="M413 275v4m4-68v2m2 31v2m1 3v1m0 14v6m1-15v2m1 10v2m3-58v3m6 21v1m0 24v1m1-11v3m2-10v7m1-10v1m0 10v1m1-11v2m4-31v1m0 17v2m1-16v2m0 7v3m0 29v2m8-47v3m0 4v3m0 14v1m0 23v7m3-48v2m0 6v3m1 7v1m1-27v3m0 25v1m1-27v1m0 19v3m5 4v8m3 9v2m1-48v2m1 34v1m1 8v5m3-25v1m1-26v3m0 1v3m1-2v3m0 14v3m3-22v3m7 8v2m1 0v2m3 26v2m2-44v1m1 4v1m1 1v2m0 9v3m0 23v2m1-36v5m2 44v1m1 2v3m2-51v2m1 3v2m1-5v6m0 31v4m0 2v1m1-50v2m0 50v1m4-25v2m0 19v2m0 3v3m1-10v9m1-51v1m0 4v5m2 16v2m0 7v2m1-8v6m1-9v4m1-32v3m0 21v3m0 8v2m1-47v2m0 6v3m0 45v2"/><path stroke="#d82020" d="M417 264v8m3-61v2m6 23v6m2 26v1m8-48v7m7 9v3m4-29v4m5 29v4m0 6v3m8-46v5m1-5v3m0 9v4m1-16v1m17 2v3m11 33v3m3-29v10m14 46v1m6-51v5m1-24v3m0 6v7"/><path stroke="#2a4ab0" d="M419 246v1m1 3v1m0 9v4m0 6v5m1-18v9m0 4v3m1-4v1m4-59v3m5-3v3m0 22v3m1-5v3m0 10v3m3-9v2m0 6v2m1-8v4m4-34v1m0 14v2m1-12v7m0 31v1m8-46v1m0 10v3m0 9v2m3-15v6m1 8v2m1 1v1m1-28v2m7 48v1m1-7v2m2-9v1m6-30v14m2-22v3m1-3v3m7-3v1m0 12v1m4 32v3m2-46v3m1 2v2m1 1v9m0 28v3m3 11v3m3-51v2m1 3v2m1-11v4m0 45v2m1 0v3m4-33v2m0 5v2m0 23v3m1-43v2m3 25v2m3-10v1m1-36v6m0 50v1"/><path stroke="#2a3aa8" d="M419 247v4m1 7v2m1 15v3m1-8v3m9-34v3m1-5v10m3-4v6m5-32v11m0 30v4m9-37v9m4-13v1m0 11v2m1-11v3m0 8v3m8 20v3m3-12v2m16-39v2m0 4v3m4 39v3m2-46v9m1-5v9m7-9v4m3 37v10m4-28v5m1-13v1m0 11v2m7 25v3"/><path stroke="#2931a1" d="M422 273v5m31-56v11m1-6v8m10 18v3m1-1v5m17-49v3m13-3v3m0 1v6m1-10v3m7 31v3m7 30v2"/><path stroke="#c81c1c" d="M428 269v7m24-28v4m27-41v3m14-3v9m21 7v11"/></g><path d="M493.5 291.1 L492.8 279.3 L491.9 267.4 L491.1 257.9 L490 267.4 L488.8 269.8 L487.6 268.6 L485.9 263.9 L484.5 255.6 L482.8 248.5 L481.2 241.3 L479.3 233 L477.4 225.9 L475.7 223.6 L474.1 227.1 L472.2 234.2 L471.2 241 L470.6 250 L470 258.9 L468.7 261.6 L466.9 262.3 L465.7 261 L465.1 253.6 L464 254.9 L462.9 261.6 L462 258.9 L461.3 256.2 L460.2 258.3 L459.3 256.9 L458.3 258.9 L457.3 262.3 L456.6 258.9 L455.2 257.6 L453.9 258.9 L453.2 257.6 L451.9 260.3 L451.2 262.3 L450.3 268.4 L449.5 266.3 L448.9 262.3 L448.2 254.2 L447.8 246.2 L447.2 239.4 L446.5 235.4 L445.8 236.1 L444.9 240.8 L444.1 246.5 L443.1 251.5 L441.9 256 L440.6 260.5 L439.3 264.4 L438 266.3 L436.1 268.8 L434.2 271.4 L432.2 273.3 L430.3 274.6 L427.7 275.6 L425.2 276.5 L422.6 277.2 L418.8 277.4 L414.9 277.6 L411.1 277.8 L410.5 277.8 L410.5 293.7 L493.9 293.7 L493.5 291.1ZM515.3 275 L513.8 275 L512.8 277 L511.5 280 L511.3 293.7 L515.3 293.7 L515.3 275Z" fill="none" stroke="#fff" stroke-width="4" stroke-linejoin="round"/><path d="M493.5 291.1 L492.8 279.3 L491.9 267.4 L491.1 257.9 L490 267.4 L488.8 269.8 L487.6 268.6 L485.9 263.9 L484.5 255.6 L482.8 248.5 L481.2 241.3 L479.3 233 L477.4 225.9 L475.7 223.6 L474.1 227.1 L472.2 234.2 L471.2 241 L470.6 250 L470 258.9 L468.7 261.6 L466.9 262.3 L465.7 261 L465.1 253.6 L464 254.9 L462.9 261.6 L462 258.9 L461.3 256.2 L460.2 258.3 L459.3 256.9 L458.3 258.9 L457.3 262.3 L456.6 258.9 L455.2 257.6 L453.9 258.9 L453.2 257.6 L451.9 260.3 L451.2 262.3 L450.3 268.4 L449.5 266.3 L448.9 262.3 L448.2 254.2 L447.8 246.2 L447.2 239.4 L446.5 235.4 L445.8 236.1 L444.9 240.8 L444.1 246.5 L443.1 251.5 L441.9 256 L440.6 260.5 L439.3 264.4 L438 266.3 L436.1 268.8 L434.2 271.4 L432.2 273.3 L430.3 274.6 L427.7 275.6 L425.2 276.5 L422.6 277.2 L418.8 277.4 L414.9 277.6 L411.1 277.8 L410.5 277.8 L410.5 293.7 L493.9 293.7 L493.5 291.1ZM515.3 275 L513.8 275 L512.8 277 L511.5 280 L511.3 293.7 L515.3 293.7 L515.3 275Z" fill="#b4b4b4" stroke="#000" stroke-width="0.9" stroke-linejoin="round"/><text x="72.8" y="9.9" text-anchor="middle" style="font-family:'Liberation Sans',sans-serif;font-size:5.9px" fill="#222" stroke="#222" stroke-width="0.15">U phase DR</text><rect x="21.2" y="13.8" width="103.2" height="81" fill="none" stroke="#444" stroke-width="0.45"/><path d="M21.2 13.8h1.5" stroke="#222" stroke-width="0.5"/><text x="18.6" y="15.9" text-anchor="end" style="font-family:'Liberation Serif',serif;font-size:5px;font-weight:bold" fill="#111">0</text><path d="M21.2 27.3h1.5" stroke="#222" stroke-width="0.5"/><text x="18.6" y="29.4" text-anchor="end" style="font-family:'Liberation Serif',serif;font-size:5px;font-weight:bold" fill="#111">-1</text><path d="M21.2 40.8h1.5" stroke="#222" stroke-width="0.5"/><text x="18.6" y="42.9" text-anchor="end" style="font-family:'Liberation Serif',serif;font-size:5px;font-weight:bold" fill="#111">-2</text><path d="M21.2 54.3h1.5" stroke="#222" stroke-width="0.5"/><text x="18.6" y="56.4" text-anchor="end" style="font-family:'Liberation Serif',serif;font-size:5px;font-weight:bold" fill="#111">-3</text><path d="M21.2 67.8h1.5" stroke="#222" stroke-width="0.5"/><text x="18.6" y="69.9" text-anchor="end" style="font-family:'Liberation Serif',serif;font-size:5px;font-weight:bold" fill="#111">-4</text><path d="M21.2 81.3h1.5" stroke="#222" stroke-width="0.5"/><text x="18.6" y="83.4" text-anchor="end" style="font-family:'Liberation Serif',serif;font-size:5px;font-weight:bold" fill="#111">-5</text><path d="M21.2 94.8h1.5" stroke="#222" stroke-width="0.5"/><text x="18.6" y="96.9" text-anchor="end" style="font-family:'Liberation Serif',serif;font-size:5px;font-weight:bold" fill="#111">-6</text><path d="M21.2 94.8v-1.5" stroke="#222" stroke-width="0.5"/><text x="21.2" y="102.8" text-anchor="middle" style="font-family:'Liberation Serif',serif;font-size:5.1px;font-weight:bold" fill="#111">140</text><path d="M47 94.8v-1.5" stroke="#222" stroke-width="0.5"/><text x="47" y="102.8" text-anchor="middle" style="font-family:'Liberation Serif',serif;font-size:5.1px;font-weight:bold" fill="#111">142</text><path d="M72.8 94.8v-1.5" stroke="#222" stroke-width="0.5"/><text x="72.8" y="102.8" text-anchor="middle" style="font-family:'Liberation Serif',serif;font-size:5.1px;font-weight:bold" fill="#111">144</text><path d="M98.6 94.8v-1.5" stroke="#222" stroke-width="0.5"/><text x="98.6" y="102.8" text-anchor="middle" style="font-family:'Liberation Serif',serif;font-size:5.1px;font-weight:bold" fill="#111">146</text><path d="M124.4 94.8v-1.5" stroke="#222" stroke-width="0.5"/><text x="124.4" y="102.8" text-anchor="middle" style="font-family:'Liberation Serif',serif;font-size:5.1px;font-weight:bold" fill="#111">148</text><text x="22.9" y="93.8" style="font-family:'Liberation Serif',serif;font-size:7px;font-weight:bold" fill="#111">(a)</text><text transform="translate(9.6 54.3) rotate(-90)" text-anchor="middle" style="font-family:'Liberation Sans',sans-serif;font-size:5px" fill="#111" stroke="#111" stroke-width="0.18">Depth (km)</text><rect x="21.2" y="112.6" width="103.2" height="81" fill="none" stroke="#444" stroke-width="0.45"/><path d="M21.2 112.6h1.5" stroke="#222" stroke-width="0.5"/><text x="18.6" y="114.7" text-anchor="end" style="font-family:'Liberation Serif',serif;font-size:5px;font-weight:bold" fill="#111">0</text><path d="M21.2 126.1h1.5" stroke="#222" stroke-width="0.5"/><text x="18.6" y="128.2" text-anchor="end" style="font-family:'Liberation Serif',serif;font-size:5px;font-weight:bold" fill="#111">-1</text><path d="M21.2 139.6h1.5" stroke="#222" stroke-width="0.5"/><text x="18.6" y="141.7" text-anchor="end" style="font-family:'Liberation Serif',serif;font-size:5px;font-weight:bold" fill="#111">-2</text><path d="M21.2 153.1h1.5" stroke="#222" stroke-width="0.5"/><text x="18.6" y="155.2" text-anchor="end" style="font-family:'Liberation Serif',serif;font-size:5px;font-weight:bold" fill="#111">-3</text><path d="M21.2 166.6h1.5" stroke="#222" stroke-width="0.5"/><text x="18.6" y="168.7" text-anchor="end" style="font-family:'Liberation Serif',serif;font-size:5px;font-weight:bold" fill="#111">-4</text><path d="M21.2 180.1h1.5" stroke="#222" stroke-width="0.5"/><text x="18.6" y="182.2" text-anchor="end" style="font-family:'Liberation Serif',serif;font-size:5px;font-weight:bold" fill="#111">-5</text><path d="M21.2 193.6h1.5" stroke="#222" stroke-width="0.5"/><text x="18.6" y="195.7" text-anchor="end" style="font-family:'Liberation Serif',serif;font-size:5px;font-weight:bold" fill="#111">-6</text><path d="M21.2 193.6v-1.5" stroke="#222" stroke-width="0.5"/><text x="21.2" y="201.6" text-anchor="middle" style="font-family:'Liberation Serif',serif;font-size:5.1px;font-weight:bold" fill="#111">140</text><path d="M47 193.6v-1.5" stroke="#222" stroke-width="0.5"/><text x="47" y="201.6" text-anchor="middle" style="font-family:'Liberation Serif',serif;font-size:5.1px;font-weight:bold" fill="#111">142</text><path d="M72.8 193.6v-1.5" stroke="#222" stroke-width="0.5"/><text x="72.8" y="201.6" text-anchor="middle" style="font-family:'Liberation Serif',serif;font-size:5.1px;font-weight:bold" fill="#111">144</text><path d="M98.6 193.6v-1.5" stroke="#222" stroke-width="0.5"/><text x="98.6" y="201.6" text-anchor="middle" style="font-family:'Liberation Serif',serif;font-size:5.1px;font-weight:bold" fill="#111">146</text><path d="M124.4 193.6v-1.5" stroke="#222" stroke-width="0.5"/><text x="124.4" y="201.6" text-anchor="middle" style="font-family:'Liberation Serif',serif;font-size:5.1px;font-weight:bold" fill="#111">148</text><text x="22.9" y="192.6" style="font-family:'Liberation Serif',serif;font-size:7px;font-weight:bold" fill="#111">(b)</text><text transform="translate(9.6 153.1) rotate(-90)" text-anchor="middle" style="font-family:'Liberation Sans',sans-serif;font-size:5px" fill="#111" stroke="#111" stroke-width="0.18">Depth (km)</text><rect x="21.2" y="211.2" width="103.2" height="81" fill="none" stroke="#444" stroke-width="0.45"/><path d="M21.2 211.2h1.5" stroke="#222" stroke-width="0.5"/><text x="18.6" y="213.3" text-anchor="end" style="font-family:'Liberation Serif',serif;font-size:5px;font-weight:bold" fill="#111">0</text><path d="M21.2 224.7h1.5" stroke="#222" stroke-width="0.5"/><text x="18.6" y="226.8" text-anchor="end" style="font-family:'Liberation Serif',serif;font-size:5px;font-weight:bold" fill="#111">-1</text><path d="M21.2 238.2h1.5" stroke="#222" stroke-width="0.5"/><text x="18.6" y="240.3" text-anchor="end" style="font-family:'Liberation Serif',serif;font-size:5px;font-weight:bold" fill="#111">-2</text><path d="M21.2 251.7h1.5" stroke="#222" stroke-width="0.5"/><text x="18.6" y="253.8" text-anchor="end" style="font-family:'Liberation Serif',serif;font-size:5px;font-weight:bold" fill="#111">-3</text><path d="M21.2 265.2h1.5" stroke="#222" stroke-width="0.5"/><text x="18.6" y="267.3" text-anchor="end" style="font-family:'Liberation Serif',serif;font-size:5px;font-weight:bold" fill="#111">-4</text><path d="M21.2 278.7h1.5" stroke="#222" stroke-width="0.5"/><text x="18.6" y="280.8" text-anchor="end" style="font-family:'Liberation Serif',serif;font-size:5px;font-weight:bold" fill="#111">-5</text><path d="M21.2 292.2h1.5" stroke="#222" stroke-width="0.5"/><text x="18.6" y="294.3" text-anchor="end" style="font-family:'Liberation Serif',serif;font-size:5px;font-weight:bold" fill="#111">-6</text><path d="M21.2 292.2v-1.5" stroke="#222" stroke-width="0.5"/><text x="21.2" y="300.2" text-anchor="middle" style="font-family:'Liberation Serif',serif;font-size:5.1px;font-weight:bold" fill="#111">140</text><path d="M47 292.2v-1.5" stroke="#222" stroke-width="0.5"/><text x="47" y="300.2" text-anchor="middle" style="font-family:'Liberation Serif',serif;font-size:5.1px;font-weight:bold" fill="#111">142</text><path d="M72.8 292.2v-1.5" stroke="#222" stroke-width="0.5"/><text x="72.8" y="300.2" text-anchor="middle" style="font-family:'Liberation Serif',serif;font-size:5.1px;font-weight:bold" fill="#111">144</text><path d="M98.6 292.2v-1.5" stroke="#222" stroke-width="0.5"/><text x="98.6" y="300.2" text-anchor="middle" style="font-family:'Liberation Serif',serif;font-size:5.1px;font-weight:bold" fill="#111">146</text><path d="M124.4 292.2v-1.5" stroke="#222" stroke-width="0.5"/><text x="124.4" y="300.2" text-anchor="middle" style="font-family:'Liberation Serif',serif;font-size:5.1px;font-weight:bold" fill="#111">148</text><text x="22.9" y="291.2" style="font-family:'Liberation Serif',serif;font-size:7px;font-weight:bold" fill="#111">(c)</text><text transform="translate(9.6 251.7) rotate(-90)" text-anchor="middle" style="font-family:'Liberation Sans',sans-serif;font-size:5px" fill="#111" stroke="#111" stroke-width="0.18">Depth (km)</text><text x="72.8" y="307" text-anchor="middle" style="font-family:'Liberation Serif',serif;font-size:4.8px;font-weight:bold" fill="#111">Longitude (°E)</text><text x="221.4" y="9.9" text-anchor="middle" style="font-family:'Liberation Sans',sans-serif;font-size:5.9px" fill="#222" stroke="#222" stroke-width="0.15">U phase DR-SE</text><rect x="166.7" y="13.8" width="103.4" height="81" fill="none" stroke="#444" stroke-width="0.45"/><path d="M166.7 13.8h1.5" stroke="#222" stroke-width="0.5"/><text x="164.1" y="15.9" text-anchor="end" style="font-family:'Liberation Serif',serif;font-size:5px;font-weight:bold" fill="#111">0</text><path d="M166.7 27.3h1.5" stroke="#222" stroke-width="0.5"/><text x="164.1" y="29.4" text-anchor="end" style="font-family:'Liberation Serif',serif;font-size:5px;font-weight:bold" fill="#111">-1</text><path d="M166.7 40.8h1.5" stroke="#222" stroke-width="0.5"/><text x="164.1" y="42.9" text-anchor="end" style="font-family:'Liberation Serif',serif;font-size:5px;font-weight:bold" fill="#111">-2</text><path d="M166.7 54.3h1.5" stroke="#222" stroke-width="0.5"/><text x="164.1" y="56.4" text-anchor="end" style="font-family:'Liberation Serif',serif;font-size:5px;font-weight:bold" fill="#111">-3</text><path d="M166.7 67.8h1.5" stroke="#222" stroke-width="0.5"/><text x="164.1" y="69.9" text-anchor="end" style="font-family:'Liberation Serif',serif;font-size:5px;font-weight:bold" fill="#111">-4</text><path d="M166.7 81.3h1.5" stroke="#222" stroke-width="0.5"/><text x="164.1" y="83.4" text-anchor="end" style="font-family:'Liberation Serif',serif;font-size:5px;font-weight:bold" fill="#111">-5</text><path d="M166.7 94.8h1.5" stroke="#222" stroke-width="0.5"/><text x="164.1" y="96.9" text-anchor="end" style="font-family:'Liberation Serif',serif;font-size:5px;font-weight:bold" fill="#111">-6</text><path d="M166.7 94.8v-1.5" stroke="#222" stroke-width="0.5"/><text x="166.7" y="102.8" text-anchor="middle" style="font-family:'Liberation Serif',serif;font-size:5.1px;font-weight:bold" fill="#111">140</text><path d="M192.55 94.8v-1.5" stroke="#222" stroke-width="0.5"/><text x="192.55" y="102.8" text-anchor="middle" style="font-family:'Liberation Serif',serif;font-size:5.1px;font-weight:bold" fill="#111">142</text><path d="M218.4 94.8v-1.5" stroke="#222" stroke-width="0.5"/><text x="218.4" y="102.8" text-anchor="middle" style="font-family:'Liberation Serif',serif;font-size:5.1px;font-weight:bold" fill="#111">144</text><path d="M244.25 94.8v-1.5" stroke="#222" stroke-width="0.5"/><text x="244.25" y="102.8" text-anchor="middle" style="font-family:'Liberation Serif',serif;font-size:5.1px;font-weight:bold" fill="#111">146</text><path d="M270.1 94.8v-1.5" stroke="#222" stroke-width="0.5"/><text x="270.1" y="102.8" text-anchor="middle" style="font-family:'Liberation Serif',serif;font-size:5.1px;font-weight:bold" fill="#111">148</text><text x="168.4" y="93.8" style="font-family:'Liberation Serif',serif;font-size:7px;font-weight:bold" fill="#111">(d)</text><rect x="166.7" y="112.6" width="103.4" height="81" fill="none" stroke="#444" stroke-width="0.45"/><path d="M166.7 112.6h1.5" stroke="#222" stroke-width="0.5"/><text x="164.1" y="114.7" text-anchor="end" style="font-family:'Liberation Serif',serif;font-size:5px;font-weight:bold" fill="#111">0</text><path d="M166.7 126.1h1.5" stroke="#222" stroke-width="0.5"/><text x="164.1" y="128.2" text-anchor="end" style="font-family:'Liberation Serif',serif;font-size:5px;font-weight:bold" fill="#111">-1</text><path d="M166.7 139.6h1.5" stroke="#222" stroke-width="0.5"/><text x="164.1" y="141.7" text-anchor="end" style="font-family:'Liberation Serif',serif;font-size:5px;font-weight:bold" fill="#111">-2</text><path d="M166.7 153.1h1.5" stroke="#222" stroke-width="0.5"/><text x="164.1" y="155.2" text-anchor="end" style="font-family:'Liberation Serif',serif;font-size:5px;font-weight:bold" fill="#111">-3</text><path d="M166.7 166.6h1.5" stroke="#222" stroke-width="0.5"/><text x="164.1" y="168.7" text-anchor="end" style="font-family:'Liberation Serif',serif;font-size:5px;font-weight:bold" fill="#111">-4</text><path d="M166.7 180.1h1.5" stroke="#222" stroke-width="0.5"/><text x="164.1" y="182.2" text-anchor="end" style="font-family:'Liberation Serif',serif;font-size:5px;font-weight:bold" fill="#111">-5</text><path d="M166.7 193.6h1.5" stroke="#222" stroke-width="0.5"/><text x="164.1" y="195.7" text-anchor="end" style="font-family:'Liberation Serif',serif;font-size:5px;font-weight:bold" fill="#111">-6</text><path d="M166.7 193.6v-1.5" stroke="#222" stroke-width="0.5"/><text x="166.7" y="201.6" text-anchor="middle" style="font-family:'Liberation Serif',serif;font-size:5.1px;font-weight:bold" fill="#111">140</text><path d="M192.55 193.6v-1.5" stroke="#222" stroke-width="0.5"/><text x="192.55" y="201.6" text-anchor="middle" style="font-family:'Liberation Serif',serif;font-size:5.1px;font-weight:bold" fill="#111">142</text><path d="M218.4 193.6v-1.5" stroke="#222" stroke-width="0.5"/><text x="218.4" y="201.6" text-anchor="middle" style="font-family:'Liberation Serif',serif;font-size:5.1px;font-weight:bold" fill="#111">144</text><path d="M244.25 193.6v-1.5" stroke="#222" stroke-width="0.5"/><text x="244.25" y="201.6" text-anchor="middle" style="font-family:'Liberation Serif',serif;font-size:5.1px;font-weight:bold" fill="#111">146</text><path d="M270.1 193.6v-1.5" stroke="#222" stroke-width="0.5"/><text x="270.1" y="201.6" text-anchor="middle" style="font-family:'Liberation Serif',serif;font-size:5.1px;font-weight:bold" fill="#111">148</text><text x="168.4" y="192.6" style="font-family:'Liberation Serif',serif;font-size:7px;font-weight:bold" fill="#111">(e)</text><rect x="166.7" y="211.2" width="103.4" height="81" fill="none" stroke="#444" stroke-width="0.45"/><path d="M166.7 211.2h1.5" stroke="#222" stroke-width="0.5"/><text x="164.1" y="213.3" text-anchor="end" style="font-family:'Liberation Serif',serif;font-size:5px;font-weight:bold" fill="#111">0</text><path d="M166.7 224.7h1.5" stroke="#222" stroke-width="0.5"/><text x="164.1" y="226.8" text-anchor="end" style="font-family:'Liberation Serif',serif;font-size:5px;font-weight:bold" fill="#111">-1</text><path d="M166.7 238.2h1.5" stroke="#222" stroke-width="0.5"/><text x="164.1" y="240.3" text-anchor="end" style="font-family:'Liberation Serif',serif;font-size:5px;font-weight:bold" fill="#111">-2</text><path d="M166.7 251.7h1.5" stroke="#222" stroke-width="0.5"/><text x="164.1" y="253.8" text-anchor="end" style="font-family:'Liberation Serif',serif;font-size:5px;font-weight:bold" fill="#111">-3</text><path d="M166.7 265.2h1.5" stroke="#222" stroke-width="0.5"/><text x="164.1" y="267.3" text-anchor="end" style="font-family:'Liberation Serif',serif;font-size:5px;font-weight:bold" fill="#111">-4</text><path d="M166.7 278.7h1.5" stroke="#222" stroke-width="0.5"/><text x="164.1" y="280.8" text-anchor="end" style="font-family:'Liberation Serif',serif;font-size:5px;font-weight:bold" fill="#111">-5</text><path d="M166.7 292.2h1.5" stroke="#222" stroke-width="0.5"/><text x="164.1" y="294.3" text-anchor="end" style="font-family:'Liberation Serif',serif;font-size:5px;font-weight:bold" fill="#111">-6</text><path d="M166.7 292.2v-1.5" stroke="#222" stroke-width="0.5"/><text x="166.7" y="300.2" text-anchor="middle" style="font-family:'Liberation Serif',serif;font-size:5.1px;font-weight:bold" fill="#111">140</text><path d="M192.55 292.2v-1.5" stroke="#222" stroke-width="0.5"/><text x="192.55" y="300.2" text-anchor="middle" style="font-family:'Liberation Serif',serif;font-size:5.1px;font-weight:bold" fill="#111">142</text><path d="M218.4 292.2v-1.5" stroke="#222" stroke-width="0.5"/><text x="218.4" y="300.2" text-anchor="middle" style="font-family:'Liberation Serif',serif;font-size:5.1px;font-weight:bold" fill="#111">144</text><path d="M244.25 292.2v-1.5" stroke="#222" stroke-width="0.5"/><text x="244.25" y="300.2" text-anchor="middle" style="font-family:'Liberation Serif',serif;font-size:5.1px;font-weight:bold" fill="#111">146</text><path d="M270.1 292.2v-1.5" stroke="#222" stroke-width="0.5"/><text x="270.1" y="300.2" text-anchor="middle" style="font-family:'Liberation Serif',serif;font-size:5.1px;font-weight:bold" fill="#111">148</text><text x="168.4" y="291.2" style="font-family:'Liberation Serif',serif;font-size:7px;font-weight:bold" fill="#111">(f)</text><text x="218.4" y="307" text-anchor="middle" style="font-family:'Liberation Serif',serif;font-size:4.8px;font-weight:bold" fill="#111">Longitude (°E)</text><text x="341.1" y="9.9" text-anchor="middle" style="font-family:'Liberation Sans',sans-serif;font-size:5.9px" fill="#222" stroke="#222" stroke-width="0.15">U phase DR-SW</text><rect x="289.4" y="13.8" width="103.4" height="81" fill="none" stroke="#444" stroke-width="0.45"/><path d="M289.4 13.8h1.5" stroke="#222" stroke-width="0.5"/><text x="286.8" y="15.9" text-anchor="end" style="font-family:'Liberation Serif',serif;font-size:5px;font-weight:bold" fill="#111">0</text><path d="M289.4 27.3h1.5" stroke="#222" stroke-width="0.5"/><text x="286.8" y="29.4" text-anchor="end" style="font-family:'Liberation Serif',serif;font-size:5px;font-weight:bold" fill="#111">-1</text><path d="M289.4 40.8h1.5" stroke="#222" stroke-width="0.5"/><text x="286.8" y="42.9" text-anchor="end" style="font-family:'Liberation Serif',serif;font-size:5px;font-weight:bold" fill="#111">-2</text><path d="M289.4 54.3h1.5" stroke="#222" stroke-width="0.5"/><text x="286.8" y="56.4" text-anchor="end" style="font-family:'Liberation Serif',serif;font-size:5px;font-weight:bold" fill="#111">-3</text><path d="M289.4 67.8h1.5" stroke="#222" stroke-width="0.5"/><text x="286.8" y="69.9" text-anchor="end" style="font-family:'Liberation Serif',serif;font-size:5px;font-weight:bold" fill="#111">-4</text><path d="M289.4 81.3h1.5" stroke="#222" stroke-width="0.5"/><text x="286.8" y="83.4" text-anchor="end" style="font-family:'Liberation Serif',serif;font-size:5px;font-weight:bold" fill="#111">-5</text><path d="M289.4 94.8h1.5" stroke="#222" stroke-width="0.5"/><text x="286.8" y="96.9" text-anchor="end" style="font-family:'Liberation Serif',serif;font-size:5px;font-weight:bold" fill="#111">-6</text><path d="M289.4 94.8v-1.5" stroke="#222" stroke-width="0.5"/><text x="289.4" y="102.8" text-anchor="middle" style="font-family:'Liberation Serif',serif;font-size:5.1px;font-weight:bold" fill="#111">140</text><path d="M315.25 94.8v-1.5" stroke="#222" stroke-width="0.5"/><text x="315.25" y="102.8" text-anchor="middle" style="font-family:'Liberation Serif',serif;font-size:5.1px;font-weight:bold" fill="#111">142</text><path d="M341.1 94.8v-1.5" stroke="#222" stroke-width="0.5"/><text x="341.1" y="102.8" text-anchor="middle" style="font-family:'Liberation Serif',serif;font-size:5.1px;font-weight:bold" fill="#111">144</text><path d="M366.95 94.8v-1.5" stroke="#222" stroke-width="0.5"/><text x="366.95" y="102.8" text-anchor="middle" style="font-family:'Liberation Serif',serif;font-size:5.1px;font-weight:bold" fill="#111">146</text><path d="M392.8 94.8v-1.5" stroke="#222" stroke-width="0.5"/><text x="392.8" y="102.8" text-anchor="middle" style="font-family:'Liberation Serif',serif;font-size:5.1px;font-weight:bold" fill="#111">148</text><text x="291.1" y="93.8" style="font-family:'Liberation Serif',serif;font-size:7px;font-weight:bold" fill="#111">(g)</text><rect x="289.4" y="112.6" width="103.4" height="81" fill="none" stroke="#444" stroke-width="0.45"/><path d="M289.4 112.6h1.5" stroke="#222" stroke-width="0.5"/><text x="286.8" y="114.7" text-anchor="end" style="font-family:'Liberation Serif',serif;font-size:5px;font-weight:bold" fill="#111">0</text><path d="M289.4 126.1h1.5" stroke="#222" stroke-width="0.5"/><text x="286.8" y="128.2" text-anchor="end" style="font-family:'Liberation Serif',serif;font-size:5px;font-weight:bold" fill="#111">-1</text><path d="M289.4 139.6h1.5" stroke="#222" stroke-width="0.5"/><text x="286.8" y="141.7" text-anchor="end" style="font-family:'Liberation Serif',serif;font-size:5px;font-weight:bold" fill="#111">-2</text><path d="M289.4 153.1h1.5" stroke="#222" stroke-width="0.5"/><text x="286.8" y="155.2" text-anchor="end" style="font-family:'Liberation Serif',serif;font-size:5px;font-weight:bold" fill="#111">-3</text><path d="M289.4 166.6h1.5" stroke="#222" stroke-width="0.5"/><text x="286.8" y="168.7" text-anchor="end" style="font-family:'Liberation Serif',serif;font-size:5px;font-weight:bold" fill="#111">-4</text><path d="M289.4 180.1h1.5" stroke="#222" stroke-width="0.5"/><text x="286.8" y="182.2" text-anchor="end" style="font-family:'Liberation Serif',serif;font-size:5px;font-weight:bold" fill="#111">-5</text><path d="M289.4 193.6h1.5" stroke="#222" stroke-width="0.5"/><text x="286.8" y="195.7" text-anchor="end" style="font-family:'Liberation Serif',serif;font-size:5px;font-weight:bold" fill="#111">-6</text><path d="M289.4 193.6v-1.5" stroke="#222" stroke-width="0.5"/><text x="289.4" y="201.6" text-anchor="middle" style="font-family:'Liberation Serif',serif;font-size:5.1px;font-weight:bold" fill="#111">140</text><path d="M315.25 193.6v-1.5" stroke="#222" stroke-width="0.5"/><text x="315.25" y="201.6" text-anchor="middle" style="font-family:'Liberation Serif',serif;font-size:5.1px;font-weight:bold" fill="#111">142</text><path d="M341.1 193.6v-1.5" stroke="#222" stroke-width="0.5"/><text x="341.1" y="201.6" text-anchor="middle" style="font-family:'Liberation Serif',serif;font-size:5.1px;font-weight:bold" fill="#111">144</text><path d="M366.95 193.6v-1.5" stroke="#222" stroke-width="0.5"/><text x="366.95" y="201.6" text-anchor="middle" style="font-family:'Liberation Serif',serif;font-size:5.1px;font-weight:bold" fill="#111">146</text><path d="M392.8 193.6v-1.5" stroke="#222" stroke-width="0.5"/><text x="392.8" y="201.6" text-anchor="middle" style="font-family:'Liberation Serif',serif;font-size:5.1px;font-weight:bold" fill="#111">148</text><text x="291.1" y="192.6" style="font-family:'Liberation Serif',serif;font-size:7px;font-weight:bold" fill="#111">(h)</text><rect x="289.4" y="211.2" width="103.4" height="81" fill="none" stroke="#444" stroke-width="0.45"/><path d="M289.4 211.2h1.5" stroke="#222" stroke-width="0.5"/><text x="286.8" y="213.3" text-anchor="end" style="font-family:'Liberation Serif',serif;font-size:5px;font-weight:bold" fill="#111">0</text><path d="M289.4 224.7h1.5" stroke="#222" stroke-width="0.5"/><text x="286.8" y="226.8" text-anchor="end" style="font-family:'Liberation Serif',serif;font-size:5px;font-weight:bold" fill="#111">-1</text><path d="M289.4 238.2h1.5" stroke="#222" stroke-width="0.5"/><text x="286.8" y="240.3" text-anchor="end" style="font-family:'Liberation Serif',serif;font-size:5px;font-weight:bold" fill="#111">-2</text><path d="M289.4 251.7h1.5" stroke="#222" stroke-width="0.5"/><text x="286.8" y="253.8" text-anchor="end" style="font-family:'Liberation Serif',serif;font-size:5px;font-weight:bold" fill="#111">-3</text><path d="M289.4 265.2h1.5" stroke="#222" stroke-width="0.5"/><text x="286.8" y="267.3" text-anchor="end" style="font-family:'Liberation Serif',serif;font-size:5px;font-weight:bold" fill="#111">-4</text><path d="M289.4 278.7h1.5" stroke="#222" stroke-width="0.5"/><text x="286.8" y="280.8" text-anchor="end" style="font-family:'Liberation Serif',serif;font-size:5px;font-weight:bold" fill="#111">-5</text><path d="M289.4 292.2h1.5" stroke="#222" stroke-width="0.5"/><text x="286.8" y="294.3" text-anchor="end" style="font-family:'Liberation Serif',serif;font-size:5px;font-weight:bold" fill="#111">-6</text><path d="M289.4 292.2v-1.5" stroke="#222" stroke-width="0.5"/><text x="289.4" y="300.2" text-anchor="middle" style="font-family:'Liberation Serif',serif;font-size:5.1px;font-weight:bold" fill="#111">140</text><path d="M315.25 292.2v-1.5" stroke="#222" stroke-width="0.5"/><text x="315.25" y="300.2" text-anchor="middle" style="font-family:'Liberation Serif',serif;font-size:5.1px;font-weight:bold" fill="#111">142</text><path d="M341.1 292.2v-1.5" stroke="#222" stroke-width="0.5"/><text x="341.1" y="300.2" text-anchor="middle" style="font-family:'Liberation Serif',serif;font-size:5.1px;font-weight:bold" fill="#111">144</text><path d="M366.95 292.2v-1.5" stroke="#222" stroke-width="0.5"/><text x="366.95" y="300.2" text-anchor="middle" style="font-family:'Liberation Serif',serif;font-size:5.1px;font-weight:bold" fill="#111">146</text><path d="M392.8 292.2v-1.5" stroke="#222" stroke-width="0.5"/><text x="392.8" y="300.2" text-anchor="middle" style="font-family:'Liberation Serif',serif;font-size:5.1px;font-weight:bold" fill="#111">148</text><text x="291.1" y="291.2" style="font-family:'Liberation Serif',serif;font-size:7px;font-weight:bold" fill="#111">(i)</text><text x="341.1" y="307" text-anchor="middle" style="font-family:'Liberation Serif',serif;font-size:4.8px;font-weight:bold" fill="#111">Longitude (°E)</text><text x="463" y="9.9" text-anchor="middle" style="font-family:'Liberation Sans',sans-serif;font-size:5.9px" fill="#222" stroke="#222" stroke-width="0.15">U phase SE-SW</text><rect x="411" y="13.8" width="104" height="81" fill="none" stroke="#444" stroke-width="0.45"/><path d="M411 13.8h1.5" stroke="#222" stroke-width="0.5"/><text x="408.4" y="15.9" text-anchor="end" style="font-family:'Liberation Serif',serif;font-size:5px;font-weight:bold" fill="#111">0</text><path d="M411 27.3h1.5" stroke="#222" stroke-width="0.5"/><text x="408.4" y="29.4" text-anchor="end" style="font-family:'Liberation Serif',serif;font-size:5px;font-weight:bold" fill="#111">-1</text><path d="M411 40.8h1.5" stroke="#222" stroke-width="0.5"/><text x="408.4" y="42.9" text-anchor="end" style="font-family:'Liberation Serif',serif;font-size:5px;font-weight:bold" fill="#111">-2</text><path d="M411 54.3h1.5" stroke="#222" stroke-width="0.5"/><text x="408.4" y="56.4" text-anchor="end" style="font-family:'Liberation Serif',serif;font-size:5px;font-weight:bold" fill="#111">-3</text><path d="M411 67.8h1.5" stroke="#222" stroke-width="0.5"/><text x="408.4" y="69.9" text-anchor="end" style="font-family:'Liberation Serif',serif;font-size:5px;font-weight:bold" fill="#111">-4</text><path d="M411 81.3h1.5" stroke="#222" stroke-width="0.5"/><text x="408.4" y="83.4" text-anchor="end" style="font-family:'Liberation Serif',serif;font-size:5px;font-weight:bold" fill="#111">-5</text><path d="M411 94.8h1.5" stroke="#222" stroke-width="0.5"/><text x="408.4" y="96.9" text-anchor="end" style="font-family:'Liberation Serif',serif;font-size:5px;font-weight:bold" fill="#111">-6</text><path d="M411 94.8v-1.5" stroke="#222" stroke-width="0.5"/><text x="411" y="102.8" text-anchor="middle" style="font-family:'Liberation Serif',serif;font-size:5.1px;font-weight:bold" fill="#111">140</text><path d="M437 94.8v-1.5" stroke="#222" stroke-width="0.5"/><text x="437" y="102.8" text-anchor="middle" style="font-family:'Liberation Serif',serif;font-size:5.1px;font-weight:bold" fill="#111">142</text><path d="M463 94.8v-1.5" stroke="#222" stroke-width="0.5"/><text x="463" y="102.8" text-anchor="middle" style="font-family:'Liberation Serif',serif;font-size:5.1px;font-weight:bold" fill="#111">144</text><path d="M489 94.8v-1.5" stroke="#222" stroke-width="0.5"/><text x="489" y="102.8" text-anchor="middle" style="font-family:'Liberation Serif',serif;font-size:5.1px;font-weight:bold" fill="#111">146</text><path d="M515 94.8v-1.5" stroke="#222" stroke-width="0.5"/><text x="515" y="102.8" text-anchor="middle" style="font-family:'Liberation Serif',serif;font-size:5.1px;font-weight:bold" fill="#111">148</text><text x="412.7" y="93.8" style="font-family:'Liberation Serif',serif;font-size:7px;font-weight:bold" fill="#111">(j)</text><rect x="411" y="112.6" width="104" height="81" fill="none" stroke="#444" stroke-width="0.45"/><path d="M411 112.6h1.5" stroke="#222" stroke-width="0.5"/><text x="408.4" y="114.7" text-anchor="end" style="font-family:'Liberation Serif',serif;font-size:5px;font-weight:bold" fill="#111">0</text><path d="M411 126.1h1.5" stroke="#222" stroke-width="0.5"/><text x="408.4" y="128.2" text-anchor="end" style="font-family:'Liberation Serif',serif;font-size:5px;font-weight:bold" fill="#111">-1</text><path d="M411 139.6h1.5" stroke="#222" stroke-width="0.5"/><text x="408.4" y="141.7" text-anchor="end" style="font-family:'Liberation Serif',serif;font-size:5px;font-weight:bold" fill="#111">-2</text><path d="M411 153.1h1.5" stroke="#222" stroke-width="0.5"/><text x="408.4" y="155.2" text-anchor="end" style="font-family:'Liberation Serif',serif;font-size:5px;font-weight:bold" fill="#111">-3</text><path d="M411 166.6h1.5" stroke="#222" stroke-width="0.5"/><text x="408.4" y="168.7" text-anchor="end" style="font-family:'Liberation Serif',serif;font-size:5px;font-weight:bold" fill="#111">-4</text><path d="M411 180.1h1.5" stroke="#222" stroke-width="0.5"/><text x="408.4" y="182.2" text-anchor="end" style="font-family:'Liberation Serif',serif;font-size:5px;font-weight:bold" fill="#111">-5</text><path d="M411 193.6h1.5" stroke="#222" stroke-width="0.5"/><text x="408.4" y="195.7" text-anchor="end" style="font-family:'Liberation Serif',serif;font-size:5px;font-weight:bold" fill="#111">-6</text><path d="M411 193.6v-1.5" stroke="#222" stroke-width="0.5"/><text x="411" y="201.6" text-anchor="middle" style="font-family:'Liberation Serif',serif;font-size:5.1px;font-weight:bold" fill="#111">140</text><path d="M437 193.6v-1.5" stroke="#222" stroke-width="0.5"/><text x="437" y="201.6" text-anchor="middle" style="font-family:'Liberation Serif',serif;font-size:5.1px;font-weight:bold" fill="#111">142</text><path d="M463 193.6v-1.5" stroke="#222" stroke-width="0.5"/><text x="463" y="201.6" text-anchor="middle" style="font-family:'Liberation Serif',serif;font-size:5.1px;font-weight:bold" fill="#111">144</text><path d="M489 193.6v-1.5" stroke="#222" stroke-width="0.5"/><text x="489" y="201.6" text-anchor="middle" style="font-family:'Liberation Serif',serif;font-size:5.1px;font-weight:bold" fill="#111">146</text><path d="M515 193.6v-1.5" stroke="#222" stroke-width="0.5"/><text x="515" y="201.6" text-anchor="middle" style="font-family:'Liberation Serif',serif;font-size:5.1px;font-weight:bold" fill="#111">148</text><text x="412.7" y="192.6" style="font-family:'Liberation Serif',serif;font-size:7px;font-weight:bold" fill="#111">(k)</text><rect x="411" y="211.2" width="104" height="81" fill="none" stroke="#444" stroke-width="0.45"/><path d="M411 211.2h1.5" stroke="#222" stroke-width="0.5"/><text x="408.4" y="213.3" text-anchor="end" style="font-family:'Liberation Serif',serif;font-size:5px;font-weight:bold" fill="#111">0</text><path d="M411 224.7h1.5" stroke="#222" stroke-width="0.5"/><text x="408.4" y="226.8" text-anchor="end" style="font-family:'Liberation Serif',serif;font-size:5px;font-weight:bold" fill="#111">-1</text><path d="M411 238.2h1.5" stroke="#222" stroke-width="0.5"/><text x="408.4" y="240.3" text-anchor="end" style="font-family:'Liberation Serif',serif;font-size:5px;font-weight:bold" fill="#111">-2</text><path d="M411 251.7h1.5" stroke="#222" stroke-width="0.5"/><text x="408.4" y="253.8" text-anchor="end" style="font-family:'Liberation Serif',serif;font-size:5px;font-weight:bold" fill="#111">-3</text><path d="M411 265.2h1.5" stroke="#222" stroke-width="0.5"/><text x="408.4" y="267.3" text-anchor="end" style="font-family:'Liberation Serif',serif;font-size:5px;font-weight:bold" fill="#111">-4</text><path d="M411 278.7h1.5" stroke="#222" stroke-width="0.5"/><text x="408.4" y="280.8" text-anchor="end" style="font-family:'Liberation Serif',serif;font-size:5px;font-weight:bold" fill="#111">-5</text><path d="M411 292.2h1.5" stroke="#222" stroke-width="0.5"/><text x="408.4" y="294.3" text-anchor="end" style="font-family:'Liberation Serif',serif;font-size:5px;font-weight:bold" fill="#111">-6</text><path d="M411 292.2v-1.5" stroke="#222" stroke-width="0.5"/><text x="411" y="300.2" text-anchor="middle" style="font-family:'Liberation Serif',serif;font-size:5.1px;font-weight:bold" fill="#111">140</text><path d="M437 292.2v-1.5" stroke="#222" stroke-width="0.5"/><text x="437" y="300.2" text-anchor="middle" style="font-family:'Liberation Serif',serif;font-size:5.1px;font-weight:bold" fill="#111">142</text><path d="M463 292.2v-1.5" stroke="#222" stroke-width="0.5"/><text x="463" y="300.2" text-anchor="middle" style="font-family:'Liberation Serif',serif;font-size:5.1px;font-weight:bold" fill="#111">144</text><path d="M489 292.2v-1.5" stroke="#222" stroke-width="0.5"/><text x="489" y="300.2" text-anchor="middle" style="font-family:'Liberation Serif',serif;font-size:5.1px;font-weight:bold" fill="#111">146</text><path d="M515 292.2v-1.5" stroke="#222" stroke-width="0.5"/><text x="515" y="300.2" text-anchor="middle" style="font-family:'Liberation Serif',serif;font-size:5.1px;font-weight:bold" fill="#111">148</text><text x="412.7" y="291.2" style="font-family:'Liberation Serif',serif;font-size:7px;font-weight:bold" fill="#111">(l)</text><text x="463" y="307" text-anchor="middle" style="font-family:'Liberation Serif',serif;font-size:4.8px;font-weight:bold" fill="#111">Longitude (°E)</text><defs><linearGradient id="g1" x1="0" y1="0" x2="0" y2="1"><stop offset="0" stop-color="#b87a10"/><stop offset="0.04" stop-color="#c86c20"/><stop offset="0.08" stop-color="#d86030"/><stop offset="0.12" stop-color="#e04858"/><stop offset="0.17" stop-color="#e83c70"/><stop offset="0.21" stop-color="#e83090"/><stop offset="0.25" stop-color="#e028b8"/><stop offset="0.29" stop-color="#d830d8"/><stop offset="0.33" stop-color="#d030e8"/><stop offset="0.38" stop-color="#b048f0"/><stop offset="0.42" stop-color="#a058f8"/><stop offset="0.46" stop-color="#8c68f0"/><stop offset="0.5" stop-color="#6878e8"/><stop offset="0.54" stop-color="#4880d8"/><stop offset="0.58" stop-color="#3088c8"/><stop offset="0.62" stop-color="#2090b0"/><stop offset="0.67" stop-color="#109a98"/><stop offset="0.71" stop-color="#10a088"/><stop offset="0.75" stop-color="#18a070"/><stop offset="0.79" stop-color="#20a058"/><stop offset="0.83" stop-color="#40a040"/><stop offset="0.88" stop-color="#609830"/><stop offset="0.92" stop-color="#7c9020"/><stop offset="0.96" stop-color="#988418"/><stop offset="1" stop-color="#b07810"/></linearGradient><linearGradient id="g2" x1="0" y1="0" x2="0" y2="1"><stop offset="0" stop-color="#28289a"/><stop offset="0.08" stop-color="#2a3aa8"/><stop offset="0.17" stop-color="#2a5ab8"/><stop offset="0.25" stop-color="#1890d0"/><stop offset="0.32" stop-color="#18a8d8"/><stop offset="0.36" stop-color="#10b0b8"/><stop offset="0.42" stop-color="#10b0a0"/><stop offset="0.47" stop-color="#28b070"/><stop offset="0.5" stop-color="#40b050"/><stop offset="0.54" stop-color="#88c040"/><stop offset="0.58" stop-color="#d0d828"/><stop offset="0.62" stop-color="#f8e010"/><stop offset="0.67" stop-color="#f0b020"/><stop offset="0.75" stop-color="#f07820"/><stop offset="0.83" stop-color="#e83820"/><stop offset="0.92" stop-color="#d82020"/><stop offset="1" stop-color="#b81818"/></linearGradient></defs><rect x="133.7" y="13.7" width="11.1" height="278.6" fill="url(#g1)" stroke="#555" stroke-width="0.5"/><rect x="522.3" y="83.35" width="10.6" height="139.3" fill="url(#g2)"/><rect x="522.3" y="13.7" width="10.6" height="278.6" fill="none" stroke="#555" stroke-width="0.5"/><path d="M144.8 13.7h-2.5M532.9 13.7h-2.5" stroke="#222" stroke-width="0.5"/><text x="147.1" y="15.7" style="font-family:'Liberation Serif',serif;font-size:6px" fill="#111" stroke="#111" stroke-width="0.15">360</text><text x="535.2" y="15.7" style="font-family:'Liberation Serif',serif;font-size:6px" fill="#111" stroke="#111" stroke-width="0.15">180</text><path d="M144.8 36.92h-2.5M532.9 36.92h-2.5" stroke="#222" stroke-width="0.5"/><text x="147.1" y="38.92" style="font-family:'Liberation Serif',serif;font-size:6px" fill="#111" stroke="#111" stroke-width="0.15">330</text><text x="535.2" y="38.92" style="font-family:'Liberation Serif',serif;font-size:6px" fill="#111" stroke="#111" stroke-width="0.15">150</text><path d="M144.8 60.13h-2.5M532.9 60.13h-2.5" stroke="#222" stroke-width="0.5"/><text x="147.1" y="62.13" style="font-family:'Liberation Serif',serif;font-size:6px" fill="#111" stroke="#111" stroke-width="0.15">300</text><text x="535.2" y="62.13" style="font-family:'Liberation Serif',serif;font-size:6px" fill="#111" stroke="#111" stroke-width="0.15">120</text><path d="M144.8 83.35h-2.5M532.9 83.35h-2.5" stroke="#222" stroke-width="0.5"/><text x="147.1" y="85.35" style="font-family:'Liberation Serif',serif;font-size:6px" fill="#111" stroke="#111" stroke-width="0.15">270</text><text x="535.2" y="85.35" style="font-family:'Liberation Serif',serif;font-size:6px" fill="#111" stroke="#111" stroke-width="0.15">90</text><path d="M144.8 106.57h-2.5M532.9 106.57h-2.5" stroke="#222" stroke-width="0.5"/><text x="147.1" y="108.57" style="font-family:'Liberation Serif',serif;font-size:6px" fill="#111" stroke="#111" stroke-width="0.15">240</text><text x="535.2" y="108.57" style="font-family:'Liberation Serif',serif;font-size:6px" fill="#111" stroke="#111" stroke-width="0.15">60</text><path d="M144.8 129.78h-2.5M532.9 129.78h-2.5" stroke="#222" stroke-width="0.5"/><text x="147.1" y="131.78" style="font-family:'Liberation Serif',serif;font-size:6px" fill="#111" stroke="#111" stroke-width="0.15">210</text><text x="535.2" y="131.78" style="font-family:'Liberation Serif',serif;font-size:6px" fill="#111" stroke="#111" stroke-width="0.15">30</text><path d="M144.8 153h-2.5M532.9 153h-2.5" stroke="#222" stroke-width="0.5"/><text x="147.1" y="155" style="font-family:'Liberation Serif',serif;font-size:6px" fill="#111" stroke="#111" stroke-width="0.15">180</text><text x="535.2" y="155" style="font-family:'Liberation Serif',serif;font-size:6px" fill="#111" stroke="#111" stroke-width="0.15">0</text><path d="M144.8 176.22h-2.5M532.9 176.22h-2.5" stroke="#222" stroke-width="0.5"/><text x="147.1" y="178.22" style="font-family:'Liberation Serif',serif;font-size:6px" fill="#111" stroke="#111" stroke-width="0.15">150</text><text x="535.2" y="178.22" style="font-family:'Liberation Serif',serif;font-size:6px" fill="#111" stroke="#111" stroke-width="0.15">-30</text><path d="M144.8 199.43h-2.5M532.9 199.43h-2.5" stroke="#222" stroke-width="0.5"/><text x="147.1" y="201.43" style="font-family:'Liberation Serif',serif;font-size:6px" fill="#111" stroke="#111" stroke-width="0.15">120</text><text x="535.2" y="201.43" style="font-family:'Liberation Serif',serif;font-size:6px" fill="#111" stroke="#111" stroke-width="0.15">-60</text><path d="M144.8 222.65h-2.5M532.9 222.65h-2.5" stroke="#222" stroke-width="0.5"/><text x="147.1" y="224.65" style="font-family:'Liberation Serif',serif;font-size:6px" fill="#111" stroke="#111" stroke-width="0.15">90</text><text x="535.2" y="224.65" style="font-family:'Liberation Serif',serif;font-size:6px" fill="#111" stroke="#111" stroke-width="0.15">-90</text><path d="M144.8 245.87h-2.5M532.9 245.87h-2.5" stroke="#222" stroke-width="0.5"/><text x="147.1" y="247.87" style="font-family:'Liberation Serif',serif;font-size:6px" fill="#111" stroke="#111" stroke-width="0.15">60</text><text x="535.2" y="247.87" style="font-family:'Liberation Serif',serif;font-size:6px" fill="#111" stroke="#111" stroke-width="0.15">-120</text><path d="M144.8 269.08h-2.5M532.9 269.08h-2.5" stroke="#222" stroke-width="0.5"/><text x="147.1" y="271.08" style="font-family:'Liberation Serif',serif;font-size:6px" fill="#111" stroke="#111" stroke-width="0.15">30</text><text x="535.2" y="271.08" style="font-family:'Liberation Serif',serif;font-size:6px" fill="#111" stroke="#111" stroke-width="0.15">-150</text><path d="M144.8 292.3h-2.5M532.9 292.3h-2.5" stroke="#222" stroke-width="0.5"/><text x="147.1" y="294.3" style="font-family:'Liberation Serif',serif;font-size:6px" fill="#111" stroke="#111" stroke-width="0.15">0</text><text x="535.2" y="294.3" style="font-family:'Liberation Serif',serif;font-size:6px" fill="#111" stroke="#111" stroke-width="0.15">-180</text></svg></body></html>
